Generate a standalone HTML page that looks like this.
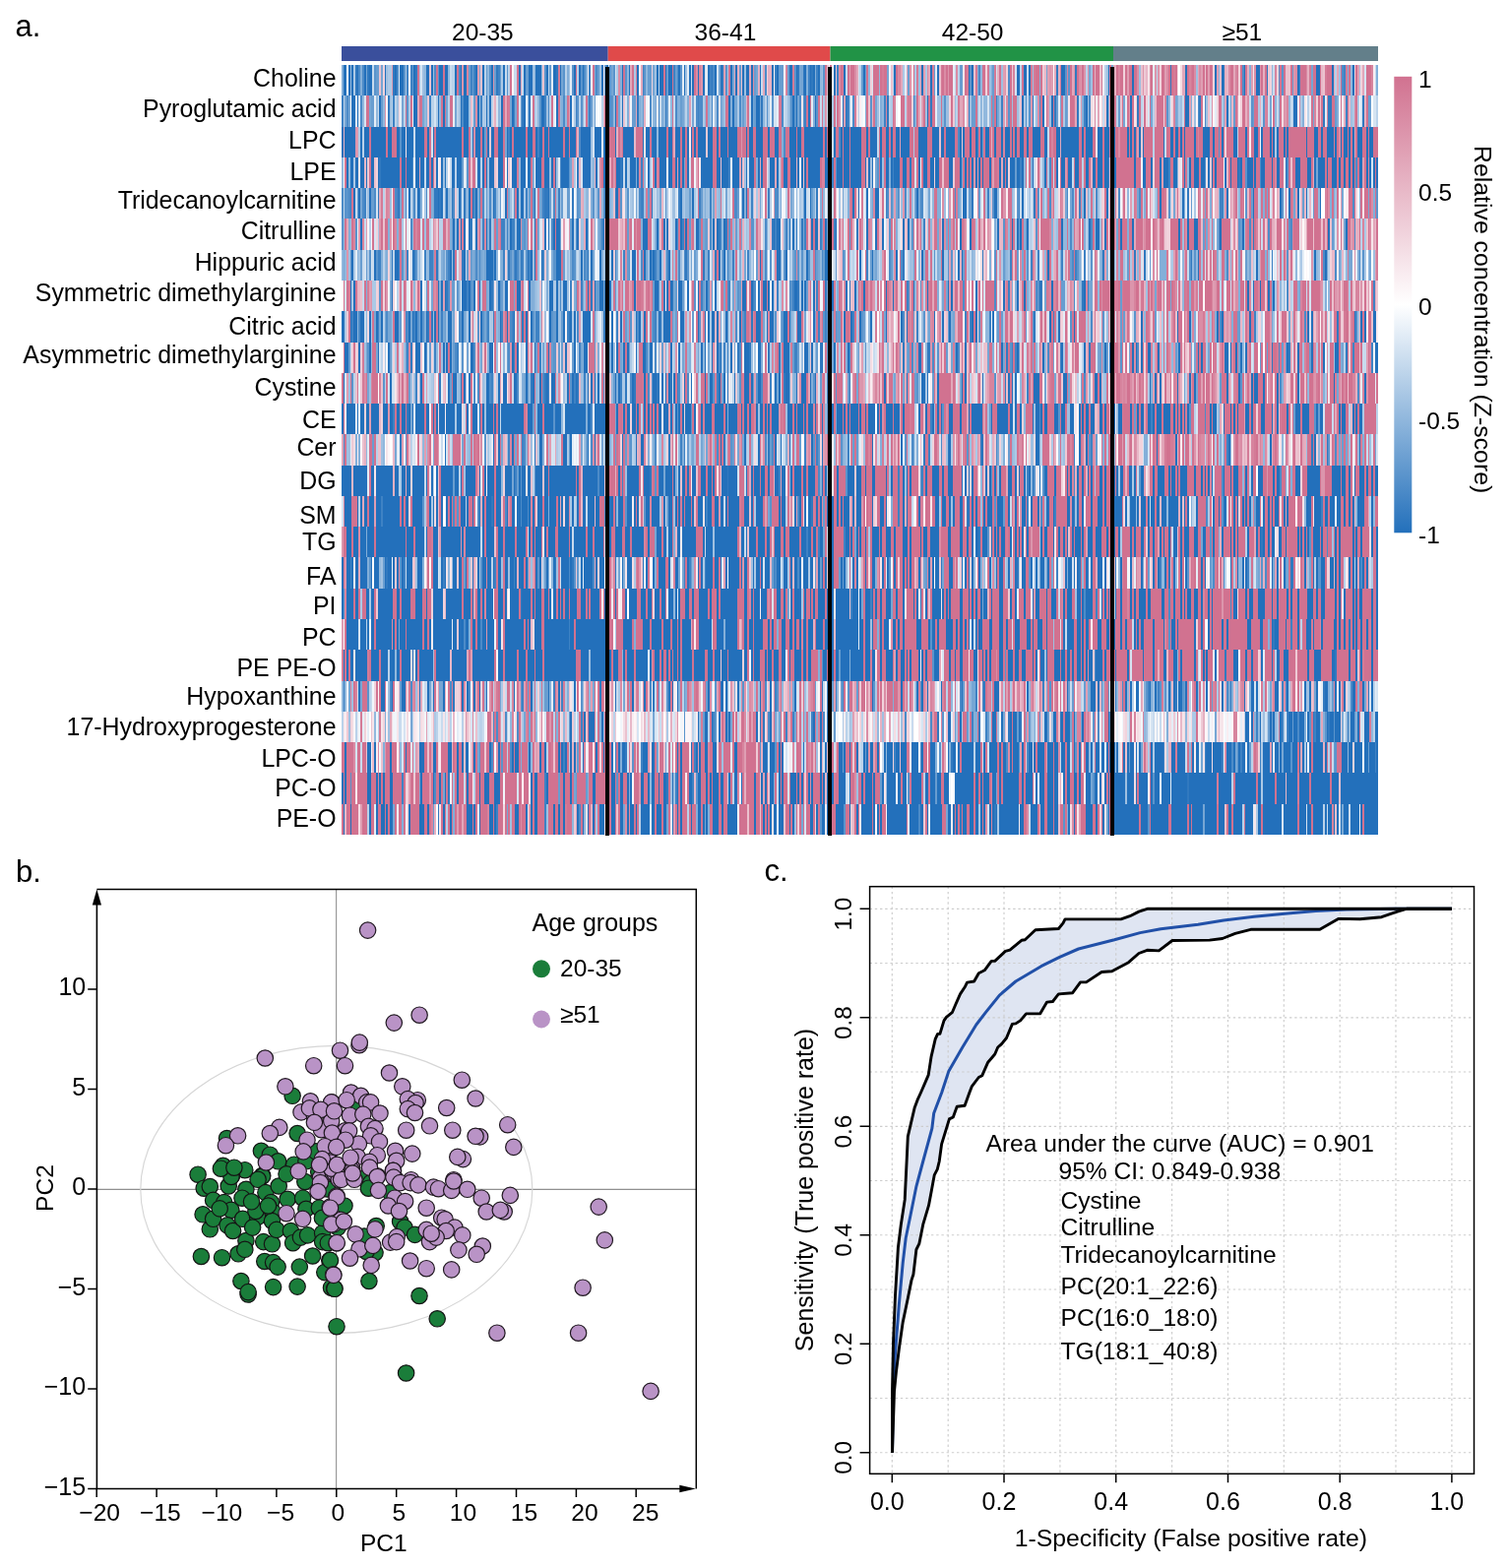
<!DOCTYPE html>
<html><head><meta charset="utf-8"><title>Figure</title>
<style>
html,body{margin:0;padding:0;background:#fff;}
body{width:1532px;height:1593px;position:relative;overflow:hidden;font-family:"Liberation Sans", Arial, Helvetica, sans-serif;}
.r{position:absolute;left:347.0px;width:1053.0px;}
.v{position:absolute;top:68px;height:781px;width:4px;background:#000;}
svg{position:absolute;left:0;top:0;}
svg text{font-family:"Liberation Sans", Arial, Helvetica, sans-serif;fill:#000;}
</style></head><body>
<div class="r" style="top:66.00px;height:31.28px;background:linear-gradient(90deg,#83afd9 0.0px 1.7px,#2370bb 1.7px 5.2px,#ffffff 5.2px 7.0px,#2370bb 7.0px 8.7px,#91b8dd 8.7px 10.5px,#2370bb 10.5px 12.2px,#acc9e6 12.2px 14.0px,#3179bf 14.0px 15.7px,#2370bb 15.7px 17.5px,#4c8bc8 17.5px 19.2px,#83afd9 19.2px 21.0px,#4c8bc8 21.0px 22.7px,#2370bb 22.7px 24.5px,#76a6d4 24.5px 26.2px,#3179bf 26.2px 27.9px,#2370bb 27.9px 31.4px,#c8dbee 31.4px 33.2px,#5a94cc 33.2px 34.9px,#689dd0 34.9px 38.4px,#ebc1ce 38.4px 40.2px,#76a6d4 40.2px 41.9px,#f1d3dc 41.9px 43.7px,#2370bb 43.7px 45.4px,#9fc0e1 45.4px 47.2px,#acc9e6 47.2px 50.6px,#df9eb3 50.6px 52.4px,#3179bf 52.4px 54.1px,#2370bb 54.1px 55.9px,#4c8bc8 55.9px 57.6px,#e4edf6 57.6px 59.4px,#2370bb 59.4px 62.9px,#5a94cc 62.9px 64.6px,#acc9e6 64.6px 66.4px,#3e82c4 66.4px 68.1px,#fcf6f8 68.1px 69.9px,#3e82c4 69.9px 71.6px,#5a94cc 71.6px 73.4px,#2370bb 73.4px 75.1px,#3179bf 75.1px 76.8px,#d17290 76.8px 78.6px,#acc9e6 78.6px 80.3px,#d6e4f2 80.3px 82.1px,#9fc0e1 82.1px 83.8px,#91b8dd 83.8px 85.6px,#2370bb 85.6px 89.1px,#ebc1ce 89.1px 90.8px,#2370bb 90.8px 92.6px,#9fc0e1 92.6px 94.3px,#4c8bc8 94.3px 96.1px,#d17290 96.1px 97.8px,#5a94cc 97.8px 99.5px,#2370bb 99.5px 103.0px,#d17290 103.0px 104.8px,#2370bb 104.8px 108.3px,#91b8dd 108.3px 110.0px,#c8dbee 110.0px 111.8px,#bad2ea 111.8px 115.3px,#2370bb 115.3px 117.0px,#d17290 117.0px 118.8px,#4c8bc8 118.8px 120.5px,#2370bb 120.5px 122.3px,#dc95ac 122.3px 124.0px,#2370bb 124.0px 127.5px,#d7849e 127.5px 129.2px,#689dd0 129.2px 131.0px,#3e82c4 131.0px 132.7px,#689dd0 132.7px 134.5px,#3e82c4 134.5px 136.2px,#2370bb 136.2px 138.0px,#df9eb3 138.0px 139.7px,#83afd9 139.7px 141.5px,#ebc1ce 141.5px 143.2px,#2370bb 143.2px 145.0px,#bad2ea 145.0px 146.7px,#689dd0 146.7px 148.4px,#91b8dd 148.4px 150.2px,#5a94cc 150.2px 151.9px,#2370bb 151.9px 153.7px,#dc95ac 153.7px 155.4px,#689dd0 155.4px 157.2px,#3179bf 157.2px 158.9px,#3e82c4 158.9px 160.7px,#689dd0 160.7px 162.4px,#acc9e6 162.4px 164.2px,#2370bb 164.2px 165.9px,#c8dbee 165.9px 167.7px,#5a94cc 167.7px 169.4px,#bad2ea 169.4px 171.2px,#d17290 171.2px 172.9px,#fcf6f8 172.9px 174.6px,#c8dbee 174.6px 178.1px,#d17290 178.1px 179.9px,#2370bb 179.9px 181.6px,#e2a7ba 181.6px 183.4px,#c8dbee 183.4px 185.1px,#2370bb 185.1px 186.9px,#689dd0 186.9px 190.4px,#2370bb 190.4px 193.9px,#9fc0e1 193.9px 195.6px,#91b8dd 195.6px 197.3px,#2370bb 197.3px 202.6px,#91b8dd 202.6px 204.3px,#ebc1ce 204.3px 206.1px,#5a94cc 206.1px 207.8px,#2370bb 207.8px 209.6px,#bad2ea 209.6px 211.3px,#689dd0 211.3px 213.1px,#e4edf6 213.1px 214.8px,#2370bb 214.8px 218.3px,#3179bf 218.3px 220.1px,#d47b97 220.1px 221.8px,#2370bb 221.8px 223.5px,#76a6d4 223.5px 225.3px,#5a94cc 225.3px 227.0px,#bad2ea 227.0px 228.8px,#83afd9 228.8px 230.5px,#9fc0e1 230.5px 232.3px,#e4edf6 232.3px 234.0px,#5a94cc 234.0px 235.8px,#2370bb 235.8px 237.5px,#d17290 237.5px 239.3px,#bad2ea 239.3px 241.0px,#2370bb 241.0px 242.8px,#5a94cc 242.8px 244.5px,#2370bb 244.5px 246.2px,#4c8bc8 246.2px 248.0px,#83afd9 248.0px 249.7px,#fcf6f8 249.7px 251.5px,#3e82c4 251.5px 253.2px,#fcf6f8 253.2px 255.0px,#d17290 255.0px 256.7px,#76a6d4 256.7px 258.5px,#4c8bc8 258.5px 260.2px,#689dd0 260.2px 262.0px,#9fc0e1 262.0px 263.7px,#2370bb 263.7px 265.5px,#f9edf1 265.5px 267.2px,#689dd0 267.2px 269.0px,#2370bb 269.0px 270.7px,#d6e4f2 270.7px 272.5px,#5a94cc 272.5px 274.2px,#76a6d4 274.2px 276.0px,#5a94cc 276.0px 277.7px,#d6e4f2 277.7px 279.5px,#acc9e6 279.5px 281.2px,#da8ca5 281.2px 283.0px,#83afd9 283.0px 284.7px,#2370bb 284.7px 286.5px,#d17290 286.5px 288.2px,#5a94cc 288.2px 290.0px,#91b8dd 290.0px 291.7px,#2370bb 291.7px 293.5px,#e2a7ba 293.5px 295.2px,#d17290 295.2px 297.0px,#acc9e6 297.0px 298.7px,#d7849e 298.7px 300.5px,#2370bb 300.5px 302.2px,#fcf6f8 302.2px 304.0px,#e2a7ba 304.0px 305.7px,#3e82c4 305.7px 307.5px,#5a94cc 307.5px 309.2px,#91b8dd 309.2px 311.0px,#689dd0 311.0px 314.5px,#f1d3dc 314.5px 316.2px,#76a6d4 316.2px 318.0px,#9fc0e1 318.0px 319.7px,#2370bb 319.7px 321.5px,#bad2ea 321.5px 323.2px,#2370bb 323.2px 326.7px,#d17290 326.7px 328.5px,#2370bb 328.5px 330.2px,#689dd0 330.2px 332.0px,#2370bb 332.0px 335.5px,#d17290 335.5px 337.2px,#3e82c4 337.2px 339.0px,#689dd0 339.0px 340.7px,#4c8bc8 340.7px 342.5px,#2370bb 342.5px 344.2px,#5a94cc 344.2px 346.0px,#e4edf6 346.0px 347.7px,#2370bb 347.7px 349.5px,#9fc0e1 349.5px 351.2px,#e4edf6 351.2px 353.0px,#2370bb 353.0px 354.7px,#c8dbee 354.7px 356.5px,#2370bb 356.5px 358.2px,#d17290 358.2px 360.0px,#da8ca5 360.0px 361.7px,#2370bb 361.7px 363.5px,#d7849e 363.5px 365.2px,#dc95ac 365.2px 367.0px,#2370bb 367.0px 368.7px,#d6e4f2 368.7px 370.5px,#e4edf6 370.5px 372.2px,#2370bb 372.2px 374.0px,#3e82c4 374.0px 375.7px,#3179bf 375.7px 377.5px,#4c8bc8 377.5px 379.2px,#2370bb 379.2px 381.0px,#d6e4f2 381.0px 382.7px,#76a6d4 382.7px 384.5px,#2370bb 384.5px 386.2px,#3179bf 386.2px 388.0px,#df9eb3 388.0px 389.7px,#5a94cc 389.7px 391.5px,#acc9e6 391.5px 393.2px,#d17290 393.2px 395.0px,#2370bb 395.0px 396.7px,#76a6d4 396.7px 398.5px,#e2a7ba 398.5px 400.2px,#2370bb 400.2px 402.0px,#e5b0c1 402.0px 403.7px,#689dd0 403.7px 405.5px,#ebc1ce 405.5px 407.2px,#2370bb 407.2px 409.0px,#9fc0e1 409.0px 410.7px,#2370bb 410.7px 414.2px,#e2a7ba 414.2px 416.0px,#2370bb 416.0px 417.7px,#da8ca5 417.7px 419.5px,#689dd0 419.5px 421.2px,#76a6d4 421.2px 423.0px,#e5b0c1 423.0px 424.7px,#2370bb 424.7px 426.5px,#c8dbee 426.5px 428.2px,#e2a7ba 428.2px 430.0px,#4c8bc8 430.0px 431.7px,#f1d3dc 431.7px 433.5px,#e5b0c1 433.5px 437.0px,#2370bb 437.0px 438.7px,#fcf6f8 438.7px 440.5px,#3e82c4 440.5px 442.2px,#2370bb 442.2px 444.0px,#689dd0 444.0px 449.2px,#ffffff 449.2px 451.0px,#d7849e 451.0px 452.7px,#689dd0 452.7px 454.5px,#2370bb 454.5px 458.0px,#d47b97 458.0px 459.7px,#5a94cc 459.7px 461.5px,#2370bb 461.5px 463.2px,#3179bf 463.2px 465.0px,#76a6d4 465.0px 468.5px,#3179bf 468.5px 470.2px,#2370bb 470.2px 472.0px,#83afd9 472.0px 473.7px,#3e82c4 473.7px 475.5px,#2370bb 475.5px 477.2px,#3179bf 477.2px 479.0px,#2370bb 479.0px 480.7px,#83afd9 480.7px 482.5px,#3e82c4 482.5px 484.2px,#2370bb 484.2px 486.0px,#91b8dd 486.0px 487.7px,#9fc0e1 487.7px 489.5px,#5a94cc 489.5px 491.2px,#d17290 491.2px 493.0px,#ebc1ce 493.0px 494.7px,#f1f6fb 494.7px 496.5px,#d17290 496.5px 498.3px,#ffffff 498.3px 500.0px,#2370bb 500.0px 501.8px,#ebc1ce 501.8px 503.5px,#3e82c4 503.5px 505.3px,#da8ca5 505.3px 507.0px,#d17290 507.0px 508.8px,#d47b97 508.8px 510.5px,#2370bb 510.5px 512.3px,#c8dbee 512.3px 514.0px,#d17290 514.0px 515.8px,#df9eb3 515.8px 517.5px,#d17290 517.5px 521.0px,#da8ca5 521.0px 522.8px,#e2a7ba 522.8px 524.5px,#d6e4f2 524.5px 526.3px,#bad2ea 526.3px 528.1px,#689dd0 528.1px 529.8px,#2370bb 529.8px 531.6px,#689dd0 531.6px 533.3px,#d17290 533.3px 535.1px,#91b8dd 535.1px 536.8px,#f1d3dc 536.8px 538.6px,#d6e4f2 538.6px 540.3px,#d17290 540.3px 545.6px,#91b8dd 545.6px 547.3px,#d17290 547.3px 549.1px,#d47b97 549.1px 550.8px,#d17290 550.8px 554.4px,#76a6d4 554.4px 556.1px,#f1f6fb 556.1px 557.9px,#ebc1ce 557.9px 559.6px,#bad2ea 559.6px 561.4px,#2370bb 561.4px 563.1px,#d17290 563.1px 564.9px,#da8ca5 564.9px 566.6px,#d7849e 566.6px 568.4px,#e2a7ba 568.4px 570.1px,#acc9e6 570.1px 571.9px,#e4edf6 571.9px 573.6px,#e2a7ba 573.6px 575.4px,#689dd0 575.4px 577.1px,#dc95ac 577.1px 578.9px,#f6e5ea 578.9px 580.6px,#d17290 580.6px 582.4px,#acc9e6 582.4px 584.2px,#d47b97 584.2px 585.9px,#9fc0e1 585.9px 587.7px,#df9eb3 587.7px 589.4px,#2370bb 589.4px 591.2px,#df9eb3 591.2px 592.9px,#acc9e6 592.9px 594.7px,#da8ca5 594.7px 596.4px,#e2a7ba 596.4px 598.2px,#2370bb 598.2px 599.9px,#d47b97 599.9px 601.7px,#689dd0 601.7px 603.4px,#e4edf6 603.4px 605.2px,#2370bb 605.2px 606.9px,#ebc1ce 606.9px 608.7px,#d47b97 608.7px 610.4px,#d17290 610.4px 612.2px,#da8ca5 612.2px 614.0px,#d17290 614.0px 615.7px,#dc95ac 615.7px 617.5px,#d17290 617.5px 621.0px,#e4edf6 621.0px 622.7px,#c8dbee 622.7px 624.5px,#da8ca5 624.5px 626.2px,#bad2ea 626.2px 628.0px,#689dd0 628.0px 631.5px,#f6e5ea 631.5px 633.2px,#d17290 633.2px 635.0px,#d47b97 635.0px 636.7px,#2370bb 636.7px 638.5px,#5a94cc 638.5px 640.2px,#2370bb 640.2px 642.0px,#ebc1ce 642.0px 643.8px,#d47b97 643.8px 645.5px,#83afd9 645.5px 647.3px,#4c8bc8 647.3px 649.0px,#91b8dd 649.0px 650.8px,#d17290 650.8px 654.3px,#f1d3dc 654.3px 656.0px,#d47b97 656.0px 657.8px,#9fc0e1 657.8px 659.5px,#83afd9 659.5px 661.3px,#689dd0 661.3px 663.0px,#d47b97 663.0px 664.8px,#d6e4f2 664.8px 666.5px,#e5b0c1 666.5px 668.3px,#d17290 668.3px 670.1px,#9fc0e1 670.1px 671.8px,#df9eb3 671.8px 673.6px,#dc95ac 673.6px 675.3px,#f1d3dc 675.3px 677.1px,#4c8bc8 677.1px 678.8px,#d17290 678.8px 680.6px,#eecad5 680.6px 682.3px,#d7849e 682.3px 684.1px,#d6e4f2 684.1px 685.8px,#2370bb 685.8px 689.3px,#bad2ea 689.3px 691.1px,#d17290 691.1px 692.8px,#2370bb 692.8px 696.3px,#c8dbee 696.3px 698.1px,#2370bb 698.1px 699.9px,#d47b97 699.9px 701.6px,#9fc0e1 701.6px 703.4px,#d47b97 703.4px 705.1px,#d17290 705.1px 708.6px,#83afd9 708.6px 710.4px,#d17290 710.4px 712.1px,#eecad5 712.1px 713.9px,#e8b8c8 713.9px 715.6px,#76a6d4 715.6px 717.4px,#df9eb3 717.4px 719.1px,#dc95ac 719.1px 720.9px,#df9eb3 720.9px 722.6px,#fcf6f8 722.6px 724.4px,#e2a7ba 724.4px 726.1px,#3179bf 726.1px 727.9px,#e5b0c1 727.9px 729.7px,#d47b97 729.7px 731.4px,#2370bb 731.4px 734.9px,#5a94cc 734.9px 736.7px,#d7849e 736.7px 738.4px,#5a94cc 738.4px 740.2px,#d17290 740.2px 741.9px,#e2a7ba 741.9px 743.7px,#dc95ac 743.7px 745.4px,#3179bf 745.4px 747.2px,#d17290 747.2px 748.9px,#da8ca5 748.9px 750.7px,#dc95ac 750.7px 752.4px,#d17290 752.4px 754.2px,#dc95ac 754.2px 756.0px,#bad2ea 756.0px 757.7px,#dc95ac 757.7px 759.5px,#76a6d4 759.5px 761.2px,#9fc0e1 761.2px 763.0px,#d17290 763.0px 764.7px,#e5b0c1 764.7px 766.5px,#d17290 766.5px 770.0px,#ebc1ce 770.0px 771.7px,#d47b97 771.7px 773.5px,#f1f6fb 773.5px 775.2px,#bad2ea 775.2px 777.0px,#9fc0e1 777.0px 778.7px,#2370bb 778.7px 780.5px,#d17290 780.5px 782.2px,#76a6d4 782.2px 784.0px,#e5b0c1 784.0px 787.5px,#d17290 787.5px 789.2px,#d7849e 789.2px 791.0px,#d17290 791.0px 794.5px,#f1d3dc 794.5px 796.2px,#d17290 796.2px 798.0px,#df9eb3 798.0px 799.7px,#d17290 799.7px 803.2px,#2370bb 803.2px 805.0px,#d17290 805.0px 808.5px,#da8ca5 808.5px 810.2px,#9fc0e1 810.2px 811.9px,#ebc1ce 811.9px 813.7px,#dc95ac 813.7px 815.4px,#eecad5 815.4px 817.2px,#e8b8c8 817.2px 818.9px,#f6e5ea 818.9px 820.7px,#da8ca5 820.7px 822.4px,#d17290 822.4px 824.2px,#e4edf6 824.2px 825.9px,#dc95ac 825.9px 827.7px,#bad2ea 827.7px 829.4px,#dc95ac 829.4px 831.2px,#f1d3dc 831.2px 832.9px,#d17290 832.9px 836.4px,#df9eb3 836.4px 838.1px,#da8ca5 838.1px 839.9px,#d17290 839.9px 841.6px,#3179bf 841.6px 843.4px,#d17290 843.4px 845.1px,#d47b97 845.1px 846.9px,#d17290 846.9px 848.6px,#f4dce3 848.6px 850.4px,#ffffff 850.4px 852.1px,#f4dce3 852.1px 853.9px,#e2a7ba 853.9px 857.4px,#2370bb 857.4px 859.1px,#d17290 859.1px 860.9px,#d7849e 860.9px 862.6px,#d47b97 862.6px 864.4px,#d17290 864.4px 866.1px,#da8ca5 866.1px 867.8px,#9fc0e1 867.8px 869.6px,#e2a7ba 869.6px 871.3px,#da8ca5 871.3px 873.1px,#df9eb3 873.1px 874.8px,#d17290 874.8px 876.6px,#ebc1ce 876.6px 878.3px,#d17290 878.3px 880.1px,#df9eb3 880.1px 881.8px,#d17290 881.8px 883.6px,#d47b97 883.6px 885.3px,#f1d3dc 885.3px 887.1px,#2370bb 887.1px 888.8px,#df9eb3 888.8px 890.6px,#91b8dd 890.6px 892.3px,#ebc1ce 892.3px 894.0px,#2370bb 894.0px 895.8px,#3179bf 895.8px 897.5px,#e5b0c1 897.5px 899.3px,#e8b8c8 899.3px 901.0px,#da8ca5 901.0px 902.8px,#d17290 902.8px 906.3px,#e2a7ba 906.3px 908.0px,#d7849e 908.0px 909.8px,#d47b97 909.8px 911.5px,#f1d3dc 911.5px 913.3px,#d17290 913.3px 915.0px,#4c8bc8 915.0px 916.8px,#2370bb 916.8px 918.5px,#d17290 918.5px 920.2px,#e5b0c1 920.2px 922.0px,#83afd9 922.0px 923.7px,#df9eb3 923.7px 925.5px,#f6e5ea 925.5px 927.2px,#da8ca5 927.2px 929.0px,#2370bb 929.0px 932.5px,#dc95ac 932.5px 934.2px,#d17290 934.2px 936.0px,#e5b0c1 936.0px 937.7px,#d17290 937.7px 939.5px,#3179bf 939.5px 941.2px,#eecad5 941.2px 943.0px,#f1d3dc 943.0px 944.7px,#91b8dd 944.7px 946.4px,#c8dbee 946.4px 948.2px,#d7849e 948.2px 949.9px,#f1d3dc 949.9px 951.7px,#5a94cc 951.7px 953.4px,#d17290 953.4px 955.2px,#5a94cc 955.2px 956.9px,#d17290 956.9px 958.7px,#ebc1ce 958.7px 963.9px,#d17290 963.9px 965.7px,#689dd0 965.7px 967.4px,#dc95ac 967.4px 969.2px,#da8ca5 969.2px 970.9px,#2370bb 970.9px 972.6px,#3e82c4 972.6px 974.4px,#d17290 974.4px 979.6px,#da8ca5 979.6px 981.4px,#e5b0c1 981.4px 983.1px,#d47b97 983.1px 984.9px,#76a6d4 984.9px 986.6px,#d17290 986.6px 990.1px,#2370bb 990.1px 993.6px,#d17290 993.6px 995.4px,#e8b8c8 995.4px 997.1px,#ebc1ce 997.1px 998.9px,#d47b97 998.9px 1000.6px,#d17290 1000.6px 1005.8px,#2370bb 1005.8px 1007.6px,#e2a7ba 1007.6px 1009.3px,#bad2ea 1009.3px 1011.1px,#e2a7ba 1011.1px 1012.8px,#9fc0e1 1012.8px 1014.6px,#d17290 1014.6px 1016.3px,#4c8bc8 1016.3px 1018.1px,#3e82c4 1018.1px 1019.8px,#d47b97 1019.8px 1021.6px,#83afd9 1021.6px 1023.3px,#d17290 1023.3px 1025.1px,#91b8dd 1025.1px 1026.8px,#2370bb 1026.8px 1028.5px,#f1d3dc 1028.5px 1030.3px,#d17290 1030.3px 1032.0px,#df9eb3 1032.0px 1033.8px,#acc9e6 1033.8px 1035.5px,#f1d3dc 1035.5px 1037.3px,#e2a7ba 1037.3px 1039.0px,#d6e4f2 1039.0px 1040.8px,#d17290 1040.8px 1046.0px,#d7849e 1046.0px 1047.8px,#f9edf1 1047.8px 1049.5px,#c8dbee 1049.5px 1051.3px,#83afd9 1051.3px 1053.0px)"></div><div class="r" style="top:97.28px;height:31.28px;background:linear-gradient(90deg,#3e82c4 0.0px 1.7px,#bad2ea 1.7px 3.5px,#76a6d4 3.5px 5.2px,#4c8bc8 5.2px 7.0px,#76a6d4 7.0px 8.7px,#ffffff 8.7px 10.5px,#2370bb 10.5px 14.0px,#e4edf6 14.0px 15.7px,#2370bb 15.7px 17.5px,#d6e4f2 17.5px 19.2px,#4c8bc8 19.2px 21.0px,#91b8dd 21.0px 22.7px,#d6e4f2 22.7px 24.5px,#d17290 24.5px 27.9px,#76a6d4 27.9px 29.7px,#689dd0 29.7px 33.2px,#e4edf6 33.2px 34.9px,#91b8dd 34.9px 36.7px,#c8dbee 36.7px 38.4px,#2370bb 38.4px 40.2px,#689dd0 40.2px 41.9px,#91b8dd 41.9px 43.7px,#dc95ac 43.7px 45.4px,#fcf6f8 45.4px 47.2px,#3179bf 47.2px 48.9px,#9fc0e1 48.9px 50.6px,#bad2ea 50.6px 52.4px,#3e82c4 52.4px 54.1px,#bad2ea 54.1px 55.9px,#9fc0e1 55.9px 57.6px,#f1d3dc 57.6px 59.4px,#e4edf6 59.4px 61.1px,#76a6d4 61.1px 62.9px,#bad2ea 62.9px 64.6px,#d17290 64.6px 66.4px,#5a94cc 66.4px 68.1px,#acc9e6 68.1px 69.9px,#d17290 69.9px 71.6px,#f1f6fb 71.6px 73.4px,#2370bb 73.4px 76.8px,#e2a7ba 76.8px 78.6px,#d17290 78.6px 82.1px,#76a6d4 82.1px 83.8px,#91b8dd 83.8px 85.6px,#83afd9 85.6px 87.3px,#eecad5 87.3px 89.1px,#3e82c4 89.1px 90.8px,#bad2ea 90.8px 94.3px,#d6e4f2 94.3px 96.1px,#acc9e6 96.1px 97.8px,#2370bb 97.8px 99.5px,#91b8dd 99.5px 101.3px,#d17290 101.3px 103.0px,#2370bb 103.0px 104.8px,#d17290 104.8px 106.5px,#76a6d4 106.5px 108.3px,#bad2ea 108.3px 110.0px,#d17290 110.0px 113.5px,#e4edf6 113.5px 115.3px,#76a6d4 115.3px 117.0px,#bad2ea 117.0px 118.8px,#9fc0e1 118.8px 120.5px,#2370bb 120.5px 122.3px,#4c8bc8 122.3px 124.0px,#2370bb 124.0px 129.2px,#9fc0e1 129.2px 131.0px,#ebc1ce 131.0px 132.7px,#c8dbee 132.7px 134.5px,#689dd0 134.5px 136.2px,#da8ca5 136.2px 138.0px,#2370bb 138.0px 139.7px,#91b8dd 139.7px 141.5px,#3e82c4 141.5px 143.2px,#acc9e6 143.2px 146.7px,#2370bb 146.7px 148.4px,#9fc0e1 148.4px 150.2px,#2370bb 150.2px 151.9px,#bad2ea 151.9px 153.7px,#f1d3dc 153.7px 155.4px,#e5b0c1 155.4px 157.2px,#d6e4f2 157.2px 158.9px,#91b8dd 158.9px 160.7px,#acc9e6 160.7px 162.4px,#2370bb 162.4px 164.2px,#d17290 164.2px 165.9px,#e2a7ba 165.9px 167.7px,#d17290 167.7px 169.4px,#d47b97 169.4px 171.2px,#76a6d4 171.2px 172.9px,#2370bb 172.9px 174.6px,#3e82c4 174.6px 176.4px,#76a6d4 176.4px 178.1px,#d17290 178.1px 179.9px,#d6e4f2 179.9px 181.6px,#689dd0 181.6px 183.4px,#3179bf 183.4px 185.1px,#2370bb 185.1px 186.9px,#f1f6fb 186.9px 188.6px,#91b8dd 188.6px 190.4px,#3179bf 190.4px 192.1px,#e4edf6 192.1px 193.9px,#d17290 193.9px 195.6px,#acc9e6 195.6px 197.3px,#bad2ea 197.3px 199.1px,#91b8dd 199.1px 200.8px,#5a94cc 200.8px 202.6px,#2370bb 202.6px 206.1px,#3e82c4 206.1px 207.8px,#9fc0e1 207.8px 209.6px,#4c8bc8 209.6px 211.3px,#bad2ea 211.3px 213.1px,#d17290 213.1px 214.8px,#e4edf6 214.8px 216.6px,#f1f6fb 216.6px 218.3px,#2370bb 218.3px 220.1px,#d17290 220.1px 221.8px,#91b8dd 221.8px 223.5px,#83afd9 223.5px 225.3px,#4c8bc8 225.3px 227.0px,#91b8dd 227.0px 228.8px,#d17290 228.8px 230.5px,#df9eb3 230.5px 232.3px,#2370bb 232.3px 234.0px,#e4edf6 234.0px 235.8px,#acc9e6 235.8px 237.5px,#3e82c4 237.5px 239.3px,#5a94cc 239.3px 241.0px,#bad2ea 241.0px 242.8px,#5a94cc 242.8px 244.5px,#91b8dd 244.5px 246.2px,#c8dbee 246.2px 248.0px,#d17290 248.0px 249.7px,#76a6d4 249.7px 251.5px,#3e82c4 251.5px 253.2px,#689dd0 253.2px 255.0px,#bad2ea 255.0px 256.7px,#76a6d4 256.7px 258.5px,#f1f6fb 258.5px 260.2px,#ffffff 260.2px 262.0px,#f1f6fb 262.0px 263.7px,#bad2ea 263.7px 265.5px,#e8b8c8 265.5px 267.2px,#d17290 267.2px 269.0px,#bad2ea 269.0px 270.7px,#df9eb3 270.7px 272.5px,#4c8bc8 272.5px 274.2px,#5a94cc 274.2px 276.0px,#91b8dd 276.0px 277.7px,#2370bb 277.7px 279.5px,#d17290 279.5px 281.2px,#76a6d4 281.2px 283.0px,#bad2ea 283.0px 284.7px,#2370bb 284.7px 286.5px,#ebc1ce 286.5px 288.2px,#d6e4f2 288.2px 290.0px,#83afd9 290.0px 291.7px,#e8b8c8 291.7px 293.5px,#f1f6fb 293.5px 295.2px,#689dd0 295.2px 298.7px,#e2a7ba 298.7px 300.5px,#3179bf 300.5px 302.2px,#83afd9 302.2px 304.0px,#91b8dd 304.0px 305.7px,#689dd0 305.7px 307.5px,#e5b0c1 307.5px 309.2px,#f1f6fb 309.2px 311.0px,#ffffff 311.0px 312.7px,#4c8bc8 312.7px 314.5px,#e4edf6 314.5px 316.2px,#91b8dd 316.2px 318.0px,#83afd9 318.0px 319.7px,#f9edf1 319.7px 321.5px,#3e82c4 321.5px 323.2px,#c8dbee 323.2px 325.0px,#83afd9 325.0px 326.7px,#91b8dd 326.7px 328.5px,#3179bf 328.5px 330.2px,#689dd0 330.2px 332.0px,#e4edf6 332.0px 333.7px,#91b8dd 333.7px 335.5px,#d17290 335.5px 337.2px,#c8dbee 337.2px 339.0px,#4c8bc8 339.0px 340.7px,#83afd9 340.7px 344.2px,#689dd0 344.2px 346.0px,#76a6d4 346.0px 347.7px,#91b8dd 347.7px 349.5px,#bad2ea 349.5px 351.2px,#83afd9 351.2px 353.0px,#df9eb3 353.0px 354.7px,#d6e4f2 354.7px 356.5px,#76a6d4 356.5px 358.2px,#d6e4f2 358.2px 360.0px,#4c8bc8 360.0px 361.7px,#3e82c4 361.7px 363.5px,#4c8bc8 363.5px 367.0px,#acc9e6 367.0px 368.7px,#91b8dd 368.7px 370.5px,#d17290 370.5px 372.2px,#83afd9 372.2px 374.0px,#9fc0e1 374.0px 375.7px,#4c8bc8 375.7px 377.5px,#e4edf6 377.5px 379.2px,#9fc0e1 379.2px 381.0px,#4c8bc8 381.0px 382.7px,#f6e5ea 382.7px 384.5px,#689dd0 384.5px 386.2px,#83afd9 386.2px 388.0px,#9fc0e1 388.0px 389.7px,#d17290 389.7px 393.2px,#2370bb 393.2px 395.0px,#83afd9 395.0px 396.7px,#2370bb 396.7px 398.5px,#76a6d4 398.5px 402.0px,#acc9e6 402.0px 403.7px,#4c8bc8 403.7px 405.5px,#91b8dd 405.5px 407.2px,#689dd0 407.2px 409.0px,#83afd9 409.0px 410.7px,#e5b0c1 410.7px 412.5px,#d17290 412.5px 414.2px,#c8dbee 414.2px 416.0px,#2370bb 416.0px 417.7px,#76a6d4 417.7px 419.5px,#689dd0 419.5px 421.2px,#2370bb 421.2px 424.7px,#76a6d4 424.7px 426.5px,#3179bf 426.5px 428.2px,#91b8dd 428.2px 430.0px,#bad2ea 430.0px 431.7px,#5a94cc 431.7px 433.5px,#acc9e6 433.5px 435.2px,#e4edf6 435.2px 437.0px,#5a94cc 437.0px 438.7px,#d6e4f2 438.7px 442.2px,#e4edf6 442.2px 444.0px,#d47b97 444.0px 445.7px,#d17290 445.7px 447.5px,#4c8bc8 447.5px 449.2px,#c8dbee 449.2px 451.0px,#bad2ea 451.0px 452.7px,#9fc0e1 452.7px 454.5px,#83afd9 454.5px 456.2px,#5a94cc 456.2px 458.0px,#2370bb 458.0px 459.7px,#5a94cc 459.7px 461.5px,#2370bb 461.5px 463.2px,#76a6d4 463.2px 465.0px,#4c8bc8 465.0px 466.7px,#f6e5ea 466.7px 468.5px,#5a94cc 468.5px 470.2px,#3e82c4 470.2px 472.0px,#d17290 472.0px 473.7px,#2370bb 473.7px 475.5px,#d17290 475.5px 477.2px,#e4edf6 477.2px 479.0px,#83afd9 479.0px 480.7px,#2370bb 480.7px 482.5px,#5a94cc 482.5px 484.2px,#d17290 484.2px 486.0px,#c8dbee 486.0px 487.7px,#d17290 487.7px 489.5px,#acc9e6 489.5px 491.2px,#dc95ac 491.2px 493.0px,#d6e4f2 493.0px 494.7px,#3e82c4 494.7px 496.5px,#689dd0 496.5px 498.3px,#acc9e6 498.3px 500.0px,#d17290 500.0px 501.8px,#c8dbee 501.8px 503.5px,#d17290 503.5px 505.3px,#dc95ac 505.3px 507.0px,#f1f6fb 507.0px 508.8px,#2370bb 508.8px 510.5px,#df9eb3 510.5px 512.3px,#3179bf 512.3px 514.0px,#3e82c4 514.0px 515.8px,#bad2ea 515.8px 517.5px,#e4edf6 517.5px 519.3px,#4c8bc8 519.3px 521.0px,#d47b97 521.0px 522.8px,#f4dce3 522.8px 524.5px,#bad2ea 524.5px 526.3px,#f9edf1 526.3px 528.1px,#f1f6fb 528.1px 529.8px,#ffffff 529.8px 531.6px,#83afd9 531.6px 533.3px,#d17290 533.3px 535.1px,#ebc1ce 535.1px 536.8px,#5a94cc 536.8px 538.6px,#e5b0c1 538.6px 540.3px,#d17290 540.3px 542.1px,#76a6d4 542.1px 543.8px,#9fc0e1 543.8px 545.6px,#d6e4f2 545.6px 547.3px,#83afd9 547.3px 549.1px,#91b8dd 549.1px 550.8px,#3e82c4 550.8px 552.6px,#d7849e 552.6px 554.4px,#3179bf 554.4px 556.1px,#bad2ea 556.1px 557.9px,#acc9e6 557.9px 559.6px,#d17290 559.6px 561.4px,#d7849e 561.4px 563.1px,#f1f6fb 563.1px 564.9px,#ffffff 564.9px 568.4px,#d17290 568.4px 571.9px,#bad2ea 571.9px 573.6px,#dc95ac 573.6px 575.4px,#d47b97 575.4px 578.9px,#f1d3dc 578.9px 580.6px,#3e82c4 580.6px 582.4px,#83afd9 582.4px 584.2px,#d17290 584.2px 585.9px,#e2a7ba 585.9px 587.7px,#d6e4f2 587.7px 589.4px,#df9eb3 589.4px 591.2px,#d17290 591.2px 592.9px,#9fc0e1 592.9px 594.7px,#2370bb 594.7px 596.4px,#d17290 596.4px 598.2px,#3179bf 598.2px 599.9px,#d17290 599.9px 603.4px,#e4edf6 603.4px 605.2px,#9fc0e1 605.2px 608.7px,#d17290 608.7px 610.4px,#91b8dd 610.4px 612.2px,#5a94cc 612.2px 614.0px,#9fc0e1 614.0px 617.5px,#f1d3dc 617.5px 619.2px,#d17290 619.2px 621.0px,#eecad5 621.0px 622.7px,#9fc0e1 622.7px 624.5px,#bad2ea 624.5px 626.2px,#d47b97 626.2px 628.0px,#e2a7ba 628.0px 631.5px,#da8ca5 631.5px 633.2px,#f1f6fb 633.2px 635.0px,#e5b0c1 635.0px 636.7px,#3179bf 636.7px 638.5px,#9fc0e1 638.5px 640.2px,#689dd0 640.2px 643.8px,#d17290 643.8px 645.5px,#9fc0e1 645.5px 647.3px,#c8dbee 647.3px 649.0px,#91b8dd 649.0px 650.8px,#d6e4f2 650.8px 652.5px,#91b8dd 652.5px 656.0px,#d6e4f2 656.0px 657.8px,#91b8dd 657.8px 659.5px,#d17290 659.5px 661.3px,#689dd0 661.3px 663.0px,#d17290 663.0px 664.8px,#3e82c4 664.8px 666.5px,#76a6d4 666.5px 668.3px,#9fc0e1 668.3px 670.1px,#3e82c4 670.1px 671.8px,#df9eb3 671.8px 673.6px,#d6e4f2 673.6px 675.3px,#da8ca5 675.3px 677.1px,#5a94cc 677.1px 678.8px,#d17290 678.8px 680.6px,#9fc0e1 680.6px 682.3px,#d17290 682.3px 685.8px,#9fc0e1 685.8px 687.6px,#bad2ea 687.6px 689.3px,#ebc1ce 689.3px 691.1px,#2370bb 691.1px 692.8px,#acc9e6 692.8px 694.6px,#5a94cc 694.6px 696.3px,#bad2ea 696.3px 698.1px,#5a94cc 698.1px 699.9px,#dc95ac 699.9px 701.6px,#3179bf 701.6px 703.4px,#d6e4f2 703.4px 705.1px,#9fc0e1 705.1px 706.9px,#da8ca5 706.9px 708.6px,#4c8bc8 708.6px 710.4px,#d17290 710.4px 712.1px,#2370bb 712.1px 713.9px,#f1f6fb 713.9px 715.6px,#d17290 715.6px 717.4px,#dc95ac 717.4px 719.1px,#9fc0e1 719.1px 720.9px,#2370bb 720.9px 722.6px,#d17290 722.6px 724.4px,#3179bf 724.4px 726.1px,#689dd0 726.1px 727.9px,#e4edf6 727.9px 729.7px,#76a6d4 729.7px 731.4px,#d17290 731.4px 733.2px,#acc9e6 733.2px 734.9px,#689dd0 734.9px 736.7px,#76a6d4 736.7px 738.4px,#f6e5ea 738.4px 740.2px,#d17290 740.2px 743.7px,#d47b97 743.7px 745.4px,#e2a7ba 745.4px 747.2px,#3179bf 747.2px 748.9px,#c8dbee 748.9px 750.7px,#df9eb3 750.7px 752.4px,#83afd9 752.4px 754.2px,#3e82c4 754.2px 756.0px,#2370bb 756.0px 757.7px,#9fc0e1 757.7px 759.5px,#4c8bc8 759.5px 761.2px,#f4dce3 761.2px 763.0px,#f6e5ea 763.0px 764.7px,#da8ca5 764.7px 766.5px,#f1f6fb 766.5px 768.2px,#e2a7ba 768.2px 770.0px,#ffffff 770.0px 771.7px,#f1d3dc 771.7px 773.5px,#c8dbee 773.5px 775.2px,#eecad5 775.2px 777.0px,#2370bb 777.0px 778.7px,#91b8dd 778.7px 780.5px,#da8ca5 780.5px 782.2px,#d6e4f2 782.2px 784.0px,#d47b97 784.0px 785.7px,#d17290 785.7px 787.5px,#bad2ea 787.5px 789.2px,#689dd0 789.2px 791.0px,#ebc1ce 791.0px 792.7px,#d17290 792.7px 794.5px,#76a6d4 794.5px 796.2px,#e4edf6 796.2px 798.0px,#d17290 798.0px 799.7px,#dc95ac 799.7px 801.5px,#2370bb 801.5px 803.2px,#d17290 803.2px 805.0px,#f6e5ea 805.0px 806.7px,#f1d3dc 806.7px 808.5px,#3179bf 808.5px 810.2px,#d17290 810.2px 811.9px,#bad2ea 811.9px 813.7px,#d6e4f2 813.7px 815.4px,#d17290 815.4px 817.2px,#f1d3dc 817.2px 818.9px,#d6e4f2 818.9px 820.7px,#d17290 820.7px 822.4px,#76a6d4 822.4px 824.2px,#bad2ea 824.2px 825.9px,#e8b8c8 825.9px 827.7px,#d17290 827.7px 834.7px,#f1d3dc 834.7px 836.4px,#d7849e 836.4px 838.1px,#5a94cc 838.1px 839.9px,#91b8dd 839.9px 841.6px,#e4edf6 841.6px 843.4px,#f1d3dc 843.4px 845.1px,#d7849e 845.1px 846.9px,#76a6d4 846.9px 848.6px,#83afd9 848.6px 850.4px,#acc9e6 850.4px 852.1px,#9fc0e1 852.1px 853.9px,#c8dbee 853.9px 855.6px,#d17290 855.6px 857.4px,#2370bb 857.4px 860.9px,#df9eb3 860.9px 862.6px,#83afd9 862.6px 864.4px,#f4dce3 864.4px 866.1px,#9fc0e1 866.1px 867.8px,#fcf6f8 867.8px 869.6px,#4c8bc8 869.6px 871.3px,#3179bf 871.3px 873.1px,#d17290 873.1px 874.8px,#fcf6f8 874.8px 876.6px,#4c8bc8 876.6px 878.3px,#9fc0e1 878.3px 880.1px,#ebc1ce 880.1px 881.8px,#d6e4f2 881.8px 883.6px,#dc95ac 883.6px 885.3px,#fcf6f8 885.3px 887.1px,#e4edf6 887.1px 888.8px,#f1d3dc 888.8px 890.6px,#d17290 890.6px 894.0px,#acc9e6 894.0px 895.8px,#83afd9 895.8px 897.5px,#df9eb3 897.5px 899.3px,#2370bb 899.3px 901.0px,#bad2ea 901.0px 902.8px,#76a6d4 902.8px 904.5px,#e8b8c8 904.5px 906.3px,#689dd0 906.3px 908.0px,#d17290 908.0px 909.8px,#df9eb3 909.8px 911.5px,#f9edf1 911.5px 913.3px,#f1d3dc 913.3px 915.0px,#d17290 915.0px 918.5px,#e5b0c1 918.5px 920.2px,#da8ca5 920.2px 922.0px,#c8dbee 922.0px 923.7px,#5a94cc 923.7px 925.5px,#689dd0 925.5px 927.2px,#d17290 927.2px 930.7px,#acc9e6 930.7px 932.5px,#e5b0c1 932.5px 934.2px,#c8dbee 934.2px 936.0px,#5a94cc 936.0px 937.7px,#d7849e 937.7px 939.5px,#d47b97 939.5px 941.2px,#c8dbee 941.2px 943.0px,#76a6d4 943.0px 944.7px,#ffffff 944.7px 946.4px,#d17290 946.4px 948.2px,#91b8dd 948.2px 949.9px,#c8dbee 949.9px 951.7px,#83afd9 951.7px 953.4px,#d17290 953.4px 955.2px,#f4dce3 955.2px 956.9px,#dc95ac 956.9px 958.7px,#df9eb3 958.7px 960.4px,#d7849e 960.4px 962.2px,#91b8dd 962.2px 963.9px,#c8dbee 963.9px 965.7px,#bad2ea 965.7px 967.4px,#2370bb 967.4px 970.9px,#f9edf1 970.9px 972.6px,#da8ca5 972.6px 974.4px,#acc9e6 974.4px 976.1px,#83afd9 976.1px 977.9px,#f6e5ea 977.9px 979.6px,#fcf6f8 979.6px 981.4px,#bad2ea 981.4px 983.1px,#e4edf6 983.1px 984.9px,#d17290 984.9px 986.6px,#76a6d4 986.6px 988.4px,#d7849e 988.4px 990.1px,#f1d3dc 990.1px 991.9px,#d17290 991.9px 993.6px,#ebc1ce 993.6px 995.4px,#d17290 995.4px 997.1px,#3179bf 997.1px 998.9px,#e4edf6 998.9px 1000.6px,#d7849e 1000.6px 1002.3px,#3179bf 1002.3px 1005.8px,#d17290 1005.8px 1009.3px,#689dd0 1009.3px 1011.1px,#83afd9 1011.1px 1012.8px,#fcf6f8 1012.8px 1014.6px,#d17290 1014.6px 1016.3px,#f1f6fb 1016.3px 1018.1px,#e5b0c1 1018.1px 1019.8px,#3e82c4 1019.8px 1021.6px,#d17290 1021.6px 1023.3px,#e8b8c8 1023.3px 1025.1px,#9fc0e1 1025.1px 1026.8px,#acc9e6 1026.8px 1028.5px,#da8ca5 1028.5px 1030.3px,#d17290 1030.3px 1032.0px,#acc9e6 1032.0px 1033.8px,#ffffff 1033.8px 1035.5px,#d6e4f2 1035.5px 1037.3px,#3179bf 1037.3px 1039.0px,#e5b0c1 1039.0px 1040.8px,#d17290 1040.8px 1042.5px,#689dd0 1042.5px 1046.0px,#ffffff 1046.0px 1047.8px,#d6e4f2 1047.8px 1051.3px,#bad2ea 1051.3px 1053.0px)"></div><div class="r" style="top:128.56px;height:31.28px;background:linear-gradient(90deg,#2370bb 0.0px 1.7px,#e5b0c1 1.7px 3.5px,#2370bb 3.5px 14.0px,#dc95ac 14.0px 15.7px,#df9eb3 15.7px 17.5px,#acc9e6 17.5px 19.2px,#2370bb 19.2px 21.0px,#bad2ea 21.0px 22.7px,#2370bb 22.7px 27.9px,#d17290 27.9px 29.7px,#2370bb 29.7px 45.4px,#d17290 45.4px 47.2px,#2370bb 47.2px 50.6px,#d17290 50.6px 55.9px,#2370bb 55.9px 59.4px,#5a94cc 59.4px 61.1px,#2370bb 61.1px 64.6px,#f6e5ea 64.6px 66.4px,#2370bb 66.4px 73.4px,#c8dbee 73.4px 75.1px,#2370bb 75.1px 83.8px,#d17290 83.8px 87.3px,#2370bb 87.3px 89.1px,#d17290 89.1px 90.8px,#d6e4f2 90.8px 92.6px,#2370bb 92.6px 94.3px,#d17290 94.3px 96.1px,#2370bb 96.1px 122.3px,#d17290 122.3px 124.0px,#2370bb 124.0px 129.2px,#d17290 129.2px 131.0px,#acc9e6 131.0px 132.7px,#2370bb 132.7px 134.5px,#da8ca5 134.5px 136.2px,#2370bb 136.2px 141.5px,#d17290 141.5px 143.2px,#2370bb 143.2px 145.0px,#689dd0 145.0px 146.7px,#d17290 146.7px 148.4px,#2370bb 148.4px 150.2px,#eecad5 150.2px 151.9px,#2370bb 151.9px 155.4px,#d17290 155.4px 158.9px,#2370bb 158.9px 164.2px,#d17290 164.2px 165.9px,#76a6d4 165.9px 167.7px,#2370bb 167.7px 169.4px,#3e82c4 169.4px 171.2px,#2370bb 171.2px 172.9px,#d17290 172.9px 174.6px,#2370bb 174.6px 186.9px,#d17290 186.9px 188.6px,#2370bb 188.6px 193.9px,#d17290 193.9px 197.3px,#2370bb 197.3px 199.1px,#3e82c4 199.1px 200.8px,#2370bb 200.8px 204.3px,#d17290 204.3px 206.1px,#2370bb 206.1px 209.6px,#d17290 209.6px 211.3px,#2370bb 211.3px 225.3px,#d17290 225.3px 227.0px,#2370bb 227.0px 230.5px,#d17290 230.5px 232.3px,#2370bb 232.3px 237.5px,#d17290 237.5px 239.3px,#e5b0c1 239.3px 241.0px,#4c8bc8 241.0px 242.8px,#2370bb 242.8px 253.2px,#9fc0e1 253.2px 255.0px,#d6e4f2 255.0px 256.7px,#2370bb 256.7px 263.7px,#f1f6fb 263.7px 265.5px,#2370bb 265.5px 270.7px,#d17290 270.7px 277.7px,#2370bb 277.7px 279.5px,#e5b0c1 279.5px 281.2px,#d17290 281.2px 283.0px,#da8ca5 283.0px 284.7px,#d17290 284.7px 286.5px,#2370bb 286.5px 297.0px,#e8b8c8 297.0px 298.7px,#d17290 298.7px 305.7px,#2370bb 305.7px 307.5px,#f6e5ea 307.5px 309.2px,#2370bb 309.2px 312.7px,#d17290 312.7px 314.5px,#3179bf 314.5px 316.2px,#2370bb 316.2px 319.7px,#91b8dd 319.7px 321.5px,#2370bb 321.5px 330.2px,#d17290 330.2px 332.0px,#2370bb 332.0px 335.5px,#d17290 335.5px 337.2px,#e2a7ba 337.2px 339.0px,#2370bb 339.0px 344.2px,#d17290 344.2px 346.0px,#2370bb 346.0px 349.5px,#d17290 349.5px 351.2px,#2370bb 351.2px 353.0px,#f9edf1 353.0px 354.7px,#2370bb 354.7px 356.5px,#d17290 356.5px 358.2px,#2370bb 358.2px 360.0px,#d17290 360.0px 361.7px,#2370bb 361.7px 370.5px,#eecad5 370.5px 372.2px,#2370bb 372.2px 377.5px,#d17290 377.5px 381.0px,#2370bb 381.0px 382.7px,#d17290 382.7px 384.5px,#2370bb 384.5px 391.5px,#d17290 391.5px 393.2px,#2370bb 393.2px 402.0px,#d17290 402.0px 405.5px,#dc95ac 405.5px 407.2px,#d17290 407.2px 410.7px,#2370bb 410.7px 412.5px,#d17290 412.5px 414.2px,#2370bb 414.2px 417.7px,#d17290 417.7px 421.2px,#2370bb 421.2px 428.2px,#d17290 428.2px 433.5px,#2370bb 433.5px 435.2px,#d17290 435.2px 440.5px,#2370bb 440.5px 444.0px,#d17290 444.0px 447.5px,#83afd9 447.5px 449.2px,#4c8bc8 449.2px 451.0px,#d17290 451.0px 454.5px,#2370bb 454.5px 461.5px,#d17290 461.5px 463.2px,#2370bb 463.2px 466.7px,#d17290 466.7px 470.2px,#2370bb 470.2px 489.5px,#d17290 489.5px 491.2px,#2370bb 491.2px 493.0px,#d17290 493.0px 496.5px,#2370bb 496.5px 498.3px,#c8dbee 498.3px 500.0px,#2370bb 500.0px 501.8px,#d17290 501.8px 505.3px,#4c8bc8 505.3px 507.0px,#2370bb 507.0px 508.8px,#d17290 508.8px 510.5px,#2370bb 510.5px 515.8px,#d17290 515.8px 517.5px,#2370bb 517.5px 528.1px,#d17290 528.1px 533.3px,#2370bb 533.3px 535.1px,#d17290 535.1px 536.8px,#2370bb 536.8px 543.8px,#c8dbee 543.8px 545.6px,#d17290 545.6px 547.3px,#2370bb 547.3px 549.1px,#d17290 549.1px 552.6px,#2370bb 552.6px 556.1px,#d17290 556.1px 557.9px,#2370bb 557.9px 559.6px,#d17290 559.6px 563.1px,#2370bb 563.1px 566.6px,#df9eb3 566.6px 568.4px,#2370bb 568.4px 577.1px,#d17290 577.1px 580.6px,#acc9e6 580.6px 582.4px,#d17290 582.4px 585.9px,#2370bb 585.9px 594.7px,#d17290 594.7px 599.9px,#2370bb 599.9px 606.9px,#ebc1ce 606.9px 608.7px,#2370bb 608.7px 612.2px,#d17290 612.2px 614.0px,#2370bb 614.0px 622.7px,#d17290 622.7px 626.2px,#4c8bc8 626.2px 628.0px,#2370bb 628.0px 629.7px,#eecad5 629.7px 631.5px,#2370bb 631.5px 633.2px,#d17290 633.2px 638.5px,#2370bb 638.5px 640.2px,#d17290 640.2px 643.8px,#2370bb 643.8px 645.5px,#3e82c4 645.5px 647.3px,#d17290 647.3px 649.0px,#2370bb 649.0px 650.8px,#689dd0 650.8px 652.5px,#d17290 652.5px 654.3px,#2370bb 654.3px 657.8px,#d17290 657.8px 659.5px,#e5b0c1 659.5px 661.3px,#d17290 661.3px 663.0px,#2370bb 663.0px 664.8px,#d17290 664.8px 670.1px,#2370bb 670.1px 671.8px,#d7849e 671.8px 673.6px,#2370bb 673.6px 678.8px,#d17290 678.8px 680.6px,#2370bb 680.6px 682.3px,#d17290 682.3px 684.1px,#2370bb 684.1px 685.8px,#d17290 685.8px 689.3px,#2370bb 689.3px 692.8px,#d17290 692.8px 696.3px,#2370bb 696.3px 698.1px,#d17290 698.1px 701.6px,#2370bb 701.6px 710.4px,#d17290 710.4px 713.9px,#2370bb 713.9px 717.4px,#c8dbee 717.4px 719.1px,#d17290 719.1px 720.9px,#d7849e 720.9px 722.6px,#d17290 722.6px 726.1px,#2370bb 726.1px 729.7px,#e2a7ba 729.7px 731.4px,#2370bb 731.4px 748.9px,#d17290 748.9px 752.4px,#2370bb 752.4px 754.2px,#d17290 754.2px 756.0px,#2370bb 756.0px 763.0px,#d17290 763.0px 766.5px,#f6e5ea 766.5px 768.2px,#2370bb 768.2px 773.5px,#d17290 773.5px 775.2px,#2370bb 775.2px 780.5px,#d17290 780.5px 784.0px,#2370bb 784.0px 785.7px,#d17290 785.7px 789.2px,#da8ca5 789.2px 791.0px,#d17290 791.0px 798.0px,#2370bb 798.0px 799.7px,#d17290 799.7px 801.5px,#2370bb 801.5px 803.2px,#d17290 803.2px 805.0px,#2370bb 805.0px 806.7px,#d17290 806.7px 808.5px,#df9eb3 808.5px 810.2px,#2370bb 810.2px 811.9px,#eecad5 811.9px 813.7px,#2370bb 813.7px 815.4px,#d17290 815.4px 824.2px,#bad2ea 824.2px 825.9px,#d17290 825.9px 834.7px,#2370bb 834.7px 836.4px,#c8dbee 836.4px 838.1px,#d17290 838.1px 841.6px,#2370bb 841.6px 845.1px,#d17290 845.1px 846.9px,#2370bb 846.9px 850.4px,#d17290 850.4px 852.1px,#2370bb 852.1px 853.9px,#d17290 853.9px 855.6px,#2370bb 855.6px 857.4px,#d17290 857.4px 866.1px,#2370bb 866.1px 867.8px,#d17290 867.8px 869.6px,#d7849e 869.6px 871.3px,#d17290 871.3px 874.8px,#2370bb 874.8px 881.8px,#d17290 881.8px 885.3px,#2370bb 885.3px 887.1px,#d17290 887.1px 890.6px,#5a94cc 890.6px 892.3px,#d17290 892.3px 894.0px,#2370bb 894.0px 895.8px,#d17290 895.8px 897.5px,#f1d3dc 897.5px 899.3px,#d17290 899.3px 906.3px,#2370bb 906.3px 909.8px,#bad2ea 909.8px 911.5px,#d17290 911.5px 918.5px,#2370bb 918.5px 920.2px,#d17290 920.2px 922.0px,#f9edf1 922.0px 923.7px,#d17290 923.7px 927.2px,#2370bb 927.2px 930.7px,#d17290 930.7px 932.5px,#f1f6fb 932.5px 934.2px,#2370bb 934.2px 936.0px,#d17290 936.0px 943.0px,#2370bb 943.0px 944.7px,#d17290 944.7px 946.4px,#2370bb 946.4px 948.2px,#acc9e6 948.2px 949.9px,#2370bb 949.9px 951.7px,#d17290 951.7px 956.9px,#2370bb 956.9px 958.7px,#d17290 958.7px 960.4px,#2370bb 960.4px 962.2px,#d17290 962.2px 979.6px,#2370bb 979.6px 981.4px,#d17290 981.4px 988.4px,#2370bb 988.4px 991.9px,#d17290 991.9px 995.4px,#2370bb 995.4px 997.1px,#d17290 997.1px 1000.6px,#2370bb 1000.6px 1007.6px,#d47b97 1007.6px 1009.3px,#2370bb 1009.3px 1011.1px,#d17290 1011.1px 1012.8px,#da8ca5 1012.8px 1014.6px,#2370bb 1014.6px 1016.3px,#d17290 1016.3px 1018.1px,#2370bb 1018.1px 1021.6px,#d17290 1021.6px 1023.3px,#2370bb 1023.3px 1025.1px,#d17290 1025.1px 1026.8px,#2370bb 1026.8px 1028.5px,#e2a7ba 1028.5px 1030.3px,#d17290 1030.3px 1032.0px,#2370bb 1032.0px 1037.3px,#d17290 1037.3px 1040.8px,#2370bb 1040.8px 1042.5px,#d17290 1042.5px 1044.3px,#2370bb 1044.3px 1047.8px,#d17290 1047.8px 1053.0px)"></div><div class="r" style="top:159.84px;height:31.28px;background:linear-gradient(90deg,#91b8dd 0.0px 1.7px,#fcf6f8 1.7px 3.5px,#d17290 3.5px 5.2px,#2370bb 5.2px 7.0px,#91b8dd 7.0px 8.7px,#2370bb 8.7px 12.2px,#acc9e6 12.2px 14.0px,#2370bb 14.0px 17.5px,#f6e5ea 17.5px 19.2px,#2370bb 19.2px 22.7px,#e8b8c8 22.7px 24.5px,#2370bb 24.5px 26.2px,#eecad5 26.2px 27.9px,#d17290 27.9px 29.7px,#2370bb 29.7px 33.2px,#ebc1ce 33.2px 34.9px,#f1d3dc 34.9px 36.7px,#2370bb 36.7px 38.4px,#3179bf 38.4px 40.2px,#2370bb 40.2px 59.4px,#d17290 59.4px 61.1px,#2370bb 61.1px 64.6px,#d17290 64.6px 66.4px,#2370bb 66.4px 71.6px,#4c8bc8 71.6px 73.4px,#ffffff 73.4px 75.1px,#2370bb 75.1px 78.6px,#df9eb3 78.6px 80.3px,#2370bb 80.3px 83.8px,#c8dbee 83.8px 85.6px,#2370bb 85.6px 89.1px,#d17290 89.1px 90.8px,#2370bb 90.8px 92.6px,#d17290 92.6px 94.3px,#ebc1ce 94.3px 96.1px,#2370bb 96.1px 97.8px,#f1f6fb 97.8px 99.5px,#f6e5ea 99.5px 101.3px,#2370bb 101.3px 103.0px,#9fc0e1 103.0px 104.8px,#2370bb 104.8px 106.5px,#bad2ea 106.5px 108.3px,#fcf6f8 108.3px 110.0px,#c8dbee 110.0px 111.8px,#2370bb 111.8px 115.3px,#bad2ea 115.3px 117.0px,#2370bb 117.0px 122.3px,#689dd0 122.3px 124.0px,#e4edf6 124.0px 125.7px,#d6e4f2 125.7px 127.5px,#5a94cc 127.5px 129.2px,#d17290 129.2px 131.0px,#ebc1ce 131.0px 132.7px,#d17290 132.7px 136.2px,#d6e4f2 136.2px 138.0px,#2370bb 138.0px 141.5px,#bad2ea 141.5px 143.2px,#2370bb 143.2px 145.0px,#d17290 145.0px 146.7px,#2370bb 146.7px 148.4px,#9fc0e1 148.4px 150.2px,#2370bb 150.2px 155.4px,#ebc1ce 155.4px 157.2px,#f1d3dc 157.2px 158.9px,#2370bb 158.9px 164.2px,#d17290 164.2px 165.9px,#fcf6f8 165.9px 167.7px,#2370bb 167.7px 169.4px,#eecad5 169.4px 171.2px,#f6e5ea 171.2px 172.9px,#2370bb 172.9px 178.1px,#d47b97 178.1px 179.9px,#91b8dd 179.9px 181.6px,#2370bb 181.6px 186.9px,#f1f6fb 186.9px 188.6px,#2370bb 188.6px 192.1px,#d17290 192.1px 193.9px,#83afd9 193.9px 195.6px,#ffffff 195.6px 197.3px,#2370bb 197.3px 202.6px,#d17290 202.6px 206.1px,#2370bb 206.1px 211.3px,#9fc0e1 211.3px 213.1px,#2370bb 213.1px 214.8px,#d17290 214.8px 216.6px,#2370bb 216.6px 218.3px,#9fc0e1 218.3px 220.1px,#e4edf6 220.1px 221.8px,#4c8bc8 221.8px 223.5px,#2370bb 223.5px 230.5px,#5a94cc 230.5px 232.3px,#76a6d4 232.3px 234.0px,#df9eb3 234.0px 235.8px,#acc9e6 235.8px 237.5px,#fcf6f8 237.5px 239.3px,#3179bf 239.3px 241.0px,#e8b8c8 241.0px 242.8px,#d6e4f2 242.8px 244.5px,#2370bb 244.5px 253.2px,#9fc0e1 253.2px 255.0px,#91b8dd 255.0px 256.7px,#e5b0c1 256.7px 258.5px,#2370bb 258.5px 260.2px,#c8dbee 260.2px 262.0px,#da8ca5 262.0px 263.7px,#d17290 263.7px 265.5px,#2370bb 265.5px 270.7px,#bad2ea 270.7px 272.5px,#e2a7ba 272.5px 274.2px,#d17290 274.2px 276.0px,#dc95ac 276.0px 277.7px,#d17290 277.7px 279.5px,#2370bb 279.5px 283.0px,#3179bf 283.0px 284.7px,#2370bb 284.7px 286.5px,#c8dbee 286.5px 288.2px,#2370bb 288.2px 290.0px,#bad2ea 290.0px 291.7px,#acc9e6 291.7px 293.5px,#2370bb 293.5px 298.7px,#83afd9 298.7px 300.5px,#2370bb 300.5px 302.2px,#d7849e 302.2px 304.0px,#3e82c4 304.0px 305.7px,#d17290 305.7px 307.5px,#91b8dd 307.5px 309.2px,#fcf6f8 309.2px 311.0px,#2370bb 311.0px 312.7px,#acc9e6 312.7px 314.5px,#f1f6fb 314.5px 316.2px,#d17290 316.2px 318.0px,#2370bb 318.0px 319.7px,#d7849e 319.7px 321.5px,#d17290 321.5px 323.2px,#2370bb 323.2px 330.2px,#f9edf1 330.2px 332.0px,#2370bb 332.0px 335.5px,#d17290 335.5px 339.0px,#2370bb 339.0px 340.7px,#df9eb3 340.7px 342.5px,#2370bb 342.5px 344.2px,#d17290 344.2px 346.0px,#2370bb 346.0px 347.7px,#76a6d4 347.7px 349.5px,#d17290 349.5px 351.2px,#2370bb 351.2px 353.0px,#d6e4f2 353.0px 354.7px,#d17290 354.7px 358.2px,#f1f6fb 358.2px 360.0px,#e2a7ba 360.0px 361.7px,#d17290 361.7px 363.5px,#f9edf1 363.5px 365.2px,#2370bb 365.2px 377.5px,#d17290 377.5px 381.0px,#2370bb 381.0px 384.5px,#ebc1ce 384.5px 386.2px,#2370bb 386.2px 393.2px,#3e82c4 393.2px 395.0px,#f1f6fb 395.0px 396.7px,#2370bb 396.7px 403.7px,#df9eb3 403.7px 405.5px,#2370bb 405.5px 407.2px,#ebc1ce 407.2px 409.0px,#9fc0e1 409.0px 410.7px,#2370bb 410.7px 412.5px,#d6e4f2 412.5px 414.2px,#2370bb 414.2px 419.5px,#d17290 419.5px 421.2px,#83afd9 421.2px 423.0px,#2370bb 423.0px 424.7px,#e2a7ba 424.7px 426.5px,#2370bb 426.5px 428.2px,#d17290 428.2px 431.7px,#f4dce3 431.7px 433.5px,#acc9e6 433.5px 435.2px,#2370bb 435.2px 440.5px,#e2a7ba 440.5px 442.2px,#2370bb 442.2px 444.0px,#acc9e6 444.0px 445.7px,#dc95ac 445.7px 447.5px,#d17290 447.5px 449.2px,#2370bb 449.2px 452.7px,#d17290 452.7px 456.2px,#2370bb 456.2px 461.5px,#e5b0c1 461.5px 463.2px,#2370bb 463.2px 465.0px,#f1f6fb 465.0px 466.7px,#2370bb 466.7px 468.5px,#ebc1ce 468.5px 470.2px,#2370bb 470.2px 472.0px,#d17290 472.0px 473.7px,#2370bb 473.7px 486.0px,#d17290 486.0px 487.7px,#d7849e 487.7px 491.2px,#2370bb 491.2px 496.5px,#d17290 496.5px 498.3px,#3e82c4 498.3px 500.0px,#d17290 500.0px 501.8px,#5a94cc 501.8px 503.5px,#2370bb 503.5px 508.8px,#d17290 508.8px 510.5px,#2370bb 510.5px 515.8px,#d17290 515.8px 517.5px,#2370bb 517.5px 528.1px,#d17290 528.1px 531.6px,#2370bb 531.6px 533.3px,#ebc1ce 533.3px 535.1px,#2370bb 535.1px 536.8px,#9fc0e1 536.8px 538.6px,#2370bb 538.6px 540.3px,#fcf6f8 540.3px 542.1px,#76a6d4 542.1px 543.8px,#5a94cc 543.8px 545.6px,#d17290 545.6px 547.3px,#2370bb 547.3px 549.1px,#9fc0e1 549.1px 550.8px,#d17290 550.8px 552.6px,#2370bb 552.6px 556.1px,#83afd9 556.1px 557.9px,#2370bb 557.9px 559.6px,#3e82c4 559.6px 561.4px,#2370bb 561.4px 566.6px,#d17290 566.6px 570.1px,#2370bb 570.1px 573.6px,#d17290 573.6px 577.1px,#3179bf 577.1px 578.9px,#d17290 578.9px 582.4px,#d6e4f2 582.4px 584.2px,#d17290 584.2px 585.9px,#2370bb 585.9px 587.7px,#fcf6f8 587.7px 589.4px,#d17290 589.4px 591.2px,#2370bb 591.2px 594.7px,#d17290 594.7px 598.2px,#2370bb 598.2px 601.7px,#f1d3dc 601.7px 603.4px,#2370bb 603.4px 606.9px,#d17290 606.9px 610.4px,#ebc1ce 610.4px 612.2px,#d17290 612.2px 617.5px,#2370bb 617.5px 621.0px,#eecad5 621.0px 622.7px,#d17290 622.7px 628.0px,#2370bb 628.0px 629.7px,#76a6d4 629.7px 631.5px,#d17290 631.5px 633.2px,#2370bb 633.2px 635.0px,#d17290 635.0px 636.7px,#2370bb 636.7px 638.5px,#d17290 638.5px 640.2px,#2370bb 640.2px 642.0px,#dc95ac 642.0px 643.8px,#2370bb 643.8px 645.5px,#df9eb3 645.5px 647.3px,#2370bb 647.3px 649.0px,#d17290 649.0px 650.8px,#2370bb 650.8px 652.5px,#d17290 652.5px 657.8px,#2370bb 657.8px 659.5px,#d17290 659.5px 661.3px,#df9eb3 661.3px 663.0px,#d17290 663.0px 666.5px,#d47b97 666.5px 668.3px,#2370bb 668.3px 670.1px,#e2a7ba 670.1px 671.8px,#2370bb 671.8px 673.6px,#d17290 673.6px 675.3px,#2370bb 675.3px 677.1px,#f1d3dc 677.1px 678.8px,#2370bb 678.8px 684.1px,#689dd0 684.1px 685.8px,#2370bb 685.8px 689.3px,#3e82c4 689.3px 691.1px,#2370bb 691.1px 692.8px,#91b8dd 692.8px 694.6px,#d17290 694.6px 696.3px,#e4edf6 696.3px 698.1px,#d17290 698.1px 699.9px,#83afd9 699.9px 701.6px,#2370bb 701.6px 703.4px,#c8dbee 703.4px 705.1px,#f6e5ea 705.1px 706.9px,#d17290 706.9px 708.6px,#e5b0c1 708.6px 710.4px,#c8dbee 710.4px 712.1px,#91b8dd 712.1px 713.9px,#2370bb 713.9px 715.6px,#d17290 715.6px 717.4px,#acc9e6 717.4px 719.1px,#4c8bc8 719.1px 720.9px,#d17290 720.9px 722.6px,#c8dbee 722.6px 724.4px,#d17290 724.4px 726.1px,#2370bb 726.1px 727.9px,#fcf6f8 727.9px 729.7px,#d17290 729.7px 731.4px,#2370bb 731.4px 734.9px,#dc95ac 734.9px 736.7px,#d17290 736.7px 738.4px,#2370bb 738.4px 741.9px,#c8dbee 741.9px 743.7px,#d17290 743.7px 745.4px,#2370bb 745.4px 748.9px,#d17290 748.9px 752.4px,#bad2ea 752.4px 754.2px,#d17290 754.2px 756.0px,#2370bb 756.0px 759.5px,#d17290 759.5px 761.2px,#e5b0c1 761.2px 763.0px,#2370bb 763.0px 766.5px,#d17290 766.5px 768.2px,#2370bb 768.2px 773.5px,#d17290 773.5px 775.2px,#2370bb 775.2px 778.7px,#3e82c4 778.7px 780.5px,#e5b0c1 780.5px 782.2px,#d17290 782.2px 784.0px,#2370bb 784.0px 787.5px,#d17290 787.5px 805.0px,#2370bb 805.0px 806.7px,#d17290 806.7px 811.9px,#f1f6fb 811.9px 813.7px,#2370bb 813.7px 817.2px,#d17290 817.2px 822.4px,#2370bb 822.4px 824.2px,#f1d3dc 824.2px 825.9px,#d17290 825.9px 831.2px,#2370bb 831.2px 832.9px,#df9eb3 832.9px 834.7px,#2370bb 834.7px 839.9px,#3e82c4 839.9px 841.6px,#d17290 841.6px 845.1px,#2370bb 845.1px 848.6px,#91b8dd 848.6px 850.4px,#f4dce3 850.4px 852.1px,#e4edf6 852.1px 853.9px,#d17290 853.9px 855.6px,#2370bb 855.6px 857.4px,#d17290 857.4px 859.1px,#91b8dd 859.1px 860.9px,#2370bb 860.9px 862.6px,#d17290 862.6px 866.1px,#2370bb 866.1px 871.3px,#d17290 871.3px 873.1px,#2370bb 873.1px 876.6px,#4c8bc8 876.6px 878.3px,#f6e5ea 878.3px 880.1px,#2370bb 880.1px 881.8px,#eecad5 881.8px 883.6px,#2370bb 883.6px 885.3px,#d17290 885.3px 887.1px,#2370bb 887.1px 888.8px,#d17290 888.8px 895.8px,#ffffff 895.8px 897.5px,#2370bb 897.5px 899.3px,#e8b8c8 899.3px 901.0px,#d17290 901.0px 902.8px,#2370bb 902.8px 904.5px,#d17290 904.5px 909.8px,#2370bb 909.8px 911.5px,#3179bf 911.5px 913.3px,#2370bb 913.3px 915.0px,#d17290 915.0px 918.5px,#5a94cc 918.5px 920.2px,#2370bb 920.2px 925.5px,#d17290 925.5px 927.2px,#2370bb 927.2px 929.0px,#d17290 929.0px 932.5px,#4c8bc8 932.5px 934.2px,#2370bb 934.2px 937.7px,#d17290 937.7px 944.7px,#2370bb 944.7px 946.4px,#d17290 946.4px 948.2px,#d7849e 948.2px 949.9px,#2370bb 949.9px 953.4px,#d17290 953.4px 956.9px,#fcf6f8 956.9px 958.7px,#2370bb 958.7px 960.4px,#4c8bc8 960.4px 962.2px,#d17290 962.2px 963.9px,#ebc1ce 963.9px 965.7px,#d17290 965.7px 969.2px,#2370bb 969.2px 974.4px,#d17290 974.4px 981.4px,#2370bb 981.4px 984.9px,#d17290 984.9px 986.6px,#e2a7ba 986.6px 988.4px,#2370bb 988.4px 990.1px,#76a6d4 990.1px 991.9px,#2370bb 991.9px 998.9px,#d17290 998.9px 1000.6px,#2370bb 1000.6px 1002.3px,#d17290 1002.3px 1005.8px,#2370bb 1005.8px 1011.1px,#d17290 1011.1px 1012.8px,#2370bb 1012.8px 1014.6px,#d17290 1014.6px 1018.1px,#2370bb 1018.1px 1019.8px,#d17290 1019.8px 1023.3px,#2370bb 1023.3px 1025.1px,#d17290 1025.1px 1026.8px,#2370bb 1026.8px 1028.5px,#d17290 1028.5px 1030.3px,#4c8bc8 1030.3px 1032.0px,#d17290 1032.0px 1033.8px,#2370bb 1033.8px 1037.3px,#df9eb3 1037.3px 1039.0px,#d17290 1039.0px 1040.8px,#2370bb 1040.8px 1042.5px,#d7849e 1042.5px 1044.3px,#2370bb 1044.3px 1046.0px,#d6e4f2 1046.0px 1047.8px,#2370bb 1047.8px 1049.5px,#d17290 1049.5px 1051.3px,#2370bb 1051.3px 1053.0px)"></div><div class="r" style="top:191.12px;height:31.28px;background:linear-gradient(90deg,#4c8bc8 0.0px 1.7px,#bad2ea 1.7px 3.5px,#5a94cc 3.5px 7.0px,#4c8bc8 7.0px 8.7px,#3e82c4 8.7px 10.5px,#d17290 10.5px 12.2px,#2370bb 12.2px 14.0px,#c8dbee 14.0px 15.7px,#689dd0 15.7px 17.5px,#2370bb 17.5px 19.2px,#76a6d4 19.2px 21.0px,#4c8bc8 21.0px 22.7px,#3e82c4 22.7px 24.5px,#c8dbee 24.5px 26.2px,#9fc0e1 26.2px 27.9px,#2370bb 27.9px 29.7px,#689dd0 29.7px 33.2px,#4c8bc8 33.2px 34.9px,#d6e4f2 34.9px 36.7px,#3179bf 36.7px 38.4px,#e2a7ba 38.4px 40.2px,#d47b97 40.2px 41.9px,#bad2ea 41.9px 43.7px,#ebc1ce 43.7px 45.4px,#d7849e 45.4px 47.2px,#da8ca5 47.2px 48.9px,#9fc0e1 48.9px 50.6px,#fcf6f8 50.6px 52.4px,#d17290 52.4px 54.1px,#4c8bc8 54.1px 55.9px,#3e82c4 55.9px 57.6px,#2370bb 57.6px 59.4px,#76a6d4 59.4px 61.1px,#d17290 61.1px 62.9px,#9fc0e1 62.9px 64.6px,#4c8bc8 64.6px 66.4px,#d6e4f2 66.4px 68.1px,#2370bb 68.1px 69.9px,#bad2ea 69.9px 71.6px,#91b8dd 71.6px 73.4px,#4c8bc8 73.4px 75.1px,#bad2ea 75.1px 76.8px,#2370bb 76.8px 78.6px,#3179bf 78.6px 80.3px,#83afd9 80.3px 82.1px,#f1f6fb 82.1px 83.8px,#acc9e6 83.8px 85.6px,#4c8bc8 85.6px 87.3px,#e4edf6 87.3px 89.1px,#d17290 89.1px 90.8px,#83afd9 90.8px 92.6px,#76a6d4 92.6px 94.3px,#3179bf 94.3px 97.8px,#2370bb 97.8px 99.5px,#3179bf 99.5px 101.3px,#2370bb 101.3px 103.0px,#c8dbee 103.0px 104.8px,#76a6d4 104.8px 106.5px,#2370bb 106.5px 108.3px,#91b8dd 108.3px 110.0px,#9fc0e1 110.0px 111.8px,#3179bf 111.8px 113.5px,#4c8bc8 113.5px 115.3px,#eecad5 115.3px 117.0px,#bad2ea 117.0px 118.8px,#2370bb 118.8px 120.5px,#5a94cc 120.5px 122.3px,#c8dbee 122.3px 124.0px,#3179bf 124.0px 125.7px,#83afd9 125.7px 127.5px,#91b8dd 127.5px 129.2px,#2370bb 129.2px 131.0px,#d17290 131.0px 132.7px,#2370bb 132.7px 134.5px,#4c8bc8 134.5px 136.2px,#2370bb 136.2px 138.0px,#83afd9 138.0px 139.7px,#4c8bc8 139.7px 141.5px,#d17290 141.5px 143.2px,#4c8bc8 143.2px 145.0px,#bad2ea 145.0px 146.7px,#689dd0 146.7px 148.4px,#9fc0e1 148.4px 150.2px,#4c8bc8 150.2px 151.9px,#9fc0e1 151.9px 153.7px,#2370bb 153.7px 155.4px,#3e82c4 155.4px 157.2px,#91b8dd 157.2px 158.9px,#bad2ea 158.9px 160.7px,#689dd0 160.7px 162.4px,#f1f6fb 162.4px 164.2px,#d6e4f2 164.2px 165.9px,#2370bb 165.9px 167.7px,#d17290 167.7px 169.4px,#76a6d4 169.4px 171.2px,#9fc0e1 171.2px 172.9px,#c8dbee 172.9px 174.6px,#5a94cc 174.6px 176.4px,#d17290 176.4px 178.1px,#2370bb 178.1px 179.9px,#9fc0e1 179.9px 181.6px,#2370bb 181.6px 185.1px,#acc9e6 185.1px 186.9px,#3e82c4 186.9px 188.6px,#9fc0e1 188.6px 190.4px,#689dd0 190.4px 192.1px,#d17290 192.1px 193.9px,#5a94cc 193.9px 195.6px,#2370bb 195.6px 197.3px,#c8dbee 197.3px 199.1px,#d17290 199.1px 200.8px,#76a6d4 200.8px 202.6px,#689dd0 202.6px 204.3px,#3e82c4 204.3px 206.1px,#3179bf 206.1px 209.6px,#2370bb 209.6px 211.3px,#689dd0 211.3px 213.1px,#c8dbee 213.1px 214.8px,#4c8bc8 214.8px 216.6px,#d17290 216.6px 218.3px,#91b8dd 218.3px 220.1px,#3e82c4 220.1px 221.8px,#9fc0e1 221.8px 223.5px,#689dd0 223.5px 225.3px,#d6e4f2 225.3px 228.8px,#689dd0 228.8px 232.3px,#f1f6fb 232.3px 234.0px,#3179bf 234.0px 235.8px,#f1f6fb 235.8px 237.5px,#c8dbee 237.5px 239.3px,#5a94cc 239.3px 241.0px,#689dd0 241.0px 242.8px,#e5b0c1 242.8px 244.5px,#e2a7ba 244.5px 246.2px,#acc9e6 246.2px 248.0px,#91b8dd 248.0px 251.5px,#f6e5ea 251.5px 253.2px,#83afd9 253.2px 255.0px,#5a94cc 255.0px 256.7px,#bad2ea 256.7px 258.5px,#9fc0e1 258.5px 260.2px,#5a94cc 260.2px 262.0px,#e2a7ba 262.0px 263.7px,#91b8dd 263.7px 265.5px,#5a94cc 265.5px 267.2px,#3e82c4 267.2px 269.0px,#4c8bc8 269.0px 270.7px,#d17290 270.7px 272.5px,#83afd9 272.5px 274.2px,#9fc0e1 274.2px 276.0px,#ebc1ce 276.0px 277.7px,#3179bf 277.7px 279.5px,#2370bb 279.5px 281.2px,#d17290 281.2px 283.0px,#5a94cc 283.0px 284.7px,#f1d3dc 284.7px 286.5px,#f6e5ea 286.5px 288.2px,#91b8dd 288.2px 290.0px,#5a94cc 290.0px 291.7px,#d6e4f2 291.7px 293.5px,#acc9e6 293.5px 295.2px,#9fc0e1 295.2px 297.0px,#f1f6fb 297.0px 298.7px,#76a6d4 298.7px 300.5px,#bad2ea 300.5px 302.2px,#4c8bc8 302.2px 304.0px,#3e82c4 304.0px 307.5px,#9fc0e1 307.5px 309.2px,#d47b97 309.2px 311.0px,#689dd0 311.0px 312.7px,#d17290 312.7px 314.5px,#3179bf 314.5px 316.2px,#bad2ea 316.2px 318.0px,#c8dbee 318.0px 319.7px,#9fc0e1 319.7px 321.5px,#acc9e6 321.5px 323.2px,#76a6d4 323.2px 325.0px,#e8b8c8 325.0px 326.7px,#d6e4f2 326.7px 328.5px,#5a94cc 328.5px 330.2px,#acc9e6 330.2px 332.0px,#f1f6fb 332.0px 333.7px,#d6e4f2 333.7px 335.5px,#9fc0e1 335.5px 339.0px,#d6e4f2 339.0px 340.7px,#e4edf6 340.7px 342.5px,#3e82c4 342.5px 344.2px,#2370bb 344.2px 346.0px,#9fc0e1 346.0px 347.7px,#acc9e6 347.7px 349.5px,#91b8dd 349.5px 353.0px,#689dd0 353.0px 354.7px,#9fc0e1 354.7px 356.5px,#2370bb 356.5px 358.2px,#acc9e6 358.2px 360.0px,#c8dbee 360.0px 361.7px,#d17290 361.7px 363.5px,#3e82c4 363.5px 365.2px,#689dd0 365.2px 367.0px,#9fc0e1 367.0px 368.7px,#83afd9 368.7px 370.5px,#9fc0e1 370.5px 374.0px,#3e82c4 374.0px 375.7px,#acc9e6 375.7px 377.5px,#76a6d4 377.5px 379.2px,#df9eb3 379.2px 381.0px,#9fc0e1 381.0px 382.7px,#91b8dd 382.7px 384.5px,#d17290 384.5px 386.2px,#bad2ea 386.2px 388.0px,#d6e4f2 388.0px 389.7px,#76a6d4 389.7px 391.5px,#c8dbee 391.5px 393.2px,#bad2ea 393.2px 395.0px,#e4edf6 395.0px 396.7px,#d17290 396.7px 398.5px,#4c8bc8 398.5px 402.0px,#689dd0 402.0px 403.7px,#f1f6fb 403.7px 405.5px,#9fc0e1 405.5px 407.2px,#2370bb 407.2px 409.0px,#83afd9 409.0px 410.7px,#2370bb 410.7px 412.5px,#d17290 412.5px 414.2px,#acc9e6 414.2px 416.0px,#3e82c4 416.0px 417.7px,#acc9e6 417.7px 419.5px,#f1d3dc 419.5px 421.2px,#acc9e6 421.2px 423.0px,#e8b8c8 423.0px 424.7px,#76a6d4 424.7px 426.5px,#bad2ea 426.5px 428.2px,#fcf6f8 428.2px 430.0px,#d17290 430.0px 431.7px,#bad2ea 431.7px 433.5px,#3e82c4 433.5px 435.2px,#bad2ea 435.2px 437.0px,#ffffff 437.0px 438.7px,#df9eb3 438.7px 440.5px,#4c8bc8 440.5px 444.0px,#acc9e6 444.0px 445.7px,#83afd9 445.7px 447.5px,#fcf6f8 447.5px 449.2px,#f1f6fb 449.2px 451.0px,#bad2ea 451.0px 452.7px,#d17290 452.7px 454.5px,#ebc1ce 454.5px 456.2px,#76a6d4 456.2px 458.0px,#91b8dd 458.0px 459.7px,#ffffff 459.7px 461.5px,#91b8dd 461.5px 463.2px,#e4edf6 463.2px 465.0px,#acc9e6 465.0px 466.7px,#bad2ea 466.7px 468.5px,#76a6d4 468.5px 470.2px,#2370bb 470.2px 472.0px,#c8dbee 472.0px 473.7px,#d6e4f2 473.7px 475.5px,#2370bb 475.5px 477.2px,#689dd0 477.2px 479.0px,#83afd9 479.0px 480.7px,#bad2ea 480.7px 482.5px,#3179bf 482.5px 484.2px,#f9edf1 484.2px 486.0px,#83afd9 486.0px 487.7px,#d17290 487.7px 489.5px,#91b8dd 489.5px 491.2px,#e4edf6 491.2px 493.0px,#c8dbee 493.0px 494.7px,#d6e4f2 494.7px 496.5px,#da8ca5 496.5px 498.3px,#c8dbee 498.3px 500.0px,#d17290 500.0px 501.8px,#ebc1ce 501.8px 503.5px,#f1f6fb 503.5px 505.3px,#acc9e6 505.3px 507.0px,#f9edf1 507.0px 508.8px,#76a6d4 508.8px 510.5px,#c8dbee 510.5px 514.0px,#83afd9 514.0px 515.8px,#d7849e 515.8px 517.5px,#d17290 517.5px 519.3px,#2370bb 519.3px 521.0px,#d17290 521.0px 522.8px,#f1d3dc 522.8px 524.5px,#2370bb 524.5px 526.3px,#f1f6fb 526.3px 528.1px,#d47b97 528.1px 529.8px,#e4edf6 529.8px 531.6px,#c8dbee 531.6px 533.3px,#2370bb 533.3px 535.1px,#fcf6f8 535.1px 536.8px,#91b8dd 536.8px 538.6px,#76a6d4 538.6px 540.3px,#d7849e 540.3px 542.1px,#2370bb 542.1px 545.6px,#e4edf6 545.6px 547.3px,#f1d3dc 547.3px 549.1px,#d17290 549.1px 550.8px,#e4edf6 550.8px 552.6px,#3e82c4 552.6px 554.4px,#4c8bc8 554.4px 556.1px,#e8b8c8 556.1px 557.9px,#5a94cc 557.9px 559.6px,#83afd9 559.6px 561.4px,#df9eb3 561.4px 563.1px,#76a6d4 563.1px 564.9px,#5a94cc 564.9px 566.6px,#f4dce3 566.6px 568.4px,#9fc0e1 568.4px 570.1px,#dc95ac 570.1px 571.9px,#4c8bc8 571.9px 573.6px,#c8dbee 573.6px 575.4px,#9fc0e1 575.4px 577.1px,#d17290 577.1px 578.9px,#9fc0e1 578.9px 580.6px,#d6e4f2 580.6px 582.4px,#689dd0 582.4px 584.2px,#2370bb 584.2px 585.9px,#76a6d4 585.9px 587.7px,#4c8bc8 587.7px 591.2px,#d6e4f2 591.2px 592.9px,#c8dbee 592.9px 594.7px,#acc9e6 594.7px 596.4px,#76a6d4 596.4px 598.2px,#d6e4f2 598.2px 599.9px,#91b8dd 599.9px 601.7px,#d17290 601.7px 605.2px,#83afd9 605.2px 608.7px,#ffffff 608.7px 610.4px,#da8ca5 610.4px 612.2px,#9fc0e1 612.2px 614.0px,#ffffff 614.0px 615.7px,#91b8dd 615.7px 617.5px,#dc95ac 617.5px 619.2px,#f6e5ea 619.2px 621.0px,#d17290 621.0px 622.7px,#4c8bc8 622.7px 624.5px,#d47b97 624.5px 626.2px,#76a6d4 626.2px 628.0px,#91b8dd 628.0px 629.7px,#fcf6f8 629.7px 631.5px,#2370bb 631.5px 635.0px,#c8dbee 635.0px 636.7px,#689dd0 636.7px 640.2px,#3179bf 640.2px 642.0px,#fcf6f8 642.0px 643.8px,#ffffff 643.8px 645.5px,#d7849e 645.5px 647.3px,#689dd0 647.3px 649.0px,#d6e4f2 649.0px 650.8px,#f1f6fb 650.8px 652.5px,#d17290 652.5px 654.3px,#9fc0e1 654.3px 656.0px,#3e82c4 656.0px 657.8px,#acc9e6 657.8px 659.5px,#eecad5 659.5px 661.3px,#5a94cc 661.3px 663.0px,#2370bb 663.0px 666.5px,#91b8dd 666.5px 668.3px,#f1f6fb 668.3px 670.1px,#d17290 670.1px 671.8px,#dc95ac 671.8px 675.3px,#f9edf1 675.3px 677.1px,#d17290 677.1px 680.6px,#91b8dd 680.6px 682.3px,#acc9e6 682.3px 684.1px,#fcf6f8 684.1px 685.8px,#5a94cc 685.8px 687.6px,#3e82c4 687.6px 689.3px,#c8dbee 689.3px 691.1px,#2370bb 691.1px 692.8px,#c8dbee 692.8px 694.6px,#ffffff 694.6px 696.3px,#c8dbee 696.3px 698.1px,#acc9e6 698.1px 699.9px,#d6e4f2 699.9px 701.6px,#acc9e6 701.6px 703.4px,#3179bf 703.4px 705.1px,#d47b97 705.1px 706.9px,#5a94cc 706.9px 708.6px,#f9edf1 708.6px 710.4px,#d17290 710.4px 712.1px,#91b8dd 712.1px 713.9px,#bad2ea 713.9px 715.6px,#91b8dd 715.6px 717.4px,#d17290 717.4px 719.1px,#4c8bc8 719.1px 720.9px,#dc95ac 720.9px 722.6px,#d17290 722.6px 724.4px,#bad2ea 724.4px 726.1px,#c8dbee 726.1px 727.9px,#f4dce3 727.9px 729.7px,#d47b97 729.7px 731.4px,#da8ca5 731.4px 733.2px,#eecad5 733.2px 734.9px,#76a6d4 734.9px 736.7px,#4c8bc8 736.7px 738.4px,#f1f6fb 738.4px 740.2px,#76a6d4 740.2px 741.9px,#4c8bc8 741.9px 743.7px,#acc9e6 743.7px 745.4px,#d17290 745.4px 747.2px,#eecad5 747.2px 748.9px,#3e82c4 748.9px 750.7px,#d7849e 750.7px 752.4px,#91b8dd 752.4px 754.2px,#2370bb 754.2px 756.0px,#ebc1ce 756.0px 757.7px,#83afd9 757.7px 759.5px,#acc9e6 759.5px 761.2px,#d17290 761.2px 763.0px,#9fc0e1 763.0px 764.7px,#f1d3dc 764.7px 766.5px,#4c8bc8 766.5px 768.2px,#9fc0e1 768.2px 770.0px,#c8dbee 770.0px 771.7px,#f1d3dc 771.7px 775.2px,#d17290 775.2px 777.0px,#2370bb 777.0px 778.7px,#d6e4f2 778.7px 780.5px,#df9eb3 780.5px 782.2px,#acc9e6 782.2px 784.0px,#83afd9 784.0px 785.7px,#d17290 785.7px 787.5px,#f1d3dc 787.5px 789.2px,#4c8bc8 789.2px 791.0px,#f1f6fb 791.0px 792.7px,#ebc1ce 792.7px 794.5px,#d17290 794.5px 796.2px,#f6e5ea 796.2px 798.0px,#91b8dd 798.0px 799.7px,#f1f6fb 799.7px 801.5px,#df9eb3 801.5px 803.2px,#c8dbee 803.2px 805.0px,#d47b97 805.0px 806.7px,#d7849e 806.7px 808.5px,#76a6d4 808.5px 810.2px,#4c8bc8 810.2px 811.9px,#d17290 811.9px 813.7px,#bad2ea 813.7px 815.4px,#83afd9 815.4px 817.2px,#d17290 817.2px 818.9px,#f1f6fb 818.9px 820.7px,#da8ca5 820.7px 822.4px,#eecad5 822.4px 824.2px,#d6e4f2 824.2px 825.9px,#acc9e6 825.9px 827.7px,#83afd9 827.7px 829.4px,#d17290 829.4px 831.2px,#2370bb 831.2px 832.9px,#d17290 832.9px 836.4px,#d47b97 836.4px 838.1px,#f1d3dc 838.1px 839.9px,#5a94cc 839.9px 841.6px,#bad2ea 841.6px 843.4px,#f1d3dc 843.4px 845.1px,#76a6d4 845.1px 846.9px,#e8b8c8 846.9px 848.6px,#d17290 848.6px 850.4px,#eecad5 850.4px 852.1px,#bad2ea 852.1px 853.9px,#2370bb 853.9px 855.6px,#83afd9 855.6px 857.4px,#e4edf6 857.4px 859.1px,#3179bf 859.1px 860.9px,#f9edf1 860.9px 862.6px,#689dd0 862.6px 864.4px,#f1f6fb 864.4px 866.1px,#acc9e6 866.1px 867.8px,#fcf6f8 867.8px 869.6px,#d17290 869.6px 871.3px,#d7849e 871.3px 873.1px,#e4edf6 873.1px 874.8px,#d7849e 874.8px 876.6px,#76a6d4 876.6px 878.3px,#d17290 878.3px 880.1px,#eecad5 880.1px 881.8px,#83afd9 881.8px 883.6px,#da8ca5 883.6px 885.3px,#f9edf1 885.3px 887.1px,#e8b8c8 887.1px 888.8px,#e5b0c1 888.8px 890.6px,#91b8dd 890.6px 892.3px,#3e82c4 892.3px 895.8px,#9fc0e1 895.8px 897.5px,#dc95ac 897.5px 899.3px,#2370bb 899.3px 901.0px,#f6e5ea 901.0px 902.8px,#df9eb3 902.8px 904.5px,#e8b8c8 904.5px 906.3px,#da8ca5 906.3px 908.0px,#d17290 908.0px 909.8px,#bad2ea 909.8px 911.5px,#91b8dd 911.5px 913.3px,#d17290 913.3px 915.0px,#d47b97 915.0px 916.8px,#ffffff 916.8px 918.5px,#5a94cc 918.5px 920.2px,#e8b8c8 920.2px 922.0px,#d17290 922.0px 923.7px,#689dd0 923.7px 925.5px,#2370bb 925.5px 927.2px,#d17290 927.2px 930.7px,#bad2ea 930.7px 932.5px,#9fc0e1 932.5px 934.2px,#d17290 934.2px 936.0px,#83afd9 936.0px 937.7px,#d17290 937.7px 939.5px,#76a6d4 939.5px 941.2px,#d17290 941.2px 943.0px,#d6e4f2 943.0px 944.7px,#ebc1ce 944.7px 946.4px,#d7849e 946.4px 948.2px,#ffffff 948.2px 949.9px,#e5b0c1 949.9px 951.7px,#ebc1ce 951.7px 953.4px,#2370bb 953.4px 955.2px,#5a94cc 955.2px 956.9px,#d6e4f2 956.9px 958.7px,#d7849e 958.7px 960.4px,#e4edf6 960.4px 962.2px,#2370bb 962.2px 963.9px,#d17290 963.9px 965.7px,#d7849e 965.7px 967.4px,#76a6d4 967.4px 969.2px,#df9eb3 969.2px 970.9px,#2370bb 970.9px 972.6px,#f1f6fb 972.6px 974.4px,#e8b8c8 974.4px 976.1px,#689dd0 976.1px 977.9px,#e8b8c8 977.9px 979.6px,#2370bb 979.6px 981.4px,#c8dbee 981.4px 983.1px,#e8b8c8 983.1px 984.9px,#e4edf6 984.9px 986.6px,#689dd0 986.6px 988.4px,#d17290 988.4px 991.9px,#91b8dd 991.9px 993.6px,#2370bb 993.6px 995.4px,#ffffff 995.4px 998.9px,#d7849e 998.9px 1000.6px,#d17290 1000.6px 1002.3px,#da8ca5 1002.3px 1004.1px,#83afd9 1004.1px 1005.8px,#d17290 1005.8px 1007.6px,#83afd9 1007.6px 1009.3px,#9fc0e1 1009.3px 1011.1px,#d17290 1011.1px 1012.8px,#ffffff 1012.8px 1014.6px,#df9eb3 1014.6px 1016.3px,#76a6d4 1016.3px 1018.1px,#ffffff 1018.1px 1019.8px,#f9edf1 1019.8px 1021.6px,#f6e5ea 1021.6px 1023.3px,#d17290 1023.3px 1026.8px,#4c8bc8 1026.8px 1028.5px,#d17290 1028.5px 1030.3px,#f1d3dc 1030.3px 1032.0px,#ffffff 1032.0px 1033.8px,#91b8dd 1033.8px 1035.5px,#d17290 1035.5px 1037.3px,#f6e5ea 1037.3px 1039.0px,#d17290 1039.0px 1042.5px,#76a6d4 1042.5px 1044.3px,#d17290 1044.3px 1046.0px,#da8ca5 1046.0px 1047.8px,#83afd9 1047.8px 1049.5px,#d17290 1049.5px 1051.3px,#5a94cc 1051.3px 1053.0px)"></div><div class="r" style="top:222.40px;height:31.28px;background:linear-gradient(90deg,#5a94cc 0.0px 1.7px,#91b8dd 1.7px 3.5px,#d17290 3.5px 5.2px,#e2a7ba 5.2px 7.0px,#83afd9 7.0px 8.7px,#9fc0e1 8.7px 10.5px,#d17290 10.5px 12.2px,#d7849e 12.2px 14.0px,#5a94cc 14.0px 15.7px,#f1f6fb 15.7px 17.5px,#df9eb3 17.5px 19.2px,#2370bb 19.2px 21.0px,#d7849e 21.0px 22.7px,#c8dbee 22.7px 24.5px,#df9eb3 24.5px 26.2px,#fcf6f8 26.2px 27.9px,#bad2ea 27.9px 29.7px,#fcf6f8 29.7px 31.4px,#d17290 31.4px 33.2px,#d6e4f2 33.2px 34.9px,#f1d3dc 34.9px 36.7px,#acc9e6 36.7px 38.4px,#dc95ac 38.4px 40.2px,#d17290 40.2px 41.9px,#ebc1ce 41.9px 43.7px,#d17290 43.7px 47.2px,#83afd9 47.2px 48.9px,#dc95ac 48.9px 50.6px,#fcf6f8 50.6px 52.4px,#d17290 52.4px 54.1px,#d7849e 54.1px 55.9px,#83afd9 55.9px 57.6px,#d7849e 57.6px 59.4px,#d17290 59.4px 61.1px,#acc9e6 61.1px 62.9px,#e4edf6 62.9px 64.6px,#d17290 64.6px 66.4px,#e4edf6 66.4px 68.1px,#fcf6f8 68.1px 69.9px,#4c8bc8 69.9px 71.6px,#91b8dd 71.6px 73.4px,#d17290 73.4px 75.1px,#d7849e 75.1px 76.8px,#d17290 76.8px 80.3px,#d6e4f2 80.3px 82.1px,#d17290 82.1px 83.8px,#9fc0e1 83.8px 85.6px,#d17290 85.6px 89.1px,#bad2ea 89.1px 90.8px,#d6e4f2 90.8px 92.6px,#da8ca5 92.6px 94.3px,#e2a7ba 94.3px 96.1px,#eecad5 96.1px 97.8px,#d47b97 97.8px 99.5px,#bad2ea 99.5px 103.0px,#d17290 103.0px 106.5px,#e5b0c1 106.5px 108.3px,#d7849e 108.3px 110.0px,#83afd9 110.0px 111.8px,#689dd0 111.8px 113.5px,#2370bb 113.5px 115.3px,#91b8dd 115.3px 117.0px,#2370bb 117.0px 118.8px,#dc95ac 118.8px 120.5px,#2370bb 120.5px 122.3px,#d47b97 122.3px 124.0px,#2370bb 124.0px 125.7px,#f1f6fb 125.7px 127.5px,#f9edf1 127.5px 129.2px,#2370bb 129.2px 131.0px,#3179bf 131.0px 132.7px,#fcf6f8 132.7px 134.5px,#d6e4f2 134.5px 136.2px,#2370bb 136.2px 138.0px,#dc95ac 138.0px 139.7px,#d17290 139.7px 141.5px,#9fc0e1 141.5px 143.2px,#3e82c4 143.2px 145.0px,#d7849e 145.0px 146.7px,#2370bb 146.7px 148.4px,#83afd9 148.4px 150.2px,#3179bf 150.2px 151.9px,#acc9e6 151.9px 153.7px,#91b8dd 153.7px 155.4px,#d17290 155.4px 157.2px,#689dd0 157.2px 158.9px,#d7849e 158.9px 160.7px,#d17290 160.7px 162.4px,#3e82c4 162.4px 165.9px,#91b8dd 165.9px 167.7px,#3e82c4 167.7px 169.4px,#83afd9 169.4px 171.2px,#2370bb 171.2px 172.9px,#3e82c4 172.9px 176.4px,#9fc0e1 176.4px 178.1px,#2370bb 178.1px 181.6px,#da8ca5 181.6px 183.4px,#689dd0 183.4px 185.1px,#5a94cc 185.1px 186.9px,#76a6d4 186.9px 188.6px,#d17290 188.6px 190.4px,#f9edf1 190.4px 192.1px,#d17290 192.1px 193.9px,#bad2ea 193.9px 195.6px,#2370bb 195.6px 197.3px,#d17290 197.3px 199.1px,#76a6d4 199.1px 200.8px,#d6e4f2 200.8px 202.6px,#e4edf6 202.6px 204.3px,#e8b8c8 204.3px 206.1px,#2370bb 206.1px 207.8px,#ffffff 207.8px 209.6px,#2370bb 209.6px 211.3px,#c8dbee 211.3px 213.1px,#4c8bc8 213.1px 214.8px,#2370bb 214.8px 216.6px,#d17290 216.6px 218.3px,#2370bb 218.3px 221.8px,#689dd0 221.8px 223.5px,#f9edf1 223.5px 225.3px,#df9eb3 225.3px 227.0px,#f9edf1 227.0px 228.8px,#f1f6fb 228.8px 230.5px,#dc95ac 230.5px 232.3px,#689dd0 232.3px 234.0px,#2370bb 234.0px 235.8px,#bad2ea 235.8px 237.5px,#4c8bc8 237.5px 239.3px,#2370bb 239.3px 241.0px,#f1d3dc 241.0px 242.8px,#9fc0e1 242.8px 246.2px,#e2a7ba 246.2px 248.0px,#2370bb 248.0px 249.7px,#689dd0 249.7px 251.5px,#f1f6fb 251.5px 253.2px,#d17290 253.2px 255.0px,#e5b0c1 255.0px 256.7px,#91b8dd 256.7px 258.5px,#f1f6fb 258.5px 260.2px,#83afd9 260.2px 262.0px,#689dd0 262.0px 263.7px,#3e82c4 263.7px 265.5px,#2370bb 265.5px 267.2px,#e5b0c1 267.2px 269.0px,#2370bb 269.0px 270.7px,#d17290 270.7px 281.2px,#eecad5 281.2px 283.0px,#e5b0c1 283.0px 284.7px,#df9eb3 284.7px 286.5px,#ebc1ce 286.5px 288.2px,#d17290 288.2px 290.0px,#689dd0 290.0px 291.7px,#d7849e 291.7px 293.5px,#d17290 293.5px 295.2px,#e4edf6 295.2px 297.0px,#d17290 297.0px 298.7px,#da8ca5 298.7px 300.5px,#d17290 300.5px 304.0px,#83afd9 304.0px 305.7px,#2370bb 305.7px 311.0px,#d17290 311.0px 314.5px,#e4edf6 314.5px 316.2px,#bad2ea 316.2px 318.0px,#83afd9 318.0px 319.7px,#2370bb 319.7px 321.5px,#83afd9 321.5px 323.2px,#e8b8c8 323.2px 325.0px,#d17290 325.0px 326.7px,#2370bb 326.7px 328.5px,#c8dbee 328.5px 330.2px,#2370bb 330.2px 332.0px,#f1d3dc 332.0px 333.7px,#d6e4f2 333.7px 335.5px,#acc9e6 335.5px 339.0px,#2370bb 339.0px 340.7px,#4c8bc8 340.7px 342.5px,#d17290 342.5px 344.2px,#2370bb 344.2px 346.0px,#3e82c4 346.0px 347.7px,#d17290 347.7px 349.5px,#2370bb 349.5px 351.2px,#d17290 351.2px 353.0px,#689dd0 353.0px 354.7px,#d7849e 354.7px 356.5px,#d17290 356.5px 358.2px,#bad2ea 358.2px 360.0px,#2370bb 360.0px 363.5px,#5a94cc 363.5px 365.2px,#d17290 365.2px 367.0px,#76a6d4 367.0px 368.7px,#689dd0 368.7px 372.2px,#eecad5 372.2px 374.0px,#4c8bc8 374.0px 375.7px,#9fc0e1 375.7px 377.5px,#2370bb 377.5px 379.2px,#ebc1ce 379.2px 381.0px,#2370bb 381.0px 382.7px,#3179bf 382.7px 384.5px,#4c8bc8 384.5px 386.2px,#91b8dd 386.2px 388.0px,#2370bb 388.0px 389.7px,#3179bf 389.7px 391.5px,#d17290 391.5px 393.2px,#5a94cc 393.2px 395.0px,#d17290 395.0px 396.7px,#91b8dd 396.7px 398.5px,#e2a7ba 398.5px 400.2px,#689dd0 400.2px 402.0px,#9fc0e1 402.0px 403.7px,#d17290 403.7px 405.5px,#76a6d4 405.5px 407.2px,#e5b0c1 407.2px 409.0px,#bad2ea 409.0px 410.7px,#9fc0e1 410.7px 412.5px,#acc9e6 412.5px 414.2px,#d7849e 414.2px 416.0px,#5a94cc 416.0px 419.5px,#acc9e6 419.5px 421.2px,#d17290 421.2px 423.0px,#e2a7ba 423.0px 424.7px,#df9eb3 424.7px 426.5px,#f6e5ea 426.5px 428.2px,#bad2ea 428.2px 430.0px,#4c8bc8 430.0px 431.7px,#83afd9 431.7px 433.5px,#c8dbee 433.5px 435.2px,#ebc1ce 435.2px 437.0px,#3179bf 437.0px 438.7px,#2370bb 438.7px 440.5px,#3e82c4 440.5px 442.2px,#2370bb 442.2px 445.7px,#fcf6f8 445.7px 447.5px,#eecad5 447.5px 449.2px,#83afd9 449.2px 451.0px,#3e82c4 451.0px 452.7px,#91b8dd 452.7px 454.5px,#2370bb 454.5px 456.2px,#c8dbee 456.2px 458.0px,#2370bb 458.0px 459.7px,#acc9e6 459.7px 461.5px,#3179bf 461.5px 463.2px,#e4edf6 463.2px 465.0px,#91b8dd 465.0px 466.7px,#3179bf 466.7px 468.5px,#76a6d4 468.5px 470.2px,#3e82c4 470.2px 472.0px,#d17290 472.0px 473.7px,#eecad5 473.7px 475.5px,#dc95ac 475.5px 477.2px,#2370bb 477.2px 479.0px,#d17290 479.0px 480.7px,#2370bb 480.7px 484.2px,#ebc1ce 484.2px 486.0px,#3e82c4 486.0px 487.7px,#689dd0 487.7px 489.5px,#d17290 489.5px 491.2px,#2370bb 491.2px 493.0px,#76a6d4 493.0px 494.7px,#d7849e 494.7px 496.5px,#d47b97 496.5px 498.3px,#d17290 498.3px 500.0px,#3e82c4 500.0px 501.8px,#2370bb 501.8px 503.5px,#f1f6fb 503.5px 505.3px,#d47b97 505.3px 507.0px,#e5b0c1 507.0px 508.8px,#d17290 508.8px 510.5px,#d6e4f2 510.5px 512.3px,#f1d3dc 512.3px 514.0px,#d17290 514.0px 515.8px,#5a94cc 515.8px 517.5px,#d17290 517.5px 519.3px,#e5b0c1 519.3px 521.0px,#f1f6fb 521.0px 522.8px,#3179bf 522.8px 524.5px,#ebc1ce 524.5px 526.3px,#d17290 526.3px 528.1px,#da8ca5 528.1px 529.8px,#d6e4f2 529.8px 531.6px,#f9edf1 531.6px 533.3px,#2370bb 533.3px 535.1px,#d7849e 535.1px 536.8px,#da8ca5 536.8px 538.6px,#c8dbee 538.6px 540.3px,#fcf6f8 540.3px 542.1px,#2370bb 542.1px 543.8px,#d17290 543.8px 545.6px,#e8b8c8 545.6px 547.3px,#ebc1ce 547.3px 549.1px,#2370bb 549.1px 550.8px,#f1f6fb 550.8px 552.6px,#c8dbee 552.6px 554.4px,#eecad5 554.4px 556.1px,#5a94cc 556.1px 557.9px,#d17290 557.9px 559.6px,#e4edf6 559.6px 561.4px,#d7849e 561.4px 563.1px,#83afd9 563.1px 564.9px,#c8dbee 564.9px 566.6px,#e4edf6 566.6px 568.4px,#f4dce3 568.4px 570.1px,#2370bb 570.1px 571.9px,#ebc1ce 571.9px 573.6px,#e8b8c8 573.6px 575.4px,#2370bb 575.4px 577.1px,#9fc0e1 577.1px 578.9px,#5a94cc 578.9px 580.6px,#d47b97 580.6px 582.4px,#f1f6fb 582.4px 584.2px,#d17290 584.2px 585.9px,#e2a7ba 585.9px 587.7px,#d17290 587.7px 589.4px,#9fc0e1 589.4px 591.2px,#3e82c4 591.2px 592.9px,#f1d3dc 592.9px 594.7px,#acc9e6 594.7px 596.4px,#d17290 596.4px 598.2px,#91b8dd 598.2px 599.9px,#e8b8c8 599.9px 601.7px,#d17290 601.7px 605.2px,#76a6d4 605.2px 606.9px,#da8ca5 606.9px 608.7px,#ebc1ce 608.7px 610.4px,#2370bb 610.4px 612.2px,#da8ca5 612.2px 614.0px,#76a6d4 614.0px 615.7px,#d17290 615.7px 617.5px,#76a6d4 617.5px 619.2px,#da8ca5 619.2px 621.0px,#d17290 621.0px 622.7px,#acc9e6 622.7px 624.5px,#d17290 624.5px 626.2px,#f1f6fb 626.2px 628.0px,#2370bb 628.0px 629.7px,#d17290 629.7px 631.5px,#d47b97 631.5px 633.2px,#dc95ac 633.2px 635.0px,#f1f6fb 635.0px 636.7px,#e4edf6 636.7px 638.5px,#2370bb 638.5px 640.2px,#d17290 640.2px 642.0px,#d47b97 642.0px 643.8px,#acc9e6 643.8px 645.5px,#ebc1ce 645.5px 647.3px,#d17290 647.3px 649.0px,#e5b0c1 649.0px 650.8px,#ebc1ce 650.8px 652.5px,#d17290 652.5px 654.3px,#f6e5ea 654.3px 656.0px,#dc95ac 656.0px 657.8px,#e2a7ba 657.8px 659.5px,#f9edf1 659.5px 661.3px,#ffffff 661.3px 663.0px,#83afd9 663.0px 664.8px,#acc9e6 664.8px 666.5px,#2370bb 666.5px 668.3px,#e8b8c8 668.3px 671.8px,#5a94cc 671.8px 673.6px,#d17290 673.6px 675.3px,#d7849e 675.3px 677.1px,#91b8dd 677.1px 678.8px,#d17290 678.8px 680.6px,#2370bb 680.6px 682.3px,#d17290 682.3px 684.1px,#acc9e6 684.1px 685.8px,#2370bb 685.8px 687.6px,#689dd0 687.6px 689.3px,#2370bb 689.3px 691.1px,#d17290 691.1px 692.8px,#83afd9 692.8px 694.6px,#689dd0 694.6px 696.3px,#2370bb 696.3px 698.1px,#bad2ea 698.1px 701.6px,#d6e4f2 701.6px 703.4px,#ebc1ce 703.4px 705.1px,#5a94cc 705.1px 706.9px,#da8ca5 706.9px 708.6px,#f1f6fb 708.6px 710.4px,#d17290 710.4px 719.1px,#d7849e 719.1px 720.9px,#83afd9 720.9px 722.6px,#e5b0c1 722.6px 724.4px,#acc9e6 724.4px 726.1px,#9fc0e1 726.1px 727.9px,#d17290 727.9px 731.4px,#2370bb 731.4px 733.2px,#91b8dd 733.2px 736.7px,#d17290 736.7px 738.4px,#91b8dd 738.4px 740.2px,#4c8bc8 740.2px 741.9px,#91b8dd 741.9px 743.7px,#d17290 743.7px 745.4px,#e2a7ba 745.4px 747.2px,#df9eb3 747.2px 748.9px,#d17290 748.9px 750.7px,#ffffff 750.7px 752.4px,#d17290 752.4px 754.2px,#83afd9 754.2px 756.0px,#bad2ea 756.0px 757.7px,#91b8dd 757.7px 759.5px,#2370bb 759.5px 761.2px,#4c8bc8 761.2px 763.0px,#d17290 763.0px 764.7px,#91b8dd 764.7px 766.5px,#2370bb 766.5px 770.0px,#9fc0e1 770.0px 771.7px,#d47b97 771.7px 773.5px,#ebc1ce 773.5px 775.2px,#2370bb 775.2px 777.0px,#d17290 777.0px 778.7px,#f9edf1 778.7px 780.5px,#d17290 780.5px 782.2px,#e5b0c1 782.2px 784.0px,#d17290 784.0px 785.7px,#df9eb3 785.7px 787.5px,#76a6d4 787.5px 789.2px,#d17290 789.2px 791.0px,#2370bb 791.0px 792.7px,#d17290 792.7px 798.0px,#83afd9 798.0px 799.7px,#d17290 799.7px 803.2px,#2370bb 803.2px 805.0px,#e2a7ba 805.0px 806.7px,#d17290 806.7px 813.7px,#df9eb3 813.7px 815.4px,#da8ca5 815.4px 817.2px,#d17290 817.2px 822.4px,#f9edf1 822.4px 824.2px,#d17290 824.2px 825.9px,#d7849e 825.9px 827.7px,#dc95ac 827.7px 829.4px,#e8b8c8 829.4px 831.2px,#d47b97 831.2px 832.9px,#d17290 832.9px 834.7px,#dc95ac 834.7px 836.4px,#eecad5 836.4px 838.1px,#f1d3dc 838.1px 841.6px,#d17290 841.6px 850.4px,#2370bb 850.4px 852.1px,#d17290 852.1px 853.9px,#9fc0e1 853.9px 855.6px,#d17290 855.6px 857.4px,#da8ca5 857.4px 859.1px,#2370bb 859.1px 860.9px,#d17290 860.9px 866.1px,#2370bb 866.1px 869.6px,#d17290 869.6px 873.1px,#e8b8c8 873.1px 874.8px,#689dd0 874.8px 876.6px,#d17290 876.6px 878.3px,#76a6d4 878.3px 880.1px,#da8ca5 880.1px 881.8px,#acc9e6 881.8px 883.6px,#d17290 883.6px 885.3px,#91b8dd 885.3px 887.1px,#f9edf1 887.1px 888.8px,#76a6d4 888.8px 890.6px,#4c8bc8 890.6px 892.3px,#2370bb 892.3px 894.0px,#d17290 894.0px 902.8px,#c8dbee 902.8px 904.5px,#f1d3dc 904.5px 906.3px,#da8ca5 906.3px 908.0px,#f1d3dc 908.0px 909.8px,#df9eb3 909.8px 911.5px,#5a94cc 911.5px 913.3px,#689dd0 913.3px 915.0px,#2370bb 915.0px 916.8px,#9fc0e1 916.8px 918.5px,#d47b97 918.5px 920.2px,#d17290 920.2px 922.0px,#4c8bc8 922.0px 923.7px,#d7849e 923.7px 925.5px,#3179bf 925.5px 927.2px,#d17290 927.2px 929.0px,#d7849e 929.0px 930.7px,#eecad5 930.7px 932.5px,#d17290 932.5px 934.2px,#c8dbee 934.2px 936.0px,#d17290 936.0px 937.7px,#eecad5 937.7px 939.5px,#dc95ac 939.5px 941.2px,#4c8bc8 941.2px 943.0px,#d17290 943.0px 944.7px,#e2a7ba 944.7px 946.4px,#e5b0c1 946.4px 948.2px,#ebc1ce 948.2px 949.9px,#d17290 949.9px 955.2px,#f6e5ea 955.2px 956.9px,#da8ca5 956.9px 958.7px,#c8dbee 958.7px 960.4px,#d17290 960.4px 962.2px,#5a94cc 962.2px 963.9px,#4c8bc8 963.9px 965.7px,#d7849e 965.7px 967.4px,#d17290 967.4px 972.6px,#e4edf6 972.6px 974.4px,#f1d3dc 974.4px 976.1px,#fcf6f8 976.1px 977.9px,#f4dce3 977.9px 979.6px,#e2a7ba 979.6px 981.4px,#d17290 981.4px 986.6px,#ebc1ce 986.6px 988.4px,#d17290 988.4px 993.6px,#d47b97 993.6px 995.4px,#ebc1ce 995.4px 997.1px,#d17290 997.1px 998.9px,#e5b0c1 998.9px 1000.6px,#d17290 1000.6px 1002.3px,#2370bb 1002.3px 1004.1px,#ebc1ce 1004.1px 1005.8px,#689dd0 1005.8px 1007.6px,#83afd9 1007.6px 1009.3px,#d6e4f2 1009.3px 1011.1px,#dc95ac 1011.1px 1012.8px,#f1f6fb 1012.8px 1014.6px,#d17290 1014.6px 1016.3px,#f1d3dc 1016.3px 1018.1px,#76a6d4 1018.1px 1019.8px,#2370bb 1019.8px 1021.6px,#d17290 1021.6px 1025.1px,#df9eb3 1025.1px 1026.8px,#da8ca5 1026.8px 1028.5px,#4c8bc8 1028.5px 1030.3px,#e5b0c1 1030.3px 1033.8px,#d17290 1033.8px 1035.5px,#bad2ea 1035.5px 1037.3px,#d7849e 1037.3px 1039.0px,#acc9e6 1039.0px 1040.8px,#ebc1ce 1040.8px 1042.5px,#d17290 1042.5px 1044.3px,#da8ca5 1044.3px 1046.0px,#f6e5ea 1046.0px 1047.8px,#e2a7ba 1047.8px 1049.5px,#e8b8c8 1049.5px 1051.3px,#d17290 1051.3px 1053.0px)"></div><div class="r" style="top:253.68px;height:31.28px;background:linear-gradient(90deg,#91b8dd 0.0px 1.7px,#76a6d4 1.7px 3.5px,#91b8dd 3.5px 5.2px,#dc95ac 5.2px 7.0px,#9fc0e1 7.0px 8.7px,#5a94cc 8.7px 10.5px,#2370bb 10.5px 12.2px,#acc9e6 12.2px 14.0px,#e4edf6 14.0px 15.7px,#91b8dd 15.7px 17.5px,#9fc0e1 17.5px 19.2px,#689dd0 19.2px 21.0px,#c8dbee 21.0px 22.7px,#d6e4f2 22.7px 24.5px,#689dd0 24.5px 26.2px,#acc9e6 26.2px 27.9px,#5a94cc 27.9px 29.7px,#d6e4f2 29.7px 31.4px,#c8dbee 31.4px 33.2px,#2370bb 33.2px 34.9px,#5a94cc 34.9px 36.7px,#3e82c4 36.7px 40.2px,#83afd9 40.2px 41.9px,#bad2ea 41.9px 43.7px,#91b8dd 43.7px 45.4px,#83afd9 45.4px 47.2px,#f1d3dc 47.2px 48.9px,#91b8dd 48.9px 50.6px,#3179bf 50.6px 52.4px,#bad2ea 52.4px 54.1px,#2370bb 54.1px 57.6px,#3e82c4 57.6px 59.4px,#d17290 59.4px 61.1px,#5a94cc 61.1px 62.9px,#91b8dd 62.9px 64.6px,#d7849e 64.6px 66.4px,#3e82c4 66.4px 68.1px,#f9edf1 68.1px 69.9px,#d6e4f2 69.9px 71.6px,#2370bb 71.6px 73.4px,#3179bf 73.4px 75.1px,#5a94cc 75.1px 76.8px,#acc9e6 76.8px 78.6px,#91b8dd 78.6px 80.3px,#c8dbee 80.3px 82.1px,#f1f6fb 82.1px 83.8px,#3e82c4 83.8px 85.6px,#9fc0e1 85.6px 87.3px,#91b8dd 87.3px 89.1px,#3e82c4 89.1px 92.6px,#689dd0 92.6px 94.3px,#d47b97 94.3px 96.1px,#3179bf 96.1px 97.8px,#83afd9 97.8px 99.5px,#bad2ea 99.5px 101.3px,#83afd9 101.3px 103.0px,#76a6d4 103.0px 104.8px,#acc9e6 104.8px 106.5px,#5a94cc 106.5px 108.3px,#3e82c4 108.3px 110.0px,#2370bb 110.0px 111.8px,#9fc0e1 111.8px 113.5px,#3179bf 113.5px 115.3px,#d17290 115.3px 117.0px,#d6e4f2 117.0px 118.8px,#e5b0c1 118.8px 120.5px,#e2a7ba 120.5px 122.3px,#3179bf 122.3px 124.0px,#2370bb 124.0px 125.7px,#c8dbee 125.7px 127.5px,#689dd0 127.5px 129.2px,#e2a7ba 129.2px 131.0px,#689dd0 131.0px 132.7px,#83afd9 132.7px 134.5px,#76a6d4 134.5px 136.2px,#4c8bc8 136.2px 138.0px,#76a6d4 138.0px 139.7px,#4c8bc8 139.7px 141.5px,#76a6d4 141.5px 143.2px,#83afd9 143.2px 145.0px,#76a6d4 145.0px 146.7px,#2370bb 146.7px 153.7px,#5a94cc 153.7px 155.4px,#2370bb 155.4px 157.2px,#91b8dd 157.2px 158.9px,#ffffff 158.9px 160.7px,#91b8dd 160.7px 162.4px,#83afd9 162.4px 164.2px,#3e82c4 164.2px 165.9px,#f1d3dc 165.9px 167.7px,#91b8dd 167.7px 169.4px,#3179bf 169.4px 171.2px,#5a94cc 171.2px 172.9px,#76a6d4 172.9px 174.6px,#4c8bc8 174.6px 176.4px,#3179bf 176.4px 178.1px,#4c8bc8 178.1px 179.9px,#76a6d4 179.9px 181.6px,#3179bf 181.6px 183.4px,#3e82c4 183.4px 185.1px,#acc9e6 185.1px 186.9px,#5a94cc 186.9px 188.6px,#2370bb 188.6px 190.4px,#3e82c4 190.4px 192.1px,#2370bb 192.1px 193.9px,#9fc0e1 193.9px 195.6px,#2370bb 195.6px 197.3px,#d17290 197.3px 199.1px,#9fc0e1 199.1px 200.8px,#e4edf6 200.8px 202.6px,#2370bb 202.6px 204.3px,#3e82c4 204.3px 206.1px,#eecad5 206.1px 207.8px,#83afd9 207.8px 209.6px,#bad2ea 209.6px 211.3px,#fcf6f8 211.3px 213.1px,#83afd9 213.1px 214.8px,#5a94cc 214.8px 218.3px,#2370bb 218.3px 223.5px,#d17290 223.5px 225.3px,#689dd0 225.3px 227.0px,#c8dbee 227.0px 228.8px,#9fc0e1 228.8px 230.5px,#bad2ea 230.5px 232.3px,#76a6d4 232.3px 234.0px,#4c8bc8 234.0px 235.8px,#5a94cc 235.8px 237.5px,#acc9e6 237.5px 239.3px,#c8dbee 239.3px 241.0px,#9fc0e1 241.0px 242.8px,#2370bb 242.8px 244.5px,#acc9e6 244.5px 246.2px,#4c8bc8 246.2px 248.0px,#5a94cc 248.0px 249.7px,#3179bf 249.7px 251.5px,#bad2ea 251.5px 253.2px,#2370bb 253.2px 255.0px,#76a6d4 255.0px 256.7px,#d6e4f2 256.7px 258.5px,#f1f6fb 258.5px 260.2px,#e4edf6 260.2px 262.0px,#2370bb 262.0px 263.7px,#83afd9 263.7px 265.5px,#bad2ea 265.5px 267.2px,#91b8dd 267.2px 269.0px,#5a94cc 269.0px 270.7px,#3e82c4 270.7px 272.5px,#bad2ea 272.5px 274.2px,#2370bb 274.2px 276.0px,#eecad5 276.0px 277.7px,#3e82c4 277.7px 279.5px,#83afd9 279.5px 281.2px,#e4edf6 281.2px 283.0px,#d7849e 283.0px 284.7px,#c8dbee 284.7px 286.5px,#3e82c4 286.5px 288.2px,#da8ca5 288.2px 290.0px,#689dd0 290.0px 291.7px,#5a94cc 291.7px 293.5px,#d6e4f2 293.5px 295.2px,#2370bb 295.2px 298.7px,#d6e4f2 298.7px 300.5px,#d17290 300.5px 302.2px,#bad2ea 302.2px 304.0px,#4c8bc8 304.0px 305.7px,#d17290 305.7px 307.5px,#2370bb 307.5px 309.2px,#76a6d4 309.2px 311.0px,#9fc0e1 311.0px 312.7px,#2370bb 312.7px 314.5px,#4c8bc8 314.5px 316.2px,#2370bb 316.2px 318.0px,#3e82c4 318.0px 319.7px,#689dd0 319.7px 323.2px,#2370bb 323.2px 325.0px,#acc9e6 325.0px 326.7px,#e8b8c8 326.7px 328.5px,#91b8dd 328.5px 330.2px,#4c8bc8 330.2px 332.0px,#2370bb 332.0px 333.7px,#bad2ea 333.7px 335.5px,#d7849e 335.5px 337.2px,#9fc0e1 337.2px 339.0px,#d17290 339.0px 340.7px,#91b8dd 340.7px 342.5px,#4c8bc8 342.5px 344.2px,#9fc0e1 344.2px 346.0px,#c8dbee 346.0px 347.7px,#4c8bc8 347.7px 349.5px,#3179bf 349.5px 351.2px,#5a94cc 351.2px 353.0px,#c8dbee 353.0px 354.7px,#76a6d4 354.7px 356.5px,#e4edf6 356.5px 358.2px,#689dd0 358.2px 360.0px,#83afd9 360.0px 361.7px,#e4edf6 361.7px 363.5px,#f1f6fb 363.5px 365.2px,#d17290 365.2px 367.0px,#3179bf 367.0px 368.7px,#83afd9 368.7px 372.2px,#3e82c4 372.2px 374.0px,#d6e4f2 374.0px 375.7px,#9fc0e1 375.7px 377.5px,#e2a7ba 377.5px 379.2px,#3179bf 379.2px 381.0px,#d17290 381.0px 382.7px,#2370bb 382.7px 384.5px,#c8dbee 384.5px 386.2px,#689dd0 386.2px 388.0px,#2370bb 388.0px 389.7px,#acc9e6 389.7px 391.5px,#3e82c4 391.5px 393.2px,#76a6d4 393.2px 395.0px,#91b8dd 395.0px 396.7px,#3e82c4 396.7px 398.5px,#9fc0e1 398.5px 400.2px,#d17290 400.2px 402.0px,#c8dbee 402.0px 403.7px,#83afd9 403.7px 405.5px,#bad2ea 405.5px 407.2px,#e5b0c1 407.2px 409.0px,#76a6d4 409.0px 410.7px,#d6e4f2 410.7px 412.5px,#3e82c4 412.5px 414.2px,#91b8dd 414.2px 416.0px,#bad2ea 416.0px 417.7px,#91b8dd 417.7px 419.5px,#ffffff 419.5px 421.2px,#689dd0 421.2px 423.0px,#dc95ac 423.0px 424.7px,#2370bb 424.7px 426.5px,#d17290 426.5px 428.2px,#91b8dd 428.2px 430.0px,#4c8bc8 430.0px 431.7px,#9fc0e1 431.7px 433.5px,#f1f6fb 433.5px 435.2px,#5a94cc 435.2px 437.0px,#e4edf6 437.0px 438.7px,#bad2ea 438.7px 440.5px,#d7849e 440.5px 442.2px,#2370bb 442.2px 445.7px,#83afd9 445.7px 447.5px,#c8dbee 447.5px 449.2px,#5a94cc 449.2px 451.0px,#2370bb 451.0px 452.7px,#fcf6f8 452.7px 454.5px,#9fc0e1 454.5px 456.2px,#bad2ea 456.2px 458.0px,#76a6d4 458.0px 459.7px,#5a94cc 459.7px 461.5px,#d7849e 461.5px 463.2px,#5a94cc 463.2px 465.0px,#9fc0e1 465.0px 466.7px,#5a94cc 466.7px 468.5px,#91b8dd 468.5px 470.2px,#9fc0e1 470.2px 472.0px,#2370bb 472.0px 473.7px,#5a94cc 473.7px 475.5px,#9fc0e1 475.5px 479.0px,#d17290 479.0px 480.7px,#4c8bc8 480.7px 482.5px,#689dd0 482.5px 484.2px,#76a6d4 484.2px 486.0px,#91b8dd 486.0px 487.7px,#4c8bc8 487.7px 489.5px,#689dd0 489.5px 491.2px,#2370bb 491.2px 494.7px,#d17290 494.7px 498.3px,#e4edf6 498.3px 500.0px,#c8dbee 500.0px 501.8px,#689dd0 501.8px 503.5px,#f6e5ea 503.5px 505.3px,#eecad5 505.3px 507.0px,#e8b8c8 507.0px 508.8px,#4c8bc8 508.8px 510.5px,#689dd0 510.5px 512.3px,#e4edf6 512.3px 514.0px,#d17290 514.0px 515.8px,#9fc0e1 515.8px 517.5px,#c8dbee 517.5px 519.3px,#bad2ea 519.3px 521.0px,#d6e4f2 521.0px 522.8px,#d17290 522.8px 524.5px,#ffffff 524.5px 526.3px,#2370bb 526.3px 528.1px,#c8dbee 528.1px 529.8px,#ffffff 529.8px 531.6px,#d17290 531.6px 533.3px,#3e82c4 533.3px 535.1px,#c8dbee 535.1px 536.8px,#689dd0 536.8px 538.6px,#2370bb 538.6px 540.3px,#83afd9 540.3px 542.1px,#76a6d4 542.1px 543.8px,#9fc0e1 543.8px 545.6px,#c8dbee 545.6px 547.3px,#acc9e6 547.3px 549.1px,#dc95ac 549.1px 550.8px,#d17290 550.8px 552.6px,#ffffff 552.6px 554.4px,#e4edf6 554.4px 556.1px,#4c8bc8 556.1px 557.9px,#689dd0 557.9px 559.6px,#9fc0e1 559.6px 561.4px,#da8ca5 561.4px 563.1px,#2370bb 563.1px 564.9px,#f1f6fb 564.9px 566.6px,#d17290 566.6px 568.4px,#4c8bc8 568.4px 570.1px,#3179bf 570.1px 571.9px,#e4edf6 571.9px 573.6px,#f6e5ea 573.6px 575.4px,#bad2ea 575.4px 577.1px,#9fc0e1 577.1px 580.6px,#76a6d4 580.6px 582.4px,#d17290 582.4px 584.2px,#e4edf6 584.2px 585.9px,#91b8dd 585.9px 587.7px,#f1d3dc 587.7px 589.4px,#2370bb 589.4px 591.2px,#83afd9 591.2px 592.9px,#d17290 592.9px 596.4px,#bad2ea 596.4px 598.2px,#d17290 598.2px 599.9px,#bad2ea 599.9px 601.7px,#5a94cc 601.7px 603.4px,#c8dbee 603.4px 605.2px,#83afd9 605.2px 606.9px,#91b8dd 606.9px 608.7px,#d17290 608.7px 610.4px,#2370bb 610.4px 612.2px,#acc9e6 612.2px 615.7px,#5a94cc 615.7px 617.5px,#df9eb3 617.5px 619.2px,#5a94cc 619.2px 621.0px,#ebc1ce 621.0px 622.7px,#91b8dd 622.7px 624.5px,#e4edf6 624.5px 626.2px,#2370bb 626.2px 628.0px,#e5b0c1 628.0px 629.7px,#2370bb 629.7px 631.5px,#689dd0 631.5px 633.2px,#d17290 633.2px 635.0px,#bad2ea 635.0px 636.7px,#9fc0e1 636.7px 638.5px,#c8dbee 638.5px 640.2px,#91b8dd 640.2px 642.0px,#9fc0e1 642.0px 643.8px,#f9edf1 643.8px 645.5px,#d6e4f2 645.5px 647.3px,#ffffff 647.3px 649.0px,#f4dce3 649.0px 650.8px,#3179bf 650.8px 652.5px,#eecad5 652.5px 654.3px,#e8b8c8 654.3px 656.0px,#ffffff 656.0px 657.8px,#83afd9 657.8px 659.5px,#f1d3dc 659.5px 661.3px,#ffffff 661.3px 663.0px,#5a94cc 663.0px 664.8px,#d17290 664.8px 666.5px,#c8dbee 666.5px 668.3px,#dc95ac 668.3px 670.1px,#acc9e6 670.1px 671.8px,#689dd0 671.8px 673.6px,#83afd9 673.6px 675.3px,#91b8dd 675.3px 677.1px,#9fc0e1 677.1px 678.8px,#3e82c4 678.8px 680.6px,#d17290 680.6px 682.3px,#ebc1ce 682.3px 684.1px,#d17290 684.1px 685.8px,#689dd0 685.8px 687.6px,#ffffff 687.6px 689.3px,#da8ca5 689.3px 691.1px,#76a6d4 691.1px 692.8px,#d17290 692.8px 694.6px,#91b8dd 694.6px 696.3px,#5a94cc 696.3px 698.1px,#c8dbee 698.1px 699.9px,#3e82c4 699.9px 701.6px,#d17290 701.6px 703.4px,#dc95ac 703.4px 705.1px,#bad2ea 705.1px 706.9px,#3e82c4 706.9px 708.6px,#e4edf6 708.6px 712.1px,#e2a7ba 712.1px 713.9px,#91b8dd 713.9px 715.6px,#d17290 715.6px 717.4px,#2370bb 717.4px 719.1px,#d17290 719.1px 720.9px,#acc9e6 720.9px 722.6px,#e8b8c8 722.6px 724.4px,#e2a7ba 724.4px 726.1px,#d17290 726.1px 727.9px,#bad2ea 727.9px 729.7px,#83afd9 729.7px 731.4px,#3e82c4 731.4px 733.2px,#c8dbee 733.2px 734.9px,#dc95ac 734.9px 736.7px,#eecad5 736.7px 738.4px,#d17290 738.4px 740.2px,#689dd0 740.2px 741.9px,#4c8bc8 741.9px 743.7px,#d17290 743.7px 745.4px,#3e82c4 745.4px 747.2px,#5a94cc 747.2px 748.9px,#83afd9 748.9px 750.7px,#acc9e6 750.7px 752.4px,#fcf6f8 752.4px 754.2px,#3e82c4 754.2px 756.0px,#fcf6f8 756.0px 757.7px,#9fc0e1 757.7px 759.5px,#bad2ea 759.5px 761.2px,#5a94cc 761.2px 763.0px,#e4edf6 763.0px 764.7px,#d17290 764.7px 766.5px,#da8ca5 766.5px 768.2px,#e4edf6 768.2px 770.0px,#91b8dd 770.0px 771.7px,#76a6d4 771.7px 773.5px,#3179bf 773.5px 775.2px,#df9eb3 775.2px 777.0px,#83afd9 777.0px 778.7px,#fcf6f8 778.7px 780.5px,#9fc0e1 780.5px 782.2px,#76a6d4 782.2px 784.0px,#91b8dd 784.0px 785.7px,#bad2ea 785.7px 787.5px,#d7849e 787.5px 789.2px,#91b8dd 789.2px 791.0px,#d17290 791.0px 794.5px,#9fc0e1 794.5px 796.2px,#bad2ea 796.2px 798.0px,#689dd0 798.0px 799.7px,#d17290 799.7px 801.5px,#acc9e6 801.5px 803.2px,#df9eb3 803.2px 805.0px,#3179bf 805.0px 806.7px,#e5b0c1 806.7px 808.5px,#91b8dd 808.5px 810.2px,#dc95ac 810.2px 811.9px,#d6e4f2 811.9px 813.7px,#f4dce3 813.7px 815.4px,#3179bf 815.4px 817.2px,#c8dbee 817.2px 818.9px,#ffffff 818.9px 820.7px,#689dd0 820.7px 822.4px,#f1f6fb 822.4px 824.2px,#da8ca5 824.2px 825.9px,#f1f6fb 825.9px 827.7px,#d17290 827.7px 829.4px,#f6e5ea 829.4px 831.2px,#83afd9 831.2px 838.1px,#d47b97 838.1px 839.9px,#f9edf1 839.9px 841.6px,#bad2ea 841.6px 843.4px,#acc9e6 843.4px 845.1px,#df9eb3 845.1px 846.9px,#d17290 846.9px 848.6px,#dc95ac 848.6px 850.4px,#83afd9 850.4px 852.1px,#f1f6fb 852.1px 853.9px,#91b8dd 853.9px 855.6px,#df9eb3 855.6px 857.4px,#d17290 857.4px 859.1px,#c8dbee 859.1px 860.9px,#5a94cc 860.9px 862.6px,#3179bf 862.6px 864.4px,#91b8dd 864.4px 866.1px,#5a94cc 866.1px 867.8px,#91b8dd 867.8px 869.6px,#2370bb 869.6px 871.3px,#d17290 871.3px 873.1px,#9fc0e1 873.1px 874.8px,#d17290 874.8px 876.6px,#d6e4f2 876.6px 878.3px,#d47b97 878.3px 880.1px,#f1d3dc 880.1px 881.8px,#d47b97 881.8px 883.6px,#e4edf6 883.6px 885.3px,#d17290 885.3px 887.1px,#d47b97 887.1px 888.8px,#83afd9 888.8px 890.6px,#c8dbee 890.6px 892.3px,#acc9e6 892.3px 894.0px,#d17290 894.0px 897.5px,#83afd9 897.5px 899.3px,#4c8bc8 899.3px 901.0px,#e2a7ba 901.0px 902.8px,#91b8dd 902.8px 904.5px,#da8ca5 904.5px 906.3px,#f1f6fb 906.3px 908.0px,#d17290 908.0px 909.8px,#e5b0c1 909.8px 911.5px,#76a6d4 911.5px 913.3px,#d17290 913.3px 915.0px,#f9edf1 915.0px 916.8px,#fcf6f8 916.8px 918.5px,#689dd0 918.5px 920.2px,#91b8dd 920.2px 922.0px,#76a6d4 922.0px 923.7px,#ebc1ce 923.7px 925.5px,#acc9e6 925.5px 927.2px,#c8dbee 927.2px 929.0px,#2370bb 929.0px 930.7px,#9fc0e1 930.7px 932.5px,#dc95ac 932.5px 934.2px,#d17290 934.2px 937.7px,#83afd9 937.7px 939.5px,#d17290 939.5px 941.2px,#91b8dd 941.2px 943.0px,#e4edf6 943.0px 944.7px,#3e82c4 944.7px 946.4px,#e4edf6 946.4px 949.9px,#ebc1ce 949.9px 951.7px,#d6e4f2 951.7px 953.4px,#d17290 953.4px 955.2px,#acc9e6 955.2px 956.9px,#d17290 956.9px 958.7px,#e2a7ba 958.7px 960.4px,#5a94cc 960.4px 962.2px,#e8b8c8 962.2px 963.9px,#d17290 963.9px 965.7px,#f1d3dc 965.7px 967.4px,#e4edf6 967.4px 969.2px,#91b8dd 969.2px 970.9px,#f1f6fb 970.9px 972.6px,#c8dbee 972.6px 974.4px,#acc9e6 974.4px 976.1px,#e4edf6 976.1px 977.9px,#ffffff 977.9px 979.6px,#fcf6f8 979.6px 981.4px,#ffffff 981.4px 983.1px,#f1f6fb 983.1px 984.9px,#dc95ac 984.9px 986.6px,#9fc0e1 986.6px 988.4px,#2370bb 988.4px 990.1px,#91b8dd 990.1px 991.9px,#9fc0e1 991.9px 993.6px,#f9edf1 993.6px 995.4px,#d17290 995.4px 997.1px,#4c8bc8 997.1px 998.9px,#2370bb 998.9px 1000.6px,#76a6d4 1000.6px 1002.3px,#bad2ea 1002.3px 1004.1px,#f1d3dc 1004.1px 1005.8px,#e8b8c8 1005.8px 1009.3px,#4c8bc8 1009.3px 1011.1px,#f9edf1 1011.1px 1012.8px,#76a6d4 1012.8px 1014.6px,#91b8dd 1014.6px 1016.3px,#e8b8c8 1016.3px 1018.1px,#d6e4f2 1018.1px 1019.8px,#91b8dd 1019.8px 1021.6px,#d47b97 1021.6px 1023.3px,#76a6d4 1023.3px 1026.8px,#fcf6f8 1026.8px 1028.5px,#dc95ac 1028.5px 1030.3px,#e4edf6 1030.3px 1032.0px,#83afd9 1032.0px 1033.8px,#4c8bc8 1033.8px 1035.5px,#c8dbee 1035.5px 1037.3px,#5a94cc 1037.3px 1039.0px,#acc9e6 1039.0px 1040.8px,#ffffff 1040.8px 1042.5px,#91b8dd 1042.5px 1044.3px,#76a6d4 1044.3px 1046.0px,#ffffff 1046.0px 1047.8px,#9fc0e1 1047.8px 1049.5px,#df9eb3 1049.5px 1051.3px,#d47b97 1051.3px 1053.0px)"></div><div class="r" style="top:284.96px;height:31.28px;background:linear-gradient(90deg,#ffffff 0.0px 1.7px,#d17290 1.7px 3.5px,#d6e4f2 3.5px 5.2px,#d17290 5.2px 7.0px,#d47b97 7.0px 8.7px,#2370bb 8.7px 10.5px,#acc9e6 10.5px 12.2px,#2370bb 12.2px 14.0px,#d17290 14.0px 15.7px,#e5b0c1 15.7px 17.5px,#e8b8c8 17.5px 19.2px,#ebc1ce 19.2px 21.0px,#c8dbee 21.0px 22.7px,#d17290 22.7px 24.5px,#83afd9 24.5px 26.2px,#d47b97 26.2px 27.9px,#df9eb3 27.9px 29.7px,#dc95ac 29.7px 31.4px,#acc9e6 31.4px 34.9px,#f1d3dc 34.9px 36.7px,#eecad5 36.7px 38.4px,#5a94cc 38.4px 40.2px,#d17290 40.2px 41.9px,#f1d3dc 41.9px 43.7px,#d17290 43.7px 45.4px,#dc95ac 45.4px 47.2px,#f1f6fb 47.2px 48.9px,#76a6d4 48.9px 50.6px,#2370bb 50.6px 52.4px,#f1d3dc 52.4px 54.1px,#ffffff 54.1px 55.9px,#bad2ea 55.9px 57.6px,#ebc1ce 57.6px 59.4px,#d47b97 59.4px 61.1px,#c8dbee 61.1px 62.9px,#d17290 62.9px 64.6px,#da8ca5 64.6px 66.4px,#e4edf6 66.4px 68.1px,#f1f6fb 68.1px 69.9px,#d17290 69.9px 71.6px,#e2a7ba 71.6px 73.4px,#91b8dd 73.4px 75.1px,#ebc1ce 75.1px 76.8px,#d17290 76.8px 78.6px,#df9eb3 78.6px 80.3px,#2370bb 80.3px 82.1px,#f1f6fb 82.1px 83.8px,#d6e4f2 83.8px 85.6px,#689dd0 85.6px 87.3px,#d17290 87.3px 89.1px,#d6e4f2 89.1px 90.8px,#76a6d4 90.8px 92.6px,#d47b97 92.6px 94.3px,#da8ca5 94.3px 96.1px,#d47b97 96.1px 97.8px,#2370bb 97.8px 99.5px,#83afd9 99.5px 101.3px,#2370bb 101.3px 103.0px,#df9eb3 103.0px 104.8px,#2370bb 104.8px 106.5px,#3179bf 106.5px 108.3px,#4c8bc8 108.3px 110.0px,#dc95ac 110.0px 111.8px,#689dd0 111.8px 115.3px,#d6e4f2 115.3px 117.0px,#5a94cc 117.0px 118.8px,#91b8dd 118.8px 120.5px,#f1f6fb 120.5px 122.3px,#2370bb 122.3px 127.5px,#3e82c4 127.5px 129.2px,#2370bb 129.2px 131.0px,#5a94cc 131.0px 132.7px,#689dd0 132.7px 134.5px,#2370bb 134.5px 136.2px,#f1f6fb 136.2px 138.0px,#d17290 138.0px 139.7px,#2370bb 139.7px 141.5px,#acc9e6 141.5px 143.2px,#d17290 143.2px 146.7px,#76a6d4 146.7px 148.4px,#83afd9 148.4px 150.2px,#2370bb 150.2px 151.9px,#3179bf 151.9px 153.7px,#689dd0 153.7px 155.4px,#f6e5ea 155.4px 157.2px,#9fc0e1 157.2px 158.9px,#2370bb 158.9px 160.7px,#5a94cc 160.7px 162.4px,#689dd0 162.4px 164.2px,#9fc0e1 164.2px 165.9px,#2370bb 165.9px 169.4px,#fcf6f8 169.4px 171.2px,#d17290 171.2px 174.6px,#76a6d4 174.6px 176.4px,#d47b97 176.4px 178.1px,#2370bb 178.1px 181.6px,#da8ca5 181.6px 183.4px,#d17290 183.4px 185.1px,#c8dbee 185.1px 186.9px,#f1f6fb 186.9px 188.6px,#d47b97 188.6px 190.4px,#2370bb 190.4px 192.1px,#83afd9 192.1px 195.6px,#91b8dd 195.6px 197.3px,#9fc0e1 197.3px 199.1px,#acc9e6 199.1px 200.8px,#ebc1ce 200.8px 202.6px,#689dd0 202.6px 204.3px,#f1f6fb 204.3px 206.1px,#c8dbee 206.1px 207.8px,#83afd9 207.8px 209.6px,#bad2ea 209.6px 211.3px,#2370bb 211.3px 214.8px,#acc9e6 214.8px 218.3px,#2370bb 218.3px 220.1px,#9fc0e1 220.1px 221.8px,#4c8bc8 221.8px 223.5px,#acc9e6 223.5px 225.3px,#2370bb 225.3px 228.8px,#9fc0e1 228.8px 230.5px,#f1f6fb 230.5px 232.3px,#3e82c4 232.3px 234.0px,#f6e5ea 234.0px 235.8px,#83afd9 235.8px 237.5px,#689dd0 237.5px 239.3px,#d17290 239.3px 241.0px,#e2a7ba 241.0px 242.8px,#3e82c4 242.8px 244.5px,#76a6d4 244.5px 246.2px,#9fc0e1 246.2px 248.0px,#d17290 248.0px 249.7px,#2370bb 249.7px 251.5px,#d17290 251.5px 253.2px,#3179bf 253.2px 255.0px,#df9eb3 255.0px 256.7px,#2370bb 256.7px 258.5px,#689dd0 258.5px 262.0px,#2370bb 262.0px 265.5px,#76a6d4 265.5px 267.2px,#3179bf 267.2px 269.0px,#2370bb 269.0px 270.7px,#d17290 270.7px 272.5px,#2370bb 272.5px 274.2px,#acc9e6 274.2px 276.0px,#d17290 276.0px 277.7px,#689dd0 277.7px 279.5px,#acc9e6 279.5px 281.2px,#d17290 281.2px 283.0px,#dc95ac 283.0px 284.7px,#d17290 284.7px 286.5px,#bad2ea 286.5px 288.2px,#d17290 288.2px 291.7px,#e2a7ba 291.7px 293.5px,#dc95ac 293.5px 295.2px,#d17290 295.2px 297.0px,#2370bb 297.0px 298.7px,#dc95ac 298.7px 300.5px,#d17290 300.5px 304.0px,#d47b97 304.0px 305.7px,#d7849e 305.7px 307.5px,#e5b0c1 307.5px 309.2px,#d47b97 309.2px 311.0px,#d17290 311.0px 312.7px,#da8ca5 312.7px 314.5px,#d17290 314.5px 316.2px,#689dd0 316.2px 318.0px,#2370bb 318.0px 321.5px,#5a94cc 321.5px 323.2px,#acc9e6 323.2px 325.0px,#d17290 325.0px 326.7px,#3179bf 326.7px 328.5px,#fcf6f8 328.5px 330.2px,#2370bb 330.2px 332.0px,#d17290 332.0px 333.7px,#2370bb 333.7px 335.5px,#3179bf 335.5px 337.2px,#76a6d4 337.2px 339.0px,#689dd0 339.0px 340.7px,#f4dce3 340.7px 342.5px,#2370bb 342.5px 346.0px,#689dd0 346.0px 347.7px,#acc9e6 347.7px 349.5px,#f1f6fb 349.5px 351.2px,#2370bb 351.2px 353.0px,#fcf6f8 353.0px 354.7px,#e5b0c1 354.7px 356.5px,#d17290 356.5px 358.2px,#5a94cc 358.2px 360.0px,#f1f6fb 360.0px 361.7px,#2370bb 361.7px 363.5px,#d17290 363.5px 365.2px,#3e82c4 365.2px 367.0px,#689dd0 367.0px 368.7px,#83afd9 368.7px 370.5px,#2370bb 370.5px 372.2px,#5a94cc 372.2px 374.0px,#df9eb3 374.0px 375.7px,#689dd0 375.7px 377.5px,#f1f6fb 377.5px 379.2px,#2370bb 379.2px 381.0px,#c8dbee 381.0px 382.7px,#f1f6fb 382.7px 384.5px,#d7849e 384.5px 386.2px,#d17290 386.2px 388.0px,#76a6d4 388.0px 389.7px,#d17290 389.7px 391.5px,#4c8bc8 391.5px 393.2px,#3e82c4 393.2px 395.0px,#c8dbee 395.0px 396.7px,#76a6d4 396.7px 398.5px,#dc95ac 398.5px 400.2px,#83afd9 400.2px 402.0px,#5a94cc 402.0px 403.7px,#689dd0 403.7px 405.5px,#df9eb3 405.5px 407.2px,#2370bb 407.2px 410.7px,#d17290 410.7px 412.5px,#f6e5ea 412.5px 414.2px,#d17290 414.2px 416.0px,#2370bb 416.0px 417.7px,#3e82c4 417.7px 419.5px,#4c8bc8 419.5px 421.2px,#ffffff 421.2px 423.0px,#2370bb 423.0px 424.7px,#ebc1ce 424.7px 426.5px,#d17290 426.5px 428.2px,#2370bb 428.2px 431.7px,#d47b97 431.7px 433.5px,#2370bb 433.5px 435.2px,#ffffff 435.2px 437.0px,#2370bb 437.0px 438.7px,#acc9e6 438.7px 440.5px,#eecad5 440.5px 442.2px,#3e82c4 442.2px 444.0px,#bad2ea 444.0px 445.7px,#acc9e6 445.7px 447.5px,#da8ca5 447.5px 449.2px,#d6e4f2 449.2px 451.0px,#da8ca5 451.0px 452.7px,#f9edf1 452.7px 454.5px,#4c8bc8 454.5px 456.2px,#5a94cc 456.2px 458.0px,#3e82c4 458.0px 459.7px,#2370bb 459.7px 463.2px,#3179bf 463.2px 465.0px,#acc9e6 465.0px 466.7px,#2370bb 466.7px 468.5px,#acc9e6 468.5px 470.2px,#2370bb 470.2px 472.0px,#689dd0 472.0px 473.7px,#df9eb3 473.7px 475.5px,#d17290 475.5px 477.2px,#d6e4f2 477.2px 479.0px,#2370bb 479.0px 480.7px,#e5b0c1 480.7px 482.5px,#3e82c4 482.5px 484.2px,#d17290 484.2px 486.0px,#f1f6fb 486.0px 489.5px,#d17290 489.5px 491.2px,#3179bf 491.2px 493.0px,#76a6d4 493.0px 494.7px,#2370bb 494.7px 496.5px,#689dd0 496.5px 498.3px,#2370bb 498.3px 500.0px,#d47b97 500.0px 501.8px,#acc9e6 501.8px 503.5px,#83afd9 503.5px 505.3px,#d17290 505.3px 507.0px,#d7849e 507.0px 508.8px,#f9edf1 508.8px 510.5px,#da8ca5 510.5px 512.3px,#2370bb 512.3px 514.0px,#f9edf1 514.0px 515.8px,#3179bf 515.8px 517.5px,#ebc1ce 517.5px 519.3px,#e8b8c8 519.3px 521.0px,#2370bb 521.0px 522.8px,#9fc0e1 522.8px 524.5px,#d17290 524.5px 526.3px,#da8ca5 526.3px 528.1px,#d17290 528.1px 529.8px,#2370bb 529.8px 531.6px,#d17290 531.6px 535.1px,#dc95ac 535.1px 536.8px,#d17290 536.8px 538.6px,#da8ca5 538.6px 540.3px,#dc95ac 540.3px 542.1px,#c8dbee 542.1px 543.8px,#d17290 543.8px 545.6px,#f1f6fb 545.6px 547.3px,#da8ca5 547.3px 549.1px,#ffffff 549.1px 550.8px,#d17290 550.8px 552.6px,#2370bb 552.6px 554.4px,#d17290 554.4px 556.1px,#d7849e 556.1px 557.9px,#dc95ac 557.9px 559.6px,#2370bb 559.6px 561.4px,#da8ca5 561.4px 563.1px,#d17290 563.1px 564.9px,#ebc1ce 564.9px 566.6px,#bad2ea 566.6px 568.4px,#d17290 568.4px 570.1px,#ffffff 570.1px 571.9px,#d17290 571.9px 573.6px,#3179bf 573.6px 575.4px,#4c8bc8 575.4px 577.1px,#df9eb3 577.1px 578.9px,#d17290 578.9px 580.6px,#2370bb 580.6px 582.4px,#91b8dd 582.4px 584.2px,#d7849e 584.2px 585.9px,#eecad5 585.9px 587.7px,#5a94cc 587.7px 589.4px,#da8ca5 589.4px 591.2px,#bad2ea 591.2px 592.9px,#d47b97 592.9px 594.7px,#2370bb 594.7px 596.4px,#d47b97 596.4px 598.2px,#d17290 598.2px 599.9px,#e2a7ba 599.9px 601.7px,#d17290 601.7px 605.2px,#83afd9 605.2px 606.9px,#e4edf6 606.9px 608.7px,#bad2ea 608.7px 610.4px,#76a6d4 610.4px 612.2px,#d47b97 612.2px 614.0px,#76a6d4 614.0px 615.7px,#2370bb 615.7px 617.5px,#dc95ac 617.5px 619.2px,#2370bb 619.2px 621.0px,#e2a7ba 621.0px 622.7px,#d17290 622.7px 626.2px,#e8b8c8 626.2px 628.0px,#d17290 628.0px 631.5px,#4c8bc8 631.5px 633.2px,#d17290 633.2px 635.0px,#f1f6fb 635.0px 636.7px,#d17290 636.7px 638.5px,#fcf6f8 638.5px 640.2px,#d17290 640.2px 642.0px,#f1f6fb 642.0px 643.8px,#2370bb 643.8px 645.5px,#e8b8c8 645.5px 647.3px,#d17290 647.3px 649.0px,#f1f6fb 649.0px 650.8px,#d17290 650.8px 652.5px,#d6e4f2 652.5px 654.3px,#d17290 654.3px 663.0px,#4c8bc8 663.0px 664.8px,#d17290 664.8px 666.5px,#e4edf6 666.5px 668.3px,#e5b0c1 668.3px 670.1px,#f6e5ea 670.1px 671.8px,#2370bb 671.8px 673.6px,#dc95ac 673.6px 675.3px,#d47b97 675.3px 677.1px,#3e82c4 677.1px 678.8px,#dc95ac 678.8px 680.6px,#83afd9 680.6px 682.3px,#f6e5ea 682.3px 684.1px,#83afd9 684.1px 685.8px,#2370bb 685.8px 687.6px,#f1d3dc 687.6px 689.3px,#e8b8c8 689.3px 691.1px,#d17290 691.1px 692.8px,#2370bb 692.8px 694.6px,#d17290 694.6px 696.3px,#83afd9 696.3px 698.1px,#9fc0e1 698.1px 699.9px,#da8ca5 699.9px 701.6px,#f9edf1 701.6px 703.4px,#dc95ac 703.4px 705.1px,#4c8bc8 705.1px 706.9px,#5a94cc 706.9px 708.6px,#2370bb 708.6px 710.4px,#3179bf 710.4px 712.1px,#f9edf1 712.1px 713.9px,#76a6d4 713.9px 715.6px,#d17290 715.6px 717.4px,#d47b97 717.4px 719.1px,#d7849e 719.1px 720.9px,#2370bb 720.9px 722.6px,#d7849e 722.6px 726.1px,#d17290 726.1px 727.9px,#e8b8c8 727.9px 729.7px,#d47b97 729.7px 731.4px,#689dd0 731.4px 734.9px,#c8dbee 734.9px 736.7px,#e2a7ba 736.7px 738.4px,#ebc1ce 738.4px 740.2px,#da8ca5 740.2px 741.9px,#df9eb3 741.9px 743.7px,#4c8bc8 743.7px 745.4px,#e4edf6 745.4px 747.2px,#df9eb3 747.2px 748.9px,#91b8dd 748.9px 750.7px,#83afd9 750.7px 752.4px,#3179bf 752.4px 754.2px,#2370bb 754.2px 756.0px,#d7849e 756.0px 757.7px,#3e82c4 757.7px 759.5px,#76a6d4 759.5px 763.0px,#f4dce3 763.0px 764.7px,#d17290 764.7px 768.2px,#91b8dd 768.2px 770.0px,#d17290 770.0px 771.7px,#da8ca5 771.7px 773.5px,#d17290 773.5px 780.5px,#dc95ac 780.5px 782.2px,#d17290 782.2px 785.7px,#d47b97 785.7px 789.2px,#d17290 789.2px 791.0px,#689dd0 791.0px 792.7px,#d47b97 792.7px 794.5px,#d17290 794.5px 801.5px,#dc95ac 801.5px 805.0px,#d7849e 805.0px 806.7px,#d17290 806.7px 810.2px,#e5b0c1 810.2px 811.9px,#d47b97 811.9px 813.7px,#d17290 813.7px 815.4px,#e5b0c1 815.4px 817.2px,#9fc0e1 817.2px 818.9px,#d17290 818.9px 820.7px,#df9eb3 820.7px 822.4px,#d17290 822.4px 824.2px,#da8ca5 824.2px 825.9px,#76a6d4 825.9px 827.7px,#d7849e 827.7px 829.4px,#d17290 829.4px 832.9px,#e8b8c8 832.9px 834.7px,#d17290 834.7px 836.4px,#e4edf6 836.4px 838.1px,#d17290 838.1px 841.6px,#76a6d4 841.6px 843.4px,#d17290 843.4px 845.1px,#d47b97 845.1px 846.9px,#da8ca5 846.9px 848.6px,#d6e4f2 848.6px 850.4px,#d17290 850.4px 852.1px,#eecad5 852.1px 853.9px,#91b8dd 853.9px 855.6px,#d17290 855.6px 857.4px,#d47b97 857.4px 859.1px,#d17290 859.1px 860.9px,#83afd9 860.9px 862.6px,#d17290 862.6px 866.1px,#dc95ac 866.1px 867.8px,#d47b97 867.8px 869.6px,#c8dbee 869.6px 871.3px,#d17290 871.3px 874.8px,#ffffff 874.8px 876.6px,#d17290 876.6px 883.6px,#d7849e 883.6px 885.3px,#df9eb3 885.3px 887.1px,#dc95ac 887.1px 888.8px,#d17290 888.8px 892.3px,#bad2ea 892.3px 894.0px,#d17290 894.0px 895.8px,#c8dbee 895.8px 897.5px,#f1f6fb 897.5px 899.3px,#d17290 899.3px 902.8px,#c8dbee 902.8px 904.5px,#d47b97 904.5px 906.3px,#e5b0c1 906.3px 908.0px,#da8ca5 908.0px 911.5px,#83afd9 911.5px 913.3px,#d17290 913.3px 916.8px,#d6e4f2 916.8px 918.5px,#d17290 918.5px 920.2px,#2370bb 920.2px 922.0px,#d7849e 922.0px 923.7px,#c8dbee 923.7px 925.5px,#2370bb 925.5px 927.2px,#d17290 927.2px 930.7px,#d7849e 930.7px 932.5px,#2370bb 932.5px 934.2px,#d17290 934.2px 937.7px,#eecad5 937.7px 939.5px,#d17290 939.5px 941.2px,#2370bb 941.2px 943.0px,#d17290 943.0px 944.7px,#76a6d4 944.7px 946.4px,#2370bb 946.4px 948.2px,#acc9e6 948.2px 949.9px,#dc95ac 949.9px 951.7px,#ebc1ce 951.7px 953.4px,#91b8dd 953.4px 955.2px,#c8dbee 955.2px 956.9px,#acc9e6 956.9px 958.7px,#fcf6f8 958.7px 960.4px,#4c8bc8 960.4px 962.2px,#ebc1ce 962.2px 963.9px,#bad2ea 963.9px 965.7px,#c8dbee 965.7px 967.4px,#d17290 967.4px 970.9px,#83afd9 970.9px 972.6px,#76a6d4 972.6px 974.4px,#d7849e 974.4px 976.1px,#d17290 976.1px 979.6px,#c8dbee 979.6px 981.4px,#d47b97 981.4px 983.1px,#d6e4f2 983.1px 984.9px,#d17290 984.9px 993.6px,#da8ca5 993.6px 995.4px,#dc95ac 995.4px 997.1px,#c8dbee 997.1px 998.9px,#83afd9 998.9px 1000.6px,#ffffff 1000.6px 1002.3px,#91b8dd 1002.3px 1004.1px,#d17290 1004.1px 1005.8px,#ebc1ce 1005.8px 1007.6px,#d17290 1007.6px 1009.3px,#dc95ac 1009.3px 1011.1px,#df9eb3 1011.1px 1012.8px,#da8ca5 1012.8px 1014.6px,#f4dce3 1014.6px 1016.3px,#e2a7ba 1016.3px 1018.1px,#d17290 1018.1px 1021.6px,#d7849e 1021.6px 1023.3px,#acc9e6 1023.3px 1025.1px,#d17290 1025.1px 1026.8px,#ebc1ce 1026.8px 1028.5px,#f1d3dc 1028.5px 1030.3px,#d7849e 1030.3px 1033.8px,#eecad5 1033.8px 1035.5px,#dc95ac 1035.5px 1037.3px,#f1d3dc 1037.3px 1039.0px,#d17290 1039.0px 1040.8px,#eecad5 1040.8px 1042.5px,#df9eb3 1042.5px 1044.3px,#f6e5ea 1044.3px 1046.0px,#d17290 1046.0px 1047.8px,#3e82c4 1047.8px 1049.5px,#e2a7ba 1049.5px 1051.3px,#eecad5 1051.3px 1053.0px)"></div><div class="r" style="top:316.24px;height:31.28px;background:linear-gradient(90deg,#2370bb 0.0px 3.5px,#acc9e6 3.5px 5.2px,#eecad5 5.2px 7.0px,#d17290 7.0px 8.7px,#2370bb 8.7px 10.5px,#3e82c4 10.5px 12.2px,#2370bb 12.2px 15.7px,#91b8dd 15.7px 17.5px,#4c8bc8 17.5px 19.2px,#2370bb 19.2px 22.7px,#c8dbee 22.7px 24.5px,#91b8dd 24.5px 26.2px,#f4dce3 26.2px 27.9px,#2370bb 27.9px 29.7px,#acc9e6 29.7px 31.4px,#d17290 31.4px 33.2px,#76a6d4 33.2px 34.9px,#2370bb 34.9px 36.7px,#3e82c4 36.7px 38.4px,#76a6d4 38.4px 40.2px,#2370bb 40.2px 41.9px,#bad2ea 41.9px 43.7px,#76a6d4 43.7px 45.4px,#4c8bc8 45.4px 47.2px,#76a6d4 47.2px 50.6px,#9fc0e1 50.6px 52.4px,#d17290 52.4px 54.1px,#2370bb 54.1px 57.6px,#76a6d4 57.6px 59.4px,#689dd0 59.4px 61.1px,#fcf6f8 61.1px 62.9px,#dc95ac 62.9px 64.6px,#3e82c4 64.6px 66.4px,#4c8bc8 66.4px 68.1px,#2370bb 68.1px 69.9px,#76a6d4 69.9px 71.6px,#2370bb 71.6px 73.4px,#3e82c4 73.4px 75.1px,#2370bb 75.1px 76.8px,#5a94cc 76.8px 78.6px,#76a6d4 78.6px 80.3px,#2370bb 80.3px 82.1px,#5a94cc 82.1px 83.8px,#83afd9 83.8px 85.6px,#2370bb 85.6px 87.3px,#3179bf 87.3px 89.1px,#d17290 89.1px 90.8px,#3179bf 90.8px 92.6px,#9fc0e1 92.6px 94.3px,#2370bb 94.3px 96.1px,#d17290 96.1px 97.8px,#2370bb 97.8px 99.5px,#76a6d4 99.5px 101.3px,#3e82c4 101.3px 103.0px,#76a6d4 103.0px 104.8px,#689dd0 104.8px 106.5px,#9fc0e1 106.5px 108.3px,#2370bb 108.3px 111.8px,#91b8dd 111.8px 113.5px,#76a6d4 113.5px 115.3px,#f1d3dc 115.3px 117.0px,#fcf6f8 117.0px 118.8px,#4c8bc8 118.8px 120.5px,#5a94cc 120.5px 122.3px,#2370bb 122.3px 124.0px,#76a6d4 124.0px 125.7px,#91b8dd 125.7px 127.5px,#acc9e6 127.5px 129.2px,#2370bb 129.2px 131.0px,#ebc1ce 131.0px 132.7px,#d17290 132.7px 134.5px,#c8dbee 134.5px 136.2px,#f4dce3 136.2px 138.0px,#5a94cc 138.0px 139.7px,#f1d3dc 139.7px 141.5px,#2370bb 141.5px 143.2px,#5a94cc 143.2px 145.0px,#76a6d4 145.0px 146.7px,#5a94cc 146.7px 148.4px,#3e82c4 148.4px 150.2px,#acc9e6 150.2px 153.7px,#3e82c4 153.7px 155.4px,#d17290 155.4px 157.2px,#91b8dd 157.2px 158.9px,#83afd9 158.9px 160.7px,#2370bb 160.7px 162.4px,#3e82c4 162.4px 164.2px,#da8ca5 164.2px 165.9px,#d17290 165.9px 167.7px,#2370bb 167.7px 169.4px,#d7849e 169.4px 171.2px,#4c8bc8 171.2px 172.9px,#3e82c4 172.9px 174.6px,#2370bb 174.6px 176.4px,#f6e5ea 176.4px 178.1px,#d47b97 178.1px 179.9px,#9fc0e1 179.9px 181.6px,#d17290 181.6px 183.4px,#3179bf 183.4px 185.1px,#d17290 185.1px 186.9px,#2370bb 186.9px 188.6px,#d47b97 188.6px 190.4px,#e4edf6 190.4px 192.1px,#2370bb 192.1px 193.9px,#5a94cc 193.9px 195.6px,#83afd9 195.6px 197.3px,#3e82c4 197.3px 200.8px,#9fc0e1 200.8px 202.6px,#d7849e 202.6px 204.3px,#f4dce3 204.3px 206.1px,#9fc0e1 206.1px 207.8px,#ffffff 207.8px 209.6px,#acc9e6 209.6px 211.3px,#2370bb 211.3px 213.1px,#5a94cc 213.1px 214.8px,#689dd0 214.8px 218.3px,#2370bb 218.3px 220.1px,#9fc0e1 220.1px 223.5px,#689dd0 223.5px 225.3px,#2370bb 225.3px 227.0px,#fcf6f8 227.0px 228.8px,#3e82c4 228.8px 230.5px,#3179bf 230.5px 232.3px,#2370bb 232.3px 234.0px,#acc9e6 234.0px 235.8px,#2370bb 235.8px 237.5px,#c8dbee 237.5px 239.3px,#4c8bc8 239.3px 241.0px,#df9eb3 241.0px 242.8px,#c8dbee 242.8px 244.5px,#2370bb 244.5px 253.2px,#d6e4f2 253.2px 255.0px,#d17290 255.0px 256.7px,#689dd0 256.7px 258.5px,#acc9e6 258.5px 260.2px,#d6e4f2 260.2px 262.0px,#e4edf6 262.0px 263.7px,#acc9e6 263.7px 265.5px,#3179bf 265.5px 267.2px,#3e82c4 267.2px 269.0px,#bad2ea 269.0px 270.7px,#ebc1ce 270.7px 272.5px,#f1f6fb 272.5px 274.2px,#2370bb 274.2px 276.0px,#fcf6f8 276.0px 277.7px,#c8dbee 277.7px 279.5px,#3e82c4 279.5px 281.2px,#f1d3dc 281.2px 283.0px,#2370bb 283.0px 284.7px,#bad2ea 284.7px 286.5px,#d17290 286.5px 288.2px,#689dd0 288.2px 290.0px,#83afd9 290.0px 291.7px,#d17290 291.7px 293.5px,#5a94cc 293.5px 295.2px,#eecad5 295.2px 297.0px,#acc9e6 297.0px 298.7px,#2370bb 298.7px 300.5px,#4c8bc8 300.5px 302.2px,#2370bb 302.2px 304.0px,#acc9e6 304.0px 305.7px,#dc95ac 305.7px 307.5px,#2370bb 307.5px 309.2px,#d17290 309.2px 311.0px,#d6e4f2 311.0px 312.7px,#d17290 312.7px 314.5px,#689dd0 314.5px 316.2px,#4c8bc8 316.2px 318.0px,#3e82c4 318.0px 319.7px,#91b8dd 319.7px 321.5px,#2370bb 321.5px 323.2px,#3179bf 323.2px 325.0px,#9fc0e1 325.0px 326.7px,#2370bb 326.7px 333.7px,#d17290 333.7px 335.5px,#689dd0 335.5px 337.2px,#83afd9 337.2px 339.0px,#689dd0 339.0px 340.7px,#d17290 340.7px 342.5px,#ffffff 342.5px 344.2px,#2370bb 344.2px 347.7px,#91b8dd 347.7px 349.5px,#dc95ac 349.5px 351.2px,#bad2ea 351.2px 353.0px,#dc95ac 353.0px 354.7px,#ffffff 354.7px 356.5px,#689dd0 356.5px 358.2px,#ffffff 358.2px 360.0px,#d17290 360.0px 361.7px,#2370bb 361.7px 363.5px,#5a94cc 363.5px 365.2px,#e8b8c8 365.2px 367.0px,#d47b97 367.0px 368.7px,#2370bb 368.7px 370.5px,#f1f6fb 370.5px 372.2px,#2370bb 372.2px 374.0px,#acc9e6 374.0px 375.7px,#2370bb 375.7px 379.2px,#e8b8c8 379.2px 381.0px,#2370bb 381.0px 382.7px,#e2a7ba 382.7px 384.5px,#83afd9 384.5px 386.2px,#e4edf6 386.2px 388.0px,#9fc0e1 388.0px 389.7px,#2370bb 389.7px 391.5px,#5a94cc 391.5px 393.2px,#bad2ea 393.2px 395.0px,#d7849e 395.0px 396.7px,#9fc0e1 396.7px 398.5px,#e2a7ba 398.5px 400.2px,#4c8bc8 400.2px 402.0px,#c8dbee 402.0px 403.7px,#2370bb 403.7px 405.5px,#d47b97 405.5px 407.2px,#5a94cc 407.2px 409.0px,#3e82c4 409.0px 410.7px,#d17290 410.7px 414.2px,#d7849e 414.2px 416.0px,#3179bf 416.0px 417.7px,#d7849e 417.7px 419.5px,#d17290 419.5px 421.2px,#2370bb 421.2px 424.7px,#3179bf 424.7px 426.5px,#d17290 426.5px 428.2px,#76a6d4 428.2px 430.0px,#bad2ea 430.0px 431.7px,#2370bb 431.7px 433.5px,#d7849e 433.5px 435.2px,#2370bb 435.2px 438.7px,#91b8dd 438.7px 440.5px,#5a94cc 440.5px 442.2px,#eecad5 442.2px 444.0px,#f1f6fb 444.0px 445.7px,#76a6d4 445.7px 447.5px,#5a94cc 447.5px 449.2px,#2370bb 449.2px 452.7px,#d17290 452.7px 454.5px,#2370bb 454.5px 456.2px,#83afd9 456.2px 458.0px,#9fc0e1 458.0px 459.7px,#c8dbee 459.7px 461.5px,#d47b97 461.5px 463.2px,#2370bb 463.2px 466.7px,#d17290 466.7px 468.5px,#e8b8c8 468.5px 470.2px,#76a6d4 470.2px 472.0px,#e4edf6 472.0px 473.7px,#f1d3dc 473.7px 475.5px,#dc95ac 475.5px 477.2px,#fcf6f8 477.2px 479.0px,#2370bb 479.0px 480.7px,#76a6d4 480.7px 482.5px,#d17290 482.5px 484.2px,#3e82c4 484.2px 486.0px,#da8ca5 486.0px 487.7px,#d17290 487.7px 489.5px,#5a94cc 489.5px 491.2px,#3e82c4 491.2px 493.0px,#5a94cc 493.0px 494.7px,#91b8dd 494.7px 496.5px,#689dd0 496.5px 500.0px,#d47b97 500.0px 501.8px,#5a94cc 501.8px 503.5px,#689dd0 503.5px 507.0px,#d17290 507.0px 508.8px,#eecad5 508.8px 510.5px,#2370bb 510.5px 512.3px,#d17290 512.3px 515.8px,#d47b97 515.8px 517.5px,#2370bb 517.5px 519.3px,#3e82c4 519.3px 521.0px,#d17290 521.0px 522.8px,#acc9e6 522.8px 524.5px,#df9eb3 524.5px 526.3px,#2370bb 526.3px 528.1px,#5a94cc 528.1px 529.8px,#689dd0 529.8px 531.6px,#bad2ea 531.6px 533.3px,#f1f6fb 533.3px 535.1px,#91b8dd 535.1px 536.8px,#2370bb 536.8px 538.6px,#d6e4f2 538.6px 540.3px,#e4edf6 540.3px 542.1px,#d47b97 542.1px 543.8px,#ffffff 543.8px 545.6px,#e2a7ba 545.6px 547.3px,#c8dbee 547.3px 549.1px,#d17290 549.1px 550.8px,#76a6d4 550.8px 552.6px,#2370bb 552.6px 554.4px,#df9eb3 554.4px 556.1px,#ebc1ce 556.1px 557.9px,#e2a7ba 557.9px 559.6px,#e5b0c1 559.6px 561.4px,#f1f6fb 561.4px 563.1px,#f1d3dc 563.1px 564.9px,#d17290 564.9px 566.6px,#d6e4f2 566.6px 568.4px,#2370bb 568.4px 570.1px,#4c8bc8 570.1px 571.9px,#ebc1ce 571.9px 573.6px,#2370bb 573.6px 575.4px,#d47b97 575.4px 577.1px,#d7849e 577.1px 578.9px,#d17290 578.9px 580.6px,#689dd0 580.6px 582.4px,#eecad5 582.4px 584.2px,#3e82c4 584.2px 585.9px,#c8dbee 585.9px 587.7px,#f1f6fb 587.7px 589.4px,#9fc0e1 589.4px 591.2px,#5a94cc 591.2px 592.9px,#f1d3dc 592.9px 594.7px,#91b8dd 594.7px 596.4px,#76a6d4 596.4px 598.2px,#da8ca5 598.2px 599.9px,#d7849e 599.9px 601.7px,#2370bb 601.7px 603.4px,#f9edf1 603.4px 605.2px,#df9eb3 605.2px 606.9px,#d7849e 606.9px 608.7px,#bad2ea 608.7px 610.4px,#2370bb 610.4px 612.2px,#f1d3dc 612.2px 614.0px,#ebc1ce 614.0px 615.7px,#689dd0 615.7px 617.5px,#2370bb 617.5px 619.2px,#83afd9 619.2px 621.0px,#76a6d4 621.0px 622.7px,#df9eb3 622.7px 624.5px,#e5b0c1 624.5px 626.2px,#d17290 626.2px 631.5px,#ffffff 631.5px 633.2px,#3e82c4 633.2px 635.0px,#d17290 635.0px 636.7px,#ebc1ce 636.7px 638.5px,#3e82c4 638.5px 640.2px,#2370bb 640.2px 642.0px,#d17290 642.0px 643.8px,#2370bb 643.8px 645.5px,#f6e5ea 645.5px 647.3px,#5a94cc 647.3px 649.0px,#d47b97 649.0px 650.8px,#d6e4f2 650.8px 652.5px,#f1f6fb 652.5px 654.3px,#91b8dd 654.3px 657.8px,#3e82c4 657.8px 659.5px,#f1f6fb 659.5px 661.3px,#2370bb 661.3px 663.0px,#ffffff 663.0px 664.8px,#91b8dd 664.8px 666.5px,#689dd0 666.5px 668.3px,#d17290 668.3px 670.1px,#689dd0 670.1px 671.8px,#acc9e6 671.8px 673.6px,#d17290 673.6px 677.1px,#e5b0c1 677.1px 678.8px,#d17290 678.8px 682.3px,#f4dce3 682.3px 684.1px,#d6e4f2 684.1px 685.8px,#df9eb3 685.8px 687.6px,#bad2ea 687.6px 689.3px,#c8dbee 689.3px 691.1px,#df9eb3 691.1px 692.8px,#d17290 692.8px 694.6px,#689dd0 694.6px 696.3px,#e4edf6 696.3px 698.1px,#e8b8c8 698.1px 699.9px,#d17290 699.9px 701.6px,#5a94cc 701.6px 703.4px,#3179bf 703.4px 705.1px,#d6e4f2 705.1px 706.9px,#f1f6fb 706.9px 708.6px,#e5b0c1 708.6px 710.4px,#d17290 710.4px 712.1px,#ebc1ce 712.1px 713.9px,#d17290 713.9px 715.6px,#f1d3dc 715.6px 717.4px,#d6e4f2 717.4px 719.1px,#2370bb 719.1px 720.9px,#d17290 720.9px 722.6px,#3e82c4 722.6px 724.4px,#d17290 724.4px 726.1px,#acc9e6 726.1px 727.9px,#2370bb 727.9px 729.7px,#ebc1ce 729.7px 731.4px,#f1d3dc 731.4px 733.2px,#e4edf6 733.2px 734.9px,#d17290 734.9px 736.7px,#e5b0c1 736.7px 738.4px,#f1f6fb 738.4px 740.2px,#5a94cc 740.2px 741.9px,#d17290 741.9px 743.7px,#2370bb 743.7px 745.4px,#d17290 745.4px 747.2px,#d6e4f2 747.2px 748.9px,#d17290 748.9px 756.0px,#acc9e6 756.0px 757.7px,#dc95ac 757.7px 759.5px,#acc9e6 759.5px 761.2px,#4c8bc8 761.2px 763.0px,#ebc1ce 763.0px 764.7px,#d47b97 764.7px 766.5px,#f1d3dc 766.5px 768.2px,#eecad5 768.2px 770.0px,#d6e4f2 770.0px 771.7px,#da8ca5 771.7px 773.5px,#5a94cc 773.5px 775.2px,#d6e4f2 775.2px 777.0px,#9fc0e1 777.0px 778.7px,#dc95ac 778.7px 780.5px,#ebc1ce 780.5px 782.2px,#f9edf1 782.2px 784.0px,#d17290 784.0px 785.7px,#d6e4f2 785.7px 787.5px,#d7849e 787.5px 789.2px,#df9eb3 789.2px 791.0px,#689dd0 791.0px 792.7px,#d47b97 792.7px 794.5px,#689dd0 794.5px 796.2px,#e2a7ba 796.2px 798.0px,#d17290 798.0px 799.7px,#df9eb3 799.7px 801.5px,#fcf6f8 801.5px 803.2px,#c8dbee 803.2px 805.0px,#5a94cc 805.0px 806.7px,#e2a7ba 806.7px 808.5px,#e5b0c1 808.5px 810.2px,#f4dce3 810.2px 811.9px,#2370bb 811.9px 813.7px,#df9eb3 813.7px 815.4px,#91b8dd 815.4px 817.2px,#d17290 817.2px 818.9px,#d47b97 818.9px 820.7px,#e2a7ba 820.7px 822.4px,#eecad5 822.4px 824.2px,#d17290 824.2px 825.9px,#689dd0 825.9px 827.7px,#f1f6fb 827.7px 829.4px,#c8dbee 829.4px 831.2px,#ebc1ce 831.2px 832.9px,#acc9e6 832.9px 834.7px,#d17290 834.7px 836.4px,#e4edf6 836.4px 838.1px,#d17290 838.1px 839.9px,#acc9e6 839.9px 841.6px,#ebc1ce 841.6px 843.4px,#da8ca5 843.4px 845.1px,#d17290 845.1px 846.9px,#ebc1ce 846.9px 848.6px,#2370bb 848.6px 850.4px,#d17290 850.4px 853.9px,#fcf6f8 853.9px 855.6px,#d17290 855.6px 857.4px,#df9eb3 857.4px 859.1px,#d17290 859.1px 860.9px,#2370bb 860.9px 862.6px,#9fc0e1 862.6px 864.4px,#d7849e 864.4px 866.1px,#83afd9 866.1px 867.8px,#e4edf6 867.8px 869.6px,#d47b97 869.6px 871.3px,#da8ca5 871.3px 874.8px,#d47b97 874.8px 876.6px,#df9eb3 876.6px 878.3px,#acc9e6 878.3px 880.1px,#dc95ac 880.1px 881.8px,#9fc0e1 881.8px 883.6px,#d17290 883.6px 885.3px,#d7849e 885.3px 887.1px,#83afd9 887.1px 888.8px,#2370bb 888.8px 890.6px,#d17290 890.6px 892.3px,#4c8bc8 892.3px 894.0px,#2370bb 894.0px 895.8px,#d7849e 895.8px 897.5px,#e2a7ba 897.5px 899.3px,#dc95ac 899.3px 901.0px,#e2a7ba 901.0px 902.8px,#da8ca5 902.8px 904.5px,#83afd9 904.5px 906.3px,#d17290 906.3px 909.8px,#689dd0 909.8px 913.3px,#e8b8c8 913.3px 915.0px,#acc9e6 915.0px 916.8px,#eecad5 916.8px 918.5px,#d17290 918.5px 920.2px,#da8ca5 920.2px 922.0px,#2370bb 922.0px 923.7px,#d17290 923.7px 925.5px,#d47b97 925.5px 927.2px,#3e82c4 927.2px 929.0px,#acc9e6 929.0px 930.7px,#f1d3dc 930.7px 934.2px,#bad2ea 934.2px 936.0px,#f1f6fb 936.0px 937.7px,#d17290 937.7px 943.0px,#dc95ac 943.0px 944.7px,#76a6d4 944.7px 946.4px,#9fc0e1 946.4px 948.2px,#e4edf6 948.2px 949.9px,#d17290 949.9px 951.7px,#e4edf6 951.7px 953.4px,#eecad5 953.4px 955.2px,#d17290 955.2px 960.4px,#eecad5 960.4px 962.2px,#76a6d4 962.2px 963.9px,#ebc1ce 963.9px 965.7px,#9fc0e1 965.7px 967.4px,#d17290 967.4px 969.2px,#e5b0c1 969.2px 970.9px,#e4edf6 970.9px 972.6px,#ebc1ce 972.6px 974.4px,#d17290 974.4px 976.1px,#d7849e 976.1px 977.9px,#4c8bc8 977.9px 979.6px,#da8ca5 979.6px 981.4px,#2370bb 981.4px 983.1px,#d6e4f2 983.1px 984.9px,#2370bb 984.9px 986.6px,#e2a7ba 986.6px 988.4px,#ebc1ce 988.4px 990.1px,#df9eb3 990.1px 991.9px,#d7849e 991.9px 993.6px,#fcf6f8 993.6px 995.4px,#d7849e 995.4px 997.1px,#ebc1ce 997.1px 998.9px,#d17290 998.9px 1000.6px,#bad2ea 1000.6px 1002.3px,#f6e5ea 1002.3px 1004.1px,#9fc0e1 1004.1px 1005.8px,#f4dce3 1005.8px 1007.6px,#d47b97 1007.6px 1009.3px,#d17290 1009.3px 1011.1px,#3179bf 1011.1px 1012.8px,#d17290 1012.8px 1014.6px,#eecad5 1014.6px 1018.1px,#d47b97 1018.1px 1019.8px,#d17290 1019.8px 1023.3px,#e8b8c8 1023.3px 1025.1px,#d7849e 1025.1px 1026.8px,#d17290 1026.8px 1028.5px,#2370bb 1028.5px 1030.3px,#4c8bc8 1030.3px 1032.0px,#9fc0e1 1032.0px 1033.8px,#e8b8c8 1033.8px 1035.5px,#2370bb 1035.5px 1037.3px,#d17290 1037.3px 1039.0px,#2370bb 1039.0px 1040.8px,#f9edf1 1040.8px 1042.5px,#d17290 1042.5px 1046.0px,#ebc1ce 1046.0px 1047.8px,#2370bb 1047.8px 1051.3px,#f9edf1 1051.3px 1053.0px)"></div><div class="r" style="top:347.52px;height:31.28px;background:linear-gradient(90deg,#ffffff 0.0px 1.7px,#d17290 1.7px 3.5px,#2370bb 3.5px 7.0px,#689dd0 7.0px 8.7px,#c8dbee 8.7px 10.5px,#eecad5 10.5px 12.2px,#d17290 12.2px 14.0px,#f1d3dc 14.0px 15.7px,#eecad5 15.7px 17.5px,#2370bb 17.5px 19.2px,#eecad5 19.2px 21.0px,#d47b97 21.0px 22.7px,#9fc0e1 22.7px 24.5px,#76a6d4 24.5px 26.2px,#5a94cc 26.2px 27.9px,#2370bb 27.9px 29.7px,#91b8dd 29.7px 31.4px,#d17290 31.4px 34.9px,#76a6d4 34.9px 36.7px,#2370bb 36.7px 38.4px,#d6e4f2 38.4px 40.2px,#bad2ea 40.2px 41.9px,#f9edf1 41.9px 43.7px,#acc9e6 43.7px 45.4px,#f1f6fb 45.4px 47.2px,#2370bb 47.2px 48.9px,#689dd0 48.9px 50.6px,#bad2ea 50.6px 52.4px,#f1d3dc 52.4px 54.1px,#acc9e6 54.1px 55.9px,#d17290 55.9px 57.6px,#bad2ea 57.6px 59.4px,#f4dce3 59.4px 61.1px,#e5b0c1 61.1px 62.9px,#9fc0e1 62.9px 64.6px,#689dd0 64.6px 66.4px,#3e82c4 66.4px 68.1px,#d7849e 68.1px 69.9px,#3179bf 69.9px 71.6px,#ebc1ce 71.6px 73.4px,#f6e5ea 73.4px 75.1px,#2370bb 75.1px 80.3px,#ebc1ce 80.3px 82.1px,#ffffff 82.1px 83.8px,#2370bb 83.8px 85.6px,#4c8bc8 85.6px 87.3px,#d6e4f2 87.3px 89.1px,#689dd0 89.1px 90.8px,#f1d3dc 90.8px 92.6px,#bad2ea 92.6px 94.3px,#3e82c4 94.3px 96.1px,#91b8dd 96.1px 97.8px,#d6e4f2 97.8px 99.5px,#d17290 99.5px 101.3px,#9fc0e1 101.3px 103.0px,#2370bb 103.0px 104.8px,#9fc0e1 104.8px 106.5px,#2370bb 106.5px 108.3px,#d17290 108.3px 110.0px,#2370bb 110.0px 111.8px,#83afd9 111.8px 113.5px,#689dd0 113.5px 115.3px,#4c8bc8 115.3px 117.0px,#3e82c4 117.0px 118.8px,#f1f6fb 118.8px 120.5px,#c8dbee 120.5px 122.3px,#5a94cc 122.3px 124.0px,#fcf6f8 124.0px 127.5px,#76a6d4 127.5px 129.2px,#d6e4f2 129.2px 131.0px,#2370bb 131.0px 134.5px,#4c8bc8 134.5px 136.2px,#ebc1ce 136.2px 138.0px,#d17290 138.0px 139.7px,#acc9e6 139.7px 141.5px,#76a6d4 141.5px 143.2px,#eecad5 143.2px 145.0px,#d17290 145.0px 146.7px,#f1d3dc 146.7px 148.4px,#83afd9 148.4px 150.2px,#2370bb 150.2px 153.7px,#f1f6fb 153.7px 155.4px,#d17290 155.4px 157.2px,#9fc0e1 157.2px 158.9px,#fcf6f8 158.9px 160.7px,#d17290 160.7px 162.4px,#e4edf6 162.4px 164.2px,#91b8dd 164.2px 165.9px,#e4edf6 165.9px 167.7px,#689dd0 167.7px 169.4px,#4c8bc8 169.4px 171.2px,#dc95ac 171.2px 172.9px,#2370bb 172.9px 174.6px,#3e82c4 174.6px 176.4px,#d17290 176.4px 178.1px,#2370bb 178.1px 179.9px,#fcf6f8 179.9px 181.6px,#acc9e6 181.6px 183.4px,#c8dbee 183.4px 185.1px,#e4edf6 185.1px 186.9px,#2370bb 186.9px 188.6px,#d17290 188.6px 190.4px,#ebc1ce 190.4px 192.1px,#d17290 192.1px 193.9px,#c8dbee 193.9px 195.6px,#2370bb 195.6px 197.3px,#689dd0 197.3px 199.1px,#d17290 199.1px 200.8px,#3e82c4 200.8px 202.6px,#c8dbee 202.6px 204.3px,#76a6d4 204.3px 206.1px,#acc9e6 206.1px 207.8px,#d17290 207.8px 209.6px,#2370bb 209.6px 211.3px,#d7849e 211.3px 213.1px,#689dd0 213.1px 214.8px,#5a94cc 214.8px 218.3px,#eecad5 218.3px 220.1px,#689dd0 220.1px 221.8px,#d6e4f2 221.8px 223.5px,#689dd0 223.5px 225.3px,#ebc1ce 225.3px 227.0px,#2370bb 227.0px 228.8px,#ebc1ce 228.8px 232.3px,#f1f6fb 232.3px 234.0px,#689dd0 234.0px 235.8px,#2370bb 235.8px 237.5px,#ffffff 237.5px 239.3px,#acc9e6 239.3px 241.0px,#3e82c4 241.0px 242.8px,#76a6d4 242.8px 244.5px,#83afd9 244.5px 246.2px,#2370bb 246.2px 249.7px,#f9edf1 249.7px 251.5px,#d17290 251.5px 256.7px,#689dd0 256.7px 258.5px,#ebc1ce 258.5px 260.2px,#83afd9 260.2px 262.0px,#f1f6fb 262.0px 263.7px,#d7849e 263.7px 265.5px,#c8dbee 265.5px 267.2px,#eecad5 267.2px 269.0px,#76a6d4 269.0px 270.7px,#bad2ea 270.7px 272.5px,#83afd9 272.5px 274.2px,#2370bb 274.2px 276.0px,#9fc0e1 276.0px 277.7px,#fcf6f8 277.7px 279.5px,#2370bb 279.5px 281.2px,#d17290 281.2px 283.0px,#76a6d4 283.0px 284.7px,#83afd9 284.7px 286.5px,#2370bb 286.5px 288.2px,#d17290 288.2px 290.0px,#2370bb 290.0px 291.7px,#689dd0 291.7px 293.5px,#acc9e6 293.5px 295.2px,#c8dbee 295.2px 297.0px,#fcf6f8 297.0px 298.7px,#2370bb 298.7px 300.5px,#bad2ea 300.5px 302.2px,#d17290 302.2px 305.7px,#2370bb 305.7px 309.2px,#4c8bc8 309.2px 311.0px,#83afd9 311.0px 312.7px,#2370bb 312.7px 316.2px,#d6e4f2 316.2px 318.0px,#4c8bc8 318.0px 319.7px,#f9edf1 319.7px 321.5px,#83afd9 321.5px 323.2px,#f1d3dc 323.2px 325.0px,#689dd0 325.0px 326.7px,#ebc1ce 326.7px 328.5px,#83afd9 328.5px 330.2px,#c8dbee 330.2px 332.0px,#dc95ac 332.0px 333.7px,#2370bb 333.7px 335.5px,#c8dbee 335.5px 337.2px,#acc9e6 337.2px 339.0px,#dc95ac 339.0px 340.7px,#f1f6fb 340.7px 342.5px,#2370bb 342.5px 344.2px,#c8dbee 344.2px 346.0px,#76a6d4 346.0px 347.7px,#91b8dd 347.7px 349.5px,#d17290 349.5px 351.2px,#91b8dd 351.2px 353.0px,#83afd9 353.0px 354.7px,#d6e4f2 354.7px 356.5px,#e4edf6 356.5px 358.2px,#d7849e 358.2px 360.0px,#9fc0e1 360.0px 361.7px,#76a6d4 361.7px 363.5px,#acc9e6 363.5px 365.2px,#2370bb 365.2px 367.0px,#91b8dd 367.0px 368.7px,#2370bb 368.7px 370.5px,#f1f6fb 370.5px 372.2px,#76a6d4 372.2px 374.0px,#bad2ea 374.0px 375.7px,#2370bb 375.7px 377.5px,#da8ca5 377.5px 379.2px,#eecad5 379.2px 381.0px,#2370bb 381.0px 382.7px,#4c8bc8 382.7px 384.5px,#2370bb 384.5px 386.2px,#bad2ea 386.2px 388.0px,#3e82c4 388.0px 389.7px,#acc9e6 389.7px 391.5px,#3e82c4 391.5px 393.2px,#bad2ea 393.2px 395.0px,#2370bb 395.0px 396.7px,#f4dce3 396.7px 398.5px,#76a6d4 398.5px 400.2px,#f1f6fb 400.2px 402.0px,#3179bf 402.0px 403.7px,#4c8bc8 403.7px 405.5px,#d17290 405.5px 407.2px,#f9edf1 407.2px 409.0px,#2370bb 409.0px 414.2px,#3179bf 414.2px 416.0px,#9fc0e1 416.0px 417.7px,#f1f6fb 417.7px 419.5px,#acc9e6 419.5px 421.2px,#ffffff 421.2px 423.0px,#2370bb 423.0px 426.5px,#83afd9 426.5px 428.2px,#f1f6fb 428.2px 430.0px,#d17290 430.0px 431.7px,#e4edf6 431.7px 433.5px,#3179bf 433.5px 435.2px,#acc9e6 435.2px 437.0px,#d7849e 437.0px 438.7px,#acc9e6 438.7px 440.5px,#d7849e 440.5px 442.2px,#d17290 442.2px 444.0px,#3179bf 444.0px 445.7px,#9fc0e1 445.7px 447.5px,#d17290 447.5px 449.2px,#2370bb 449.2px 454.5px,#91b8dd 454.5px 456.2px,#d47b97 456.2px 458.0px,#689dd0 458.0px 459.7px,#3e82c4 459.7px 463.2px,#689dd0 463.2px 465.0px,#d6e4f2 465.0px 466.7px,#9fc0e1 466.7px 468.5px,#fcf6f8 468.5px 470.2px,#2370bb 470.2px 473.7px,#91b8dd 473.7px 475.5px,#ebc1ce 475.5px 477.2px,#2370bb 477.2px 479.0px,#c8dbee 479.0px 480.7px,#91b8dd 480.7px 482.5px,#689dd0 482.5px 484.2px,#f1f6fb 484.2px 486.0px,#3179bf 486.0px 487.7px,#2370bb 487.7px 489.5px,#e4edf6 489.5px 491.2px,#d17290 491.2px 493.0px,#689dd0 493.0px 494.7px,#91b8dd 494.7px 496.5px,#d17290 496.5px 498.3px,#76a6d4 498.3px 500.0px,#2370bb 500.0px 501.8px,#c8dbee 501.8px 503.5px,#da8ca5 503.5px 505.3px,#acc9e6 505.3px 507.0px,#d47b97 507.0px 508.8px,#fcf6f8 508.8px 510.5px,#d17290 510.5px 512.3px,#83afd9 512.3px 514.0px,#2370bb 514.0px 515.8px,#4c8bc8 515.8px 517.5px,#d17290 517.5px 519.3px,#ebc1ce 519.3px 521.0px,#e4edf6 521.0px 522.8px,#91b8dd 522.8px 524.5px,#689dd0 524.5px 526.3px,#f1d3dc 526.3px 528.1px,#df9eb3 528.1px 529.8px,#bad2ea 529.8px 531.6px,#5a94cc 531.6px 533.3px,#c8dbee 533.3px 535.1px,#bad2ea 535.1px 536.8px,#f4dce3 536.8px 538.6px,#f9edf1 538.6px 540.3px,#c8dbee 540.3px 542.1px,#d6e4f2 542.1px 543.8px,#f6e5ea 543.8px 545.6px,#d17290 545.6px 547.3px,#df9eb3 547.3px 549.1px,#d17290 549.1px 550.8px,#c8dbee 550.8px 552.6px,#eecad5 552.6px 554.4px,#91b8dd 554.4px 556.1px,#f1d3dc 556.1px 557.9px,#e5b0c1 557.9px 559.6px,#d17290 559.6px 561.4px,#eecad5 561.4px 563.1px,#d17290 563.1px 564.9px,#da8ca5 564.9px 566.6px,#76a6d4 566.6px 568.4px,#ebc1ce 568.4px 570.1px,#3179bf 570.1px 571.9px,#e8b8c8 571.9px 573.6px,#76a6d4 573.6px 575.4px,#689dd0 575.4px 577.1px,#d17290 577.1px 578.9px,#4c8bc8 578.9px 580.6px,#df9eb3 580.6px 582.4px,#83afd9 582.4px 584.2px,#d7849e 584.2px 585.9px,#2370bb 585.9px 589.4px,#d47b97 589.4px 591.2px,#e4edf6 591.2px 592.9px,#91b8dd 592.9px 594.7px,#3179bf 594.7px 598.2px,#dc95ac 598.2px 599.9px,#4c8bc8 599.9px 601.7px,#d17290 601.7px 603.4px,#c8dbee 603.4px 605.2px,#5a94cc 605.2px 606.9px,#e8b8c8 606.9px 608.7px,#d17290 608.7px 610.4px,#eecad5 610.4px 612.2px,#d17290 612.2px 614.0px,#689dd0 614.0px 615.7px,#d6e4f2 615.7px 617.5px,#f1d3dc 617.5px 619.2px,#76a6d4 619.2px 621.0px,#d47b97 621.0px 622.7px,#689dd0 622.7px 624.5px,#2370bb 624.5px 626.2px,#4c8bc8 626.2px 628.0px,#ebc1ce 628.0px 629.7px,#d17290 629.7px 631.5px,#e8b8c8 631.5px 633.2px,#2370bb 633.2px 635.0px,#ebc1ce 635.0px 636.7px,#dc95ac 636.7px 638.5px,#d17290 638.5px 640.2px,#f9edf1 640.2px 642.0px,#df9eb3 642.0px 643.8px,#76a6d4 643.8px 645.5px,#ebc1ce 645.5px 647.3px,#c8dbee 647.3px 649.0px,#ebc1ce 649.0px 650.8px,#e4edf6 650.8px 652.5px,#ebc1ce 652.5px 656.0px,#76a6d4 656.0px 657.8px,#d17290 657.8px 661.3px,#83afd9 661.3px 663.0px,#f6e5ea 663.0px 664.8px,#d17290 664.8px 666.5px,#c8dbee 666.5px 668.3px,#d17290 668.3px 670.1px,#2370bb 670.1px 671.8px,#76a6d4 671.8px 673.6px,#d7849e 673.6px 675.3px,#3179bf 675.3px 677.1px,#d17290 677.1px 678.8px,#5a94cc 678.8px 680.6px,#3e82c4 680.6px 682.3px,#d17290 682.3px 684.1px,#3e82c4 684.1px 685.8px,#2370bb 685.8px 687.6px,#689dd0 687.6px 689.3px,#eecad5 689.3px 691.1px,#d17290 691.1px 692.8px,#d6e4f2 692.8px 694.6px,#c8dbee 694.6px 696.3px,#d47b97 696.3px 698.1px,#df9eb3 698.1px 699.9px,#d17290 699.9px 701.6px,#76a6d4 701.6px 703.4px,#d17290 703.4px 705.1px,#91b8dd 705.1px 706.9px,#c8dbee 706.9px 708.6px,#d17290 708.6px 710.4px,#e2a7ba 710.4px 712.1px,#2370bb 712.1px 713.9px,#91b8dd 713.9px 715.6px,#e8b8c8 715.6px 717.4px,#4c8bc8 717.4px 719.1px,#d7849e 719.1px 720.9px,#d17290 720.9px 722.6px,#76a6d4 722.6px 724.4px,#ffffff 724.4px 726.1px,#d47b97 726.1px 727.9px,#ebc1ce 727.9px 729.7px,#3e82c4 729.7px 731.4px,#2370bb 731.4px 733.2px,#acc9e6 733.2px 734.9px,#d17290 734.9px 736.7px,#da8ca5 736.7px 738.4px,#d6e4f2 738.4px 740.2px,#f6e5ea 740.2px 741.9px,#d7849e 741.9px 743.7px,#ebc1ce 743.7px 745.4px,#d17290 745.4px 748.9px,#e4edf6 748.9px 752.4px,#bad2ea 752.4px 754.2px,#2370bb 754.2px 756.0px,#e5b0c1 756.0px 757.7px,#dc95ac 757.7px 759.5px,#3179bf 759.5px 761.2px,#d17290 761.2px 766.5px,#d6e4f2 766.5px 768.2px,#76a6d4 768.2px 770.0px,#689dd0 770.0px 771.7px,#da8ca5 771.7px 773.5px,#76a6d4 773.5px 775.2px,#2370bb 775.2px 777.0px,#689dd0 777.0px 778.7px,#fcf6f8 778.7px 780.5px,#2370bb 780.5px 782.2px,#da8ca5 782.2px 784.0px,#d17290 784.0px 789.2px,#dc95ac 789.2px 791.0px,#5a94cc 791.0px 792.7px,#d17290 792.7px 794.5px,#f6e5ea 794.5px 796.2px,#d17290 796.2px 798.0px,#fcf6f8 798.0px 799.7px,#76a6d4 799.7px 801.5px,#d17290 801.5px 803.2px,#2370bb 803.2px 805.0px,#da8ca5 805.0px 806.7px,#2370bb 806.7px 808.5px,#4c8bc8 808.5px 810.2px,#eecad5 810.2px 811.9px,#2370bb 811.9px 813.7px,#d17290 813.7px 815.4px,#f1d3dc 815.4px 817.2px,#d17290 817.2px 818.9px,#2370bb 818.9px 822.4px,#d7849e 822.4px 824.2px,#acc9e6 824.2px 825.9px,#dc95ac 825.9px 827.7px,#d17290 827.7px 829.4px,#2370bb 829.4px 831.2px,#df9eb3 831.2px 832.9px,#acc9e6 832.9px 834.7px,#d17290 834.7px 836.4px,#acc9e6 836.4px 838.1px,#d17290 838.1px 839.9px,#d7849e 839.9px 841.6px,#df9eb3 841.6px 843.4px,#91b8dd 843.4px 845.1px,#dc95ac 845.1px 846.9px,#689dd0 846.9px 848.6px,#83afd9 848.6px 850.4px,#2370bb 850.4px 852.1px,#d17290 852.1px 853.9px,#f1d3dc 853.9px 855.6px,#d17290 855.6px 857.4px,#ebc1ce 857.4px 859.1px,#f1d3dc 859.1px 860.9px,#d7849e 860.9px 862.6px,#76a6d4 862.6px 864.4px,#e4edf6 864.4px 866.1px,#76a6d4 866.1px 867.8px,#d17290 867.8px 869.6px,#2370bb 869.6px 871.3px,#d17290 871.3px 873.1px,#2370bb 873.1px 874.8px,#d17290 874.8px 878.3px,#acc9e6 878.3px 880.1px,#76a6d4 880.1px 881.8px,#d17290 881.8px 883.6px,#ffffff 883.6px 885.3px,#d47b97 885.3px 888.8px,#c8dbee 888.8px 890.6px,#ebc1ce 890.6px 892.3px,#da8ca5 892.3px 894.0px,#d17290 894.0px 895.8px,#dc95ac 895.8px 897.5px,#2370bb 897.5px 901.0px,#c8dbee 901.0px 902.8px,#2370bb 902.8px 904.5px,#d7849e 904.5px 906.3px,#d17290 906.3px 908.0px,#2370bb 908.0px 909.8px,#d47b97 909.8px 911.5px,#76a6d4 911.5px 913.3px,#2370bb 913.3px 915.0px,#91b8dd 915.0px 916.8px,#d6e4f2 916.8px 918.5px,#2370bb 918.5px 920.2px,#da8ca5 920.2px 922.0px,#d17290 922.0px 923.7px,#d6e4f2 923.7px 925.5px,#bad2ea 925.5px 927.2px,#d17290 927.2px 930.7px,#ffffff 930.7px 932.5px,#689dd0 932.5px 934.2px,#d17290 934.2px 936.0px,#ffffff 936.0px 937.7px,#d17290 937.7px 939.5px,#689dd0 939.5px 941.2px,#d17290 941.2px 943.0px,#da8ca5 943.0px 944.7px,#3179bf 944.7px 946.4px,#d17290 946.4px 949.9px,#d47b97 949.9px 951.7px,#4c8bc8 951.7px 953.4px,#d17290 953.4px 955.2px,#689dd0 955.2px 956.9px,#da8ca5 956.9px 958.7px,#689dd0 958.7px 960.4px,#2370bb 960.4px 962.2px,#3179bf 962.2px 963.9px,#e5b0c1 963.9px 965.7px,#e4edf6 965.7px 967.4px,#d17290 967.4px 969.2px,#eecad5 969.2px 970.9px,#2370bb 970.9px 972.6px,#d47b97 972.6px 974.4px,#d17290 974.4px 976.1px,#9fc0e1 976.1px 977.9px,#d7849e 977.9px 979.6px,#d17290 979.6px 983.1px,#689dd0 983.1px 984.9px,#2370bb 984.9px 986.6px,#d17290 986.6px 988.4px,#da8ca5 988.4px 990.1px,#acc9e6 990.1px 991.9px,#d17290 991.9px 993.6px,#c8dbee 993.6px 995.4px,#d17290 995.4px 997.1px,#2370bb 997.1px 998.9px,#f1f6fb 998.9px 1000.6px,#dc95ac 1000.6px 1002.3px,#d6e4f2 1002.3px 1004.1px,#d17290 1004.1px 1007.6px,#9fc0e1 1007.6px 1009.3px,#2370bb 1009.3px 1012.8px,#d17290 1012.8px 1014.6px,#83afd9 1014.6px 1016.3px,#76a6d4 1016.3px 1018.1px,#bad2ea 1018.1px 1019.8px,#3179bf 1019.8px 1021.6px,#d17290 1021.6px 1023.3px,#f1d3dc 1023.3px 1025.1px,#d17290 1025.1px 1026.8px,#3e82c4 1026.8px 1028.5px,#d17290 1028.5px 1033.8px,#ebc1ce 1033.8px 1035.5px,#d17290 1035.5px 1037.3px,#c8dbee 1037.3px 1040.8px,#df9eb3 1040.8px 1042.5px,#d17290 1042.5px 1044.3px,#d7849e 1044.3px 1046.0px,#3e82c4 1046.0px 1047.8px,#fcf6f8 1047.8px 1049.5px,#2370bb 1049.5px 1053.0px)"></div><div class="r" style="top:378.80px;height:31.28px;background:linear-gradient(90deg,#d17290 0.0px 1.7px,#2370bb 1.7px 3.5px,#d6e4f2 3.5px 5.2px,#df9eb3 5.2px 7.0px,#9fc0e1 7.0px 8.7px,#d17290 8.7px 10.5px,#5a94cc 10.5px 12.2px,#bad2ea 12.2px 14.0px,#ebc1ce 14.0px 15.7px,#d47b97 15.7px 17.5px,#e4edf6 17.5px 19.2px,#eecad5 19.2px 21.0px,#d47b97 21.0px 22.7px,#da8ca5 22.7px 24.5px,#d17290 24.5px 26.2px,#76a6d4 26.2px 27.9px,#9fc0e1 27.9px 29.7px,#d7849e 29.7px 31.4px,#d17290 31.4px 36.7px,#ffffff 36.7px 38.4px,#d7849e 38.4px 40.2px,#ebc1ce 40.2px 41.9px,#5a94cc 41.9px 43.7px,#bad2ea 43.7px 45.4px,#d17290 45.4px 47.2px,#d6e4f2 47.2px 48.9px,#2370bb 48.9px 50.6px,#c8dbee 50.6px 52.4px,#d6e4f2 52.4px 54.1px,#f6e5ea 54.1px 55.9px,#e8b8c8 55.9px 57.6px,#d17290 57.6px 59.4px,#e2a7ba 59.4px 61.1px,#d17290 61.1px 62.9px,#e5b0c1 62.9px 64.6px,#df9eb3 64.6px 66.4px,#d17290 66.4px 68.1px,#689dd0 68.1px 69.9px,#9fc0e1 69.9px 71.6px,#f4dce3 71.6px 73.4px,#9fc0e1 73.4px 75.1px,#3e82c4 75.1px 76.8px,#f4dce3 76.8px 78.6px,#9fc0e1 78.6px 80.3px,#2370bb 80.3px 82.1px,#d17290 82.1px 83.8px,#c8dbee 83.8px 85.6px,#df9eb3 85.6px 87.3px,#c8dbee 87.3px 89.1px,#bad2ea 89.1px 90.8px,#acc9e6 90.8px 92.6px,#9fc0e1 92.6px 94.3px,#eecad5 94.3px 96.1px,#f1f6fb 96.1px 97.8px,#d17290 97.8px 99.5px,#3179bf 99.5px 101.3px,#e4edf6 101.3px 103.0px,#ebc1ce 103.0px 104.8px,#e5b0c1 104.8px 106.5px,#e4edf6 106.5px 108.3px,#2370bb 108.3px 110.0px,#689dd0 110.0px 111.8px,#d17290 111.8px 113.5px,#2370bb 113.5px 117.0px,#9fc0e1 117.0px 118.8px,#91b8dd 118.8px 120.5px,#3179bf 120.5px 122.3px,#d17290 122.3px 124.0px,#2370bb 124.0px 125.7px,#acc9e6 125.7px 127.5px,#fcf6f8 127.5px 129.2px,#2370bb 129.2px 131.0px,#d17290 131.0px 132.7px,#ffffff 132.7px 134.5px,#4c8bc8 134.5px 136.2px,#f1f6fb 136.2px 138.0px,#4c8bc8 138.0px 139.7px,#d17290 139.7px 141.5px,#f1d3dc 141.5px 143.2px,#9fc0e1 143.2px 145.0px,#acc9e6 145.0px 146.7px,#2370bb 146.7px 150.2px,#4c8bc8 150.2px 151.9px,#3e82c4 151.9px 153.7px,#9fc0e1 153.7px 155.4px,#f1d3dc 155.4px 157.2px,#bad2ea 157.2px 158.9px,#2370bb 158.9px 160.7px,#df9eb3 160.7px 162.4px,#f6e5ea 162.4px 164.2px,#2370bb 164.2px 167.7px,#f6e5ea 167.7px 169.4px,#e8b8c8 169.4px 171.2px,#d17290 171.2px 172.9px,#c8dbee 172.9px 174.6px,#2370bb 174.6px 178.1px,#4c8bc8 178.1px 179.9px,#d6e4f2 179.9px 183.4px,#83afd9 183.4px 185.1px,#76a6d4 185.1px 186.9px,#2370bb 186.9px 188.6px,#689dd0 188.6px 190.4px,#91b8dd 190.4px 192.1px,#3179bf 192.1px 193.9px,#2370bb 193.9px 195.6px,#d17290 195.6px 197.3px,#91b8dd 197.3px 199.1px,#9fc0e1 199.1px 200.8px,#2370bb 200.8px 202.6px,#d17290 202.6px 204.3px,#4c8bc8 204.3px 206.1px,#3179bf 206.1px 207.8px,#2370bb 207.8px 209.6px,#3e82c4 209.6px 211.3px,#f6e5ea 211.3px 213.1px,#2370bb 213.1px 216.6px,#d17290 216.6px 218.3px,#acc9e6 218.3px 220.1px,#da8ca5 220.1px 221.8px,#eecad5 221.8px 223.5px,#fcf6f8 223.5px 225.3px,#9fc0e1 225.3px 227.0px,#bad2ea 227.0px 228.8px,#2370bb 228.8px 230.5px,#d17290 230.5px 232.3px,#5a94cc 232.3px 234.0px,#2370bb 234.0px 235.8px,#3e82c4 235.8px 237.5px,#2370bb 237.5px 239.3px,#3179bf 239.3px 241.0px,#e8b8c8 241.0px 242.8px,#9fc0e1 242.8px 244.5px,#91b8dd 244.5px 246.2px,#3e82c4 246.2px 248.0px,#9fc0e1 248.0px 249.7px,#2370bb 249.7px 251.5px,#f1d3dc 251.5px 253.2px,#2370bb 253.2px 255.0px,#dc95ac 255.0px 256.7px,#2370bb 256.7px 258.5px,#acc9e6 258.5px 260.2px,#2370bb 260.2px 262.0px,#c8dbee 262.0px 263.7px,#d17290 263.7px 265.5px,#5a94cc 265.5px 267.2px,#df9eb3 267.2px 269.0px,#3e82c4 269.0px 270.7px,#bad2ea 270.7px 272.5px,#ebc1ce 272.5px 274.2px,#91b8dd 274.2px 276.0px,#689dd0 276.0px 277.7px,#2370bb 277.7px 279.5px,#83afd9 279.5px 281.2px,#2370bb 281.2px 283.0px,#3e82c4 283.0px 284.7px,#acc9e6 284.7px 288.2px,#3179bf 288.2px 290.0px,#d6e4f2 290.0px 291.7px,#c8dbee 291.7px 293.5px,#4c8bc8 293.5px 295.2px,#2370bb 295.2px 297.0px,#3179bf 297.0px 298.7px,#d17290 298.7px 305.7px,#d47b97 305.7px 307.5px,#2370bb 307.5px 309.2px,#d17290 309.2px 311.0px,#4c8bc8 311.0px 312.7px,#ebc1ce 312.7px 314.5px,#5a94cc 314.5px 316.2px,#2370bb 316.2px 319.7px,#3179bf 319.7px 321.5px,#2370bb 321.5px 323.2px,#fcf6f8 323.2px 325.0px,#2370bb 325.0px 326.7px,#c8dbee 326.7px 328.5px,#2370bb 328.5px 330.2px,#da8ca5 330.2px 332.0px,#2370bb 332.0px 333.7px,#3179bf 333.7px 335.5px,#d6e4f2 335.5px 337.2px,#2370bb 337.2px 339.0px,#d17290 339.0px 340.7px,#3e82c4 340.7px 342.5px,#4c8bc8 342.5px 344.2px,#acc9e6 344.2px 346.0px,#f1d3dc 346.0px 347.7px,#2370bb 347.7px 349.5px,#d17290 349.5px 351.2px,#4c8bc8 351.2px 353.0px,#e4edf6 353.0px 354.7px,#2370bb 354.7px 356.5px,#ffffff 356.5px 358.2px,#eecad5 358.2px 360.0px,#d17290 360.0px 361.7px,#9fc0e1 361.7px 363.5px,#c8dbee 363.5px 365.2px,#d17290 365.2px 368.7px,#2370bb 368.7px 370.5px,#d17290 370.5px 372.2px,#83afd9 372.2px 374.0px,#2370bb 374.0px 377.5px,#5a94cc 377.5px 379.2px,#d47b97 379.2px 381.0px,#3e82c4 381.0px 382.7px,#2370bb 382.7px 384.5px,#d17290 384.5px 386.2px,#76a6d4 386.2px 388.0px,#2370bb 388.0px 389.7px,#f1f6fb 389.7px 391.5px,#2370bb 391.5px 393.2px,#f6e5ea 393.2px 395.0px,#e4edf6 395.0px 396.7px,#bad2ea 396.7px 398.5px,#2370bb 398.5px 400.2px,#eecad5 400.2px 402.0px,#9fc0e1 402.0px 403.7px,#5a94cc 403.7px 405.5px,#d17290 405.5px 407.2px,#d47b97 407.2px 409.0px,#2370bb 409.0px 414.2px,#d17290 414.2px 416.0px,#2370bb 416.0px 417.7px,#689dd0 417.7px 419.5px,#df9eb3 419.5px 421.2px,#5a94cc 421.2px 423.0px,#2370bb 423.0px 426.5px,#4c8bc8 426.5px 428.2px,#d17290 428.2px 431.7px,#d47b97 431.7px 433.5px,#ebc1ce 433.5px 435.2px,#3e82c4 435.2px 437.0px,#fcf6f8 437.0px 438.7px,#bad2ea 438.7px 440.5px,#2370bb 440.5px 442.2px,#76a6d4 442.2px 444.0px,#2370bb 444.0px 445.7px,#d6e4f2 445.7px 447.5px,#d17290 447.5px 449.2px,#3179bf 449.2px 451.0px,#2370bb 451.0px 454.5px,#76a6d4 454.5px 456.2px,#eecad5 456.2px 458.0px,#91b8dd 458.0px 459.7px,#83afd9 459.7px 461.5px,#2370bb 461.5px 463.2px,#ebc1ce 463.2px 465.0px,#da8ca5 465.0px 466.7px,#2370bb 466.7px 472.0px,#d17290 472.0px 473.7px,#e2a7ba 473.7px 475.5px,#2370bb 475.5px 477.2px,#83afd9 477.2px 479.0px,#5a94cc 479.0px 480.7px,#2370bb 480.7px 482.5px,#e5b0c1 482.5px 484.2px,#d6e4f2 484.2px 486.0px,#689dd0 486.0px 487.7px,#d7849e 487.7px 489.5px,#d17290 489.5px 491.2px,#bad2ea 491.2px 493.0px,#4c8bc8 493.0px 494.7px,#d17290 494.7px 496.5px,#e5b0c1 496.5px 498.3px,#f4dce3 498.3px 500.0px,#d17290 500.0px 501.8px,#5a94cc 501.8px 503.5px,#d17290 503.5px 508.8px,#bad2ea 508.8px 510.5px,#f1f6fb 510.5px 512.3px,#e2a7ba 512.3px 514.0px,#689dd0 514.0px 515.8px,#3179bf 515.8px 517.5px,#ffffff 517.5px 519.3px,#da8ca5 519.3px 521.0px,#d17290 521.0px 522.8px,#76a6d4 522.8px 524.5px,#d17290 524.5px 526.3px,#dc95ac 526.3px 529.8px,#e2a7ba 529.8px 531.6px,#acc9e6 531.6px 533.3px,#e4edf6 533.3px 535.1px,#e8b8c8 535.1px 536.8px,#f9edf1 536.8px 538.6px,#eecad5 538.6px 540.3px,#df9eb3 540.3px 542.1px,#d7849e 542.1px 543.8px,#e2a7ba 543.8px 545.6px,#d17290 545.6px 547.3px,#ebc1ce 547.3px 549.1px,#d17290 549.1px 550.8px,#2370bb 550.8px 552.6px,#d17290 552.6px 554.4px,#eecad5 554.4px 556.1px,#d17290 556.1px 559.6px,#91b8dd 559.6px 561.4px,#76a6d4 561.4px 563.1px,#df9eb3 563.1px 564.9px,#da8ca5 564.9px 566.6px,#fcf6f8 566.6px 568.4px,#d17290 568.4px 570.1px,#76a6d4 570.1px 571.9px,#e2a7ba 571.9px 573.6px,#2370bb 573.6px 575.4px,#da8ca5 575.4px 577.1px,#e4edf6 577.1px 578.9px,#d17290 578.9px 582.4px,#689dd0 582.4px 584.2px,#5a94cc 584.2px 585.9px,#91b8dd 585.9px 587.7px,#e4edf6 587.7px 589.4px,#2370bb 589.4px 592.9px,#acc9e6 592.9px 594.7px,#2370bb 594.7px 596.4px,#fcf6f8 596.4px 598.2px,#f9edf1 598.2px 599.9px,#689dd0 599.9px 601.7px,#d17290 601.7px 603.4px,#e5b0c1 603.4px 605.2px,#2370bb 605.2px 606.9px,#d17290 606.9px 619.2px,#e2a7ba 619.2px 621.0px,#d17290 621.0px 622.7px,#d7849e 622.7px 624.5px,#d6e4f2 624.5px 626.2px,#e8b8c8 626.2px 628.0px,#76a6d4 628.0px 629.7px,#2370bb 629.7px 631.5px,#d17290 631.5px 633.2px,#2370bb 633.2px 635.0px,#ebc1ce 635.0px 636.7px,#d17290 636.7px 638.5px,#bad2ea 638.5px 640.2px,#ebc1ce 640.2px 642.0px,#f1d3dc 642.0px 643.8px,#d6e4f2 643.8px 645.5px,#da8ca5 645.5px 647.3px,#d17290 647.3px 649.0px,#f1d3dc 649.0px 650.8px,#2370bb 650.8px 652.5px,#c8dbee 652.5px 654.3px,#e5b0c1 654.3px 656.0px,#df9eb3 656.0px 657.8px,#d7849e 657.8px 663.0px,#5a94cc 663.0px 664.8px,#f1d3dc 664.8px 666.5px,#df9eb3 666.5px 668.3px,#dc95ac 668.3px 670.1px,#c8dbee 670.1px 671.8px,#da8ca5 671.8px 673.6px,#3179bf 673.6px 675.3px,#ebc1ce 675.3px 677.1px,#2370bb 677.1px 678.8px,#d17290 678.8px 680.6px,#2370bb 680.6px 682.3px,#c8dbee 682.3px 684.1px,#2370bb 684.1px 685.8px,#f1f6fb 685.8px 689.3px,#91b8dd 689.3px 691.1px,#d7849e 691.1px 692.8px,#e2a7ba 692.8px 694.6px,#d6e4f2 694.6px 696.3px,#3e82c4 696.3px 698.1px,#d17290 698.1px 699.9px,#df9eb3 699.9px 701.6px,#d17290 701.6px 703.4px,#2370bb 703.4px 708.6px,#d17290 708.6px 712.1px,#f9edf1 712.1px 713.9px,#76a6d4 713.9px 715.6px,#f6e5ea 715.6px 717.4px,#dc95ac 717.4px 719.1px,#d47b97 719.1px 720.9px,#d17290 720.9px 724.4px,#76a6d4 724.4px 726.1px,#ebc1ce 726.1px 727.9px,#d17290 727.9px 731.4px,#eecad5 731.4px 733.2px,#2370bb 733.2px 736.7px,#d17290 736.7px 738.4px,#76a6d4 738.4px 740.2px,#d7849e 740.2px 741.9px,#f1d3dc 741.9px 743.7px,#f1f6fb 743.7px 745.4px,#ebc1ce 745.4px 747.2px,#bad2ea 747.2px 748.9px,#e4edf6 748.9px 750.7px,#76a6d4 750.7px 752.4px,#d17290 752.4px 754.2px,#4c8bc8 754.2px 756.0px,#dc95ac 756.0px 757.7px,#f1d3dc 757.7px 759.5px,#91b8dd 759.5px 761.2px,#f4dce3 761.2px 763.0px,#d7849e 763.0px 764.7px,#2370bb 764.7px 768.2px,#d17290 768.2px 770.0px,#2370bb 770.0px 771.7px,#e5b0c1 771.7px 773.5px,#acc9e6 773.5px 775.2px,#9fc0e1 775.2px 777.0px,#d17290 777.0px 778.7px,#f1f6fb 778.7px 780.5px,#e5b0c1 780.5px 782.2px,#d17290 782.2px 785.7px,#e5b0c1 785.7px 787.5px,#d17290 787.5px 791.0px,#d7849e 791.0px 792.7px,#da8ca5 792.7px 794.5px,#d7849e 794.5px 796.2px,#da8ca5 796.2px 798.0px,#d17290 798.0px 801.5px,#da8ca5 801.5px 803.2px,#df9eb3 803.2px 805.0px,#d17290 805.0px 806.7px,#ebc1ce 806.7px 808.5px,#df9eb3 808.5px 810.2px,#d17290 810.2px 811.9px,#d7849e 811.9px 813.7px,#d17290 813.7px 815.4px,#f1d3dc 815.4px 817.2px,#da8ca5 817.2px 818.9px,#acc9e6 818.9px 820.7px,#2370bb 820.7px 822.4px,#83afd9 822.4px 824.2px,#df9eb3 824.2px 825.9px,#2370bb 825.9px 827.7px,#d7849e 827.7px 829.4px,#ebc1ce 829.4px 831.2px,#2370bb 831.2px 832.9px,#eecad5 832.9px 834.7px,#f6e5ea 834.7px 836.4px,#d17290 836.4px 838.1px,#e5b0c1 838.1px 841.6px,#d17290 841.6px 843.4px,#fcf6f8 843.4px 845.1px,#d7849e 845.1px 848.6px,#2370bb 848.6px 850.4px,#dc95ac 850.4px 852.1px,#e5b0c1 852.1px 853.9px,#f6e5ea 853.9px 855.6px,#76a6d4 855.6px 857.4px,#bad2ea 857.4px 859.1px,#dc95ac 859.1px 860.9px,#2370bb 860.9px 862.6px,#dc95ac 862.6px 864.4px,#d17290 864.4px 866.1px,#2370bb 866.1px 867.8px,#76a6d4 867.8px 869.6px,#d17290 869.6px 873.1px,#df9eb3 873.1px 874.8px,#d17290 874.8px 876.6px,#f1d3dc 876.6px 878.3px,#d17290 878.3px 881.8px,#e5b0c1 881.8px 883.6px,#d17290 883.6px 885.3px,#d7849e 885.3px 887.1px,#dc95ac 887.1px 888.8px,#e8b8c8 888.8px 890.6px,#bad2ea 890.6px 892.3px,#689dd0 892.3px 894.0px,#d17290 894.0px 899.3px,#2370bb 899.3px 901.0px,#df9eb3 901.0px 902.8px,#ebc1ce 902.8px 904.5px,#d6e4f2 904.5px 906.3px,#d7849e 906.3px 908.0px,#d47b97 908.0px 909.8px,#d17290 909.8px 911.5px,#2370bb 911.5px 913.3px,#5a94cc 913.3px 915.0px,#d17290 915.0px 916.8px,#d6e4f2 916.8px 918.5px,#df9eb3 918.5px 920.2px,#d17290 920.2px 922.0px,#df9eb3 922.0px 923.7px,#2370bb 923.7px 925.5px,#d17290 925.5px 927.2px,#2370bb 927.2px 930.7px,#d17290 930.7px 936.0px,#2370bb 936.0px 937.7px,#d17290 937.7px 939.5px,#fcf6f8 939.5px 941.2px,#dc95ac 941.2px 943.0px,#d7849e 943.0px 944.7px,#d17290 944.7px 946.4px,#f6e5ea 946.4px 948.2px,#d17290 948.2px 949.9px,#2370bb 949.9px 951.7px,#dc95ac 951.7px 953.4px,#4c8bc8 953.4px 955.2px,#83afd9 955.2px 956.9px,#df9eb3 956.9px 958.7px,#e8b8c8 958.7px 960.4px,#f1d3dc 960.4px 962.2px,#ebc1ce 962.2px 963.9px,#d17290 963.9px 967.4px,#f1d3dc 967.4px 969.2px,#d17290 969.2px 970.9px,#2370bb 970.9px 972.6px,#c8dbee 972.6px 974.4px,#d17290 974.4px 977.9px,#ebc1ce 977.9px 979.6px,#d17290 979.6px 981.4px,#91b8dd 981.4px 983.1px,#d17290 983.1px 986.6px,#da8ca5 986.6px 988.4px,#dc95ac 988.4px 990.1px,#d47b97 990.1px 991.9px,#d17290 991.9px 993.6px,#ebc1ce 993.6px 995.4px,#da8ca5 995.4px 997.1px,#83afd9 997.1px 998.9px,#acc9e6 998.9px 1000.6px,#d17290 1000.6px 1002.3px,#f6e5ea 1002.3px 1004.1px,#d17290 1004.1px 1007.6px,#2370bb 1007.6px 1009.3px,#d47b97 1009.3px 1011.1px,#76a6d4 1011.1px 1012.8px,#da8ca5 1012.8px 1014.6px,#e2a7ba 1014.6px 1016.3px,#d17290 1016.3px 1018.1px,#d7849e 1018.1px 1019.8px,#d17290 1019.8px 1021.6px,#ebc1ce 1021.6px 1023.3px,#d17290 1023.3px 1026.8px,#d7849e 1026.8px 1030.3px,#e5b0c1 1030.3px 1032.0px,#4c8bc8 1032.0px 1033.8px,#df9eb3 1033.8px 1035.5px,#e4edf6 1035.5px 1037.3px,#d7849e 1037.3px 1039.0px,#2370bb 1039.0px 1040.8px,#dc95ac 1040.8px 1042.5px,#d17290 1042.5px 1049.5px,#e4edf6 1049.5px 1051.3px,#d17290 1051.3px 1053.0px)"></div><div class="r" style="top:410.08px;height:31.28px;background:linear-gradient(90deg,#2370bb 0.0px 1.7px,#d17290 1.7px 3.5px,#f9edf1 3.5px 5.2px,#2370bb 5.2px 14.0px,#fcf6f8 14.0px 15.7px,#2370bb 15.7px 17.5px,#ffffff 17.5px 19.2px,#2370bb 19.2px 22.7px,#f1d3dc 22.7px 24.5px,#2370bb 24.5px 27.9px,#df9eb3 27.9px 29.7px,#2370bb 29.7px 38.4px,#e8b8c8 38.4px 40.2px,#f1d3dc 40.2px 41.9px,#2370bb 41.9px 47.2px,#dc95ac 47.2px 48.9px,#2370bb 48.9px 52.4px,#3e82c4 52.4px 54.1px,#d17290 54.1px 55.9px,#2370bb 55.9px 59.4px,#d17290 59.4px 61.1px,#2370bb 61.1px 64.6px,#d17290 64.6px 66.4px,#3179bf 66.4px 68.1px,#2370bb 68.1px 69.9px,#76a6d4 69.9px 71.6px,#2370bb 71.6px 73.4px,#f1f6fb 73.4px 75.1px,#2370bb 75.1px 83.8px,#d17290 83.8px 85.6px,#2370bb 85.6px 89.1px,#f1f6fb 89.1px 90.8px,#d17290 90.8px 92.6px,#2370bb 92.6px 94.3px,#d17290 94.3px 96.1px,#2370bb 96.1px 97.8px,#f4dce3 97.8px 99.5px,#2370bb 99.5px 104.8px,#f9edf1 104.8px 106.5px,#2370bb 106.5px 115.3px,#acc9e6 115.3px 117.0px,#2370bb 117.0px 122.3px,#f4dce3 122.3px 124.0px,#c8dbee 124.0px 125.7px,#d17290 125.7px 127.5px,#2370bb 127.5px 129.2px,#e4edf6 129.2px 131.0px,#d17290 131.0px 132.7px,#2370bb 132.7px 138.0px,#e4edf6 138.0px 139.7px,#2370bb 139.7px 141.5px,#d17290 141.5px 143.2px,#2370bb 143.2px 145.0px,#9fc0e1 145.0px 146.7px,#2370bb 146.7px 153.7px,#d17290 153.7px 155.4px,#2370bb 155.4px 157.2px,#d17290 157.2px 158.9px,#2370bb 158.9px 160.7px,#c8dbee 160.7px 162.4px,#2370bb 162.4px 185.1px,#d17290 185.1px 186.9px,#d7849e 186.9px 188.6px,#2370bb 188.6px 193.9px,#689dd0 193.9px 195.6px,#d17290 195.6px 197.3px,#91b8dd 197.3px 199.1px,#2370bb 199.1px 204.3px,#d17290 204.3px 206.1px,#2370bb 206.1px 214.8px,#5a94cc 214.8px 216.6px,#2370bb 216.6px 223.5px,#91b8dd 223.5px 225.3px,#d6e4f2 225.3px 227.0px,#2370bb 227.0px 248.0px,#83afd9 248.0px 249.7px,#2370bb 249.7px 253.2px,#4c8bc8 253.2px 255.0px,#fcf6f8 255.0px 256.7px,#2370bb 256.7px 270.7px,#d17290 270.7px 277.7px,#76a6d4 277.7px 279.5px,#2370bb 279.5px 281.2px,#d17290 281.2px 284.7px,#d47b97 284.7px 286.5px,#2370bb 286.5px 288.2px,#d17290 288.2px 290.0px,#2370bb 290.0px 293.5px,#f1d3dc 293.5px 295.2px,#2370bb 295.2px 298.7px,#d17290 298.7px 300.5px,#2370bb 300.5px 302.2px,#d17290 302.2px 304.0px,#bad2ea 304.0px 305.7px,#d17290 305.7px 307.5px,#2370bb 307.5px 309.2px,#d17290 309.2px 311.0px,#2370bb 311.0px 312.7px,#d17290 312.7px 314.5px,#2370bb 314.5px 316.2px,#d17290 316.2px 318.0px,#2370bb 318.0px 319.7px,#d17290 319.7px 321.5px,#2370bb 321.5px 325.0px,#f9edf1 325.0px 326.7px,#2370bb 326.7px 332.0px,#e2a7ba 332.0px 333.7px,#2370bb 333.7px 335.5px,#d17290 335.5px 337.2px,#9fc0e1 337.2px 339.0px,#2370bb 339.0px 340.7px,#5a94cc 340.7px 342.5px,#2370bb 342.5px 344.2px,#d17290 344.2px 346.0px,#2370bb 346.0px 347.7px,#f1d3dc 347.7px 349.5px,#2370bb 349.5px 354.7px,#5a94cc 354.7px 356.5px,#d17290 356.5px 358.2px,#2370bb 358.2px 360.0px,#fcf6f8 360.0px 361.7px,#da8ca5 361.7px 363.5px,#d17290 363.5px 365.2px,#2370bb 365.2px 367.0px,#d47b97 367.0px 368.7px,#2370bb 368.7px 375.7px,#d17290 375.7px 379.2px,#2370bb 379.2px 388.0px,#d17290 388.0px 389.7px,#2370bb 389.7px 391.5px,#83afd9 391.5px 393.2px,#2370bb 393.2px 402.0px,#d17290 402.0px 405.5px,#2370bb 405.5px 407.2px,#d17290 407.2px 409.0px,#2370bb 409.0px 412.5px,#d17290 412.5px 414.2px,#2370bb 414.2px 416.0px,#d17290 416.0px 419.5px,#d7849e 419.5px 421.2px,#2370bb 421.2px 423.0px,#9fc0e1 423.0px 424.7px,#2370bb 424.7px 428.2px,#d17290 428.2px 430.0px,#2370bb 430.0px 431.7px,#d17290 431.7px 433.5px,#2370bb 433.5px 435.2px,#d17290 435.2px 437.0px,#2370bb 437.0px 444.0px,#dc95ac 444.0px 445.7px,#d17290 445.7px 447.5px,#d47b97 447.5px 449.2px,#d17290 449.2px 451.0px,#9fc0e1 451.0px 452.7px,#2370bb 452.7px 458.0px,#d17290 458.0px 459.7px,#2370bb 459.7px 461.5px,#d17290 461.5px 463.2px,#2370bb 463.2px 468.5px,#d17290 468.5px 470.2px,#2370bb 470.2px 472.0px,#d17290 472.0px 473.7px,#2370bb 473.7px 479.0px,#d7849e 479.0px 480.7px,#2370bb 480.7px 482.5px,#d17290 482.5px 484.2px,#f1d3dc 484.2px 486.0px,#d17290 486.0px 487.7px,#2370bb 487.7px 489.5px,#d7849e 489.5px 491.2px,#91b8dd 491.2px 493.0px,#689dd0 493.0px 494.7px,#83afd9 494.7px 496.5px,#2370bb 496.5px 500.0px,#d17290 500.0px 501.8px,#76a6d4 501.8px 503.5px,#2370bb 503.5px 508.8px,#d17290 508.8px 510.5px,#2370bb 510.5px 512.3px,#d17290 512.3px 514.0px,#2370bb 514.0px 515.8px,#d17290 515.8px 517.5px,#2370bb 517.5px 524.5px,#d17290 524.5px 526.3px,#2370bb 526.3px 528.1px,#d17290 528.1px 531.6px,#2370bb 531.6px 533.3px,#d17290 533.3px 535.1px,#2370bb 535.1px 542.1px,#ffffff 542.1px 543.8px,#2370bb 543.8px 545.6px,#d17290 545.6px 547.3px,#2370bb 547.3px 549.1px,#da8ca5 549.1px 550.8px,#d17290 550.8px 552.6px,#2370bb 552.6px 559.6px,#d17290 559.6px 561.4px,#2370bb 561.4px 566.6px,#e5b0c1 566.6px 568.4px,#d17290 568.4px 570.1px,#2370bb 570.1px 571.9px,#d17290 571.9px 577.1px,#d47b97 577.1px 578.9px,#d17290 578.9px 582.4px,#bad2ea 582.4px 584.2px,#fcf6f8 584.2px 585.9px,#2370bb 585.9px 587.7px,#d17290 587.7px 591.2px,#ebc1ce 591.2px 592.9px,#2370bb 592.9px 594.7px,#d17290 594.7px 598.2px,#3e82c4 598.2px 599.9px,#2370bb 599.9px 601.7px,#9fc0e1 601.7px 603.4px,#d17290 603.4px 605.2px,#2370bb 605.2px 606.9px,#d17290 606.9px 608.7px,#2370bb 608.7px 610.4px,#5a94cc 610.4px 612.2px,#d17290 612.2px 614.0px,#da8ca5 614.0px 615.7px,#d17290 615.7px 617.5px,#2370bb 617.5px 621.0px,#d17290 621.0px 628.0px,#2370bb 628.0px 629.7px,#d17290 629.7px 635.0px,#e2a7ba 635.0px 636.7px,#2370bb 636.7px 638.5px,#d17290 638.5px 640.2px,#2370bb 640.2px 650.8px,#d17290 650.8px 652.5px,#df9eb3 652.5px 654.3px,#d17290 654.3px 656.0px,#9fc0e1 656.0px 657.8px,#689dd0 657.8px 659.5px,#2370bb 659.5px 661.3px,#d17290 661.3px 666.5px,#2370bb 666.5px 677.1px,#d17290 677.1px 678.8px,#2370bb 678.8px 682.3px,#d6e4f2 682.3px 684.1px,#2370bb 684.1px 685.8px,#d17290 685.8px 689.3px,#2370bb 689.3px 691.1px,#f1d3dc 691.1px 692.8px,#91b8dd 692.8px 694.6px,#d17290 694.6px 701.6px,#2370bb 701.6px 703.4px,#9fc0e1 703.4px 705.1px,#2370bb 705.1px 708.6px,#4c8bc8 708.6px 710.4px,#2370bb 710.4px 712.1px,#d17290 712.1px 713.9px,#2370bb 713.9px 717.4px,#d17290 717.4px 724.4px,#2370bb 724.4px 727.9px,#5a94cc 727.9px 729.7px,#d17290 729.7px 731.4px,#2370bb 731.4px 734.9px,#d17290 734.9px 736.7px,#9fc0e1 736.7px 740.2px,#2370bb 740.2px 743.7px,#e4edf6 743.7px 745.4px,#f6e5ea 745.4px 747.2px,#fcf6f8 747.2px 748.9px,#2370bb 748.9px 750.7px,#d17290 750.7px 752.4px,#2370bb 752.4px 754.2px,#d17290 754.2px 756.0px,#2370bb 756.0px 759.5px,#d17290 759.5px 761.2px,#2370bb 761.2px 764.7px,#e8b8c8 764.7px 766.5px,#ebc1ce 766.5px 768.2px,#e2a7ba 768.2px 770.0px,#2370bb 770.0px 773.5px,#d17290 773.5px 775.2px,#2370bb 775.2px 777.0px,#d17290 777.0px 780.5px,#e8b8c8 780.5px 782.2px,#d17290 782.2px 784.0px,#2370bb 784.0px 785.7px,#f9edf1 785.7px 787.5px,#9fc0e1 787.5px 789.2px,#2370bb 789.2px 792.7px,#d47b97 792.7px 794.5px,#d17290 794.5px 801.5px,#2370bb 801.5px 803.2px,#d17290 803.2px 805.0px,#689dd0 805.0px 806.7px,#d17290 806.7px 808.5px,#2370bb 808.5px 810.2px,#d17290 810.2px 811.9px,#2370bb 811.9px 815.4px,#df9eb3 815.4px 817.2px,#d17290 817.2px 818.9px,#2370bb 818.9px 822.4px,#3e82c4 822.4px 824.2px,#2370bb 824.2px 825.9px,#d17290 825.9px 827.7px,#2370bb 827.7px 832.9px,#d17290 832.9px 834.7px,#2370bb 834.7px 841.6px,#d17290 841.6px 845.1px,#2370bb 845.1px 846.9px,#d17290 846.9px 848.6px,#2370bb 848.6px 850.4px,#d17290 850.4px 852.1px,#2370bb 852.1px 853.9px,#d17290 853.9px 855.6px,#2370bb 855.6px 857.4px,#d47b97 857.4px 859.1px,#2370bb 859.1px 860.9px,#5a94cc 860.9px 862.6px,#d17290 862.6px 866.1px,#bad2ea 866.1px 867.8px,#d6e4f2 867.8px 869.6px,#d17290 869.6px 876.6px,#4c8bc8 876.6px 878.3px,#d17290 878.3px 881.8px,#2370bb 881.8px 883.6px,#d17290 883.6px 885.3px,#2370bb 885.3px 888.8px,#acc9e6 888.8px 890.6px,#83afd9 890.6px 892.3px,#e2a7ba 892.3px 894.0px,#f4dce3 894.0px 895.8px,#2370bb 895.8px 897.5px,#d17290 897.5px 902.8px,#2370bb 902.8px 904.5px,#d17290 904.5px 906.3px,#2370bb 906.3px 908.0px,#d17290 908.0px 909.8px,#2370bb 909.8px 911.5px,#d17290 911.5px 916.8px,#df9eb3 916.8px 918.5px,#2370bb 918.5px 922.0px,#d17290 922.0px 923.7px,#2370bb 923.7px 925.5px,#d17290 925.5px 929.0px,#f1d3dc 929.0px 930.7px,#d17290 930.7px 934.2px,#2370bb 934.2px 937.7px,#d17290 937.7px 944.7px,#2370bb 944.7px 946.4px,#e2a7ba 946.4px 948.2px,#d17290 948.2px 949.9px,#2370bb 949.9px 951.7px,#ebc1ce 951.7px 953.4px,#d47b97 953.4px 955.2px,#d17290 955.2px 960.4px,#2370bb 960.4px 962.2px,#d17290 962.2px 963.9px,#f1d3dc 963.9px 965.7px,#d17290 965.7px 967.4px,#689dd0 967.4px 969.2px,#2370bb 969.2px 974.4px,#d17290 974.4px 976.1px,#2370bb 976.1px 983.1px,#d17290 983.1px 988.4px,#5a94cc 988.4px 990.1px,#2370bb 990.1px 991.9px,#689dd0 991.9px 993.6px,#2370bb 993.6px 997.1px,#d6e4f2 997.1px 998.9px,#d17290 998.9px 1005.8px,#c8dbee 1005.8px 1007.6px,#d17290 1007.6px 1009.3px,#e2a7ba 1009.3px 1011.1px,#d17290 1011.1px 1012.8px,#2370bb 1012.8px 1014.6px,#d17290 1014.6px 1016.3px,#2370bb 1016.3px 1019.8px,#d17290 1019.8px 1023.3px,#bad2ea 1023.3px 1025.1px,#e8b8c8 1025.1px 1026.8px,#2370bb 1026.8px 1028.5px,#d17290 1028.5px 1030.3px,#2370bb 1030.3px 1032.0px,#d17290 1032.0px 1033.8px,#2370bb 1033.8px 1037.3px,#acc9e6 1037.3px 1039.0px,#d17290 1039.0px 1051.3px,#bad2ea 1051.3px 1053.0px)"></div><div class="r" style="top:441.36px;height:31.28px;background:linear-gradient(90deg,#e2a7ba 0.0px 1.7px,#4c8bc8 1.7px 3.5px,#d17290 3.5px 5.2px,#9fc0e1 5.2px 8.7px,#e4edf6 8.7px 10.5px,#eecad5 10.5px 12.2px,#f4dce3 12.2px 14.0px,#83afd9 14.0px 15.7px,#f9edf1 15.7px 17.5px,#83afd9 17.5px 19.2px,#fcf6f8 19.2px 21.0px,#ebc1ce 21.0px 22.7px,#e5b0c1 22.7px 24.5px,#91b8dd 24.5px 26.2px,#e4edf6 26.2px 27.9px,#d17290 27.9px 31.4px,#689dd0 31.4px 33.2px,#d17290 33.2px 34.9px,#bad2ea 34.9px 36.7px,#ebc1ce 36.7px 40.2px,#9fc0e1 40.2px 41.9px,#91b8dd 41.9px 43.7px,#ffffff 43.7px 45.4px,#f6e5ea 45.4px 47.2px,#fcf6f8 47.2px 48.9px,#ffffff 48.9px 50.6px,#fcf6f8 50.6px 52.4px,#e8b8c8 52.4px 54.1px,#76a6d4 54.1px 55.9px,#e4edf6 55.9px 57.6px,#f1f6fb 57.6px 59.4px,#3179bf 59.4px 61.1px,#df9eb3 61.1px 62.9px,#f1f6fb 62.9px 64.6px,#5a94cc 64.6px 66.4px,#d17290 66.4px 68.1px,#ebc1ce 68.1px 69.9px,#bad2ea 69.9px 71.6px,#e4edf6 71.6px 73.4px,#d6e4f2 73.4px 75.1px,#f9edf1 75.1px 76.8px,#d17290 76.8px 78.6px,#e4edf6 78.6px 80.3px,#f1d3dc 80.3px 82.1px,#91b8dd 82.1px 83.8px,#df9eb3 83.8px 85.6px,#9fc0e1 85.6px 87.3px,#da8ca5 87.3px 89.1px,#d17290 89.1px 90.8px,#f9edf1 90.8px 92.6px,#83afd9 92.6px 94.3px,#d17290 94.3px 97.8px,#dc95ac 97.8px 99.5px,#f1f6fb 99.5px 101.3px,#c8dbee 101.3px 103.0px,#ffffff 103.0px 104.8px,#2370bb 104.8px 106.5px,#d6e4f2 106.5px 108.3px,#e2a7ba 108.3px 110.0px,#c8dbee 110.0px 111.8px,#9fc0e1 111.8px 113.5px,#d17290 113.5px 120.5px,#f4dce3 120.5px 122.3px,#76a6d4 122.3px 124.0px,#d17290 124.0px 125.7px,#bad2ea 125.7px 127.5px,#9fc0e1 127.5px 129.2px,#91b8dd 129.2px 131.0px,#d17290 131.0px 132.7px,#acc9e6 132.7px 134.5px,#d17290 134.5px 136.2px,#d47b97 136.2px 138.0px,#d17290 138.0px 139.7px,#ebc1ce 139.7px 141.5px,#da8ca5 141.5px 143.2px,#f1f6fb 143.2px 145.0px,#5a94cc 145.0px 146.7px,#f6e5ea 146.7px 148.4px,#acc9e6 148.4px 150.2px,#c8dbee 150.2px 151.9px,#e4edf6 151.9px 153.7px,#2370bb 153.7px 155.4px,#d17290 155.4px 157.2px,#eecad5 157.2px 158.9px,#2370bb 158.9px 160.7px,#d17290 160.7px 162.4px,#76a6d4 162.4px 164.2px,#e5b0c1 164.2px 165.9px,#ebc1ce 165.9px 167.7px,#9fc0e1 167.7px 169.4px,#3e82c4 169.4px 171.2px,#d7849e 171.2px 172.9px,#2370bb 172.9px 174.6px,#d17290 174.6px 176.4px,#76a6d4 176.4px 178.1px,#d17290 178.1px 179.9px,#bad2ea 179.9px 181.6px,#d7849e 181.6px 183.4px,#3e82c4 183.4px 185.1px,#4c8bc8 185.1px 186.9px,#91b8dd 186.9px 188.6px,#d17290 188.6px 190.4px,#ebc1ce 190.4px 192.1px,#9fc0e1 192.1px 193.9px,#ffffff 193.9px 195.6px,#2370bb 195.6px 197.3px,#ebc1ce 197.3px 199.1px,#acc9e6 199.1px 200.8px,#2370bb 200.8px 204.3px,#83afd9 204.3px 206.1px,#f9edf1 206.1px 207.8px,#d17290 207.8px 209.6px,#9fc0e1 209.6px 211.3px,#df9eb3 211.3px 213.1px,#d6e4f2 213.1px 216.6px,#e2a7ba 216.6px 218.3px,#acc9e6 218.3px 220.1px,#bad2ea 220.1px 221.8px,#c8dbee 221.8px 223.5px,#d17290 223.5px 225.3px,#2370bb 225.3px 228.8px,#acc9e6 228.8px 230.5px,#689dd0 230.5px 232.3px,#2370bb 232.3px 234.0px,#e4edf6 234.0px 235.8px,#f1f6fb 235.8px 237.5px,#e4edf6 237.5px 239.3px,#f1f6fb 239.3px 241.0px,#df9eb3 241.0px 242.8px,#76a6d4 242.8px 244.5px,#e4edf6 244.5px 246.2px,#9fc0e1 246.2px 248.0px,#689dd0 248.0px 249.7px,#2370bb 249.7px 251.5px,#d6e4f2 251.5px 253.2px,#4c8bc8 253.2px 255.0px,#da8ca5 255.0px 256.7px,#2370bb 256.7px 258.5px,#e2a7ba 258.5px 260.2px,#d17290 260.2px 262.0px,#d6e4f2 262.0px 263.7px,#76a6d4 263.7px 265.5px,#d6e4f2 265.5px 267.2px,#91b8dd 267.2px 269.0px,#d6e4f2 269.0px 270.7px,#2370bb 270.7px 272.5px,#83afd9 272.5px 274.2px,#acc9e6 274.2px 276.0px,#d17290 276.0px 277.7px,#689dd0 277.7px 279.5px,#d17290 279.5px 281.2px,#d47b97 281.2px 283.0px,#f1d3dc 283.0px 284.7px,#2370bb 284.7px 286.5px,#d17290 286.5px 288.2px,#689dd0 288.2px 290.0px,#da8ca5 290.0px 291.7px,#689dd0 291.7px 293.5px,#5a94cc 293.5px 295.2px,#bad2ea 295.2px 297.0px,#acc9e6 297.0px 298.7px,#2370bb 298.7px 300.5px,#e5b0c1 300.5px 302.2px,#e2a7ba 302.2px 304.0px,#2370bb 304.0px 307.5px,#d7849e 307.5px 309.2px,#f1d3dc 309.2px 311.0px,#83afd9 311.0px 312.7px,#f9edf1 312.7px 314.5px,#acc9e6 314.5px 316.2px,#83afd9 316.2px 318.0px,#4c8bc8 318.0px 319.7px,#f9edf1 319.7px 321.5px,#acc9e6 321.5px 323.2px,#9fc0e1 323.2px 325.0px,#d7849e 325.0px 326.7px,#acc9e6 326.7px 328.5px,#c8dbee 328.5px 330.2px,#f1d3dc 330.2px 332.0px,#3179bf 332.0px 333.7px,#e5b0c1 333.7px 335.5px,#d47b97 335.5px 337.2px,#e4edf6 337.2px 339.0px,#d17290 339.0px 340.7px,#f1f6fb 340.7px 342.5px,#91b8dd 342.5px 344.2px,#3e82c4 344.2px 346.0px,#83afd9 346.0px 347.7px,#3e82c4 347.7px 349.5px,#e4edf6 349.5px 351.2px,#689dd0 351.2px 353.0px,#acc9e6 353.0px 354.7px,#83afd9 354.7px 356.5px,#76a6d4 356.5px 358.2px,#9fc0e1 358.2px 360.0px,#d17290 360.0px 363.5px,#bad2ea 363.5px 365.2px,#76a6d4 365.2px 367.0px,#91b8dd 367.0px 368.7px,#ebc1ce 368.7px 370.5px,#76a6d4 370.5px 372.2px,#dc95ac 372.2px 374.0px,#d17290 374.0px 375.7px,#e5b0c1 375.7px 377.5px,#91b8dd 377.5px 379.2px,#d17290 379.2px 381.0px,#4c8bc8 381.0px 382.7px,#d17290 382.7px 384.5px,#2370bb 384.5px 386.2px,#d17290 386.2px 388.0px,#3179bf 388.0px 389.7px,#acc9e6 389.7px 391.5px,#d7849e 391.5px 393.2px,#d17290 393.2px 395.0px,#5a94cc 395.0px 396.7px,#689dd0 396.7px 398.5px,#d7849e 398.5px 400.2px,#f4dce3 400.2px 402.0px,#76a6d4 402.0px 403.7px,#dc95ac 403.7px 405.5px,#d47b97 405.5px 407.2px,#76a6d4 407.2px 409.0px,#2370bb 409.0px 410.7px,#acc9e6 410.7px 412.5px,#bad2ea 412.5px 414.2px,#d17290 414.2px 416.0px,#91b8dd 416.0px 417.7px,#c8dbee 417.7px 419.5px,#f4dce3 419.5px 421.2px,#d6e4f2 421.2px 423.0px,#2370bb 423.0px 424.7px,#d17290 424.7px 426.5px,#ebc1ce 426.5px 428.2px,#da8ca5 428.2px 430.0px,#4c8bc8 430.0px 431.7px,#9fc0e1 431.7px 433.5px,#3179bf 433.5px 435.2px,#689dd0 435.2px 437.0px,#4c8bc8 437.0px 438.7px,#d17290 438.7px 440.5px,#2370bb 440.5px 442.2px,#d6e4f2 442.2px 444.0px,#bad2ea 444.0px 445.7px,#2370bb 445.7px 447.5px,#d6e4f2 447.5px 449.2px,#c8dbee 449.2px 451.0px,#83afd9 451.0px 452.7px,#e5b0c1 452.7px 454.5px,#2370bb 454.5px 456.2px,#c8dbee 456.2px 458.0px,#d17290 458.0px 459.7px,#acc9e6 459.7px 461.5px,#d17290 461.5px 465.0px,#689dd0 465.0px 466.7px,#ffffff 466.7px 468.5px,#f1f6fb 468.5px 470.2px,#3e82c4 470.2px 472.0px,#df9eb3 472.0px 473.7px,#da8ca5 473.7px 475.5px,#e5b0c1 475.5px 477.2px,#2370bb 477.2px 479.0px,#5a94cc 479.0px 480.7px,#d17290 480.7px 482.5px,#3e82c4 482.5px 484.2px,#5a94cc 484.2px 486.0px,#f1d3dc 486.0px 487.7px,#2370bb 487.7px 489.5px,#df9eb3 489.5px 491.2px,#dc95ac 491.2px 493.0px,#d17290 493.0px 494.7px,#d47b97 494.7px 496.5px,#4c8bc8 496.5px 498.3px,#ffffff 498.3px 500.0px,#9fc0e1 500.0px 501.8px,#d17290 501.8px 503.5px,#ebc1ce 503.5px 505.3px,#d7849e 505.3px 507.0px,#5a94cc 507.0px 508.8px,#83afd9 508.8px 510.5px,#91b8dd 510.5px 512.3px,#9fc0e1 512.3px 514.0px,#3e82c4 514.0px 515.8px,#f1f6fb 515.8px 517.5px,#d47b97 517.5px 519.3px,#689dd0 519.3px 521.0px,#d17290 521.0px 522.8px,#689dd0 522.8px 524.5px,#bad2ea 524.5px 526.3px,#e4edf6 526.3px 528.1px,#f4dce3 528.1px 529.8px,#9fc0e1 529.8px 531.6px,#d17290 531.6px 535.1px,#d7849e 535.1px 536.8px,#d17290 536.8px 538.6px,#2370bb 538.6px 540.3px,#f6e5ea 540.3px 542.1px,#da8ca5 542.1px 543.8px,#c8dbee 543.8px 545.6px,#f1d3dc 545.6px 547.3px,#83afd9 547.3px 549.1px,#d47b97 549.1px 550.8px,#bad2ea 550.8px 552.6px,#ebc1ce 552.6px 554.4px,#d17290 554.4px 556.1px,#c8dbee 556.1px 557.9px,#d17290 557.9px 559.6px,#e8b8c8 559.6px 561.4px,#da8ca5 561.4px 563.1px,#e8b8c8 563.1px 564.9px,#d17290 564.9px 566.6px,#fcf6f8 566.6px 568.4px,#2370bb 568.4px 570.1px,#f1f6fb 570.1px 571.9px,#5a94cc 571.9px 573.6px,#d17290 573.6px 575.4px,#acc9e6 575.4px 577.1px,#d6e4f2 577.1px 578.9px,#4c8bc8 578.9px 580.6px,#689dd0 580.6px 582.4px,#c8dbee 582.4px 584.2px,#83afd9 584.2px 585.9px,#fcf6f8 585.9px 587.7px,#ebc1ce 587.7px 589.4px,#e4edf6 589.4px 591.2px,#3179bf 591.2px 592.9px,#d17290 592.9px 596.4px,#3e82c4 596.4px 598.2px,#c8dbee 598.2px 599.9px,#f1d3dc 599.9px 601.7px,#d17290 601.7px 605.2px,#da8ca5 605.2px 606.9px,#d6e4f2 606.9px 608.7px,#4c8bc8 608.7px 610.4px,#e8b8c8 610.4px 612.2px,#ebc1ce 612.2px 614.0px,#9fc0e1 614.0px 615.7px,#3179bf 615.7px 617.5px,#2370bb 617.5px 619.2px,#acc9e6 619.2px 621.0px,#dc95ac 621.0px 622.7px,#f6e5ea 622.7px 624.5px,#dc95ac 624.5px 626.2px,#d17290 626.2px 628.0px,#e2a7ba 628.0px 629.7px,#d6e4f2 629.7px 631.5px,#d7849e 631.5px 633.2px,#d17290 633.2px 635.0px,#5a94cc 635.0px 636.7px,#d17290 636.7px 638.5px,#9fc0e1 638.5px 640.2px,#dc95ac 640.2px 642.0px,#e5b0c1 642.0px 643.8px,#acc9e6 643.8px 645.5px,#dc95ac 645.5px 647.3px,#e2a7ba 647.3px 649.0px,#3179bf 649.0px 650.8px,#2370bb 650.8px 652.5px,#ebc1ce 652.5px 654.3px,#d17290 654.3px 656.0px,#dc95ac 656.0px 657.8px,#d6e4f2 657.8px 659.5px,#bad2ea 659.5px 661.3px,#e5b0c1 661.3px 663.0px,#eecad5 663.0px 664.8px,#4c8bc8 664.8px 666.5px,#76a6d4 666.5px 668.3px,#f1d3dc 668.3px 670.1px,#bad2ea 670.1px 671.8px,#83afd9 671.8px 673.6px,#ffffff 673.6px 675.3px,#f9edf1 675.3px 677.1px,#689dd0 677.1px 678.8px,#d17290 678.8px 680.6px,#91b8dd 680.6px 682.3px,#9fc0e1 682.3px 684.1px,#acc9e6 684.1px 685.8px,#d17290 685.8px 687.6px,#da8ca5 687.6px 691.1px,#d47b97 691.1px 692.8px,#ffffff 692.8px 694.6px,#d17290 694.6px 696.3px,#e4edf6 696.3px 698.1px,#f1d3dc 698.1px 699.9px,#9fc0e1 699.9px 703.4px,#f4dce3 703.4px 705.1px,#2370bb 705.1px 708.6px,#91b8dd 708.6px 710.4px,#bad2ea 710.4px 712.1px,#d17290 712.1px 719.1px,#f1d3dc 719.1px 720.9px,#acc9e6 720.9px 722.6px,#d7849e 722.6px 724.4px,#e5b0c1 724.4px 726.1px,#ffffff 726.1px 727.9px,#9fc0e1 727.9px 729.7px,#d17290 729.7px 731.4px,#acc9e6 731.4px 733.2px,#9fc0e1 733.2px 734.9px,#eecad5 734.9px 736.7px,#d17290 736.7px 740.2px,#d7849e 740.2px 741.9px,#d17290 741.9px 743.7px,#3e82c4 743.7px 745.4px,#fcf6f8 745.4px 747.2px,#ffffff 747.2px 748.9px,#2370bb 748.9px 750.7px,#d17290 750.7px 752.4px,#d7849e 752.4px 754.2px,#e5b0c1 754.2px 756.0px,#2370bb 756.0px 757.7px,#d17290 757.7px 759.5px,#5a94cc 759.5px 761.2px,#3e82c4 761.2px 763.0px,#da8ca5 763.0px 764.7px,#df9eb3 764.7px 766.5px,#689dd0 766.5px 768.2px,#f1f6fb 768.2px 771.7px,#d47b97 771.7px 773.5px,#83afd9 773.5px 775.2px,#d17290 775.2px 777.0px,#acc9e6 777.0px 778.7px,#d17290 778.7px 782.2px,#689dd0 782.2px 784.0px,#9fc0e1 784.0px 785.7px,#da8ca5 785.7px 787.5px,#f9edf1 787.5px 789.2px,#d17290 789.2px 792.7px,#df9eb3 792.7px 794.5px,#d17290 794.5px 796.2px,#c8dbee 796.2px 798.0px,#e8b8c8 798.0px 799.7px,#d7849e 799.7px 801.5px,#d17290 801.5px 803.2px,#f1d3dc 803.2px 805.0px,#da8ca5 805.0px 806.7px,#dc95ac 806.7px 808.5px,#e8b8c8 808.5px 810.2px,#f1d3dc 810.2px 813.7px,#d6e4f2 813.7px 815.4px,#83afd9 815.4px 818.9px,#d6e4f2 818.9px 820.7px,#d17290 820.7px 822.4px,#f1d3dc 822.4px 824.2px,#d17290 824.2px 825.9px,#d47b97 825.9px 827.7px,#2370bb 827.7px 829.4px,#d47b97 829.4px 831.2px,#f1d3dc 831.2px 832.9px,#e2a7ba 832.9px 834.7px,#df9eb3 834.7px 836.4px,#d47b97 836.4px 838.1px,#d17290 838.1px 841.6px,#d47b97 841.6px 845.1px,#d7849e 845.1px 846.9px,#2370bb 846.9px 848.6px,#e5b0c1 848.6px 850.4px,#d17290 850.4px 852.1px,#f9edf1 852.1px 853.9px,#d17290 853.9px 855.6px,#bad2ea 855.6px 857.4px,#d17290 857.4px 860.9px,#ebc1ce 860.9px 862.6px,#acc9e6 862.6px 864.4px,#d17290 864.4px 866.1px,#dc95ac 866.1px 867.8px,#ebc1ce 867.8px 869.6px,#d17290 869.6px 871.3px,#d7849e 871.3px 873.1px,#da8ca5 873.1px 876.6px,#bad2ea 876.6px 878.3px,#dc95ac 878.3px 880.1px,#d17290 880.1px 881.8px,#dc95ac 881.8px 883.6px,#ffffff 883.6px 885.3px,#d17290 885.3px 887.1px,#acc9e6 887.1px 888.8px,#d17290 888.8px 890.6px,#acc9e6 890.6px 892.3px,#83afd9 892.3px 894.0px,#bad2ea 894.0px 895.8px,#76a6d4 895.8px 897.5px,#d17290 897.5px 899.3px,#3e82c4 899.3px 901.0px,#2370bb 901.0px 902.8px,#91b8dd 902.8px 904.5px,#fcf6f8 904.5px 906.3px,#dc95ac 906.3px 908.0px,#d17290 908.0px 911.5px,#dc95ac 911.5px 913.3px,#da8ca5 913.3px 915.0px,#ebc1ce 915.0px 916.8px,#e5b0c1 916.8px 918.5px,#ebc1ce 918.5px 920.2px,#d47b97 920.2px 922.0px,#f1d3dc 922.0px 923.7px,#d7849e 923.7px 927.2px,#d47b97 927.2px 929.0px,#d17290 929.0px 930.7px,#e2a7ba 930.7px 932.5px,#d7849e 932.5px 934.2px,#dc95ac 934.2px 936.0px,#91b8dd 936.0px 937.7px,#da8ca5 937.7px 939.5px,#ebc1ce 939.5px 941.2px,#c8dbee 941.2px 943.0px,#2370bb 943.0px 944.7px,#e2a7ba 944.7px 946.4px,#d7849e 946.4px 948.2px,#d17290 948.2px 949.9px,#da8ca5 949.9px 951.7px,#e4edf6 951.7px 953.4px,#f6e5ea 953.4px 955.2px,#91b8dd 955.2px 956.9px,#e4edf6 956.9px 958.7px,#d17290 958.7px 960.4px,#da8ca5 960.4px 962.2px,#f1d3dc 962.2px 963.9px,#f1f6fb 963.9px 965.7px,#d7849e 965.7px 967.4px,#d17290 967.4px 969.2px,#ebc1ce 969.2px 972.6px,#f1d3dc 972.6px 974.4px,#d17290 974.4px 976.1px,#e2a7ba 976.1px 977.9px,#e5b0c1 977.9px 979.6px,#9fc0e1 979.6px 981.4px,#d17290 981.4px 984.9px,#3179bf 984.9px 986.6px,#d17290 986.6px 988.4px,#2370bb 988.4px 990.1px,#f1d3dc 990.1px 991.9px,#91b8dd 991.9px 993.6px,#ebc1ce 993.6px 995.4px,#d17290 995.4px 997.1px,#9fc0e1 997.1px 998.9px,#dc95ac 998.9px 1000.6px,#3179bf 1000.6px 1002.3px,#5a94cc 1002.3px 1004.1px,#f1d3dc 1004.1px 1005.8px,#d17290 1005.8px 1007.6px,#d7849e 1007.6px 1009.3px,#4c8bc8 1009.3px 1011.1px,#d7849e 1011.1px 1012.8px,#76a6d4 1012.8px 1014.6px,#d7849e 1014.6px 1016.3px,#689dd0 1016.3px 1018.1px,#d17290 1018.1px 1019.8px,#76a6d4 1019.8px 1021.6px,#d7849e 1021.6px 1023.3px,#9fc0e1 1023.3px 1025.1px,#d17290 1025.1px 1026.8px,#f1f6fb 1026.8px 1028.5px,#f4dce3 1028.5px 1030.3px,#d17290 1030.3px 1032.0px,#91b8dd 1032.0px 1033.8px,#2370bb 1033.8px 1035.5px,#d47b97 1035.5px 1037.3px,#83afd9 1037.3px 1039.0px,#d17290 1039.0px 1040.8px,#c8dbee 1040.8px 1042.5px,#d47b97 1042.5px 1044.3px,#9fc0e1 1044.3px 1046.0px,#d6e4f2 1046.0px 1047.8px,#d17290 1047.8px 1049.5px,#76a6d4 1049.5px 1051.3px,#d6e4f2 1051.3px 1053.0px)"></div><div class="r" style="top:472.64px;height:31.28px;background:linear-gradient(90deg,#2370bb 0.0px 10.5px,#e8b8c8 10.5px 12.2px,#2370bb 12.2px 26.2px,#e4edf6 26.2px 27.9px,#d17290 27.9px 29.7px,#2370bb 29.7px 33.2px,#f6e5ea 33.2px 34.9px,#2370bb 34.9px 52.4px,#e5b0c1 52.4px 54.1px,#2370bb 54.1px 57.6px,#bad2ea 57.6px 59.4px,#acc9e6 59.4px 61.1px,#2370bb 61.1px 64.6px,#e2a7ba 64.6px 66.4px,#2370bb 66.4px 69.9px,#f1d3dc 69.9px 71.6px,#2370bb 71.6px 83.8px,#c8dbee 83.8px 85.6px,#2370bb 85.6px 87.3px,#d17290 87.3px 89.1px,#f6e5ea 89.1px 90.8px,#2370bb 90.8px 92.6px,#bad2ea 92.6px 94.3px,#ffffff 94.3px 96.1px,#2370bb 96.1px 97.8px,#ebc1ce 97.8px 99.5px,#d17290 99.5px 101.3px,#2370bb 101.3px 113.5px,#689dd0 113.5px 115.3px,#2370bb 115.3px 118.8px,#bad2ea 118.8px 120.5px,#2370bb 120.5px 122.3px,#d17290 122.3px 124.0px,#9fc0e1 124.0px 125.7px,#2370bb 125.7px 136.2px,#d17290 136.2px 138.0px,#df9eb3 138.0px 139.7px,#2370bb 139.7px 141.5px,#e4edf6 141.5px 143.2px,#d17290 143.2px 145.0px,#2370bb 145.0px 146.7px,#fcf6f8 146.7px 148.4px,#2370bb 148.4px 155.4px,#d17290 155.4px 157.2px,#2370bb 157.2px 162.4px,#91b8dd 162.4px 164.2px,#f1d3dc 164.2px 165.9px,#2370bb 165.9px 172.9px,#76a6d4 172.9px 174.6px,#2370bb 174.6px 176.4px,#3e82c4 176.4px 178.1px,#689dd0 178.1px 179.9px,#2370bb 179.9px 181.6px,#5a94cc 181.6px 183.4px,#2370bb 183.4px 186.9px,#f6e5ea 186.9px 188.6px,#2370bb 188.6px 192.1px,#ebc1ce 192.1px 193.9px,#bad2ea 193.9px 195.6px,#5a94cc 195.6px 197.3px,#2370bb 197.3px 204.3px,#ebc1ce 204.3px 206.1px,#2370bb 206.1px 209.6px,#d17290 209.6px 211.3px,#2370bb 211.3px 237.5px,#d17290 237.5px 239.3px,#2370bb 239.3px 241.0px,#d17290 241.0px 242.8px,#e5b0c1 242.8px 244.5px,#2370bb 244.5px 260.2px,#4c8bc8 260.2px 262.0px,#2370bb 262.0px 267.2px,#ebc1ce 267.2px 269.0px,#2370bb 269.0px 270.7px,#c8dbee 270.7px 272.5px,#d17290 272.5px 277.7px,#e5b0c1 277.7px 279.5px,#d17290 279.5px 281.2px,#2370bb 281.2px 283.0px,#d17290 283.0px 284.7px,#3e82c4 284.7px 286.5px,#d17290 286.5px 288.2px,#9fc0e1 288.2px 290.0px,#2370bb 290.0px 302.2px,#d17290 302.2px 304.0px,#f6e5ea 304.0px 305.7px,#d17290 305.7px 307.5px,#2370bb 307.5px 312.7px,#3179bf 312.7px 314.5px,#d47b97 314.5px 316.2px,#d17290 316.2px 318.0px,#5a94cc 318.0px 319.7px,#d17290 319.7px 321.5px,#3179bf 321.5px 323.2px,#2370bb 323.2px 326.7px,#76a6d4 326.7px 328.5px,#2370bb 328.5px 335.5px,#d17290 335.5px 337.2px,#2370bb 337.2px 339.0px,#83afd9 339.0px 340.7px,#bad2ea 340.7px 342.5px,#2370bb 342.5px 344.2px,#ebc1ce 344.2px 346.0px,#2370bb 346.0px 349.5px,#d17290 349.5px 351.2px,#2370bb 351.2px 353.0px,#d17290 353.0px 354.7px,#f9edf1 354.7px 356.5px,#2370bb 356.5px 360.0px,#ebc1ce 360.0px 361.7px,#d17290 361.7px 365.2px,#2370bb 365.2px 370.5px,#d17290 370.5px 372.2px,#2370bb 372.2px 375.7px,#d17290 375.7px 377.5px,#2370bb 377.5px 379.2px,#d17290 379.2px 381.0px,#f6e5ea 381.0px 382.7px,#d7849e 382.7px 384.5px,#ebc1ce 384.5px 386.2px,#2370bb 386.2px 391.5px,#3179bf 391.5px 393.2px,#2370bb 393.2px 402.0px,#d6e4f2 402.0px 403.7px,#d17290 403.7px 409.0px,#c8dbee 409.0px 410.7px,#2370bb 410.7px 412.5px,#d17290 412.5px 414.2px,#e2a7ba 414.2px 416.0px,#2370bb 416.0px 417.7px,#d17290 417.7px 419.5px,#2370bb 419.5px 424.7px,#d17290 424.7px 426.5px,#2370bb 426.5px 430.0px,#d17290 430.0px 433.5px,#2370bb 433.5px 435.2px,#d17290 435.2px 438.7px,#e5b0c1 438.7px 440.5px,#2370bb 440.5px 444.0px,#3e82c4 444.0px 445.7px,#df9eb3 445.7px 447.5px,#2370bb 447.5px 451.0px,#fcf6f8 451.0px 452.7px,#d17290 452.7px 454.5px,#91b8dd 454.5px 456.2px,#2370bb 456.2px 458.0px,#d17290 458.0px 459.7px,#2370bb 459.7px 466.7px,#d17290 466.7px 468.5px,#2370bb 468.5px 472.0px,#d17290 472.0px 473.7px,#2370bb 473.7px 480.7px,#d17290 480.7px 484.2px,#4c8bc8 484.2px 486.0px,#83afd9 486.0px 487.7px,#2370bb 487.7px 489.5px,#d17290 489.5px 491.2px,#2370bb 491.2px 493.0px,#acc9e6 493.0px 494.7px,#e4edf6 494.7px 496.5px,#2370bb 496.5px 498.3px,#e4edf6 498.3px 500.0px,#d17290 500.0px 503.5px,#2370bb 503.5px 505.3px,#d17290 505.3px 512.3px,#5a94cc 512.3px 514.0px,#2370bb 514.0px 521.0px,#eecad5 521.0px 522.8px,#2370bb 522.8px 528.1px,#d17290 528.1px 531.6px,#2370bb 531.6px 533.3px,#d17290 533.3px 538.6px,#2370bb 538.6px 542.1px,#d17290 542.1px 552.6px,#2370bb 552.6px 554.4px,#d17290 554.4px 556.1px,#9fc0e1 556.1px 557.9px,#2370bb 557.9px 559.6px,#d17290 559.6px 564.9px,#3e82c4 564.9px 566.6px,#d17290 566.6px 570.1px,#2370bb 570.1px 571.9px,#9fc0e1 571.9px 573.6px,#2370bb 573.6px 575.4px,#d17290 575.4px 577.1px,#2370bb 577.1px 578.9px,#d17290 578.9px 585.9px,#f4dce3 585.9px 587.7px,#5a94cc 587.7px 589.4px,#3e82c4 589.4px 591.2px,#d17290 591.2px 592.9px,#2370bb 592.9px 594.7px,#d17290 594.7px 599.9px,#2370bb 599.9px 606.9px,#d17290 606.9px 610.4px,#2370bb 610.4px 612.2px,#d17290 612.2px 615.7px,#2370bb 615.7px 621.0px,#d17290 621.0px 629.7px,#2370bb 629.7px 631.5px,#ffffff 631.5px 633.2px,#2370bb 633.2px 635.0px,#f1d3dc 635.0px 636.7px,#2370bb 636.7px 638.5px,#f1d3dc 638.5px 640.2px,#2370bb 640.2px 642.0px,#d17290 642.0px 645.5px,#e8b8c8 645.5px 647.3px,#fcf6f8 647.3px 649.0px,#91b8dd 649.0px 650.8px,#d17290 650.8px 652.5px,#ebc1ce 652.5px 654.3px,#2370bb 654.3px 656.0px,#eecad5 656.0px 657.8px,#2370bb 657.8px 659.5px,#5a94cc 659.5px 661.3px,#d17290 661.3px 663.0px,#2370bb 663.0px 664.8px,#d17290 664.8px 666.5px,#9fc0e1 666.5px 668.3px,#2370bb 668.3px 670.1px,#d17290 670.1px 675.3px,#e2a7ba 675.3px 677.1px,#2370bb 677.1px 680.6px,#d17290 680.6px 684.1px,#2370bb 684.1px 685.8px,#f1d3dc 685.8px 687.6px,#2370bb 687.6px 689.3px,#d17290 689.3px 692.8px,#2370bb 692.8px 694.6px,#bad2ea 694.6px 696.3px,#3e82c4 696.3px 698.1px,#2370bb 698.1px 699.9px,#91b8dd 699.9px 701.6px,#2370bb 701.6px 703.4px,#5a94cc 703.4px 705.1px,#f6e5ea 705.1px 706.9px,#e4edf6 706.9px 708.6px,#2370bb 708.6px 710.4px,#f1f6fb 710.4px 712.1px,#5a94cc 712.1px 713.9px,#2370bb 713.9px 717.4px,#d17290 717.4px 724.4px,#2370bb 724.4px 726.1px,#d17290 726.1px 731.4px,#f1d3dc 731.4px 733.2px,#f9edf1 733.2px 734.9px,#d17290 734.9px 736.7px,#2370bb 736.7px 738.4px,#d17290 738.4px 740.2px,#2370bb 740.2px 741.9px,#d7849e 741.9px 743.7px,#4c8bc8 743.7px 745.4px,#e5b0c1 745.4px 747.2px,#2370bb 747.2px 748.9px,#d17290 748.9px 752.4px,#2370bb 752.4px 754.2px,#d17290 754.2px 756.0px,#e5b0c1 756.0px 757.7px,#2370bb 757.7px 759.5px,#d17290 759.5px 761.2px,#2370bb 761.2px 763.0px,#d17290 763.0px 764.7px,#acc9e6 764.7px 766.5px,#d17290 766.5px 770.0px,#2370bb 770.0px 773.5px,#d17290 773.5px 775.2px,#2370bb 775.2px 777.0px,#d17290 777.0px 784.0px,#2370bb 784.0px 785.7px,#d17290 785.7px 787.5px,#2370bb 787.5px 789.2px,#acc9e6 789.2px 791.0px,#2370bb 791.0px 794.5px,#d17290 794.5px 796.2px,#e5b0c1 796.2px 798.0px,#d17290 798.0px 799.7px,#2370bb 799.7px 803.2px,#acc9e6 803.2px 805.0px,#2370bb 805.0px 806.7px,#d17290 806.7px 808.5px,#c8dbee 808.5px 810.2px,#5a94cc 810.2px 811.9px,#2370bb 811.9px 815.4px,#df9eb3 815.4px 817.2px,#f6e5ea 817.2px 818.9px,#ebc1ce 818.9px 820.7px,#d17290 820.7px 824.2px,#2370bb 824.2px 825.9px,#d17290 825.9px 829.4px,#2370bb 829.4px 836.4px,#d17290 836.4px 839.9px,#2370bb 839.9px 841.6px,#d17290 841.6px 843.4px,#2370bb 843.4px 846.9px,#d17290 846.9px 848.6px,#2370bb 848.6px 850.4px,#d17290 850.4px 852.1px,#2370bb 852.1px 859.1px,#d17290 859.1px 866.1px,#2370bb 866.1px 867.8px,#d17290 867.8px 873.1px,#2370bb 873.1px 874.8px,#d17290 874.8px 876.6px,#2370bb 876.6px 878.3px,#d17290 878.3px 880.1px,#2370bb 880.1px 881.8px,#d7849e 881.8px 883.6px,#2370bb 883.6px 885.3px,#c8dbee 885.3px 887.1px,#d17290 887.1px 894.0px,#4c8bc8 894.0px 895.8px,#2370bb 895.8px 897.5px,#d17290 897.5px 902.8px,#2370bb 902.8px 904.5px,#d17290 904.5px 906.3px,#2370bb 906.3px 911.5px,#d17290 911.5px 915.0px,#91b8dd 915.0px 916.8px,#d17290 916.8px 918.5px,#2370bb 918.5px 920.2px,#d17290 920.2px 922.0px,#bad2ea 922.0px 923.7px,#2370bb 923.7px 925.5px,#d17290 925.5px 929.0px,#ffffff 929.0px 930.7px,#2370bb 930.7px 936.0px,#d17290 936.0px 939.5px,#dc95ac 939.5px 941.2px,#d17290 941.2px 946.4px,#2370bb 946.4px 948.2px,#d17290 948.2px 949.9px,#2370bb 949.9px 953.4px,#4c8bc8 953.4px 955.2px,#d17290 955.2px 958.7px,#83afd9 958.7px 960.4px,#d6e4f2 960.4px 962.2px,#d17290 962.2px 963.9px,#83afd9 963.9px 965.7px,#d17290 965.7px 969.2px,#2370bb 969.2px 974.4px,#f1d3dc 974.4px 976.1px,#d17290 976.1px 981.4px,#2370bb 981.4px 993.6px,#d17290 993.6px 995.4px,#dc95ac 995.4px 998.9px,#d17290 998.9px 1005.8px,#2370bb 1005.8px 1014.6px,#d17290 1014.6px 1016.3px,#2370bb 1016.3px 1019.8px,#d17290 1019.8px 1023.3px,#2370bb 1023.3px 1025.1px,#d17290 1025.1px 1026.8px,#f9edf1 1026.8px 1028.5px,#2370bb 1028.5px 1030.3px,#d17290 1030.3px 1033.8px,#2370bb 1033.8px 1039.0px,#d17290 1039.0px 1040.8px,#2370bb 1040.8px 1042.5px,#d17290 1042.5px 1046.0px,#2370bb 1046.0px 1047.8px,#d17290 1047.8px 1049.5px,#2370bb 1049.5px 1053.0px)"></div><div class="r" style="top:503.92px;height:31.28px;background:linear-gradient(90deg,#d6e4f2 0.0px 1.7px,#d7849e 1.7px 3.5px,#2370bb 3.5px 10.5px,#d17290 10.5px 15.7px,#2370bb 15.7px 17.5px,#bad2ea 17.5px 19.2px,#2370bb 19.2px 21.0px,#e2a7ba 21.0px 22.7px,#2370bb 22.7px 26.2px,#d17290 26.2px 27.9px,#2370bb 27.9px 33.2px,#df9eb3 33.2px 34.9px,#2370bb 34.9px 40.2px,#3e82c4 40.2px 41.9px,#2370bb 41.9px 59.4px,#d17290 59.4px 61.1px,#2370bb 61.1px 62.9px,#d17290 62.9px 64.6px,#2370bb 64.6px 68.1px,#f1d3dc 68.1px 69.9px,#d17290 69.9px 71.6px,#2370bb 71.6px 82.1px,#5a94cc 82.1px 83.8px,#acc9e6 83.8px 85.6px,#da8ca5 85.6px 87.3px,#d17290 87.3px 89.1px,#2370bb 89.1px 90.8px,#acc9e6 90.8px 92.6px,#2370bb 92.6px 94.3px,#f4dce3 94.3px 96.1px,#2370bb 96.1px 97.8px,#e8b8c8 97.8px 99.5px,#d17290 99.5px 101.3px,#2370bb 101.3px 103.0px,#ffffff 103.0px 104.8px,#f1f6fb 104.8px 106.5px,#2370bb 106.5px 108.3px,#d17290 108.3px 110.0px,#2370bb 110.0px 111.8px,#d17290 111.8px 113.5px,#4c8bc8 113.5px 115.3px,#d17290 115.3px 117.0px,#5a94cc 117.0px 118.8px,#d17290 118.8px 120.5px,#2370bb 120.5px 125.7px,#bad2ea 125.7px 127.5px,#2370bb 127.5px 129.2px,#d17290 129.2px 132.7px,#2370bb 132.7px 134.5px,#d17290 134.5px 136.2px,#ffffff 136.2px 138.0px,#4c8bc8 138.0px 139.7px,#2370bb 139.7px 141.5px,#e5b0c1 141.5px 143.2px,#2370bb 143.2px 145.0px,#d17290 145.0px 146.7px,#2370bb 146.7px 151.9px,#3179bf 151.9px 153.7px,#2370bb 153.7px 155.4px,#d17290 155.4px 157.2px,#2370bb 157.2px 162.4px,#eecad5 162.4px 164.2px,#d17290 164.2px 165.9px,#4c8bc8 165.9px 167.7px,#2370bb 167.7px 169.4px,#da8ca5 169.4px 171.2px,#d17290 171.2px 172.9px,#2370bb 172.9px 176.4px,#ffffff 176.4px 178.1px,#2370bb 178.1px 181.6px,#4c8bc8 181.6px 183.4px,#2370bb 183.4px 188.6px,#4c8bc8 188.6px 190.4px,#2370bb 190.4px 192.1px,#d7849e 192.1px 193.9px,#2370bb 193.9px 195.6px,#d17290 195.6px 197.3px,#eecad5 197.3px 199.1px,#2370bb 199.1px 204.3px,#d17290 204.3px 206.1px,#2370bb 206.1px 209.6px,#83afd9 209.6px 211.3px,#2370bb 211.3px 218.3px,#d17290 218.3px 220.1px,#2370bb 220.1px 221.8px,#e2a7ba 221.8px 223.5px,#2370bb 223.5px 225.3px,#f4dce3 225.3px 227.0px,#2370bb 227.0px 230.5px,#d7849e 230.5px 232.3px,#acc9e6 232.3px 234.0px,#2370bb 234.0px 235.8px,#bad2ea 235.8px 237.5px,#acc9e6 237.5px 239.3px,#2370bb 239.3px 241.0px,#d17290 241.0px 242.8px,#e8b8c8 242.8px 244.5px,#2370bb 244.5px 248.0px,#c8dbee 248.0px 249.7px,#2370bb 249.7px 256.7px,#e8b8c8 256.7px 258.5px,#2370bb 258.5px 262.0px,#d17290 262.0px 267.2px,#4c8bc8 267.2px 269.0px,#fcf6f8 269.0px 270.7px,#2370bb 270.7px 276.0px,#d17290 276.0px 277.7px,#2370bb 277.7px 279.5px,#91b8dd 279.5px 281.2px,#2370bb 281.2px 286.5px,#d17290 286.5px 288.2px,#5a94cc 288.2px 290.0px,#2370bb 290.0px 295.2px,#f9edf1 295.2px 297.0px,#2370bb 297.0px 298.7px,#d17290 298.7px 300.5px,#2370bb 300.5px 302.2px,#f1d3dc 302.2px 304.0px,#d17290 304.0px 305.7px,#ebc1ce 305.7px 307.5px,#5a94cc 307.5px 309.2px,#2370bb 309.2px 312.7px,#d7849e 312.7px 314.5px,#2370bb 314.5px 323.2px,#acc9e6 323.2px 325.0px,#dc95ac 325.0px 326.7px,#2370bb 326.7px 328.5px,#c8dbee 328.5px 330.2px,#76a6d4 330.2px 332.0px,#2370bb 332.0px 335.5px,#d17290 335.5px 337.2px,#9fc0e1 337.2px 339.0px,#2370bb 339.0px 340.7px,#d17290 340.7px 342.5px,#2370bb 342.5px 344.2px,#d47b97 344.2px 346.0px,#2370bb 346.0px 347.7px,#d17290 347.7px 349.5px,#2370bb 349.5px 354.7px,#d17290 354.7px 356.5px,#2370bb 356.5px 358.2px,#ebc1ce 358.2px 360.0px,#d17290 360.0px 361.7px,#2370bb 361.7px 367.0px,#f6e5ea 367.0px 368.7px,#2370bb 368.7px 370.5px,#3e82c4 370.5px 372.2px,#2370bb 372.2px 375.7px,#d17290 375.7px 379.2px,#2370bb 379.2px 382.7px,#dc95ac 382.7px 384.5px,#2370bb 384.5px 388.0px,#c8dbee 388.0px 389.7px,#2370bb 389.7px 391.5px,#d17290 391.5px 393.2px,#2370bb 393.2px 403.7px,#d47b97 403.7px 405.5px,#d17290 405.5px 409.0px,#2370bb 409.0px 414.2px,#ebc1ce 414.2px 416.0px,#2370bb 416.0px 417.7px,#d17290 417.7px 419.5px,#acc9e6 419.5px 421.2px,#2370bb 421.2px 428.2px,#d17290 428.2px 430.0px,#df9eb3 430.0px 431.7px,#d17290 431.7px 433.5px,#76a6d4 433.5px 435.2px,#5a94cc 435.2px 437.0px,#d17290 437.0px 444.0px,#2370bb 444.0px 445.7px,#d17290 445.7px 447.5px,#2370bb 447.5px 451.0px,#bad2ea 451.0px 452.7px,#d17290 452.7px 454.5px,#eecad5 454.5px 456.2px,#da8ca5 456.2px 458.0px,#f4dce3 458.0px 459.7px,#2370bb 459.7px 461.5px,#df9eb3 461.5px 463.2px,#4c8bc8 463.2px 465.0px,#2370bb 465.0px 466.7px,#d17290 466.7px 468.5px,#f1d3dc 468.5px 470.2px,#2370bb 470.2px 472.0px,#ffffff 472.0px 473.7px,#2370bb 473.7px 477.2px,#3179bf 477.2px 479.0px,#d47b97 479.0px 480.7px,#d17290 480.7px 482.5px,#2370bb 482.5px 484.2px,#d17290 484.2px 486.0px,#2370bb 486.0px 487.7px,#da8ca5 487.7px 489.5px,#689dd0 489.5px 491.2px,#d17290 491.2px 493.0px,#2370bb 493.0px 494.7px,#d17290 494.7px 496.5px,#2370bb 496.5px 500.0px,#d17290 500.0px 503.5px,#2370bb 503.5px 505.3px,#d17290 505.3px 507.0px,#2370bb 507.0px 508.8px,#d17290 508.8px 510.5px,#2370bb 510.5px 515.8px,#ebc1ce 515.8px 517.5px,#df9eb3 517.5px 519.3px,#2370bb 519.3px 521.0px,#e8b8c8 521.0px 522.8px,#2370bb 522.8px 528.1px,#dc95ac 528.1px 529.8px,#d17290 529.8px 531.6px,#ffffff 531.6px 533.3px,#d17290 533.3px 535.1px,#d47b97 535.1px 536.8px,#d17290 536.8px 538.6px,#2370bb 538.6px 540.3px,#eecad5 540.3px 542.1px,#f4dce3 542.1px 543.8px,#d17290 543.8px 547.3px,#2370bb 547.3px 550.8px,#d17290 550.8px 552.6px,#2370bb 552.6px 554.4px,#f9edf1 554.4px 556.1px,#ffffff 556.1px 557.9px,#83afd9 557.9px 559.6px,#d17290 559.6px 564.9px,#3e82c4 564.9px 566.6px,#d17290 566.6px 570.1px,#2370bb 570.1px 571.9px,#e5b0c1 571.9px 573.6px,#2370bb 573.6px 575.4px,#d17290 575.4px 578.9px,#c8dbee 578.9px 580.6px,#f1f6fb 580.6px 582.4px,#fcf6f8 582.4px 584.2px,#d17290 584.2px 585.9px,#2370bb 585.9px 587.7px,#d17290 587.7px 589.4px,#d7849e 589.4px 591.2px,#f9edf1 591.2px 592.9px,#d17290 592.9px 598.2px,#f6e5ea 598.2px 599.9px,#d17290 599.9px 603.4px,#2370bb 603.4px 606.9px,#acc9e6 606.9px 608.7px,#d17290 608.7px 610.4px,#2370bb 610.4px 614.0px,#d17290 614.0px 617.5px,#2370bb 617.5px 619.2px,#9fc0e1 619.2px 621.0px,#2370bb 621.0px 622.7px,#d17290 622.7px 628.0px,#2370bb 628.0px 631.5px,#d17290 631.5px 633.2px,#f4dce3 633.2px 635.0px,#3179bf 635.0px 636.7px,#2370bb 636.7px 638.5px,#d17290 638.5px 640.2px,#2370bb 640.2px 642.0px,#d17290 642.0px 643.8px,#2370bb 643.8px 645.5px,#d17290 645.5px 649.0px,#9fc0e1 649.0px 650.8px,#d17290 650.8px 652.5px,#2370bb 652.5px 654.3px,#d17290 654.3px 656.0px,#2370bb 656.0px 661.3px,#d17290 661.3px 663.0px,#5a94cc 663.0px 664.8px,#d17290 664.8px 666.5px,#2370bb 666.5px 671.8px,#689dd0 671.8px 673.6px,#d17290 673.6px 677.1px,#2370bb 677.1px 678.8px,#c8dbee 678.8px 680.6px,#d17290 680.6px 682.3px,#dc95ac 682.3px 684.1px,#2370bb 684.1px 685.8px,#d17290 685.8px 687.6px,#e4edf6 687.6px 689.3px,#dc95ac 689.3px 691.1px,#2370bb 691.1px 694.6px,#d17290 694.6px 696.3px,#3e82c4 696.3px 698.1px,#ffffff 698.1px 699.9px,#2370bb 699.9px 701.6px,#d17290 701.6px 706.9px,#2370bb 706.9px 708.6px,#e5b0c1 708.6px 710.4px,#4c8bc8 710.4px 712.1px,#d17290 712.1px 713.9px,#9fc0e1 713.9px 715.6px,#2370bb 715.6px 719.1px,#d17290 719.1px 722.6px,#2370bb 722.6px 724.4px,#3e82c4 724.4px 726.1px,#d17290 726.1px 736.7px,#2370bb 736.7px 740.2px,#da8ca5 740.2px 741.9px,#2370bb 741.9px 743.7px,#3179bf 743.7px 745.4px,#9fc0e1 745.4px 747.2px,#2370bb 747.2px 748.9px,#d17290 748.9px 752.4px,#2370bb 752.4px 754.2px,#f9edf1 754.2px 756.0px,#d17290 756.0px 761.2px,#2370bb 761.2px 763.0px,#d17290 763.0px 768.2px,#2370bb 768.2px 773.5px,#d17290 773.5px 775.2px,#2370bb 775.2px 777.0px,#d17290 777.0px 784.0px,#2370bb 784.0px 792.7px,#d17290 792.7px 794.5px,#f4dce3 794.5px 796.2px,#2370bb 796.2px 798.0px,#d6e4f2 798.0px 799.7px,#9fc0e1 799.7px 801.5px,#2370bb 801.5px 806.7px,#9fc0e1 806.7px 808.5px,#2370bb 808.5px 810.2px,#eecad5 810.2px 811.9px,#2370bb 811.9px 817.2px,#d47b97 817.2px 818.9px,#2370bb 818.9px 820.7px,#c8dbee 820.7px 822.4px,#2370bb 822.4px 825.9px,#d17290 825.9px 827.7px,#2370bb 827.7px 831.2px,#e8b8c8 831.2px 832.9px,#2370bb 832.9px 838.1px,#91b8dd 838.1px 839.9px,#2370bb 839.9px 850.4px,#e5b0c1 850.4px 852.1px,#2370bb 852.1px 853.9px,#ebc1ce 853.9px 855.6px,#2370bb 855.6px 857.4px,#d17290 857.4px 859.1px,#2370bb 859.1px 860.9px,#fcf6f8 860.9px 862.6px,#83afd9 862.6px 864.4px,#bad2ea 864.4px 866.1px,#c8dbee 866.1px 867.8px,#2370bb 867.8px 869.6px,#d17290 869.6px 878.3px,#4c8bc8 878.3px 880.1px,#acc9e6 880.1px 881.8px,#d17290 881.8px 883.6px,#fcf6f8 883.6px 885.3px,#2370bb 885.3px 887.1px,#d17290 887.1px 890.6px,#2370bb 890.6px 892.3px,#d17290 892.3px 894.0px,#5a94cc 894.0px 895.8px,#2370bb 895.8px 899.3px,#d6e4f2 899.3px 901.0px,#d17290 901.0px 902.8px,#f6e5ea 902.8px 904.5px,#d17290 904.5px 906.3px,#2370bb 906.3px 908.0px,#d17290 908.0px 909.8px,#2370bb 909.8px 911.5px,#f1d3dc 911.5px 913.3px,#d17290 913.3px 915.0px,#2370bb 915.0px 916.8px,#d17290 916.8px 918.5px,#2370bb 918.5px 920.2px,#d17290 920.2px 922.0px,#2370bb 922.0px 923.7px,#9fc0e1 923.7px 925.5px,#d7849e 925.5px 927.2px,#689dd0 927.2px 929.0px,#2370bb 929.0px 932.5px,#d17290 932.5px 934.2px,#e4edf6 934.2px 936.0px,#2370bb 936.0px 937.7px,#d17290 937.7px 941.2px,#2370bb 941.2px 943.0px,#d17290 943.0px 944.7px,#2370bb 944.7px 946.4px,#d17290 946.4px 948.2px,#2370bb 948.2px 951.7px,#d17290 951.7px 953.4px,#f4dce3 953.4px 955.2px,#d17290 955.2px 956.9px,#2370bb 956.9px 958.7px,#df9eb3 958.7px 960.4px,#2370bb 960.4px 962.2px,#d17290 962.2px 969.2px,#ffffff 969.2px 970.9px,#d17290 970.9px 976.1px,#f6e5ea 976.1px 977.9px,#91b8dd 977.9px 979.6px,#2370bb 979.6px 984.9px,#d17290 984.9px 986.6px,#f6e5ea 986.6px 988.4px,#2370bb 988.4px 995.4px,#3e82c4 995.4px 997.1px,#d17290 997.1px 998.9px,#2370bb 998.9px 1002.3px,#d17290 1002.3px 1004.1px,#2370bb 1004.1px 1009.3px,#f1f6fb 1009.3px 1011.1px,#2370bb 1011.1px 1014.6px,#d17290 1014.6px 1018.1px,#2370bb 1018.1px 1019.8px,#d17290 1019.8px 1023.3px,#2370bb 1023.3px 1025.1px,#d17290 1025.1px 1026.8px,#2370bb 1026.8px 1028.5px,#e8b8c8 1028.5px 1030.3px,#91b8dd 1030.3px 1032.0px,#2370bb 1032.0px 1039.0px,#d17290 1039.0px 1042.5px,#e5b0c1 1042.5px 1044.3px,#bad2ea 1044.3px 1046.0px,#2370bb 1046.0px 1047.8px,#91b8dd 1047.8px 1049.5px,#d17290 1049.5px 1053.0px)"></div><div class="r" style="top:535.20px;height:31.28px;background:linear-gradient(90deg,#dc95ac 0.0px 1.7px,#d17290 1.7px 5.2px,#2370bb 5.2px 10.5px,#d17290 10.5px 12.2px,#2370bb 12.2px 17.5px,#da8ca5 17.5px 19.2px,#2370bb 19.2px 24.5px,#83afd9 24.5px 26.2px,#2370bb 26.2px 33.2px,#d17290 33.2px 34.9px,#2370bb 34.9px 64.6px,#d17290 64.6px 66.4px,#2370bb 66.4px 73.4px,#d17290 73.4px 75.1px,#2370bb 75.1px 83.8px,#c8dbee 83.8px 85.6px,#2370bb 85.6px 87.3px,#d17290 87.3px 90.8px,#d47b97 90.8px 92.6px,#2370bb 92.6px 97.8px,#ebc1ce 97.8px 99.5px,#df9eb3 99.5px 101.3px,#2370bb 101.3px 120.5px,#dc95ac 120.5px 122.3px,#2370bb 122.3px 124.0px,#d7849e 124.0px 125.7px,#2370bb 125.7px 141.5px,#c8dbee 141.5px 143.2px,#2370bb 143.2px 145.0px,#d17290 145.0px 146.7px,#2370bb 146.7px 155.4px,#ebc1ce 155.4px 157.2px,#d17290 157.2px 158.9px,#2370bb 158.9px 164.2px,#d17290 164.2px 165.9px,#2370bb 165.9px 176.4px,#d17290 176.4px 178.1px,#2370bb 178.1px 186.9px,#d17290 186.9px 188.6px,#d6e4f2 188.6px 190.4px,#2370bb 190.4px 192.1px,#d17290 192.1px 193.9px,#2370bb 193.9px 195.6px,#d17290 195.6px 197.3px,#2370bb 197.3px 202.6px,#d17290 202.6px 204.3px,#f6e5ea 204.3px 206.1px,#2370bb 206.1px 207.8px,#d17290 207.8px 209.6px,#2370bb 209.6px 216.6px,#d17290 216.6px 220.1px,#2370bb 220.1px 230.5px,#d17290 230.5px 232.3px,#2370bb 232.3px 234.0px,#c8dbee 234.0px 235.8px,#2370bb 235.8px 248.0px,#d17290 248.0px 249.7px,#2370bb 249.7px 255.0px,#d17290 255.0px 256.7px,#2370bb 256.7px 265.5px,#d17290 265.5px 267.2px,#c8dbee 267.2px 269.0px,#2370bb 269.0px 270.7px,#d17290 270.7px 272.5px,#2370bb 272.5px 274.2px,#d17290 274.2px 277.7px,#2370bb 277.7px 284.7px,#d17290 284.7px 288.2px,#2370bb 288.2px 293.5px,#d17290 293.5px 295.2px,#2370bb 295.2px 307.5px,#d7849e 307.5px 309.2px,#d17290 309.2px 311.0px,#2370bb 311.0px 312.7px,#d17290 312.7px 318.0px,#76a6d4 318.0px 319.7px,#2370bb 319.7px 325.0px,#d17290 325.0px 326.7px,#2370bb 326.7px 330.2px,#bad2ea 330.2px 332.0px,#2370bb 332.0px 335.5px,#d17290 335.5px 337.2px,#83afd9 337.2px 339.0px,#e8b8c8 339.0px 340.7px,#2370bb 340.7px 344.2px,#f9edf1 344.2px 346.0px,#2370bb 346.0px 360.0px,#d17290 360.0px 367.0px,#2370bb 367.0px 368.7px,#c8dbee 368.7px 370.5px,#2370bb 370.5px 377.5px,#9fc0e1 377.5px 379.2px,#2370bb 379.2px 402.0px,#d17290 402.0px 403.7px,#e8b8c8 403.7px 405.5px,#2370bb 405.5px 409.0px,#c8dbee 409.0px 410.7px,#2370bb 410.7px 412.5px,#ebc1ce 412.5px 414.2px,#2370bb 414.2px 421.2px,#d17290 421.2px 423.0px,#2370bb 423.0px 430.0px,#d17290 430.0px 431.7px,#2370bb 431.7px 435.2px,#d17290 435.2px 437.0px,#ebc1ce 437.0px 438.7px,#d17290 438.7px 440.5px,#2370bb 440.5px 445.7px,#d17290 445.7px 449.2px,#2370bb 449.2px 451.0px,#d17290 451.0px 454.5px,#2370bb 454.5px 465.0px,#d17290 465.0px 466.7px,#2370bb 466.7px 472.0px,#3e82c4 472.0px 473.7px,#2370bb 473.7px 477.2px,#d17290 477.2px 479.0px,#2370bb 479.0px 482.5px,#d17290 482.5px 484.2px,#3e82c4 484.2px 486.0px,#2370bb 486.0px 489.5px,#76a6d4 489.5px 491.2px,#d17290 491.2px 493.0px,#d6e4f2 493.0px 494.7px,#2370bb 494.7px 500.0px,#d17290 500.0px 510.5px,#3e82c4 510.5px 512.3px,#2370bb 512.3px 515.8px,#d17290 515.8px 517.5px,#2370bb 517.5px 519.3px,#d17290 519.3px 521.0px,#76a6d4 521.0px 522.8px,#2370bb 522.8px 524.5px,#d17290 524.5px 526.3px,#2370bb 526.3px 528.1px,#d17290 528.1px 531.6px,#2370bb 531.6px 533.3px,#d17290 533.3px 535.1px,#acc9e6 535.1px 536.8px,#d17290 536.8px 538.6px,#2370bb 538.6px 545.6px,#d17290 545.6px 547.3px,#2370bb 547.3px 549.1px,#d17290 549.1px 552.6px,#2370bb 552.6px 557.9px,#d17290 557.9px 561.4px,#2370bb 561.4px 563.1px,#d17290 563.1px 570.1px,#2370bb 570.1px 575.4px,#d17290 575.4px 577.1px,#2370bb 577.1px 578.9px,#d17290 578.9px 587.7px,#2370bb 587.7px 589.4px,#d17290 589.4px 591.2px,#2370bb 591.2px 594.7px,#d17290 594.7px 598.2px,#2370bb 598.2px 606.9px,#da8ca5 606.9px 608.7px,#d17290 608.7px 615.7px,#2370bb 615.7px 619.2px,#d17290 619.2px 628.0px,#2370bb 628.0px 631.5px,#d17290 631.5px 635.0px,#2370bb 635.0px 636.7px,#d17290 636.7px 640.2px,#2370bb 640.2px 642.0px,#f1f6fb 642.0px 643.8px,#2370bb 643.8px 647.3px,#3179bf 647.3px 649.0px,#d17290 649.0px 650.8px,#2370bb 650.8px 656.0px,#5a94cc 656.0px 657.8px,#eecad5 657.8px 659.5px,#2370bb 659.5px 661.3px,#d17290 661.3px 663.0px,#2370bb 663.0px 664.8px,#d17290 664.8px 666.5px,#2370bb 666.5px 668.3px,#d17290 668.3px 670.1px,#2370bb 670.1px 673.6px,#d17290 673.6px 675.3px,#d47b97 675.3px 677.1px,#d17290 677.1px 678.8px,#2370bb 678.8px 680.6px,#fcf6f8 680.6px 682.3px,#d17290 682.3px 684.1px,#2370bb 684.1px 685.8px,#d17290 685.8px 687.6px,#2370bb 687.6px 689.3px,#d17290 689.3px 691.1px,#2370bb 691.1px 692.8px,#f6e5ea 692.8px 694.6px,#d17290 694.6px 696.3px,#2370bb 696.3px 698.1px,#d17290 698.1px 699.9px,#dc95ac 699.9px 701.6px,#d17290 701.6px 708.6px,#acc9e6 708.6px 710.4px,#2370bb 710.4px 712.1px,#d17290 712.1px 713.9px,#2370bb 713.9px 717.4px,#d17290 717.4px 722.6px,#2370bb 722.6px 724.4px,#f6e5ea 724.4px 726.1px,#d17290 726.1px 727.9px,#2370bb 727.9px 729.7px,#d17290 729.7px 733.2px,#2370bb 733.2px 734.9px,#d17290 734.9px 736.7px,#2370bb 736.7px 738.4px,#ebc1ce 738.4px 740.2px,#d17290 740.2px 741.9px,#2370bb 741.9px 743.7px,#d17290 743.7px 745.4px,#2370bb 745.4px 750.7px,#d17290 750.7px 752.4px,#2370bb 752.4px 754.2px,#d17290 754.2px 756.0px,#df9eb3 756.0px 757.7px,#2370bb 757.7px 763.0px,#d17290 763.0px 766.5px,#2370bb 766.5px 771.7px,#d17290 771.7px 777.0px,#2370bb 777.0px 778.7px,#d17290 778.7px 782.2px,#bad2ea 782.2px 784.0px,#2370bb 784.0px 785.7px,#d17290 785.7px 789.2px,#2370bb 789.2px 791.0px,#acc9e6 791.0px 792.7px,#d17290 792.7px 801.5px,#2370bb 801.5px 803.2px,#d17290 803.2px 805.0px,#2370bb 805.0px 806.7px,#d17290 806.7px 811.9px,#2370bb 811.9px 815.4px,#d47b97 815.4px 817.2px,#eecad5 817.2px 818.9px,#2370bb 818.9px 820.7px,#d17290 820.7px 824.2px,#2370bb 824.2px 825.9px,#d17290 825.9px 829.4px,#df9eb3 829.4px 831.2px,#2370bb 831.2px 832.9px,#d17290 832.9px 834.7px,#2370bb 834.7px 836.4px,#d17290 836.4px 839.9px,#2370bb 839.9px 841.6px,#d17290 841.6px 843.4px,#c8dbee 843.4px 845.1px,#2370bb 845.1px 848.6px,#e8b8c8 848.6px 850.4px,#d17290 850.4px 852.1px,#2370bb 852.1px 853.9px,#d17290 853.9px 855.6px,#2370bb 855.6px 860.9px,#d17290 860.9px 866.1px,#2370bb 866.1px 869.6px,#d17290 869.6px 873.1px,#76a6d4 873.1px 874.8px,#2370bb 874.8px 878.3px,#d17290 878.3px 881.8px,#5a94cc 881.8px 883.6px,#d17290 883.6px 885.3px,#2370bb 885.3px 887.1px,#d17290 887.1px 890.6px,#83afd9 890.6px 892.3px,#e5b0c1 892.3px 894.0px,#2370bb 894.0px 895.8px,#d17290 895.8px 902.8px,#2370bb 902.8px 904.5px,#d17290 904.5px 906.3px,#2370bb 906.3px 908.0px,#d17290 908.0px 909.8px,#2370bb 909.8px 911.5px,#d17290 911.5px 918.5px,#bad2ea 918.5px 920.2px,#2370bb 920.2px 922.0px,#d17290 922.0px 927.2px,#e2a7ba 927.2px 929.0px,#2370bb 929.0px 930.7px,#d17290 930.7px 932.5px,#2370bb 932.5px 934.2px,#3179bf 934.2px 936.0px,#2370bb 936.0px 937.7px,#d17290 937.7px 941.2px,#2370bb 941.2px 943.0px,#d17290 943.0px 944.7px,#2370bb 944.7px 948.2px,#f9edf1 948.2px 949.9px,#f4dce3 949.9px 951.7px,#2370bb 951.7px 955.2px,#d17290 955.2px 958.7px,#2370bb 958.7px 960.4px,#d47b97 960.4px 962.2px,#d17290 962.2px 970.9px,#2370bb 970.9px 972.6px,#d17290 972.6px 974.4px,#2370bb 974.4px 976.1px,#d17290 976.1px 977.9px,#2370bb 977.9px 979.6px,#d17290 979.6px 981.4px,#2370bb 981.4px 983.1px,#5a94cc 983.1px 984.9px,#d17290 984.9px 986.6px,#2370bb 986.6px 993.6px,#d17290 993.6px 995.4px,#2370bb 995.4px 997.1px,#d17290 997.1px 1000.6px,#4c8bc8 1000.6px 1002.3px,#d17290 1002.3px 1005.8px,#9fc0e1 1005.8px 1007.6px,#d17290 1007.6px 1009.3px,#2370bb 1009.3px 1011.1px,#d17290 1011.1px 1012.8px,#2370bb 1012.8px 1014.6px,#d17290 1014.6px 1026.8px,#2370bb 1026.8px 1028.5px,#d17290 1028.5px 1030.3px,#2370bb 1030.3px 1032.0px,#d17290 1032.0px 1035.5px,#2370bb 1035.5px 1037.3px,#d17290 1037.3px 1044.3px,#f4dce3 1044.3px 1046.0px,#2370bb 1046.0px 1047.8px,#d17290 1047.8px 1051.3px,#2370bb 1051.3px 1053.0px)"></div><div class="r" style="top:566.48px;height:31.28px;background:linear-gradient(90deg,#2370bb 0.0px 1.7px,#d17290 1.7px 3.5px,#dc95ac 3.5px 5.2px,#2370bb 5.2px 8.7px,#3e82c4 8.7px 10.5px,#2370bb 10.5px 12.2px,#f9edf1 12.2px 14.0px,#2370bb 14.0px 17.5px,#e2a7ba 17.5px 19.2px,#2370bb 19.2px 26.2px,#83afd9 26.2px 27.9px,#5a94cc 27.9px 29.7px,#2370bb 29.7px 31.4px,#ffffff 31.4px 33.2px,#2370bb 33.2px 38.4px,#91b8dd 38.4px 40.2px,#9fc0e1 40.2px 41.9px,#689dd0 41.9px 43.7px,#2370bb 43.7px 45.4px,#3179bf 45.4px 47.2px,#2370bb 47.2px 50.6px,#f1f6fb 50.6px 52.4px,#2370bb 52.4px 54.1px,#eecad5 54.1px 55.9px,#2370bb 55.9px 57.6px,#d7849e 57.6px 59.4px,#5a94cc 59.4px 61.1px,#2370bb 61.1px 62.9px,#3e82c4 62.9px 64.6px,#c8dbee 64.6px 66.4px,#2370bb 66.4px 71.6px,#eecad5 71.6px 73.4px,#ebc1ce 73.4px 75.1px,#9fc0e1 75.1px 76.8px,#2370bb 76.8px 82.1px,#83afd9 82.1px 83.8px,#fcf6f8 83.8px 85.6px,#ebc1ce 85.6px 87.3px,#d17290 87.3px 89.1px,#ffffff 89.1px 90.8px,#d17290 90.8px 92.6px,#2370bb 92.6px 97.8px,#d6e4f2 97.8px 99.5px,#c8dbee 99.5px 101.3px,#2370bb 101.3px 103.0px,#3e82c4 103.0px 104.8px,#2370bb 104.8px 106.5px,#f6e5ea 106.5px 108.3px,#91b8dd 108.3px 110.0px,#f6e5ea 110.0px 111.8px,#9fc0e1 111.8px 113.5px,#2370bb 113.5px 117.0px,#eecad5 117.0px 118.8px,#2370bb 118.8px 122.3px,#d17290 122.3px 124.0px,#689dd0 124.0px 125.7px,#2370bb 125.7px 127.5px,#d17290 127.5px 129.2px,#9fc0e1 129.2px 131.0px,#eecad5 131.0px 132.7px,#2370bb 132.7px 134.5px,#e2a7ba 134.5px 136.2px,#f1d3dc 136.2px 138.0px,#2370bb 138.0px 139.7px,#9fc0e1 139.7px 141.5px,#5a94cc 141.5px 143.2px,#2370bb 143.2px 146.7px,#d7849e 146.7px 148.4px,#2370bb 148.4px 151.9px,#bad2ea 151.9px 153.7px,#2370bb 153.7px 155.4px,#3e82c4 155.4px 157.2px,#d17290 157.2px 158.9px,#2370bb 158.9px 162.4px,#9fc0e1 162.4px 164.2px,#d17290 164.2px 165.9px,#2370bb 165.9px 169.4px,#9fc0e1 169.4px 171.2px,#2370bb 171.2px 174.6px,#3e82c4 174.6px 176.4px,#2370bb 176.4px 178.1px,#e5b0c1 178.1px 179.9px,#2370bb 179.9px 185.1px,#d17290 185.1px 186.9px,#2370bb 186.9px 188.6px,#689dd0 188.6px 190.4px,#df9eb3 190.4px 192.1px,#9fc0e1 192.1px 193.9px,#df9eb3 193.9px 195.6px,#d17290 195.6px 197.3px,#2370bb 197.3px 199.1px,#5a94cc 199.1px 200.8px,#2370bb 200.8px 202.6px,#f1d3dc 202.6px 204.3px,#acc9e6 204.3px 206.1px,#689dd0 206.1px 207.8px,#2370bb 207.8px 209.6px,#83afd9 209.6px 211.3px,#e4edf6 211.3px 213.1px,#91b8dd 213.1px 214.8px,#2370bb 214.8px 216.6px,#3179bf 216.6px 218.3px,#9fc0e1 218.3px 220.1px,#d17290 220.1px 221.8px,#d6e4f2 221.8px 223.5px,#2370bb 223.5px 230.5px,#4c8bc8 230.5px 232.3px,#2370bb 232.3px 234.0px,#3179bf 234.0px 235.8px,#5a94cc 235.8px 237.5px,#eecad5 237.5px 239.3px,#689dd0 239.3px 241.0px,#c8dbee 241.0px 242.8px,#2370bb 242.8px 244.5px,#e4edf6 244.5px 246.2px,#2370bb 246.2px 255.0px,#4c8bc8 255.0px 256.7px,#e2a7ba 256.7px 258.5px,#2370bb 258.5px 260.2px,#f1d3dc 260.2px 262.0px,#2370bb 262.0px 267.2px,#fcf6f8 267.2px 269.0px,#2370bb 269.0px 270.7px,#f9edf1 270.7px 272.5px,#d17290 272.5px 274.2px,#e5b0c1 274.2px 276.0px,#d7849e 276.0px 277.7px,#3179bf 277.7px 279.5px,#c8dbee 279.5px 281.2px,#76a6d4 281.2px 283.0px,#fcf6f8 283.0px 284.7px,#2370bb 284.7px 286.5px,#83afd9 286.5px 288.2px,#f6e5ea 288.2px 290.0px,#2370bb 290.0px 295.2px,#f4dce3 295.2px 297.0px,#acc9e6 297.0px 298.7px,#d7849e 298.7px 300.5px,#d17290 300.5px 302.2px,#dc95ac 302.2px 304.0px,#eecad5 304.0px 305.7px,#2370bb 305.7px 307.5px,#ffffff 307.5px 309.2px,#2370bb 309.2px 311.0px,#d17290 311.0px 312.7px,#ffffff 312.7px 316.2px,#2370bb 316.2px 318.0px,#83afd9 318.0px 319.7px,#d17290 319.7px 321.5px,#2370bb 321.5px 328.5px,#d17290 328.5px 332.0px,#2370bb 332.0px 333.7px,#d6e4f2 333.7px 335.5px,#f9edf1 335.5px 337.2px,#d7849e 337.2px 339.0px,#2370bb 339.0px 342.5px,#76a6d4 342.5px 344.2px,#ffffff 344.2px 346.0px,#76a6d4 346.0px 347.7px,#3e82c4 347.7px 349.5px,#d17290 349.5px 351.2px,#2370bb 351.2px 353.0px,#3e82c4 353.0px 354.7px,#689dd0 354.7px 356.5px,#91b8dd 356.5px 358.2px,#da8ca5 358.2px 360.0px,#f9edf1 360.0px 361.7px,#2370bb 361.7px 363.5px,#d17290 363.5px 365.2px,#2370bb 365.2px 367.0px,#acc9e6 367.0px 368.7px,#3e82c4 368.7px 370.5px,#2370bb 370.5px 377.5px,#d17290 377.5px 379.2px,#2370bb 379.2px 382.7px,#d17290 382.7px 384.5px,#2370bb 384.5px 386.2px,#e4edf6 386.2px 388.0px,#df9eb3 388.0px 389.7px,#2370bb 389.7px 391.5px,#ffffff 391.5px 393.2px,#2370bb 393.2px 403.7px,#d17290 403.7px 405.5px,#2370bb 405.5px 407.2px,#dc95ac 407.2px 409.0px,#2370bb 409.0px 412.5px,#d17290 412.5px 414.2px,#eecad5 414.2px 416.0px,#9fc0e1 416.0px 417.7px,#2370bb 417.7px 419.5px,#acc9e6 419.5px 421.2px,#2370bb 421.2px 424.7px,#d17290 424.7px 426.5px,#2370bb 426.5px 428.2px,#d6e4f2 428.2px 430.0px,#2370bb 430.0px 435.2px,#e8b8c8 435.2px 437.0px,#689dd0 437.0px 438.7px,#3e82c4 438.7px 440.5px,#4c8bc8 440.5px 442.2px,#2370bb 442.2px 445.7px,#e4edf6 445.7px 447.5px,#acc9e6 447.5px 449.2px,#2370bb 449.2px 452.7px,#acc9e6 452.7px 454.5px,#d47b97 454.5px 456.2px,#2370bb 456.2px 458.0px,#e8b8c8 458.0px 459.7px,#2370bb 459.7px 463.2px,#4c8bc8 463.2px 465.0px,#2370bb 465.0px 466.7px,#fcf6f8 466.7px 468.5px,#2370bb 468.5px 473.7px,#acc9e6 473.7px 475.5px,#2370bb 475.5px 479.0px,#f6e5ea 479.0px 480.7px,#689dd0 480.7px 482.5px,#df9eb3 482.5px 484.2px,#2370bb 484.2px 486.0px,#689dd0 486.0px 487.7px,#2370bb 487.7px 489.5px,#d17290 489.5px 491.2px,#2370bb 491.2px 493.0px,#f1d3dc 493.0px 494.7px,#c8dbee 494.7px 496.5px,#2370bb 496.5px 500.0px,#d17290 500.0px 505.3px,#689dd0 505.3px 507.0px,#2370bb 507.0px 508.8px,#689dd0 508.8px 510.5px,#2370bb 510.5px 512.3px,#91b8dd 512.3px 514.0px,#d6e4f2 514.0px 515.8px,#d17290 515.8px 517.5px,#c8dbee 517.5px 519.3px,#2370bb 519.3px 521.0px,#d7849e 521.0px 522.8px,#2370bb 522.8px 524.5px,#f1f6fb 524.5px 526.3px,#c8dbee 526.3px 528.1px,#e2a7ba 528.1px 529.8px,#d17290 529.8px 531.6px,#2370bb 531.6px 533.3px,#d17290 533.3px 535.1px,#f4dce3 535.1px 536.8px,#d17290 536.8px 538.6px,#2370bb 538.6px 542.1px,#83afd9 542.1px 543.8px,#dc95ac 543.8px 545.6px,#d17290 545.6px 547.3px,#f6e5ea 547.3px 549.1px,#2370bb 549.1px 550.8px,#d17290 550.8px 552.6px,#e4edf6 552.6px 554.4px,#2370bb 554.4px 556.1px,#5a94cc 556.1px 557.9px,#fcf6f8 557.9px 559.6px,#d17290 559.6px 561.4px,#2370bb 561.4px 563.1px,#d17290 563.1px 564.9px,#f1d3dc 564.9px 566.6px,#d17290 566.6px 570.1px,#2370bb 570.1px 571.9px,#d17290 571.9px 573.6px,#2370bb 573.6px 575.4px,#d17290 575.4px 577.1px,#2370bb 577.1px 578.9px,#d17290 578.9px 582.4px,#e8b8c8 582.4px 584.2px,#dc95ac 584.2px 585.9px,#2370bb 585.9px 587.7px,#d17290 587.7px 589.4px,#eecad5 589.4px 591.2px,#76a6d4 591.2px 592.9px,#689dd0 592.9px 594.7px,#d7849e 594.7px 596.4px,#2370bb 596.4px 598.2px,#df9eb3 598.2px 599.9px,#2370bb 599.9px 601.7px,#ffffff 601.7px 603.4px,#2370bb 603.4px 606.9px,#eecad5 606.9px 608.7px,#3179bf 608.7px 610.4px,#76a6d4 610.4px 612.2px,#d17290 612.2px 617.5px,#2370bb 617.5px 621.0px,#d47b97 621.0px 622.7px,#e2a7ba 622.7px 624.5px,#d17290 624.5px 626.2px,#d6e4f2 626.2px 628.0px,#eecad5 628.0px 629.7px,#2370bb 629.7px 631.5px,#f1f6fb 631.5px 633.2px,#2370bb 633.2px 635.0px,#d17290 635.0px 636.7px,#2370bb 636.7px 638.5px,#f1d3dc 638.5px 640.2px,#2370bb 640.2px 642.0px,#91b8dd 642.0px 643.8px,#f9edf1 643.8px 645.5px,#d17290 645.5px 647.3px,#2370bb 647.3px 649.0px,#83afd9 649.0px 650.8px,#e5b0c1 650.8px 652.5px,#9fc0e1 652.5px 654.3px,#f1f6fb 654.3px 656.0px,#d17290 656.0px 657.8px,#2370bb 657.8px 659.5px,#bad2ea 659.5px 661.3px,#da8ca5 661.3px 663.0px,#9fc0e1 663.0px 664.8px,#2370bb 664.8px 666.5px,#d17290 666.5px 668.3px,#2370bb 668.3px 671.8px,#d17290 671.8px 673.6px,#bad2ea 673.6px 675.3px,#9fc0e1 675.3px 677.1px,#2370bb 677.1px 678.8px,#e5b0c1 678.8px 680.6px,#bad2ea 680.6px 682.3px,#d7849e 682.3px 684.1px,#2370bb 684.1px 685.8px,#3179bf 685.8px 687.6px,#bad2ea 687.6px 689.3px,#f9edf1 689.3px 691.1px,#2370bb 691.1px 694.6px,#d17290 694.6px 698.1px,#5a94cc 698.1px 699.9px,#2370bb 699.9px 701.6px,#ffffff 701.6px 703.4px,#bad2ea 703.4px 705.1px,#2370bb 705.1px 706.9px,#bad2ea 706.9px 708.6px,#83afd9 708.6px 710.4px,#2370bb 710.4px 713.9px,#9fc0e1 713.9px 715.6px,#76a6d4 715.6px 717.4px,#2370bb 717.4px 719.1px,#d17290 719.1px 720.9px,#76a6d4 720.9px 722.6px,#d17290 722.6px 724.4px,#fcf6f8 724.4px 726.1px,#3e82c4 726.1px 727.9px,#f1f6fb 727.9px 731.4px,#d6e4f2 731.4px 733.2px,#ebc1ce 733.2px 734.9px,#2370bb 734.9px 736.7px,#83afd9 736.7px 738.4px,#2370bb 738.4px 741.9px,#d6e4f2 741.9px 743.7px,#2370bb 743.7px 745.4px,#f9edf1 745.4px 747.2px,#2370bb 747.2px 748.9px,#3179bf 748.9px 750.7px,#d17290 750.7px 752.4px,#91b8dd 752.4px 754.2px,#d17290 754.2px 756.0px,#2370bb 756.0px 757.7px,#3e82c4 757.7px 759.5px,#d6e4f2 759.5px 761.2px,#2370bb 761.2px 763.0px,#d17290 763.0px 766.5px,#e2a7ba 766.5px 768.2px,#2370bb 768.2px 773.5px,#ffffff 773.5px 775.2px,#2370bb 775.2px 777.0px,#f6e5ea 777.0px 778.7px,#ffffff 778.7px 780.5px,#9fc0e1 780.5px 782.2px,#d17290 782.2px 784.0px,#ebc1ce 784.0px 785.7px,#2370bb 785.7px 787.5px,#ffffff 787.5px 789.2px,#91b8dd 789.2px 791.0px,#2370bb 791.0px 792.7px,#d7849e 792.7px 794.5px,#d17290 794.5px 798.0px,#f1f6fb 798.0px 799.7px,#fcf6f8 799.7px 801.5px,#2370bb 801.5px 803.2px,#e8b8c8 803.2px 805.0px,#e4edf6 805.0px 806.7px,#d7849e 806.7px 808.5px,#df9eb3 808.5px 811.9px,#2370bb 811.9px 813.7px,#76a6d4 813.7px 815.4px,#f4dce3 815.4px 817.2px,#d17290 817.2px 818.9px,#689dd0 818.9px 820.7px,#f6e5ea 820.7px 822.4px,#eecad5 822.4px 824.2px,#2370bb 824.2px 825.9px,#d17290 825.9px 827.7px,#df9eb3 827.7px 829.4px,#2370bb 829.4px 831.2px,#3e82c4 831.2px 832.9px,#91b8dd 832.9px 836.4px,#2370bb 836.4px 838.1px,#d17290 838.1px 839.9px,#3179bf 839.9px 841.6px,#e5b0c1 841.6px 843.4px,#d47b97 843.4px 845.1px,#2370bb 845.1px 846.9px,#91b8dd 846.9px 848.6px,#f1f6fb 848.6px 850.4px,#d47b97 850.4px 852.1px,#2370bb 852.1px 853.9px,#d17290 853.9px 855.6px,#f1f6fb 855.6px 857.4px,#2370bb 857.4px 859.1px,#5a94cc 859.1px 860.9px,#e2a7ba 860.9px 862.6px,#d17290 862.6px 864.4px,#d47b97 864.4px 866.1px,#d17290 866.1px 867.8px,#e4edf6 867.8px 869.6px,#d17290 869.6px 873.1px,#2370bb 873.1px 874.8px,#d17290 874.8px 876.6px,#2370bb 876.6px 878.3px,#f9edf1 878.3px 880.1px,#f1f6fb 880.1px 881.8px,#689dd0 881.8px 883.6px,#83afd9 883.6px 885.3px,#4c8bc8 885.3px 887.1px,#d47b97 887.1px 888.8px,#d17290 888.8px 890.6px,#f9edf1 890.6px 892.3px,#d17290 892.3px 894.0px,#e2a7ba 894.0px 895.8px,#4c8bc8 895.8px 897.5px,#bad2ea 897.5px 899.3px,#ffffff 899.3px 902.8px,#2370bb 902.8px 904.5px,#d17290 904.5px 906.3px,#acc9e6 906.3px 908.0px,#da8ca5 908.0px 909.8px,#2370bb 909.8px 911.5px,#91b8dd 911.5px 915.0px,#2370bb 915.0px 916.8px,#f9edf1 916.8px 918.5px,#2370bb 918.5px 920.2px,#3e82c4 920.2px 922.0px,#acc9e6 922.0px 923.7px,#d17290 923.7px 925.5px,#bad2ea 925.5px 927.2px,#d6e4f2 927.2px 929.0px,#83afd9 929.0px 930.7px,#76a6d4 930.7px 932.5px,#e2a7ba 932.5px 934.2px,#5a94cc 934.2px 936.0px,#e5b0c1 936.0px 937.7px,#4c8bc8 937.7px 939.5px,#d17290 939.5px 943.0px,#e4edf6 943.0px 944.7px,#2370bb 944.7px 946.4px,#76a6d4 946.4px 948.2px,#df9eb3 948.2px 949.9px,#2370bb 949.9px 951.7px,#fcf6f8 951.7px 953.4px,#d17290 953.4px 955.2px,#f6e5ea 955.2px 956.9px,#2370bb 956.9px 958.7px,#689dd0 958.7px 960.4px,#76a6d4 960.4px 962.2px,#d17290 962.2px 963.9px,#3179bf 963.9px 967.4px,#d17290 967.4px 969.2px,#fcf6f8 969.2px 970.9px,#f4dce3 970.9px 972.6px,#ffffff 972.6px 974.4px,#d17290 974.4px 976.1px,#d7849e 976.1px 977.9px,#2370bb 977.9px 979.6px,#e2a7ba 979.6px 981.4px,#9fc0e1 981.4px 983.1px,#76a6d4 983.1px 984.9px,#d17290 984.9px 986.6px,#2370bb 986.6px 988.4px,#bad2ea 988.4px 990.1px,#2370bb 990.1px 991.9px,#5a94cc 991.9px 995.4px,#2370bb 995.4px 998.9px,#d17290 998.9px 1000.6px,#f1d3dc 1000.6px 1004.1px,#2370bb 1004.1px 1007.6px,#e5b0c1 1007.6px 1009.3px,#2370bb 1009.3px 1011.1px,#d17290 1011.1px 1012.8px,#2370bb 1012.8px 1014.6px,#d17290 1014.6px 1018.1px,#bad2ea 1018.1px 1019.8px,#f9edf1 1019.8px 1021.6px,#eecad5 1021.6px 1023.3px,#2370bb 1023.3px 1025.1px,#d17290 1025.1px 1026.8px,#2370bb 1026.8px 1028.5px,#bad2ea 1028.5px 1030.3px,#2370bb 1030.3px 1032.0px,#e2a7ba 1032.0px 1033.8px,#2370bb 1033.8px 1035.5px,#4c8bc8 1035.5px 1037.3px,#2370bb 1037.3px 1039.0px,#d17290 1039.0px 1040.8px,#2370bb 1040.8px 1042.5px,#e5b0c1 1042.5px 1044.3px,#c8dbee 1044.3px 1046.0px,#acc9e6 1046.0px 1047.8px,#d17290 1047.8px 1051.3px,#2370bb 1051.3px 1053.0px)"></div><div class="r" style="top:597.76px;height:31.28px;background:linear-gradient(90deg,#2370bb 0.0px 1.7px,#5a94cc 1.7px 3.5px,#d7849e 3.5px 5.2px,#2370bb 5.2px 12.2px,#d17290 12.2px 14.0px,#2370bb 14.0px 17.5px,#d17290 17.5px 19.2px,#acc9e6 19.2px 21.0px,#d17290 21.0px 24.5px,#2370bb 24.5px 27.9px,#acc9e6 27.9px 29.7px,#2370bb 29.7px 33.2px,#d17290 33.2px 34.9px,#eecad5 34.9px 36.7px,#2370bb 36.7px 52.4px,#d17290 52.4px 55.9px,#2370bb 55.9px 59.4px,#d17290 59.4px 61.1px,#2370bb 61.1px 69.9px,#d17290 69.9px 75.1px,#2370bb 75.1px 82.1px,#d17290 82.1px 85.6px,#2370bb 85.6px 87.3px,#d17290 87.3px 90.8px,#f1d3dc 90.8px 92.6px,#2370bb 92.6px 103.0px,#f1d3dc 103.0px 104.8px,#e8b8c8 104.8px 106.5px,#2370bb 106.5px 122.3px,#d17290 122.3px 124.0px,#2370bb 124.0px 131.0px,#d17290 131.0px 132.7px,#2370bb 132.7px 134.5px,#e2a7ba 134.5px 136.2px,#d17290 136.2px 138.0px,#2370bb 138.0px 141.5px,#d17290 141.5px 143.2px,#2370bb 143.2px 145.0px,#d7849e 145.0px 146.7px,#2370bb 146.7px 153.7px,#fcf6f8 153.7px 155.4px,#d17290 155.4px 158.9px,#2370bb 158.9px 164.2px,#d17290 164.2px 165.9px,#2370bb 165.9px 167.7px,#f4dce3 167.7px 169.4px,#ffffff 169.4px 171.2px,#2370bb 171.2px 179.9px,#d17290 179.9px 181.6px,#3179bf 181.6px 183.4px,#2370bb 183.4px 192.1px,#d17290 192.1px 193.9px,#2370bb 193.9px 195.6px,#d17290 195.6px 197.3px,#2370bb 197.3px 202.6px,#d17290 202.6px 206.1px,#2370bb 206.1px 209.6px,#d17290 209.6px 211.3px,#2370bb 211.3px 213.1px,#e4edf6 213.1px 214.8px,#2370bb 214.8px 218.3px,#d17290 218.3px 220.1px,#2370bb 220.1px 221.8px,#d17290 221.8px 223.5px,#2370bb 223.5px 225.3px,#d17290 225.3px 227.0px,#2370bb 227.0px 230.5px,#d17290 230.5px 232.3px,#2370bb 232.3px 239.3px,#d17290 239.3px 242.8px,#2370bb 242.8px 248.0px,#d17290 248.0px 249.7px,#2370bb 249.7px 251.5px,#d17290 251.5px 253.2px,#2370bb 253.2px 262.0px,#d17290 262.0px 263.7px,#fcf6f8 263.7px 265.5px,#d17290 265.5px 267.2px,#2370bb 267.2px 270.7px,#d17290 270.7px 274.2px,#f1f6fb 274.2px 276.0px,#d17290 276.0px 277.7px,#2370bb 277.7px 279.5px,#d17290 279.5px 281.2px,#f9edf1 281.2px 284.7px,#d17290 284.7px 288.2px,#2370bb 288.2px 290.0px,#ffffff 290.0px 291.7px,#2370bb 291.7px 300.5px,#d17290 300.5px 304.0px,#2370bb 304.0px 309.2px,#d17290 309.2px 311.0px,#2370bb 311.0px 314.5px,#d17290 314.5px 316.2px,#f1d3dc 316.2px 318.0px,#2370bb 318.0px 323.2px,#d17290 323.2px 325.0px,#2370bb 325.0px 328.5px,#d17290 328.5px 330.2px,#f1f6fb 330.2px 332.0px,#2370bb 332.0px 337.2px,#91b8dd 337.2px 339.0px,#2370bb 339.0px 340.7px,#e4edf6 340.7px 342.5px,#2370bb 342.5px 344.2px,#d17290 344.2px 349.5px,#2370bb 349.5px 353.0px,#d17290 353.0px 356.5px,#2370bb 356.5px 358.2px,#d17290 358.2px 363.5px,#2370bb 363.5px 372.2px,#d17290 372.2px 374.0px,#2370bb 374.0px 375.7px,#d17290 375.7px 381.0px,#2370bb 381.0px 382.7px,#d17290 382.7px 384.5px,#2370bb 384.5px 402.0px,#d17290 402.0px 409.0px,#2370bb 409.0px 412.5px,#d17290 412.5px 414.2px,#d7849e 414.2px 416.0px,#2370bb 416.0px 417.7px,#d17290 417.7px 419.5px,#2370bb 419.5px 424.7px,#f9edf1 424.7px 426.5px,#2370bb 426.5px 431.7px,#d17290 431.7px 433.5px,#da8ca5 433.5px 435.2px,#d17290 435.2px 437.0px,#d6e4f2 437.0px 438.7px,#d17290 438.7px 442.2px,#2370bb 442.2px 445.7px,#d17290 445.7px 449.2px,#2370bb 449.2px 451.0px,#d17290 451.0px 452.7px,#76a6d4 452.7px 454.5px,#f9edf1 454.5px 456.2px,#2370bb 456.2px 458.0px,#d17290 458.0px 459.7px,#2370bb 459.7px 466.7px,#acc9e6 466.7px 468.5px,#d17290 468.5px 470.2px,#2370bb 470.2px 472.0px,#d17290 472.0px 475.5px,#2370bb 475.5px 477.2px,#d17290 477.2px 479.0px,#2370bb 479.0px 480.7px,#d17290 480.7px 484.2px,#2370bb 484.2px 491.2px,#d17290 491.2px 493.0px,#2370bb 493.0px 494.7px,#c8dbee 494.7px 496.5px,#2370bb 496.5px 500.0px,#f6e5ea 500.0px 501.8px,#2370bb 501.8px 515.8px,#ebc1ce 515.8px 517.5px,#3e82c4 517.5px 519.3px,#2370bb 519.3px 524.5px,#f1f6fb 524.5px 526.3px,#2370bb 526.3px 528.1px,#76a6d4 528.1px 529.8px,#d17290 529.8px 531.6px,#2370bb 531.6px 536.8px,#3e82c4 536.8px 538.6px,#2370bb 538.6px 540.3px,#d17290 540.3px 542.1px,#2370bb 542.1px 543.8px,#d17290 543.8px 547.3px,#2370bb 547.3px 549.1px,#d17290 549.1px 552.6px,#2370bb 552.6px 557.9px,#76a6d4 557.9px 559.6px,#d17290 559.6px 563.1px,#2370bb 563.1px 564.9px,#d17290 564.9px 570.1px,#2370bb 570.1px 571.9px,#f6e5ea 571.9px 573.6px,#d17290 573.6px 580.6px,#2370bb 580.6px 582.4px,#d17290 582.4px 584.2px,#2370bb 584.2px 585.9px,#f9edf1 585.9px 587.7px,#3179bf 587.7px 589.4px,#d17290 589.4px 591.2px,#f6e5ea 591.2px 592.9px,#2370bb 592.9px 594.7px,#d17290 594.7px 596.4px,#e8b8c8 596.4px 598.2px,#d17290 598.2px 599.9px,#2370bb 599.9px 608.7px,#f6e5ea 608.7px 610.4px,#2370bb 610.4px 612.2px,#d17290 612.2px 614.0px,#2370bb 614.0px 615.7px,#d17290 615.7px 617.5px,#2370bb 617.5px 619.2px,#d17290 619.2px 628.0px,#2370bb 628.0px 631.5px,#d17290 631.5px 636.7px,#2370bb 636.7px 638.5px,#d17290 638.5px 640.2px,#2370bb 640.2px 642.0px,#d17290 642.0px 643.8px,#2370bb 643.8px 645.5px,#d17290 645.5px 649.0px,#2370bb 649.0px 650.8px,#76a6d4 650.8px 652.5px,#2370bb 652.5px 656.0px,#e5b0c1 656.0px 657.8px,#d17290 657.8px 659.5px,#2370bb 659.5px 661.3px,#d17290 661.3px 668.3px,#2370bb 668.3px 671.8px,#d17290 671.8px 677.1px,#eecad5 677.1px 678.8px,#2370bb 678.8px 680.6px,#d17290 680.6px 684.1px,#2370bb 684.1px 685.8px,#f1f6fb 685.8px 687.6px,#d17290 687.6px 692.8px,#2370bb 692.8px 694.6px,#d17290 694.6px 699.9px,#fcf6f8 699.9px 701.6px,#2370bb 701.6px 703.4px,#dc95ac 703.4px 705.1px,#2370bb 705.1px 708.6px,#d17290 708.6px 715.6px,#2370bb 715.6px 717.4px,#d17290 717.4px 720.9px,#2370bb 720.9px 726.1px,#d17290 726.1px 727.9px,#c8dbee 727.9px 729.7px,#d17290 729.7px 731.4px,#d7849e 731.4px 733.2px,#2370bb 733.2px 734.9px,#d17290 734.9px 736.7px,#2370bb 736.7px 741.9px,#d17290 741.9px 745.4px,#9fc0e1 745.4px 747.2px,#2370bb 747.2px 750.7px,#d17290 750.7px 752.4px,#2370bb 752.4px 754.2px,#4c8bc8 754.2px 756.0px,#2370bb 756.0px 763.0px,#d17290 763.0px 766.5px,#3e82c4 766.5px 768.2px,#d17290 768.2px 770.0px,#d6e4f2 770.0px 771.7px,#2370bb 771.7px 773.5px,#d17290 773.5px 775.2px,#2370bb 775.2px 777.0px,#d17290 777.0px 778.7px,#3179bf 778.7px 780.5px,#d17290 780.5px 784.0px,#c8dbee 784.0px 785.7px,#2370bb 785.7px 787.5px,#d17290 787.5px 791.0px,#2370bb 791.0px 792.7px,#d17290 792.7px 798.0px,#d7849e 798.0px 799.7px,#d17290 799.7px 801.5px,#2370bb 801.5px 803.2px,#d17290 803.2px 805.0px,#2370bb 805.0px 806.7px,#d17290 806.7px 810.2px,#2370bb 810.2px 817.2px,#d17290 817.2px 818.9px,#2370bb 818.9px 822.4px,#d17290 822.4px 832.9px,#2370bb 832.9px 836.4px,#d17290 836.4px 839.9px,#4c8bc8 839.9px 841.6px,#d17290 841.6px 845.1px,#2370bb 845.1px 846.9px,#d17290 846.9px 852.1px,#2370bb 852.1px 853.9px,#d17290 853.9px 855.6px,#2370bb 855.6px 857.4px,#d17290 857.4px 859.1px,#2370bb 859.1px 862.6px,#d17290 862.6px 866.1px,#2370bb 866.1px 869.6px,#d17290 869.6px 873.1px,#2370bb 873.1px 874.8px,#d7849e 874.8px 876.6px,#d17290 876.6px 880.1px,#2370bb 880.1px 881.8px,#d17290 881.8px 883.6px,#2370bb 883.6px 885.3px,#d17290 885.3px 894.0px,#dc95ac 894.0px 895.8px,#d17290 895.8px 902.8px,#4c8bc8 902.8px 904.5px,#d17290 904.5px 906.3px,#2370bb 906.3px 909.8px,#f4dce3 909.8px 911.5px,#d17290 911.5px 918.5px,#2370bb 918.5px 920.2px,#d17290 920.2px 922.0px,#2370bb 922.0px 925.5px,#d17290 925.5px 930.7px,#2370bb 930.7px 937.7px,#d17290 937.7px 944.7px,#2370bb 944.7px 946.4px,#d17290 946.4px 949.9px,#2370bb 949.9px 951.7px,#d47b97 951.7px 953.4px,#d17290 953.4px 960.4px,#2370bb 960.4px 962.2px,#d17290 962.2px 963.9px,#2370bb 963.9px 965.7px,#d17290 965.7px 970.9px,#2370bb 970.9px 972.6px,#d17290 972.6px 981.4px,#2370bb 981.4px 986.6px,#d17290 986.6px 990.1px,#2370bb 990.1px 991.9px,#d17290 991.9px 995.4px,#2370bb 995.4px 998.9px,#d17290 998.9px 1009.3px,#2370bb 1009.3px 1011.1px,#d17290 1011.1px 1012.8px,#2370bb 1012.8px 1014.6px,#d17290 1014.6px 1016.3px,#fcf6f8 1016.3px 1018.1px,#2370bb 1018.1px 1019.8px,#d17290 1019.8px 1026.8px,#2370bb 1026.8px 1028.5px,#d17290 1028.5px 1030.3px,#2370bb 1030.3px 1032.0px,#d17290 1032.0px 1033.8px,#2370bb 1033.8px 1037.3px,#d17290 1037.3px 1046.0px,#2370bb 1046.0px 1047.8px,#d17290 1047.8px 1051.3px,#2370bb 1051.3px 1053.0px)"></div><div class="r" style="top:629.04px;height:31.28px;background:linear-gradient(90deg,#df9eb3 0.0px 1.7px,#fcf6f8 1.7px 3.5px,#d17290 3.5px 5.2px,#2370bb 5.2px 17.5px,#d6e4f2 17.5px 19.2px,#2370bb 19.2px 24.5px,#bad2ea 24.5px 26.2px,#2370bb 26.2px 27.9px,#f1f6fb 27.9px 29.7px,#2370bb 29.7px 33.2px,#d17290 33.2px 34.9px,#2370bb 34.9px 50.6px,#da8ca5 50.6px 52.4px,#2370bb 52.4px 54.1px,#d17290 54.1px 55.9px,#2370bb 55.9px 57.6px,#76a6d4 57.6px 59.4px,#2370bb 59.4px 64.6px,#d17290 64.6px 66.4px,#2370bb 66.4px 82.1px,#d17290 82.1px 83.8px,#2370bb 83.8px 87.3px,#d17290 87.3px 89.1px,#2370bb 89.1px 90.8px,#f9edf1 90.8px 92.6px,#2370bb 92.6px 111.8px,#e4edf6 111.8px 113.5px,#2370bb 113.5px 117.0px,#eecad5 117.0px 118.8px,#2370bb 118.8px 124.0px,#4c8bc8 124.0px 125.7px,#2370bb 125.7px 129.2px,#83afd9 129.2px 131.0px,#d17290 131.0px 132.7px,#2370bb 132.7px 136.2px,#d17290 136.2px 138.0px,#2370bb 138.0px 141.5px,#4c8bc8 141.5px 143.2px,#2370bb 143.2px 146.7px,#dc95ac 146.7px 148.4px,#2370bb 148.4px 155.4px,#f1f6fb 155.4px 157.2px,#d17290 157.2px 158.9px,#2370bb 158.9px 162.4px,#f6e5ea 162.4px 164.2px,#d17290 164.2px 165.9px,#2370bb 165.9px 185.1px,#d17290 185.1px 186.9px,#2370bb 186.9px 188.6px,#d17290 188.6px 190.4px,#2370bb 190.4px 192.1px,#e8b8c8 192.1px 193.9px,#f4dce3 193.9px 195.6px,#2370bb 195.6px 202.6px,#d17290 202.6px 206.1px,#2370bb 206.1px 230.5px,#3e82c4 230.5px 232.3px,#2370bb 232.3px 235.8px,#d17290 235.8px 237.5px,#2370bb 237.5px 270.7px,#e2a7ba 270.7px 272.5px,#d17290 272.5px 276.0px,#ffffff 276.0px 277.7px,#acc9e6 277.7px 279.5px,#d17290 279.5px 286.5px,#2370bb 286.5px 295.2px,#d17290 295.2px 297.0px,#83afd9 297.0px 298.7px,#d17290 298.7px 305.7px,#2370bb 305.7px 312.7px,#d17290 312.7px 314.5px,#2370bb 314.5px 325.0px,#d17290 325.0px 326.7px,#2370bb 326.7px 333.7px,#d17290 333.7px 335.5px,#2370bb 335.5px 340.7px,#d17290 340.7px 342.5px,#2370bb 342.5px 344.2px,#d17290 344.2px 346.0px,#2370bb 346.0px 354.7px,#e2a7ba 354.7px 356.5px,#d17290 356.5px 358.2px,#f9edf1 358.2px 360.0px,#d17290 360.0px 363.5px,#2370bb 363.5px 375.7px,#d6e4f2 375.7px 377.5px,#d17290 377.5px 381.0px,#2370bb 381.0px 388.0px,#83afd9 388.0px 389.7px,#2370bb 389.7px 402.0px,#d17290 402.0px 403.7px,#e8b8c8 403.7px 405.5px,#df9eb3 405.5px 407.2px,#d17290 407.2px 409.0px,#2370bb 409.0px 412.5px,#d17290 412.5px 414.2px,#2370bb 414.2px 417.7px,#d17290 417.7px 419.5px,#2370bb 419.5px 428.2px,#d17290 428.2px 433.5px,#2370bb 433.5px 435.2px,#d17290 435.2px 437.0px,#2370bb 437.0px 438.7px,#d17290 438.7px 442.2px,#83afd9 442.2px 444.0px,#d17290 444.0px 447.5px,#2370bb 447.5px 451.0px,#d17290 451.0px 454.5px,#2370bb 454.5px 458.0px,#d17290 458.0px 459.7px,#2370bb 459.7px 461.5px,#d17290 461.5px 465.0px,#2370bb 465.0px 466.7px,#d7849e 466.7px 468.5px,#2370bb 468.5px 472.0px,#d17290 472.0px 473.7px,#2370bb 473.7px 479.0px,#e5b0c1 479.0px 480.7px,#d17290 480.7px 482.5px,#2370bb 482.5px 489.5px,#d17290 489.5px 491.2px,#2370bb 491.2px 494.7px,#4c8bc8 494.7px 496.5px,#2370bb 496.5px 500.0px,#e8b8c8 500.0px 501.8px,#2370bb 501.8px 524.5px,#e4edf6 524.5px 526.3px,#2370bb 526.3px 529.8px,#d17290 529.8px 531.6px,#2370bb 531.6px 536.8px,#9fc0e1 536.8px 538.6px,#2370bb 538.6px 540.3px,#d17290 540.3px 543.8px,#83afd9 543.8px 545.6px,#d17290 545.6px 547.3px,#2370bb 547.3px 549.1px,#d17290 549.1px 550.8px,#2370bb 550.8px 556.1px,#fcf6f8 556.1px 557.9px,#da8ca5 557.9px 559.6px,#2370bb 559.6px 563.1px,#d17290 563.1px 564.9px,#2370bb 564.9px 566.6px,#d17290 566.6px 570.1px,#2370bb 570.1px 571.9px,#d17290 571.9px 584.2px,#2370bb 584.2px 589.4px,#d17290 589.4px 596.4px,#2370bb 596.4px 598.2px,#5a94cc 598.2px 599.9px,#2370bb 599.9px 603.4px,#d17290 603.4px 605.2px,#2370bb 605.2px 606.9px,#d17290 606.9px 614.0px,#2370bb 614.0px 621.0px,#d17290 621.0px 624.5px,#2370bb 624.5px 626.2px,#d17290 626.2px 628.0px,#2370bb 628.0px 631.5px,#d17290 631.5px 633.2px,#2370bb 633.2px 635.0px,#d17290 635.0px 636.7px,#2370bb 636.7px 638.5px,#e4edf6 638.5px 640.2px,#2370bb 640.2px 642.0px,#c8dbee 642.0px 643.8px,#3179bf 643.8px 645.5px,#d17290 645.5px 647.3px,#2370bb 647.3px 650.8px,#d17290 650.8px 657.8px,#2370bb 657.8px 661.3px,#d17290 661.3px 668.3px,#2370bb 668.3px 671.8px,#d17290 671.8px 675.3px,#2370bb 675.3px 677.1px,#d17290 677.1px 680.6px,#d6e4f2 680.6px 682.3px,#d17290 682.3px 684.1px,#2370bb 684.1px 689.3px,#d17290 689.3px 696.3px,#2370bb 696.3px 699.9px,#d17290 699.9px 701.6px,#2370bb 701.6px 703.4px,#d17290 703.4px 706.9px,#2370bb 706.9px 712.1px,#d17290 712.1px 715.6px,#2370bb 715.6px 717.4px,#d17290 717.4px 722.6px,#9fc0e1 722.6px 724.4px,#d17290 724.4px 729.7px,#d6e4f2 729.7px 731.4px,#d17290 731.4px 733.2px,#2370bb 733.2px 734.9px,#c8dbee 734.9px 736.7px,#2370bb 736.7px 743.7px,#d17290 743.7px 747.2px,#2370bb 747.2px 750.7px,#d17290 750.7px 752.4px,#2370bb 752.4px 754.2px,#d17290 754.2px 756.0px,#2370bb 756.0px 759.5px,#d17290 759.5px 761.2px,#fcf6f8 761.2px 763.0px,#d17290 763.0px 768.2px,#2370bb 768.2px 771.7px,#d17290 771.7px 777.0px,#2370bb 777.0px 780.5px,#d17290 780.5px 784.0px,#2370bb 784.0px 785.7px,#d17290 785.7px 791.0px,#2370bb 791.0px 792.7px,#d17290 792.7px 796.2px,#2370bb 796.2px 798.0px,#d17290 798.0px 803.2px,#c8dbee 803.2px 805.0px,#2370bb 805.0px 806.7px,#d17290 806.7px 808.5px,#2370bb 808.5px 810.2px,#d17290 810.2px 811.9px,#2370bb 811.9px 815.4px,#d17290 815.4px 824.2px,#2370bb 824.2px 825.9px,#d17290 825.9px 834.7px,#2370bb 834.7px 836.4px,#d7849e 836.4px 838.1px,#d17290 838.1px 839.9px,#5a94cc 839.9px 841.6px,#d17290 841.6px 843.4px,#2370bb 843.4px 846.9px,#d17290 846.9px 848.6px,#2370bb 848.6px 850.4px,#d17290 850.4px 866.1px,#2370bb 866.1px 867.8px,#f1d3dc 867.8px 869.6px,#d17290 869.6px 873.1px,#2370bb 873.1px 874.8px,#d17290 874.8px 876.6px,#f9edf1 876.6px 878.3px,#ffffff 878.3px 880.1px,#2370bb 880.1px 881.8px,#d17290 881.8px 883.6px,#2370bb 883.6px 885.3px,#d17290 885.3px 894.0px,#2370bb 894.0px 895.8px,#d17290 895.8px 899.3px,#2370bb 899.3px 901.0px,#d17290 901.0px 920.2px,#2370bb 920.2px 923.7px,#d17290 923.7px 932.5px,#2370bb 932.5px 936.0px,#d17290 936.0px 941.2px,#83afd9 941.2px 943.0px,#d17290 943.0px 944.7px,#2370bb 944.7px 946.4px,#3179bf 946.4px 948.2px,#2370bb 948.2px 951.7px,#d17290 951.7px 958.7px,#2370bb 958.7px 960.4px,#d17290 960.4px 963.9px,#3e82c4 963.9px 965.7px,#d17290 965.7px 970.9px,#2370bb 970.9px 972.6px,#d17290 972.6px 974.4px,#bad2ea 974.4px 976.1px,#d17290 976.1px 979.6px,#2370bb 979.6px 984.9px,#d47b97 984.9px 986.6px,#2370bb 986.6px 988.4px,#d17290 988.4px 993.6px,#d7849e 993.6px 995.4px,#2370bb 995.4px 997.1px,#d17290 997.1px 1007.6px,#2370bb 1007.6px 1011.1px,#d17290 1011.1px 1012.8px,#2370bb 1012.8px 1014.6px,#d17290 1014.6px 1018.1px,#2370bb 1018.1px 1019.8px,#d17290 1019.8px 1023.3px,#3179bf 1023.3px 1025.1px,#d17290 1025.1px 1026.8px,#2370bb 1026.8px 1028.5px,#d17290 1028.5px 1030.3px,#2370bb 1030.3px 1032.0px,#d17290 1032.0px 1035.5px,#2370bb 1035.5px 1037.3px,#d17290 1037.3px 1040.8px,#2370bb 1040.8px 1042.5px,#d17290 1042.5px 1044.3px,#d47b97 1044.3px 1046.0px,#2370bb 1046.0px 1047.8px,#d17290 1047.8px 1051.3px,#2370bb 1051.3px 1053.0px)"></div><div class="r" style="top:660.32px;height:31.28px;background:linear-gradient(90deg,#d47b97 0.0px 1.7px,#2370bb 1.7px 3.5px,#d17290 3.5px 5.2px,#2370bb 5.2px 7.0px,#d17290 7.0px 8.7px,#2370bb 8.7px 12.2px,#f6e5ea 12.2px 14.0px,#2370bb 14.0px 26.2px,#d47b97 26.2px 27.9px,#d17290 27.9px 29.7px,#2370bb 29.7px 38.4px,#d17290 38.4px 40.2px,#2370bb 40.2px 47.2px,#bad2ea 47.2px 48.9px,#2370bb 48.9px 54.1px,#91b8dd 54.1px 55.9px,#2370bb 55.9px 59.4px,#d17290 59.4px 61.1px,#2370bb 61.1px 69.9px,#f4dce3 69.9px 71.6px,#2370bb 71.6px 73.4px,#f6e5ea 73.4px 75.1px,#2370bb 75.1px 76.8px,#d17290 76.8px 78.6px,#2370bb 78.6px 92.6px,#9fc0e1 92.6px 94.3px,#d17290 94.3px 96.1px,#2370bb 96.1px 110.0px,#e8b8c8 110.0px 111.8px,#2370bb 111.8px 127.5px,#e2a7ba 127.5px 129.2px,#d17290 129.2px 131.0px,#df9eb3 131.0px 132.7px,#2370bb 132.7px 155.4px,#d17290 155.4px 157.2px,#fcf6f8 157.2px 158.9px,#2370bb 158.9px 164.2px,#d17290 164.2px 165.9px,#2370bb 165.9px 178.1px,#d17290 178.1px 179.9px,#2370bb 179.9px 186.9px,#d17290 186.9px 188.6px,#2370bb 188.6px 195.6px,#d17290 195.6px 197.3px,#2370bb 197.3px 204.3px,#d17290 204.3px 206.1px,#2370bb 206.1px 237.5px,#d17290 237.5px 242.8px,#2370bb 242.8px 251.5px,#9fc0e1 251.5px 253.2px,#2370bb 253.2px 270.7px,#d17290 270.7px 272.5px,#2370bb 272.5px 274.2px,#d17290 274.2px 276.0px,#2370bb 276.0px 281.2px,#d17290 281.2px 284.7px,#91b8dd 284.7px 286.5px,#2370bb 286.5px 288.2px,#d17290 288.2px 290.0px,#2370bb 290.0px 297.0px,#d17290 297.0px 298.7px,#2370bb 298.7px 311.0px,#f1f6fb 311.0px 312.7px,#2370bb 312.7px 314.5px,#da8ca5 314.5px 316.2px,#d17290 316.2px 318.0px,#2370bb 318.0px 323.2px,#d17290 323.2px 325.0px,#2370bb 325.0px 326.7px,#d17290 326.7px 330.2px,#2370bb 330.2px 332.0px,#d17290 332.0px 333.7px,#2370bb 333.7px 335.5px,#d17290 335.5px 337.2px,#2370bb 337.2px 340.7px,#d17290 340.7px 342.5px,#2370bb 342.5px 344.2px,#d17290 344.2px 346.0px,#2370bb 346.0px 356.5px,#d17290 356.5px 358.2px,#2370bb 358.2px 368.7px,#d17290 368.7px 372.2px,#2370bb 372.2px 377.5px,#d17290 377.5px 379.2px,#2370bb 379.2px 384.5px,#eecad5 384.5px 386.2px,#2370bb 386.2px 391.5px,#d17290 391.5px 393.2px,#2370bb 393.2px 407.2px,#f1d3dc 407.2px 409.0px,#2370bb 409.0px 412.5px,#d17290 412.5px 414.2px,#f1f6fb 414.2px 416.0px,#2370bb 416.0px 417.7px,#d17290 417.7px 419.5px,#2370bb 419.5px 424.7px,#d17290 424.7px 430.0px,#2370bb 430.0px 431.7px,#d17290 431.7px 433.5px,#2370bb 433.5px 437.0px,#d17290 437.0px 438.7px,#2370bb 438.7px 444.0px,#d17290 444.0px 447.5px,#2370bb 447.5px 451.0px,#fcf6f8 451.0px 452.7px,#d17290 452.7px 454.5px,#2370bb 454.5px 456.2px,#d17290 456.2px 459.7px,#2370bb 459.7px 466.7px,#d17290 466.7px 468.5px,#2370bb 468.5px 472.0px,#d17290 472.0px 473.7px,#2370bb 473.7px 477.2px,#d17290 477.2px 484.2px,#83afd9 484.2px 486.0px,#d17290 486.0px 487.7px,#5a94cc 487.7px 489.5px,#2370bb 489.5px 493.0px,#d17290 493.0px 496.5px,#2370bb 496.5px 500.0px,#d17290 500.0px 501.8px,#2370bb 501.8px 505.3px,#689dd0 505.3px 507.0px,#2370bb 507.0px 515.8px,#83afd9 515.8px 517.5px,#2370bb 517.5px 529.8px,#d17290 529.8px 531.6px,#2370bb 531.6px 536.8px,#d47b97 536.8px 538.6px,#2370bb 538.6px 542.1px,#f6e5ea 542.1px 543.8px,#d17290 543.8px 547.3px,#2370bb 547.3px 549.1px,#d17290 549.1px 552.6px,#2370bb 552.6px 559.6px,#d17290 559.6px 561.4px,#df9eb3 561.4px 563.1px,#2370bb 563.1px 564.9px,#d17290 564.9px 568.4px,#2370bb 568.4px 571.9px,#d17290 571.9px 573.6px,#2370bb 573.6px 575.4px,#d17290 575.4px 577.1px,#2370bb 577.1px 578.9px,#d17290 578.9px 585.9px,#2370bb 585.9px 587.7px,#f9edf1 587.7px 589.4px,#2370bb 589.4px 591.2px,#d17290 591.2px 592.9px,#2370bb 592.9px 594.7px,#d17290 594.7px 599.9px,#5a94cc 599.9px 601.7px,#2370bb 601.7px 606.9px,#e2a7ba 606.9px 608.7px,#fcf6f8 608.7px 610.4px,#d6e4f2 610.4px 612.2px,#d17290 612.2px 617.5px,#2370bb 617.5px 619.2px,#d17290 619.2px 622.7px,#2370bb 622.7px 624.5px,#d17290 624.5px 628.0px,#2370bb 628.0px 631.5px,#d17290 631.5px 636.7px,#f6e5ea 636.7px 638.5px,#d17290 638.5px 642.0px,#2370bb 642.0px 645.5px,#f4dce3 645.5px 647.3px,#d17290 647.3px 650.8px,#2370bb 650.8px 652.5px,#d17290 652.5px 654.3px,#2370bb 654.3px 656.0px,#d17290 656.0px 657.8px,#2370bb 657.8px 659.5px,#d17290 659.5px 664.8px,#da8ca5 664.8px 666.5px,#d17290 666.5px 668.3px,#2370bb 668.3px 671.8px,#d17290 671.8px 673.6px,#5a94cc 673.6px 675.3px,#d17290 675.3px 677.1px,#2370bb 677.1px 682.3px,#d17290 682.3px 684.1px,#2370bb 684.1px 687.6px,#d17290 687.6px 691.1px,#2370bb 691.1px 694.6px,#d17290 694.6px 701.6px,#2370bb 701.6px 703.4px,#d17290 703.4px 705.1px,#2370bb 705.1px 706.9px,#f9edf1 706.9px 708.6px,#d17290 708.6px 710.4px,#2370bb 710.4px 713.9px,#9fc0e1 713.9px 715.6px,#2370bb 715.6px 717.4px,#d17290 717.4px 724.4px,#2370bb 724.4px 729.7px,#d17290 729.7px 731.4px,#2370bb 731.4px 734.9px,#d17290 734.9px 736.7px,#2370bb 736.7px 740.2px,#d17290 740.2px 741.9px,#2370bb 741.9px 743.7px,#d17290 743.7px 747.2px,#2370bb 747.2px 750.7px,#d17290 750.7px 752.4px,#2370bb 752.4px 754.2px,#d17290 754.2px 756.0px,#2370bb 756.0px 757.7px,#da8ca5 757.7px 759.5px,#2370bb 759.5px 763.0px,#eecad5 763.0px 764.7px,#4c8bc8 764.7px 766.5px,#2370bb 766.5px 773.5px,#d17290 773.5px 775.2px,#2370bb 775.2px 777.0px,#d17290 777.0px 782.2px,#2370bb 782.2px 784.0px,#d17290 784.0px 785.7px,#2370bb 785.7px 787.5px,#d17290 787.5px 798.0px,#2370bb 798.0px 799.7px,#d17290 799.7px 801.5px,#d6e4f2 801.5px 803.2px,#d17290 803.2px 813.7px,#2370bb 813.7px 815.4px,#d17290 815.4px 824.2px,#2370bb 824.2px 825.9px,#d17290 825.9px 829.4px,#e5b0c1 829.4px 831.2px,#d17290 831.2px 834.7px,#2370bb 834.7px 838.1px,#e8b8c8 838.1px 839.9px,#d17290 839.9px 845.1px,#2370bb 845.1px 848.6px,#91b8dd 848.6px 850.4px,#d17290 850.4px 852.1px,#2370bb 852.1px 853.9px,#d17290 853.9px 866.1px,#2370bb 866.1px 867.8px,#d17290 867.8px 869.6px,#c8dbee 869.6px 871.3px,#e4edf6 871.3px 873.1px,#d17290 873.1px 874.8px,#2370bb 874.8px 876.6px,#d17290 876.6px 878.3px,#2370bb 878.3px 880.1px,#d17290 880.1px 885.3px,#e4edf6 885.3px 887.1px,#2370bb 887.1px 888.8px,#f6e5ea 888.8px 890.6px,#d17290 890.6px 897.5px,#3179bf 897.5px 899.3px,#d17290 899.3px 906.3px,#2370bb 906.3px 911.5px,#ffffff 911.5px 913.3px,#d17290 913.3px 918.5px,#2370bb 918.5px 920.2px,#d17290 920.2px 923.7px,#2370bb 923.7px 925.5px,#d17290 925.5px 930.7px,#f1d3dc 930.7px 932.5px,#e5b0c1 932.5px 934.2px,#2370bb 934.2px 936.0px,#e4edf6 936.0px 937.7px,#d17290 937.7px 944.7px,#2370bb 944.7px 946.4px,#d17290 946.4px 948.2px,#bad2ea 948.2px 949.9px,#2370bb 949.9px 953.4px,#d17290 953.4px 956.9px,#2370bb 956.9px 962.2px,#d17290 962.2px 969.2px,#eecad5 969.2px 970.9px,#d17290 970.9px 981.4px,#2370bb 981.4px 983.1px,#d17290 983.1px 988.4px,#2370bb 988.4px 995.4px,#d17290 995.4px 1005.8px,#2370bb 1005.8px 1009.3px,#3179bf 1009.3px 1011.1px,#d17290 1011.1px 1023.3px,#2370bb 1023.3px 1025.1px,#d17290 1025.1px 1030.3px,#2370bb 1030.3px 1032.0px,#ebc1ce 1032.0px 1033.8px,#d17290 1033.8px 1035.5px,#2370bb 1035.5px 1037.3px,#d47b97 1037.3px 1039.0px,#d17290 1039.0px 1046.0px,#2370bb 1046.0px 1047.8px,#d17290 1047.8px 1053.0px)"></div><div class="r" style="top:691.60px;height:31.28px;background:linear-gradient(90deg,#91b8dd 0.0px 1.7px,#3179bf 1.7px 3.5px,#91b8dd 3.5px 5.2px,#fcf6f8 5.2px 7.0px,#76a6d4 7.0px 8.7px,#d7849e 8.7px 10.5px,#9fc0e1 10.5px 12.2px,#d17290 12.2px 14.0px,#d7849e 14.0px 15.7px,#d6e4f2 15.7px 17.5px,#2370bb 17.5px 19.2px,#76a6d4 19.2px 21.0px,#d17290 21.0px 26.2px,#5a94cc 26.2px 27.9px,#bad2ea 27.9px 29.7px,#c8dbee 29.7px 31.4px,#f1f6fb 31.4px 33.2px,#f1d3dc 33.2px 34.9px,#d17290 34.9px 36.7px,#fcf6f8 36.7px 38.4px,#d17290 38.4px 40.2px,#2370bb 40.2px 43.7px,#d17290 43.7px 45.4px,#ffffff 45.4px 47.2px,#9fc0e1 47.2px 48.9px,#4c8bc8 48.9px 50.6px,#2370bb 50.6px 52.4px,#d17290 52.4px 54.1px,#fcf6f8 54.1px 55.9px,#f9edf1 55.9px 57.6px,#ebc1ce 57.6px 59.4px,#689dd0 59.4px 61.1px,#2370bb 61.1px 64.6px,#dc95ac 64.6px 66.4px,#f1d3dc 66.4px 68.1px,#d47b97 68.1px 69.9px,#4c8bc8 69.9px 71.6px,#da8ca5 71.6px 73.4px,#d7849e 73.4px 75.1px,#9fc0e1 75.1px 76.8px,#e5b0c1 76.8px 78.6px,#2370bb 78.6px 80.3px,#e2a7ba 80.3px 82.1px,#e4edf6 82.1px 83.8px,#c8dbee 83.8px 87.3px,#2370bb 87.3px 89.1px,#76a6d4 89.1px 90.8px,#bad2ea 90.8px 92.6px,#2370bb 92.6px 94.3px,#d17290 94.3px 96.1px,#f6e5ea 96.1px 97.8px,#df9eb3 97.8px 99.5px,#76a6d4 99.5px 103.0px,#2370bb 103.0px 104.8px,#e5b0c1 104.8px 106.5px,#fcf6f8 106.5px 108.3px,#d17290 108.3px 110.0px,#4c8bc8 110.0px 111.8px,#d47b97 111.8px 113.5px,#3179bf 113.5px 115.3px,#f1d3dc 115.3px 118.8px,#eecad5 118.8px 120.5px,#d17290 120.5px 122.3px,#2370bb 122.3px 124.0px,#da8ca5 124.0px 125.7px,#f4dce3 125.7px 127.5px,#2370bb 127.5px 129.2px,#4c8bc8 129.2px 131.0px,#ffffff 131.0px 132.7px,#d47b97 132.7px 134.5px,#2370bb 134.5px 136.2px,#df9eb3 136.2px 138.0px,#d17290 138.0px 139.7px,#2370bb 139.7px 141.5px,#f1d3dc 141.5px 143.2px,#d17290 143.2px 145.0px,#91b8dd 145.0px 146.7px,#2370bb 146.7px 148.4px,#fcf6f8 148.4px 150.2px,#dc95ac 150.2px 151.9px,#d17290 151.9px 153.7px,#bad2ea 153.7px 155.4px,#df9eb3 155.4px 157.2px,#d47b97 157.2px 158.9px,#d17290 158.9px 160.7px,#76a6d4 160.7px 162.4px,#acc9e6 162.4px 164.2px,#f1d3dc 164.2px 165.9px,#c8dbee 165.9px 167.7px,#d17290 167.7px 171.2px,#c8dbee 171.2px 172.9px,#d7849e 172.9px 174.6px,#2370bb 174.6px 176.4px,#f6e5ea 176.4px 178.1px,#d17290 178.1px 179.9px,#df9eb3 179.9px 181.6px,#5a94cc 181.6px 183.4px,#3e82c4 183.4px 185.1px,#df9eb3 185.1px 186.9px,#d17290 186.9px 188.6px,#689dd0 188.6px 190.4px,#d17290 190.4px 192.1px,#2370bb 192.1px 193.9px,#9fc0e1 193.9px 195.6px,#d17290 195.6px 197.3px,#bad2ea 197.3px 199.1px,#f1d3dc 199.1px 200.8px,#9fc0e1 200.8px 202.6px,#d17290 202.6px 204.3px,#9fc0e1 204.3px 206.1px,#689dd0 206.1px 209.6px,#2370bb 209.6px 211.3px,#83afd9 211.3px 213.1px,#e4edf6 213.1px 214.8px,#3e82c4 214.8px 216.6px,#d17290 216.6px 218.3px,#dc95ac 218.3px 220.1px,#2370bb 220.1px 221.8px,#e5b0c1 221.8px 223.5px,#3e82c4 223.5px 225.3px,#d47b97 225.3px 227.0px,#acc9e6 227.0px 228.8px,#83afd9 228.8px 230.5px,#ebc1ce 230.5px 232.3px,#f6e5ea 232.3px 234.0px,#d6e4f2 234.0px 235.8px,#2370bb 235.8px 237.5px,#f9edf1 237.5px 239.3px,#d17290 239.3px 241.0px,#ffffff 241.0px 242.8px,#5a94cc 242.8px 244.5px,#91b8dd 244.5px 246.2px,#f1d3dc 246.2px 248.0px,#dc95ac 248.0px 249.7px,#d17290 249.7px 251.5px,#91b8dd 251.5px 253.2px,#df9eb3 253.2px 255.0px,#76a6d4 255.0px 256.7px,#d17290 256.7px 258.5px,#ffffff 258.5px 260.2px,#d17290 260.2px 262.0px,#3179bf 262.0px 263.7px,#d17290 263.7px 265.5px,#da8ca5 265.5px 267.2px,#f4dce3 267.2px 269.0px,#ebc1ce 269.0px 270.7px,#76a6d4 270.7px 272.5px,#ebc1ce 272.5px 274.2px,#dc95ac 274.2px 276.0px,#f6e5ea 276.0px 277.7px,#2370bb 277.7px 279.5px,#c8dbee 279.5px 281.2px,#acc9e6 281.2px 283.0px,#da8ca5 283.0px 284.7px,#e4edf6 284.7px 286.5px,#76a6d4 286.5px 288.2px,#f1d3dc 288.2px 290.0px,#d17290 290.0px 291.7px,#83afd9 291.7px 293.5px,#d17290 293.5px 295.2px,#2370bb 295.2px 297.0px,#ebc1ce 297.0px 298.7px,#d7849e 298.7px 300.5px,#d47b97 300.5px 302.2px,#c8dbee 302.2px 304.0px,#f9edf1 304.0px 305.7px,#da8ca5 305.7px 307.5px,#2370bb 307.5px 309.2px,#d17290 309.2px 311.0px,#ebc1ce 311.0px 312.7px,#4c8bc8 312.7px 314.5px,#fcf6f8 314.5px 316.2px,#3179bf 316.2px 318.0px,#c8dbee 318.0px 319.7px,#d17290 319.7px 321.5px,#5a94cc 321.5px 323.2px,#d6e4f2 323.2px 325.0px,#d7849e 325.0px 326.7px,#f1d3dc 326.7px 328.5px,#d6e4f2 328.5px 330.2px,#5a94cc 330.2px 332.0px,#2370bb 332.0px 333.7px,#d17290 333.7px 335.5px,#2370bb 335.5px 337.2px,#f6e5ea 337.2px 339.0px,#fcf6f8 339.0px 340.7px,#2370bb 340.7px 342.5px,#83afd9 342.5px 344.2px,#d17290 344.2px 346.0px,#bad2ea 346.0px 347.7px,#689dd0 347.7px 349.5px,#83afd9 349.5px 351.2px,#d17290 351.2px 353.0px,#da8ca5 353.0px 354.7px,#df9eb3 354.7px 356.5px,#9fc0e1 356.5px 358.2px,#d47b97 358.2px 360.0px,#d17290 360.0px 361.7px,#d7849e 361.7px 363.5px,#ebc1ce 363.5px 365.2px,#f1f6fb 365.2px 367.0px,#da8ca5 367.0px 368.7px,#d17290 368.7px 370.5px,#689dd0 370.5px 372.2px,#2370bb 372.2px 374.0px,#da8ca5 374.0px 375.7px,#d6e4f2 375.7px 377.5px,#f1f6fb 377.5px 379.2px,#5a94cc 379.2px 381.0px,#df9eb3 381.0px 382.7px,#d17290 382.7px 384.5px,#2370bb 384.5px 388.0px,#ffffff 388.0px 389.7px,#2370bb 389.7px 391.5px,#91b8dd 391.5px 393.2px,#e4edf6 393.2px 395.0px,#dc95ac 395.0px 396.7px,#ebc1ce 396.7px 398.5px,#83afd9 398.5px 400.2px,#f6e5ea 400.2px 402.0px,#2370bb 402.0px 403.7px,#acc9e6 403.7px 405.5px,#da8ca5 405.5px 407.2px,#5a94cc 407.2px 409.0px,#dc95ac 409.0px 410.7px,#f6e5ea 410.7px 412.5px,#9fc0e1 412.5px 414.2px,#da8ca5 414.2px 416.0px,#dc95ac 416.0px 417.7px,#ebc1ce 417.7px 419.5px,#9fc0e1 419.5px 421.2px,#d17290 421.2px 423.0px,#9fc0e1 423.0px 424.7px,#2370bb 424.7px 426.5px,#da8ca5 426.5px 428.2px,#d17290 428.2px 430.0px,#4c8bc8 430.0px 431.7px,#d6e4f2 431.7px 433.5px,#ebc1ce 433.5px 435.2px,#2370bb 435.2px 437.0px,#f6e5ea 437.0px 438.7px,#da8ca5 438.7px 440.5px,#3e82c4 440.5px 442.2px,#5a94cc 442.2px 444.0px,#dc95ac 444.0px 445.7px,#d17290 445.7px 447.5px,#91b8dd 447.5px 449.2px,#eecad5 449.2px 451.0px,#ebc1ce 451.0px 452.7px,#e2a7ba 452.7px 454.5px,#83afd9 454.5px 456.2px,#df9eb3 456.2px 458.0px,#76a6d4 458.0px 459.7px,#2370bb 459.7px 461.5px,#d6e4f2 461.5px 465.0px,#d17290 465.0px 466.7px,#eecad5 466.7px 468.5px,#d17290 468.5px 470.2px,#9fc0e1 470.2px 472.0px,#c8dbee 472.0px 473.7px,#dc95ac 473.7px 475.5px,#da8ca5 475.5px 477.2px,#d7849e 477.2px 479.0px,#d17290 479.0px 480.7px,#689dd0 480.7px 482.5px,#e4edf6 482.5px 484.2px,#fcf6f8 484.2px 486.0px,#d17290 486.0px 487.7px,#3179bf 487.7px 489.5px,#c8dbee 489.5px 491.2px,#f1f6fb 491.2px 493.0px,#4c8bc8 493.0px 494.7px,#2370bb 494.7px 498.3px,#689dd0 498.3px 500.0px,#df9eb3 500.0px 501.8px,#3e82c4 501.8px 503.5px,#91b8dd 503.5px 505.3px,#f9edf1 505.3px 507.0px,#689dd0 507.0px 508.8px,#3e82c4 508.8px 510.5px,#d17290 510.5px 512.3px,#f9edf1 512.3px 514.0px,#5a94cc 514.0px 515.8px,#d17290 515.8px 519.3px,#e8b8c8 519.3px 521.0px,#df9eb3 521.0px 522.8px,#689dd0 522.8px 524.5px,#d17290 524.5px 526.3px,#eecad5 526.3px 528.1px,#d17290 528.1px 531.6px,#fcf6f8 531.6px 533.3px,#da8ca5 533.3px 535.1px,#e8b8c8 535.1px 536.8px,#d17290 536.8px 538.6px,#2370bb 538.6px 540.3px,#5a94cc 540.3px 542.1px,#acc9e6 542.1px 543.8px,#d17290 543.8px 545.6px,#ebc1ce 545.6px 547.3px,#d17290 547.3px 549.1px,#f1d3dc 549.1px 550.8px,#da8ca5 550.8px 552.6px,#eecad5 552.6px 554.4px,#d17290 554.4px 559.6px,#83afd9 559.6px 561.4px,#d17290 561.4px 564.9px,#dc95ac 564.9px 566.6px,#d7849e 566.6px 568.4px,#2370bb 568.4px 570.1px,#d17290 570.1px 571.9px,#df9eb3 571.9px 573.6px,#d17290 573.6px 575.4px,#c8dbee 575.4px 577.1px,#d17290 577.1px 578.9px,#dc95ac 578.9px 580.6px,#f1f6fb 580.6px 582.4px,#9fc0e1 582.4px 584.2px,#2370bb 584.2px 585.9px,#d47b97 585.9px 587.7px,#5a94cc 587.7px 589.4px,#2370bb 589.4px 591.2px,#d7849e 591.2px 592.9px,#df9eb3 592.9px 594.7px,#2370bb 594.7px 596.4px,#e8b8c8 596.4px 598.2px,#d7849e 598.2px 599.9px,#da8ca5 599.9px 601.7px,#e2a7ba 601.7px 603.4px,#d6e4f2 603.4px 605.2px,#fcf6f8 605.2px 606.9px,#c8dbee 606.9px 608.7px,#2370bb 608.7px 610.4px,#d7849e 610.4px 612.2px,#d17290 612.2px 614.0px,#bad2ea 614.0px 615.7px,#d17290 615.7px 619.2px,#91b8dd 619.2px 621.0px,#e4edf6 621.0px 622.7px,#d17290 622.7px 624.5px,#d6e4f2 624.5px 626.2px,#f9edf1 626.2px 628.0px,#4c8bc8 628.0px 629.7px,#2370bb 629.7px 631.5px,#689dd0 631.5px 633.2px,#ebc1ce 633.2px 635.0px,#d17290 635.0px 636.7px,#9fc0e1 636.7px 638.5px,#91b8dd 638.5px 640.2px,#76a6d4 640.2px 643.8px,#3e82c4 643.8px 645.5px,#f1f6fb 645.5px 647.3px,#d47b97 647.3px 649.0px,#f4dce3 649.0px 650.8px,#4c8bc8 650.8px 652.5px,#3179bf 652.5px 654.3px,#d17290 654.3px 656.0px,#d7849e 656.0px 659.5px,#acc9e6 659.5px 661.3px,#d17290 661.3px 663.0px,#2370bb 663.0px 668.3px,#f1d3dc 668.3px 670.1px,#da8ca5 670.1px 671.8px,#bad2ea 671.8px 673.6px,#d17290 673.6px 675.3px,#df9eb3 675.3px 677.1px,#d17290 677.1px 678.8px,#acc9e6 678.8px 680.6px,#e2a7ba 680.6px 682.3px,#d17290 682.3px 684.1px,#eecad5 684.1px 685.8px,#da8ca5 685.8px 687.6px,#d47b97 687.6px 689.3px,#e8b8c8 689.3px 691.1px,#e2a7ba 691.1px 692.8px,#d17290 692.8px 694.6px,#e4edf6 694.6px 696.3px,#2370bb 696.3px 698.1px,#91b8dd 698.1px 699.9px,#da8ca5 699.9px 701.6px,#d17290 701.6px 703.4px,#e5b0c1 703.4px 705.1px,#c8dbee 705.1px 706.9px,#f1d3dc 706.9px 708.6px,#d17290 708.6px 710.4px,#df9eb3 710.4px 712.1px,#3e82c4 712.1px 713.9px,#ebc1ce 713.9px 715.6px,#83afd9 715.6px 717.4px,#d17290 717.4px 719.1px,#5a94cc 719.1px 720.9px,#d17290 720.9px 722.6px,#f4dce3 722.6px 724.4px,#d7849e 724.4px 726.1px,#d17290 726.1px 727.9px,#f6e5ea 727.9px 729.7px,#d17290 729.7px 731.4px,#e4edf6 731.4px 733.2px,#d17290 733.2px 734.9px,#e2a7ba 734.9px 736.7px,#2370bb 736.7px 738.4px,#689dd0 738.4px 740.2px,#c8dbee 740.2px 741.9px,#689dd0 741.9px 743.7px,#d17290 743.7px 745.4px,#f9edf1 745.4px 747.2px,#e2a7ba 747.2px 748.9px,#e5b0c1 748.9px 750.7px,#bad2ea 750.7px 752.4px,#c8dbee 752.4px 754.2px,#689dd0 754.2px 756.0px,#df9eb3 756.0px 757.7px,#83afd9 757.7px 759.5px,#76a6d4 759.5px 761.2px,#2370bb 761.2px 766.5px,#ebc1ce 766.5px 768.2px,#2370bb 768.2px 770.0px,#e8b8c8 770.0px 771.7px,#5a94cc 771.7px 773.5px,#91b8dd 773.5px 775.2px,#d47b97 775.2px 777.0px,#d17290 777.0px 778.7px,#689dd0 778.7px 780.5px,#d6e4f2 780.5px 782.2px,#ebc1ce 782.2px 784.0px,#f6e5ea 784.0px 785.7px,#2370bb 785.7px 787.5px,#91b8dd 787.5px 789.2px,#e2a7ba 789.2px 791.0px,#dc95ac 791.0px 792.7px,#4c8bc8 792.7px 794.5px,#d17290 794.5px 796.2px,#2370bb 796.2px 798.0px,#91b8dd 798.0px 799.7px,#e2a7ba 799.7px 801.5px,#2370bb 801.5px 803.2px,#bad2ea 803.2px 805.0px,#ffffff 805.0px 806.7px,#2370bb 806.7px 810.2px,#f1f6fb 810.2px 811.9px,#e2a7ba 811.9px 813.7px,#f6e5ea 813.7px 815.4px,#83afd9 815.4px 817.2px,#5a94cc 817.2px 818.9px,#3e82c4 818.9px 820.7px,#2370bb 820.7px 822.4px,#83afd9 822.4px 824.2px,#9fc0e1 824.2px 825.9px,#2370bb 825.9px 827.7px,#76a6d4 827.7px 829.4px,#3e82c4 829.4px 831.2px,#5a94cc 831.2px 832.9px,#d47b97 832.9px 834.7px,#9fc0e1 834.7px 836.4px,#5a94cc 836.4px 838.1px,#acc9e6 838.1px 839.9px,#2370bb 839.9px 841.6px,#76a6d4 841.6px 843.4px,#e8b8c8 843.4px 845.1px,#2370bb 845.1px 846.9px,#3179bf 846.9px 848.6px,#d6e4f2 848.6px 850.4px,#2370bb 850.4px 853.9px,#5a94cc 853.9px 855.6px,#689dd0 855.6px 857.4px,#2370bb 857.4px 859.1px,#d7849e 859.1px 860.9px,#bad2ea 860.9px 862.6px,#ffffff 862.6px 864.4px,#da8ca5 864.4px 866.1px,#d17290 866.1px 867.8px,#2370bb 867.8px 869.6px,#9fc0e1 869.6px 871.3px,#d17290 871.3px 873.1px,#e4edf6 873.1px 874.8px,#da8ca5 874.8px 876.6px,#e4edf6 876.6px 878.3px,#2370bb 878.3px 880.1px,#f9edf1 880.1px 881.8px,#d17290 881.8px 883.6px,#689dd0 883.6px 885.3px,#d7849e 885.3px 887.1px,#d47b97 887.1px 888.8px,#acc9e6 888.8px 890.6px,#d17290 890.6px 892.3px,#f4dce3 892.3px 894.0px,#2370bb 894.0px 895.8px,#d6e4f2 895.8px 897.5px,#e5b0c1 897.5px 899.3px,#4c8bc8 899.3px 901.0px,#76a6d4 901.0px 902.8px,#3179bf 902.8px 904.5px,#83afd9 904.5px 906.3px,#ebc1ce 906.3px 908.0px,#acc9e6 908.0px 909.8px,#91b8dd 909.8px 911.5px,#e8b8c8 911.5px 913.3px,#da8ca5 913.3px 915.0px,#d7849e 915.0px 916.8px,#2370bb 916.8px 918.5px,#e8b8c8 918.5px 920.2px,#f9edf1 920.2px 922.0px,#83afd9 922.0px 923.7px,#2370bb 923.7px 927.2px,#d6e4f2 927.2px 929.0px,#2370bb 929.0px 930.7px,#d6e4f2 930.7px 932.5px,#ffffff 932.5px 934.2px,#d47b97 934.2px 936.0px,#acc9e6 936.0px 937.7px,#d17290 937.7px 939.5px,#f6e5ea 939.5px 941.2px,#acc9e6 941.2px 943.0px,#76a6d4 943.0px 944.7px,#df9eb3 944.7px 946.4px,#d7849e 946.4px 948.2px,#2370bb 948.2px 951.7px,#e4edf6 951.7px 953.4px,#eecad5 953.4px 955.2px,#3e82c4 955.2px 956.9px,#da8ca5 956.9px 958.7px,#4c8bc8 958.7px 960.4px,#2370bb 960.4px 962.2px,#acc9e6 962.2px 963.9px,#e2a7ba 963.9px 965.7px,#d17290 965.7px 969.2px,#fcf6f8 969.2px 970.9px,#d17290 970.9px 972.6px,#d6e4f2 972.6px 974.4px,#df9eb3 974.4px 976.1px,#f1f6fb 976.1px 977.9px,#2370bb 977.9px 979.6px,#9fc0e1 979.6px 983.1px,#2370bb 983.1px 984.9px,#ebc1ce 984.9px 986.6px,#e5b0c1 986.6px 988.4px,#76a6d4 988.4px 990.1px,#2370bb 990.1px 991.9px,#fcf6f8 991.9px 993.6px,#f1f6fb 993.6px 995.4px,#e4edf6 995.4px 997.1px,#3179bf 997.1px 998.9px,#2370bb 998.9px 1002.3px,#83afd9 1002.3px 1004.1px,#9fc0e1 1004.1px 1005.8px,#689dd0 1005.8px 1007.6px,#d7849e 1007.6px 1009.3px,#2370bb 1009.3px 1011.1px,#f1f6fb 1011.1px 1012.8px,#2370bb 1012.8px 1014.6px,#e8b8c8 1014.6px 1016.3px,#d47b97 1016.3px 1018.1px,#2370bb 1018.1px 1019.8px,#f1d3dc 1019.8px 1021.6px,#c8dbee 1021.6px 1023.3px,#acc9e6 1023.3px 1025.1px,#4c8bc8 1025.1px 1026.8px,#2370bb 1026.8px 1030.3px,#d17290 1030.3px 1032.0px,#83afd9 1032.0px 1033.8px,#d17290 1033.8px 1037.3px,#2370bb 1037.3px 1039.0px,#76a6d4 1039.0px 1040.8px,#e2a7ba 1040.8px 1042.5px,#3179bf 1042.5px 1044.3px,#d6e4f2 1044.3px 1046.0px,#2370bb 1046.0px 1047.8px,#bad2ea 1047.8px 1049.5px,#e4edf6 1049.5px 1051.3px,#d6e4f2 1051.3px 1053.0px)"></div><div class="r" style="top:722.88px;height:31.28px;background:linear-gradient(90deg,#bad2ea 0.0px 1.7px,#f6e5ea 1.7px 3.5px,#f9edf1 3.5px 5.2px,#eecad5 5.2px 7.0px,#9fc0e1 7.0px 8.7px,#eecad5 8.7px 10.5px,#f4dce3 10.5px 12.2px,#fcf6f8 12.2px 14.0px,#bad2ea 14.0px 15.7px,#e4edf6 15.7px 17.5px,#f1f6fb 17.5px 19.2px,#d47b97 19.2px 21.0px,#e4edf6 21.0px 22.7px,#f1d3dc 22.7px 24.5px,#fcf6f8 24.5px 26.2px,#e4edf6 26.2px 27.9px,#ffffff 27.9px 29.7px,#ebc1ce 29.7px 31.4px,#f6e5ea 31.4px 33.2px,#91b8dd 33.2px 34.9px,#f1f6fb 34.9px 36.7px,#bad2ea 36.7px 38.4px,#d47b97 38.4px 40.2px,#f6e5ea 40.2px 41.9px,#f1d3dc 41.9px 43.7px,#83afd9 43.7px 45.4px,#f9edf1 45.4px 47.2px,#9fc0e1 47.2px 48.9px,#e2a7ba 48.9px 50.6px,#f4dce3 50.6px 52.4px,#f1f6fb 52.4px 55.9px,#f6e5ea 55.9px 57.6px,#c8dbee 57.6px 61.1px,#f1f6fb 61.1px 62.9px,#d6e4f2 62.9px 64.6px,#fcf6f8 64.6px 66.4px,#f4dce3 66.4px 68.1px,#ffffff 68.1px 69.9px,#76a6d4 69.9px 71.6px,#bad2ea 71.6px 73.4px,#f6e5ea 73.4px 75.1px,#f9edf1 75.1px 76.8px,#fcf6f8 76.8px 78.6px,#bad2ea 78.6px 80.3px,#f4dce3 80.3px 82.1px,#f6e5ea 82.1px 83.8px,#f1f6fb 83.8px 85.6px,#df9eb3 85.6px 87.3px,#e4edf6 87.3px 89.1px,#f1f6fb 89.1px 90.8px,#f6e5ea 90.8px 92.6px,#e8b8c8 92.6px 94.3px,#acc9e6 94.3px 96.1px,#bad2ea 96.1px 97.8px,#e4edf6 97.8px 101.3px,#c8dbee 101.3px 103.0px,#f6e5ea 103.0px 104.8px,#c8dbee 104.8px 106.5px,#e4edf6 106.5px 108.3px,#eecad5 108.3px 110.0px,#bad2ea 110.0px 111.8px,#ffffff 111.8px 113.5px,#e8b8c8 113.5px 115.3px,#ffffff 115.3px 117.0px,#e4edf6 117.0px 118.8px,#f1f6fb 118.8px 122.3px,#bad2ea 122.3px 124.0px,#f6e5ea 124.0px 125.7px,#dc95ac 125.7px 127.5px,#ebc1ce 127.5px 129.2px,#f4dce3 129.2px 131.0px,#d6e4f2 131.0px 132.7px,#da8ca5 132.7px 134.5px,#e4edf6 134.5px 136.2px,#ebc1ce 136.2px 138.0px,#c8dbee 138.0px 139.7px,#bad2ea 139.7px 143.2px,#c8dbee 143.2px 145.0px,#f1f6fb 145.0px 146.7px,#fcf6f8 146.7px 148.4px,#d17290 148.4px 151.9px,#e8b8c8 151.9px 153.7px,#4c8bc8 153.7px 155.4px,#d17290 155.4px 157.2px,#4c8bc8 157.2px 158.9px,#d17290 158.9px 160.7px,#dc95ac 160.7px 162.4px,#d6e4f2 162.4px 164.2px,#ebc1ce 164.2px 165.9px,#4c8bc8 165.9px 167.7px,#bad2ea 167.7px 169.4px,#e4edf6 169.4px 171.2px,#91b8dd 171.2px 172.9px,#d7849e 172.9px 174.6px,#f1f6fb 174.6px 176.4px,#f4dce3 176.4px 178.1px,#4c8bc8 178.1px 179.9px,#d17290 179.9px 181.6px,#ebc1ce 181.6px 183.4px,#acc9e6 183.4px 185.1px,#76a6d4 185.1px 186.9px,#d7849e 186.9px 188.6px,#d17290 188.6px 190.4px,#76a6d4 190.4px 192.1px,#d17290 192.1px 193.9px,#e2a7ba 193.9px 195.6px,#d17290 195.6px 197.3px,#91b8dd 197.3px 199.1px,#f1f6fb 199.1px 200.8px,#f1d3dc 200.8px 202.6px,#d7849e 202.6px 204.3px,#fcf6f8 204.3px 206.1px,#d6e4f2 206.1px 207.8px,#d17290 207.8px 211.3px,#dc95ac 211.3px 213.1px,#d17290 213.1px 214.8px,#bad2ea 214.8px 216.6px,#d17290 216.6px 218.3px,#83afd9 218.3px 220.1px,#d17290 220.1px 221.8px,#e4edf6 221.8px 223.5px,#f1d3dc 223.5px 225.3px,#91b8dd 225.3px 227.0px,#e8b8c8 227.0px 228.8px,#c8dbee 228.8px 230.5px,#689dd0 230.5px 232.3px,#2370bb 232.3px 234.0px,#eecad5 234.0px 235.8px,#bad2ea 235.8px 237.5px,#f1f6fb 237.5px 239.3px,#bad2ea 239.3px 241.0px,#d17290 241.0px 242.8px,#3e82c4 242.8px 244.5px,#d17290 244.5px 246.2px,#2370bb 246.2px 248.0px,#ebc1ce 248.0px 249.7px,#d17290 249.7px 251.5px,#2370bb 251.5px 256.7px,#d7849e 256.7px 258.5px,#d6e4f2 258.5px 260.2px,#d17290 260.2px 262.0px,#83afd9 262.0px 263.7px,#2370bb 263.7px 265.5px,#9fc0e1 265.5px 267.2px,#d17290 267.2px 269.0px,#4c8bc8 269.0px 270.7px,#ffffff 270.7px 274.2px,#f1d3dc 274.2px 276.0px,#bad2ea 276.0px 277.7px,#eecad5 277.7px 279.5px,#ffffff 279.5px 283.0px,#f1f6fb 283.0px 284.7px,#fcf6f8 284.7px 286.5px,#f4dce3 286.5px 288.2px,#ebc1ce 288.2px 290.0px,#e4edf6 290.0px 291.7px,#fcf6f8 291.7px 293.5px,#e8b8c8 293.5px 295.2px,#f9edf1 295.2px 297.0px,#fcf6f8 297.0px 298.7px,#f9edf1 298.7px 300.5px,#d6e4f2 300.5px 302.2px,#ffffff 302.2px 304.0px,#f4dce3 304.0px 305.7px,#fcf6f8 305.7px 307.5px,#e8b8c8 307.5px 309.2px,#d6e4f2 309.2px 311.0px,#e8b8c8 311.0px 312.7px,#d6e4f2 312.7px 314.5px,#e4edf6 314.5px 316.2px,#76a6d4 316.2px 318.0px,#d6e4f2 318.0px 319.7px,#e4edf6 319.7px 321.5px,#eecad5 321.5px 323.2px,#c8dbee 323.2px 325.0px,#ebc1ce 325.0px 326.7px,#ffffff 326.7px 328.5px,#f4dce3 328.5px 330.2px,#acc9e6 330.2px 332.0px,#fcf6f8 332.0px 333.7px,#e5b0c1 333.7px 335.5px,#e4edf6 335.5px 337.2px,#d6e4f2 337.2px 339.0px,#f1d3dc 339.0px 340.7px,#dc95ac 340.7px 342.5px,#ffffff 342.5px 344.2px,#f1f6fb 344.2px 346.0px,#fcf6f8 346.0px 347.7px,#5a94cc 347.7px 349.5px,#fcf6f8 349.5px 354.7px,#f6e5ea 354.7px 356.5px,#bad2ea 356.5px 358.2px,#d6e4f2 358.2px 360.0px,#f9edf1 360.0px 361.7px,#2370bb 361.7px 363.5px,#91b8dd 363.5px 365.2px,#d47b97 365.2px 367.0px,#689dd0 367.0px 368.7px,#2370bb 368.7px 372.2px,#bad2ea 372.2px 374.0px,#d17290 374.0px 375.7px,#2370bb 375.7px 377.5px,#3e82c4 377.5px 379.2px,#5a94cc 379.2px 381.0px,#fcf6f8 381.0px 382.7px,#2370bb 382.7px 384.5px,#e5b0c1 384.5px 386.2px,#d17290 386.2px 388.0px,#da8ca5 388.0px 389.7px,#2370bb 389.7px 391.5px,#689dd0 391.5px 393.2px,#2370bb 393.2px 395.0px,#76a6d4 395.0px 396.7px,#d17290 396.7px 398.5px,#f6e5ea 398.5px 400.2px,#d17290 400.2px 402.0px,#bad2ea 402.0px 403.7px,#eecad5 403.7px 405.5px,#d17290 405.5px 409.0px,#da8ca5 409.0px 410.7px,#d6e4f2 410.7px 412.5px,#e8b8c8 412.5px 414.2px,#d17290 414.2px 416.0px,#df9eb3 416.0px 417.7px,#d17290 417.7px 419.5px,#d47b97 419.5px 421.2px,#2370bb 421.2px 423.0px,#e4edf6 423.0px 424.7px,#3179bf 424.7px 426.5px,#d7849e 426.5px 428.2px,#3179bf 428.2px 430.0px,#f4dce3 430.0px 431.7px,#e2a7ba 431.7px 433.5px,#4c8bc8 433.5px 435.2px,#2370bb 435.2px 437.0px,#e8b8c8 437.0px 438.7px,#d17290 438.7px 440.5px,#76a6d4 440.5px 442.2px,#acc9e6 442.2px 444.0px,#76a6d4 444.0px 445.7px,#d17290 445.7px 447.5px,#f4dce3 447.5px 449.2px,#d17290 449.2px 451.0px,#3e82c4 451.0px 452.7px,#e2a7ba 452.7px 454.5px,#e8b8c8 454.5px 456.2px,#d17290 456.2px 458.0px,#3e82c4 458.0px 459.7px,#76a6d4 459.7px 461.5px,#d17290 461.5px 463.2px,#ebc1ce 463.2px 465.0px,#d17290 465.0px 466.7px,#bad2ea 466.7px 468.5px,#d17290 468.5px 470.2px,#91b8dd 470.2px 472.0px,#d17290 472.0px 473.7px,#9fc0e1 473.7px 475.5px,#c8dbee 475.5px 477.2px,#3e82c4 477.2px 479.0px,#2370bb 479.0px 480.7px,#d17290 480.7px 482.5px,#83afd9 482.5px 484.2px,#d7849e 484.2px 486.0px,#2370bb 486.0px 487.7px,#d17290 487.7px 489.5px,#4c8bc8 489.5px 491.2px,#f1f6fb 491.2px 493.0px,#3e82c4 493.0px 494.7px,#2370bb 494.7px 496.5px,#e4edf6 496.5px 498.3px,#d6e4f2 498.3px 500.0px,#689dd0 500.0px 501.8px,#f1f6fb 501.8px 505.3px,#ffffff 505.3px 508.8px,#acc9e6 508.8px 510.5px,#f9edf1 510.5px 512.3px,#bad2ea 512.3px 514.0px,#d6e4f2 514.0px 515.8px,#9fc0e1 515.8px 517.5px,#acc9e6 517.5px 519.3px,#df9eb3 519.3px 521.0px,#f1d3dc 521.0px 522.8px,#ebc1ce 522.8px 524.5px,#ffffff 524.5px 526.3px,#f1d3dc 526.3px 528.1px,#bad2ea 528.1px 529.8px,#f4dce3 529.8px 531.6px,#f1f6fb 531.6px 533.3px,#da8ca5 533.3px 535.1px,#f6e5ea 535.1px 536.8px,#fcf6f8 536.8px 538.6px,#eecad5 538.6px 540.3px,#c8dbee 540.3px 542.1px,#ebc1ce 542.1px 543.8px,#91b8dd 543.8px 545.6px,#ffffff 545.6px 547.3px,#e5b0c1 547.3px 549.1px,#9fc0e1 549.1px 550.8px,#e5b0c1 550.8px 552.6px,#f1f6fb 552.6px 554.4px,#ffffff 554.4px 556.1px,#df9eb3 556.1px 557.9px,#f1f6fb 557.9px 559.6px,#d6e4f2 559.6px 561.4px,#f4dce3 561.4px 563.1px,#e4edf6 563.1px 564.9px,#e8b8c8 564.9px 566.6px,#f1f6fb 566.6px 568.4px,#9fc0e1 568.4px 570.1px,#ebc1ce 570.1px 571.9px,#4c8bc8 571.9px 573.6px,#f4dce3 573.6px 575.4px,#f1d3dc 575.4px 577.1px,#f1f6fb 577.1px 578.9px,#c8dbee 578.9px 580.6px,#fcf6f8 580.6px 582.4px,#ffffff 582.4px 585.9px,#f6e5ea 585.9px 587.7px,#e4edf6 587.7px 589.4px,#d6e4f2 589.4px 591.2px,#f1d3dc 591.2px 592.9px,#acc9e6 592.9px 594.7px,#f9edf1 594.7px 596.4px,#ebc1ce 596.4px 598.2px,#4c8bc8 598.2px 599.9px,#dc95ac 599.9px 601.7px,#d17290 601.7px 605.2px,#3179bf 605.2px 606.9px,#f1f6fb 606.9px 608.7px,#d7849e 608.7px 610.4px,#5a94cc 610.4px 612.2px,#f1f6fb 612.2px 614.0px,#ebc1ce 614.0px 615.7px,#2370bb 615.7px 619.2px,#e4edf6 619.2px 621.0px,#eecad5 621.0px 622.7px,#689dd0 622.7px 624.5px,#9fc0e1 624.5px 626.2px,#d17290 626.2px 628.0px,#2370bb 628.0px 629.7px,#acc9e6 629.7px 631.5px,#d17290 631.5px 635.0px,#689dd0 635.0px 636.7px,#acc9e6 636.7px 638.5px,#d17290 638.5px 640.2px,#3e82c4 640.2px 642.0px,#83afd9 642.0px 645.5px,#d17290 645.5px 647.3px,#3179bf 647.3px 649.0px,#f1f6fb 649.0px 650.8px,#ffffff 650.8px 652.5px,#d6e4f2 652.5px 654.3px,#3e82c4 654.3px 656.0px,#689dd0 656.0px 657.8px,#acc9e6 657.8px 659.5px,#d17290 659.5px 661.3px,#2370bb 661.3px 664.8px,#d17290 664.8px 666.5px,#9fc0e1 666.5px 668.3px,#f1f6fb 668.3px 670.1px,#2370bb 670.1px 671.8px,#76a6d4 671.8px 673.6px,#ebc1ce 673.6px 675.3px,#f6e5ea 675.3px 677.1px,#3179bf 677.1px 678.8px,#2370bb 678.8px 680.6px,#d17290 680.6px 682.3px,#2370bb 682.3px 685.8px,#689dd0 685.8px 687.6px,#2370bb 687.6px 689.3px,#3179bf 689.3px 691.1px,#fcf6f8 691.1px 692.8px,#d17290 692.8px 694.6px,#76a6d4 694.6px 696.3px,#dc95ac 696.3px 698.1px,#689dd0 698.1px 699.9px,#9fc0e1 699.9px 701.6px,#bad2ea 701.6px 703.4px,#91b8dd 703.4px 705.1px,#d6e4f2 705.1px 706.9px,#d7849e 706.9px 708.6px,#5a94cc 708.6px 710.4px,#ebc1ce 710.4px 712.1px,#c8dbee 712.1px 713.9px,#2370bb 713.9px 717.4px,#689dd0 717.4px 719.1px,#f4dce3 719.1px 720.9px,#9fc0e1 720.9px 722.6px,#2370bb 722.6px 726.1px,#d47b97 726.1px 727.9px,#ebc1ce 727.9px 729.7px,#3179bf 729.7px 731.4px,#2370bb 731.4px 733.2px,#d17290 733.2px 734.9px,#2370bb 734.9px 740.2px,#76a6d4 740.2px 741.9px,#d17290 741.9px 743.7px,#2370bb 743.7px 745.4px,#83afd9 745.4px 747.2px,#d7849e 747.2px 750.7px,#76a6d4 750.7px 752.4px,#2370bb 752.4px 754.2px,#d17290 754.2px 756.0px,#dc95ac 756.0px 757.7px,#d17290 757.7px 759.5px,#df9eb3 759.5px 761.2px,#e4edf6 761.2px 763.0px,#5a94cc 763.0px 764.7px,#d17290 764.7px 766.5px,#f4dce3 766.5px 768.2px,#4c8bc8 768.2px 770.0px,#ffffff 770.0px 771.7px,#dc95ac 771.7px 773.5px,#c8dbee 773.5px 775.2px,#d17290 775.2px 778.7px,#2370bb 778.7px 780.5px,#4c8bc8 780.5px 782.2px,#acc9e6 782.2px 784.0px,#f4dce3 784.0px 785.7px,#fcf6f8 785.7px 787.5px,#e4edf6 787.5px 789.2px,#fcf6f8 789.2px 791.0px,#ffffff 791.0px 792.7px,#f1f6fb 792.7px 794.5px,#f4dce3 794.5px 796.2px,#f1d3dc 796.2px 798.0px,#d6e4f2 798.0px 799.7px,#acc9e6 799.7px 801.5px,#d17290 801.5px 803.2px,#f9edf1 803.2px 805.0px,#d7849e 805.0px 806.7px,#f9edf1 806.7px 808.5px,#f4dce3 808.5px 810.2px,#f6e5ea 810.2px 811.9px,#f1f6fb 811.9px 813.7px,#d7849e 813.7px 815.4px,#91b8dd 815.4px 817.2px,#9fc0e1 817.2px 818.9px,#d6e4f2 818.9px 820.7px,#f1f6fb 820.7px 822.4px,#d6e4f2 822.4px 824.2px,#c8dbee 824.2px 825.9px,#fcf6f8 825.9px 827.7px,#c8dbee 827.7px 829.4px,#fcf6f8 829.4px 831.2px,#c8dbee 831.2px 832.9px,#fcf6f8 832.9px 834.7px,#ebc1ce 834.7px 836.4px,#e4edf6 836.4px 838.1px,#83afd9 838.1px 839.9px,#f4dce3 839.9px 843.4px,#e4edf6 843.4px 845.1px,#eecad5 845.1px 846.9px,#e4edf6 846.9px 848.6px,#da8ca5 848.6px 850.4px,#fcf6f8 850.4px 852.1px,#e8b8c8 852.1px 853.9px,#f6e5ea 853.9px 855.6px,#f4dce3 855.6px 857.4px,#91b8dd 857.4px 859.1px,#f1d3dc 859.1px 860.9px,#e4edf6 860.9px 862.6px,#f4dce3 862.6px 864.4px,#acc9e6 864.4px 867.8px,#d17290 867.8px 869.6px,#f9edf1 869.6px 873.1px,#eecad5 873.1px 874.8px,#e5b0c1 874.8px 876.6px,#fcf6f8 876.6px 880.1px,#c8dbee 880.1px 881.8px,#f1f6fb 881.8px 883.6px,#f9edf1 883.6px 885.3px,#f1f6fb 885.3px 887.1px,#76a6d4 887.1px 888.8px,#f4dce3 888.8px 890.6px,#e8b8c8 890.6px 892.3px,#f6e5ea 892.3px 895.8px,#ffffff 895.8px 897.5px,#f1f6fb 897.5px 899.3px,#f9edf1 899.3px 901.0px,#f1f6fb 901.0px 904.5px,#fcf6f8 904.5px 906.3px,#d7849e 906.3px 909.8px,#ffffff 909.8px 911.5px,#f9edf1 911.5px 913.3px,#e4edf6 913.3px 915.0px,#f9edf1 915.0px 916.8px,#bad2ea 916.8px 918.5px,#2370bb 918.5px 922.0px,#fcf6f8 922.0px 923.7px,#2370bb 923.7px 925.5px,#da8ca5 925.5px 927.2px,#83afd9 927.2px 929.0px,#3e82c4 929.0px 930.7px,#91b8dd 930.7px 932.5px,#2370bb 932.5px 934.2px,#c8dbee 934.2px 936.0px,#9fc0e1 936.0px 937.7px,#d6e4f2 937.7px 939.5px,#bad2ea 939.5px 941.2px,#689dd0 941.2px 943.0px,#2370bb 943.0px 944.7px,#689dd0 944.7px 946.4px,#2370bb 946.4px 948.2px,#91b8dd 948.2px 949.9px,#acc9e6 949.9px 951.7px,#d7849e 951.7px 953.4px,#2370bb 953.4px 955.2px,#3e82c4 955.2px 956.9px,#bad2ea 956.9px 958.7px,#fcf6f8 958.7px 960.4px,#3e82c4 960.4px 962.2px,#2370bb 962.2px 965.7px,#689dd0 965.7px 967.4px,#2370bb 967.4px 970.9px,#4c8bc8 970.9px 972.6px,#2370bb 972.6px 977.9px,#83afd9 977.9px 979.6px,#f1f6fb 979.6px 981.4px,#2370bb 981.4px 983.1px,#5a94cc 983.1px 984.9px,#d17290 984.9px 986.6px,#3179bf 986.6px 988.4px,#3e82c4 988.4px 990.1px,#2370bb 990.1px 993.6px,#91b8dd 993.6px 995.4px,#e2a7ba 995.4px 997.1px,#83afd9 997.1px 998.9px,#5a94cc 998.9px 1000.6px,#2370bb 1000.6px 1002.3px,#3179bf 1002.3px 1004.1px,#2370bb 1004.1px 1007.6px,#5a94cc 1007.6px 1009.3px,#2370bb 1009.3px 1014.6px,#f1d3dc 1014.6px 1016.3px,#83afd9 1016.3px 1018.1px,#d6e4f2 1018.1px 1019.8px,#9fc0e1 1019.8px 1021.6px,#3179bf 1021.6px 1023.3px,#91b8dd 1023.3px 1025.1px,#2370bb 1025.1px 1028.5px,#689dd0 1028.5px 1030.3px,#83afd9 1030.3px 1032.0px,#2370bb 1032.0px 1033.8px,#d17290 1033.8px 1035.5px,#d6e4f2 1035.5px 1039.0px,#2370bb 1039.0px 1044.3px,#d47b97 1044.3px 1046.0px,#91b8dd 1046.0px 1047.8px,#bad2ea 1047.8px 1049.5px,#2370bb 1049.5px 1053.0px)"></div><div class="r" style="top:754.16px;height:31.28px;background:linear-gradient(90deg,#d17290 0.0px 3.5px,#2370bb 3.5px 5.2px,#d17290 5.2px 12.2px,#da8ca5 12.2px 14.0px,#d6e4f2 14.0px 15.7px,#d17290 15.7px 19.2px,#c8dbee 19.2px 21.0px,#d17290 21.0px 24.5px,#ebc1ce 24.5px 26.2px,#2370bb 26.2px 29.7px,#f9edf1 29.7px 31.4px,#e8b8c8 31.4px 33.2px,#2370bb 33.2px 34.9px,#f9edf1 34.9px 36.7px,#da8ca5 36.7px 38.4px,#f1f6fb 38.4px 40.2px,#ebc1ce 40.2px 41.9px,#83afd9 41.9px 43.7px,#dc95ac 43.7px 45.4px,#d17290 45.4px 48.9px,#2370bb 48.9px 50.6px,#d17290 50.6px 55.9px,#ffffff 55.9px 57.6px,#df9eb3 57.6px 59.4px,#91b8dd 59.4px 61.1px,#d6e4f2 61.1px 62.9px,#d17290 62.9px 64.6px,#2370bb 64.6px 66.4px,#d17290 66.4px 69.9px,#e4edf6 69.9px 71.6px,#d17290 71.6px 73.4px,#c8dbee 73.4px 75.1px,#df9eb3 75.1px 76.8px,#e5b0c1 76.8px 78.6px,#2370bb 78.6px 83.8px,#d17290 83.8px 87.3px,#ebc1ce 87.3px 89.1px,#d17290 89.1px 90.8px,#df9eb3 90.8px 92.6px,#2370bb 92.6px 96.1px,#d17290 96.1px 97.8px,#f4dce3 97.8px 99.5px,#f9edf1 99.5px 101.3px,#d17290 101.3px 108.3px,#2370bb 108.3px 111.8px,#e5b0c1 111.8px 113.5px,#d17290 113.5px 115.3px,#d47b97 115.3px 117.0px,#2370bb 117.0px 118.8px,#d17290 118.8px 122.3px,#2370bb 122.3px 124.0px,#ebc1ce 124.0px 125.7px,#2370bb 125.7px 129.2px,#f1f6fb 129.2px 131.0px,#ebc1ce 131.0px 132.7px,#d17290 132.7px 134.5px,#2370bb 134.5px 136.2px,#d17290 136.2px 138.0px,#76a6d4 138.0px 139.7px,#5a94cc 139.7px 141.5px,#d17290 141.5px 145.0px,#eecad5 145.0px 146.7px,#d17290 146.7px 150.2px,#2370bb 150.2px 151.9px,#4c8bc8 151.9px 153.7px,#d17290 153.7px 155.4px,#fcf6f8 155.4px 157.2px,#dc95ac 157.2px 158.9px,#2370bb 158.9px 160.7px,#d17290 160.7px 162.4px,#5a94cc 162.4px 164.2px,#d17290 164.2px 167.7px,#bad2ea 167.7px 169.4px,#d17290 169.4px 171.2px,#4c8bc8 171.2px 172.9px,#2370bb 172.9px 174.6px,#d17290 174.6px 176.4px,#2370bb 176.4px 179.9px,#d17290 179.9px 181.6px,#83afd9 181.6px 183.4px,#d17290 183.4px 188.6px,#83afd9 188.6px 190.4px,#2370bb 190.4px 192.1px,#91b8dd 192.1px 193.9px,#d17290 193.9px 195.6px,#e8b8c8 195.6px 197.3px,#df9eb3 197.3px 199.1px,#e2a7ba 199.1px 200.8px,#2370bb 200.8px 202.6px,#d17290 202.6px 206.1px,#2370bb 206.1px 207.8px,#bad2ea 207.8px 209.6px,#d17290 209.6px 213.1px,#d47b97 213.1px 214.8px,#ebc1ce 214.8px 216.6px,#d17290 216.6px 220.1px,#2370bb 220.1px 221.8px,#d17290 221.8px 223.5px,#2370bb 223.5px 225.3px,#3e82c4 225.3px 227.0px,#2370bb 227.0px 228.8px,#d17290 228.8px 230.5px,#bad2ea 230.5px 232.3px,#2370bb 232.3px 234.0px,#e5b0c1 234.0px 235.8px,#2370bb 235.8px 237.5px,#e2a7ba 237.5px 239.3px,#689dd0 239.3px 241.0px,#d17290 241.0px 242.8px,#d6e4f2 242.8px 244.5px,#2370bb 244.5px 246.2px,#d7849e 246.2px 248.0px,#f1f6fb 248.0px 249.7px,#f4dce3 249.7px 251.5px,#d17290 251.5px 255.0px,#f6e5ea 255.0px 256.7px,#d17290 256.7px 258.5px,#2370bb 258.5px 260.2px,#d17290 260.2px 262.0px,#f1d3dc 262.0px 263.7px,#d17290 263.7px 265.5px,#2370bb 265.5px 267.2px,#d17290 267.2px 269.0px,#2370bb 269.0px 270.7px,#5a94cc 270.7px 272.5px,#d17290 272.5px 274.2px,#2370bb 274.2px 276.0px,#fcf6f8 276.0px 277.7px,#3e82c4 277.7px 279.5px,#d17290 279.5px 281.2px,#2370bb 281.2px 283.0px,#83afd9 283.0px 284.7px,#2370bb 284.7px 288.2px,#3179bf 288.2px 290.0px,#d6e4f2 290.0px 291.7px,#d17290 291.7px 293.5px,#f1d3dc 293.5px 295.2px,#5a94cc 295.2px 297.0px,#d17290 297.0px 298.7px,#eecad5 298.7px 300.5px,#d17290 300.5px 302.2px,#d6e4f2 302.2px 304.0px,#3e82c4 304.0px 305.7px,#2370bb 305.7px 311.0px,#dc95ac 311.0px 312.7px,#f4dce3 312.7px 314.5px,#2370bb 314.5px 318.0px,#d17290 318.0px 319.7px,#76a6d4 319.7px 321.5px,#f4dce3 321.5px 323.2px,#d17290 323.2px 326.7px,#ebc1ce 326.7px 328.5px,#76a6d4 328.5px 330.2px,#d6e4f2 330.2px 332.0px,#d17290 332.0px 333.7px,#d6e4f2 333.7px 335.5px,#d17290 335.5px 337.2px,#fcf6f8 337.2px 339.0px,#d17290 339.0px 340.7px,#2370bb 340.7px 342.5px,#d17290 342.5px 344.2px,#2370bb 344.2px 346.0px,#d17290 346.0px 353.0px,#f9edf1 353.0px 354.7px,#2370bb 354.7px 356.5px,#d17290 356.5px 358.2px,#3e82c4 358.2px 360.0px,#2370bb 360.0px 361.7px,#df9eb3 361.7px 363.5px,#2370bb 363.5px 365.2px,#d17290 365.2px 368.7px,#2370bb 368.7px 372.2px,#d7849e 372.2px 374.0px,#d17290 374.0px 377.5px,#2370bb 377.5px 381.0px,#f4dce3 381.0px 382.7px,#d17290 382.7px 386.2px,#9fc0e1 386.2px 388.0px,#d17290 388.0px 395.0px,#e4edf6 395.0px 396.7px,#d17290 396.7px 398.5px,#2370bb 398.5px 402.0px,#d17290 402.0px 407.2px,#d7849e 407.2px 409.0px,#df9eb3 409.0px 410.7px,#d17290 410.7px 421.2px,#eecad5 421.2px 423.0px,#d17290 423.0px 424.7px,#5a94cc 424.7px 426.5px,#e5b0c1 426.5px 428.2px,#2370bb 428.2px 431.7px,#3e82c4 431.7px 433.5px,#d6e4f2 433.5px 435.2px,#2370bb 435.2px 440.5px,#5a94cc 440.5px 442.2px,#d17290 442.2px 444.0px,#2370bb 444.0px 445.7px,#d17290 445.7px 447.5px,#2370bb 447.5px 449.2px,#ffffff 449.2px 451.0px,#d6e4f2 451.0px 452.7px,#f1f6fb 452.7px 454.5px,#f6e5ea 454.5px 456.2px,#f1f6fb 456.2px 458.0px,#da8ca5 458.0px 459.7px,#d6e4f2 459.7px 461.5px,#d17290 461.5px 466.7px,#bad2ea 466.7px 468.5px,#2370bb 468.5px 470.2px,#c8dbee 470.2px 472.0px,#d17290 472.0px 473.7px,#d7849e 473.7px 475.5px,#dc95ac 475.5px 477.2px,#d17290 477.2px 479.0px,#e5b0c1 479.0px 480.7px,#d17290 480.7px 482.5px,#9fc0e1 482.5px 484.2px,#fcf6f8 484.2px 486.0px,#2370bb 486.0px 487.7px,#e5b0c1 487.7px 489.5px,#d6e4f2 489.5px 491.2px,#2370bb 491.2px 493.0px,#ebc1ce 493.0px 494.7px,#d17290 494.7px 500.0px,#c8dbee 500.0px 501.8px,#e5b0c1 501.8px 503.5px,#d17290 503.5px 505.3px,#2370bb 505.3px 508.8px,#689dd0 508.8px 510.5px,#2370bb 510.5px 512.3px,#d17290 512.3px 515.8px,#2370bb 515.8px 517.5px,#d17290 517.5px 519.3px,#eecad5 519.3px 521.0px,#d17290 521.0px 522.8px,#2370bb 522.8px 524.5px,#ebc1ce 524.5px 526.3px,#c8dbee 526.3px 528.1px,#bad2ea 528.1px 529.8px,#2370bb 529.8px 531.6px,#689dd0 531.6px 533.3px,#2370bb 533.3px 535.1px,#dc95ac 535.1px 536.8px,#2370bb 536.8px 540.3px,#df9eb3 540.3px 542.1px,#d47b97 542.1px 543.8px,#2370bb 543.8px 545.6px,#d7849e 545.6px 547.3px,#ffffff 547.3px 549.1px,#c8dbee 549.1px 550.8px,#2370bb 550.8px 552.6px,#91b8dd 552.6px 554.4px,#2370bb 554.4px 559.6px,#f1d3dc 559.6px 561.4px,#3e82c4 561.4px 563.1px,#2370bb 563.1px 566.6px,#e8b8c8 566.6px 568.4px,#2370bb 568.4px 573.6px,#d17290 573.6px 575.4px,#d47b97 575.4px 577.1px,#f9edf1 577.1px 578.9px,#2370bb 578.9px 585.9px,#ffffff 585.9px 587.7px,#4c8bc8 587.7px 589.4px,#2370bb 589.4px 591.2px,#d17290 591.2px 594.7px,#ffffff 594.7px 596.4px,#d17290 596.4px 598.2px,#2370bb 598.2px 603.4px,#83afd9 603.4px 605.2px,#f1f6fb 605.2px 606.9px,#5a94cc 606.9px 608.7px,#c8dbee 608.7px 610.4px,#d17290 610.4px 612.2px,#e2a7ba 612.2px 614.0px,#ffffff 614.0px 615.7px,#2370bb 615.7px 617.5px,#83afd9 617.5px 619.2px,#3179bf 619.2px 621.0px,#2370bb 621.0px 624.5px,#e4edf6 624.5px 626.2px,#2370bb 626.2px 628.0px,#d17290 628.0px 629.7px,#2370bb 629.7px 642.0px,#bad2ea 642.0px 643.8px,#2370bb 643.8px 649.0px,#d17290 649.0px 650.8px,#d6e4f2 650.8px 652.5px,#2370bb 652.5px 654.3px,#d17290 654.3px 656.0px,#d6e4f2 656.0px 657.8px,#2370bb 657.8px 666.5px,#d17290 666.5px 668.3px,#2370bb 668.3px 670.1px,#d17290 670.1px 671.8px,#2370bb 671.8px 675.3px,#4c8bc8 675.3px 677.1px,#da8ca5 677.1px 678.8px,#2370bb 678.8px 680.6px,#d17290 680.6px 682.3px,#2370bb 682.3px 687.6px,#5a94cc 687.6px 689.3px,#df9eb3 689.3px 691.1px,#2370bb 691.1px 692.8px,#d17290 692.8px 694.6px,#eecad5 694.6px 696.3px,#4c8bc8 696.3px 698.1px,#2370bb 698.1px 701.6px,#f6e5ea 701.6px 703.4px,#2370bb 703.4px 705.1px,#d17290 705.1px 706.9px,#2370bb 706.9px 713.9px,#d17290 713.9px 715.6px,#df9eb3 715.6px 717.4px,#2370bb 717.4px 722.6px,#d17290 722.6px 724.4px,#2370bb 724.4px 727.9px,#da8ca5 727.9px 729.7px,#c8dbee 729.7px 731.4px,#2370bb 731.4px 734.9px,#d17290 734.9px 736.7px,#2370bb 736.7px 740.2px,#c8dbee 740.2px 741.9px,#d17290 741.9px 743.7px,#2370bb 743.7px 745.4px,#5a94cc 745.4px 747.2px,#d7849e 747.2px 748.9px,#2370bb 748.9px 750.7px,#d7849e 750.7px 752.4px,#f6e5ea 752.4px 754.2px,#d17290 754.2px 756.0px,#2370bb 756.0px 759.5px,#91b8dd 759.5px 761.2px,#2370bb 761.2px 763.0px,#bad2ea 763.0px 764.7px,#d47b97 764.7px 766.5px,#2370bb 766.5px 770.0px,#d6e4f2 770.0px 771.7px,#2370bb 771.7px 775.2px,#ffffff 775.2px 777.0px,#2370bb 777.0px 778.7px,#d17290 778.7px 780.5px,#2370bb 780.5px 785.7px,#9fc0e1 785.7px 787.5px,#2370bb 787.5px 789.2px,#c8dbee 789.2px 791.0px,#f6e5ea 791.0px 792.7px,#d17290 792.7px 794.5px,#2370bb 794.5px 796.2px,#ebc1ce 796.2px 798.0px,#2370bb 798.0px 799.7px,#689dd0 799.7px 801.5px,#2370bb 801.5px 805.0px,#f9edf1 805.0px 806.7px,#2370bb 806.7px 808.5px,#d6e4f2 808.5px 810.2px,#2370bb 810.2px 811.9px,#76a6d4 811.9px 813.7px,#e8b8c8 813.7px 815.4px,#d17290 815.4px 817.2px,#e2a7ba 817.2px 818.9px,#acc9e6 818.9px 820.7px,#d17290 820.7px 822.4px,#2370bb 822.4px 824.2px,#acc9e6 824.2px 825.9px,#2370bb 825.9px 834.7px,#3e82c4 834.7px 836.4px,#f4dce3 836.4px 838.1px,#acc9e6 838.1px 839.9px,#e5b0c1 839.9px 841.6px,#e2a7ba 841.6px 843.4px,#2370bb 843.4px 846.9px,#d47b97 846.9px 848.6px,#2370bb 848.6px 857.4px,#c8dbee 857.4px 859.1px,#d17290 859.1px 860.9px,#91b8dd 860.9px 862.6px,#d17290 862.6px 864.4px,#2370bb 864.4px 866.1px,#f9edf1 866.1px 867.8px,#2370bb 867.8px 871.3px,#e4edf6 871.3px 873.1px,#76a6d4 873.1px 874.8px,#f6e5ea 874.8px 876.6px,#3e82c4 876.6px 878.3px,#2370bb 878.3px 883.6px,#f4dce3 883.6px 885.3px,#2370bb 885.3px 894.0px,#3e82c4 894.0px 895.8px,#f1f6fb 895.8px 897.5px,#da8ca5 897.5px 899.3px,#2370bb 899.3px 904.5px,#4c8bc8 904.5px 906.3px,#2370bb 906.3px 908.0px,#76a6d4 908.0px 909.8px,#5a94cc 909.8px 911.5px,#2370bb 911.5px 913.3px,#3e82c4 913.3px 915.0px,#2370bb 915.0px 918.5px,#f1f6fb 918.5px 920.2px,#2370bb 920.2px 922.0px,#689dd0 922.0px 923.7px,#bad2ea 923.7px 925.5px,#dc95ac 925.5px 927.2px,#d17290 927.2px 929.0px,#d7849e 929.0px 930.7px,#f1d3dc 930.7px 932.5px,#3e82c4 932.5px 934.2px,#acc9e6 934.2px 936.0px,#2370bb 936.0px 943.0px,#df9eb3 943.0px 944.7px,#2370bb 944.7px 946.4px,#f1f6fb 946.4px 948.2px,#2370bb 948.2px 951.7px,#91b8dd 951.7px 953.4px,#2370bb 953.4px 955.2px,#76a6d4 955.2px 956.9px,#2370bb 956.9px 963.9px,#5a94cc 963.9px 965.7px,#2370bb 965.7px 970.9px,#d17290 970.9px 972.6px,#2370bb 972.6px 974.4px,#e2a7ba 974.4px 976.1px,#2370bb 976.1px 977.9px,#acc9e6 977.9px 979.6px,#2370bb 979.6px 981.4px,#ffffff 981.4px 983.1px,#2370bb 983.1px 984.9px,#d17290 984.9px 986.6px,#2370bb 986.6px 997.1px,#e5b0c1 997.1px 998.9px,#2370bb 998.9px 1000.6px,#d17290 1000.6px 1002.3px,#bad2ea 1002.3px 1004.1px,#d17290 1004.1px 1005.8px,#c8dbee 1005.8px 1007.6px,#689dd0 1007.6px 1009.3px,#5a94cc 1009.3px 1011.1px,#d17290 1011.1px 1016.3px,#2370bb 1016.3px 1021.6px,#91b8dd 1021.6px 1023.3px,#2370bb 1023.3px 1026.8px,#f1d3dc 1026.8px 1028.5px,#2370bb 1028.5px 1037.3px,#ffffff 1037.3px 1039.0px,#2370bb 1039.0px 1042.5px,#689dd0 1042.5px 1044.3px,#2370bb 1044.3px 1049.5px,#3e82c4 1049.5px 1051.3px,#2370bb 1051.3px 1053.0px)"></div><div class="r" style="top:785.44px;height:31.28px;background:linear-gradient(90deg,#2370bb 0.0px 1.7px,#d17290 1.7px 3.5px,#2370bb 3.5px 5.2px,#d17290 5.2px 8.7px,#5a94cc 8.7px 10.5px,#d17290 10.5px 14.0px,#f9edf1 14.0px 15.7px,#d17290 15.7px 26.2px,#2370bb 26.2px 29.7px,#d17290 29.7px 34.9px,#2370bb 34.9px 36.7px,#d7849e 36.7px 38.4px,#2370bb 38.4px 40.2px,#d17290 40.2px 41.9px,#2370bb 41.9px 43.7px,#d17290 43.7px 48.9px,#2370bb 48.9px 52.4px,#d17290 52.4px 61.1px,#3e82c4 61.1px 62.9px,#d17290 62.9px 64.6px,#f1d3dc 64.6px 68.1px,#df9eb3 68.1px 69.9px,#d17290 69.9px 73.4px,#eecad5 73.4px 75.1px,#d17290 75.1px 78.6px,#76a6d4 78.6px 80.3px,#2370bb 80.3px 82.1px,#d17290 82.1px 89.1px,#df9eb3 89.1px 90.8px,#d17290 90.8px 92.6px,#2370bb 92.6px 94.3px,#4c8bc8 94.3px 96.1px,#d17290 96.1px 99.5px,#2370bb 99.5px 101.3px,#d17290 101.3px 103.0px,#76a6d4 103.0px 104.8px,#2370bb 104.8px 106.5px,#d17290 106.5px 108.3px,#3179bf 108.3px 110.0px,#f1f6fb 110.0px 111.8px,#d17290 111.8px 113.5px,#9fc0e1 113.5px 115.3px,#d17290 115.3px 117.0px,#2370bb 117.0px 118.8px,#d17290 118.8px 124.0px,#c8dbee 124.0px 125.7px,#d17290 125.7px 127.5px,#2370bb 127.5px 129.2px,#d17290 129.2px 132.7px,#f9edf1 132.7px 134.5px,#bad2ea 134.5px 136.2px,#d17290 136.2px 139.7px,#2370bb 139.7px 141.5px,#d17290 141.5px 145.0px,#2370bb 145.0px 150.2px,#d17290 150.2px 155.4px,#2370bb 155.4px 160.7px,#d17290 160.7px 164.2px,#f1f6fb 164.2px 165.9px,#d17290 165.9px 178.1px,#d6e4f2 178.1px 179.9px,#d17290 179.9px 183.4px,#ffffff 183.4px 185.1px,#d17290 185.1px 190.4px,#fcf6f8 190.4px 192.1px,#2370bb 192.1px 193.9px,#d17290 193.9px 195.6px,#2370bb 195.6px 199.1px,#d17290 199.1px 206.1px,#3e82c4 206.1px 207.8px,#2370bb 207.8px 209.6px,#d17290 209.6px 220.1px,#689dd0 220.1px 221.8px,#d17290 221.8px 225.3px,#2370bb 225.3px 227.0px,#d17290 227.0px 232.3px,#2370bb 232.3px 234.0px,#d17290 234.0px 235.8px,#76a6d4 235.8px 237.5px,#689dd0 237.5px 239.3px,#d17290 239.3px 248.0px,#689dd0 248.0px 249.7px,#83afd9 249.7px 251.5px,#d17290 251.5px 255.0px,#2370bb 255.0px 258.5px,#d17290 258.5px 270.7px,#2370bb 270.7px 272.5px,#d17290 272.5px 274.2px,#2370bb 274.2px 277.7px,#d17290 277.7px 279.5px,#5a94cc 279.5px 281.2px,#d17290 281.2px 283.0px,#2370bb 283.0px 286.5px,#d17290 286.5px 290.0px,#2370bb 290.0px 291.7px,#83afd9 291.7px 293.5px,#2370bb 293.5px 295.2px,#fcf6f8 295.2px 297.0px,#d17290 297.0px 302.2px,#dc95ac 302.2px 304.0px,#2370bb 304.0px 307.5px,#d17290 307.5px 311.0px,#2370bb 311.0px 312.7px,#91b8dd 312.7px 314.5px,#2370bb 314.5px 318.0px,#d17290 318.0px 321.5px,#2370bb 321.5px 323.2px,#d17290 323.2px 326.7px,#2370bb 326.7px 330.2px,#3179bf 330.2px 332.0px,#d17290 332.0px 333.7px,#9fc0e1 333.7px 335.5px,#2370bb 335.5px 337.2px,#9fc0e1 337.2px 339.0px,#3e82c4 339.0px 340.7px,#2370bb 340.7px 342.5px,#d17290 342.5px 344.2px,#2370bb 344.2px 346.0px,#d17290 346.0px 349.5px,#f9edf1 349.5px 351.2px,#d17290 351.2px 353.0px,#2370bb 353.0px 356.5px,#3e82c4 356.5px 358.2px,#e8b8c8 358.2px 360.0px,#5a94cc 360.0px 361.7px,#2370bb 361.7px 365.2px,#d17290 365.2px 370.5px,#2370bb 370.5px 372.2px,#d17290 372.2px 374.0px,#2370bb 374.0px 375.7px,#d17290 375.7px 377.5px,#2370bb 377.5px 382.7px,#d17290 382.7px 384.5px,#2370bb 384.5px 388.0px,#d17290 388.0px 389.7px,#d47b97 389.7px 391.5px,#c8dbee 391.5px 393.2px,#2370bb 393.2px 395.0px,#d17290 395.0px 396.7px,#bad2ea 396.7px 398.5px,#2370bb 398.5px 402.0px,#d7849e 402.0px 403.7px,#f1f6fb 403.7px 405.5px,#2370bb 405.5px 407.2px,#d17290 407.2px 409.0px,#e5b0c1 409.0px 410.7px,#d17290 410.7px 419.5px,#2370bb 419.5px 421.2px,#d17290 421.2px 424.7px,#ebc1ce 424.7px 426.5px,#2370bb 426.5px 428.2px,#df9eb3 428.2px 430.0px,#2370bb 430.0px 431.7px,#d17290 431.7px 433.5px,#ebc1ce 433.5px 435.2px,#2370bb 435.2px 438.7px,#83afd9 438.7px 440.5px,#d17290 440.5px 442.2px,#c8dbee 442.2px 444.0px,#2370bb 444.0px 445.7px,#d17290 445.7px 447.5px,#2370bb 447.5px 449.2px,#d17290 449.2px 452.7px,#d6e4f2 452.7px 454.5px,#d17290 454.5px 456.2px,#2370bb 456.2px 461.5px,#d17290 461.5px 463.2px,#2370bb 463.2px 465.0px,#d17290 465.0px 466.7px,#2370bb 466.7px 468.5px,#d17290 468.5px 470.2px,#eecad5 470.2px 472.0px,#d17290 472.0px 473.7px,#2370bb 473.7px 475.5px,#da8ca5 475.5px 477.2px,#2370bb 477.2px 479.0px,#d17290 479.0px 486.0px,#2370bb 486.0px 487.7px,#d17290 487.7px 489.5px,#2370bb 489.5px 491.2px,#e8b8c8 491.2px 493.0px,#2370bb 493.0px 500.0px,#d47b97 500.0px 501.8px,#d17290 501.8px 505.3px,#2370bb 505.3px 512.3px,#c8dbee 512.3px 514.0px,#d6e4f2 514.0px 515.8px,#2370bb 515.8px 517.5px,#d17290 517.5px 521.0px,#da8ca5 521.0px 522.8px,#9fc0e1 522.8px 524.5px,#d17290 524.5px 528.1px,#2370bb 528.1px 529.8px,#d17290 529.8px 531.6px,#2370bb 531.6px 538.6px,#d17290 538.6px 540.3px,#2370bb 540.3px 542.1px,#d17290 542.1px 547.3px,#689dd0 547.3px 549.1px,#2370bb 549.1px 550.8px,#f6e5ea 550.8px 552.6px,#9fc0e1 552.6px 554.4px,#2370bb 554.4px 563.1px,#fcf6f8 563.1px 564.9px,#2370bb 564.9px 568.4px,#d17290 568.4px 570.1px,#2370bb 570.1px 573.6px,#f1f6fb 573.6px 575.4px,#5a94cc 575.4px 577.1px,#d17290 577.1px 578.9px,#2370bb 578.9px 589.4px,#d17290 589.4px 591.2px,#bad2ea 591.2px 592.9px,#2370bb 592.9px 596.4px,#d17290 596.4px 598.2px,#2370bb 598.2px 603.4px,#689dd0 603.4px 605.2px,#2370bb 605.2px 608.7px,#d17290 608.7px 612.2px,#2370bb 612.2px 617.5px,#f1f6fb 617.5px 619.2px,#ffffff 619.2px 621.0px,#f1f6fb 621.0px 622.7px,#2370bb 622.7px 642.0px,#d17290 642.0px 643.8px,#2370bb 643.8px 647.3px,#d17290 647.3px 649.0px,#2370bb 649.0px 650.8px,#d17290 650.8px 652.5px,#2370bb 652.5px 657.8px,#d17290 657.8px 659.5px,#d7849e 659.5px 661.3px,#2370bb 661.3px 664.8px,#76a6d4 664.8px 666.5px,#d17290 666.5px 668.3px,#2370bb 668.3px 670.1px,#d17290 670.1px 671.8px,#2370bb 671.8px 687.6px,#d17290 687.6px 691.1px,#2370bb 691.1px 692.8px,#d17290 692.8px 694.6px,#2370bb 694.6px 701.6px,#d17290 701.6px 703.4px,#f9edf1 703.4px 705.1px,#2370bb 705.1px 706.9px,#e4edf6 706.9px 708.6px,#2370bb 708.6px 713.9px,#d17290 713.9px 717.4px,#2370bb 717.4px 722.6px,#d17290 722.6px 724.4px,#2370bb 724.4px 727.9px,#f4dce3 727.9px 729.7px,#e5b0c1 729.7px 731.4px,#fcf6f8 731.4px 733.2px,#2370bb 733.2px 734.9px,#d17290 734.9px 736.7px,#2370bb 736.7px 740.2px,#d17290 740.2px 743.7px,#2370bb 743.7px 747.2px,#d17290 747.2px 748.9px,#2370bb 748.9px 750.7px,#d17290 750.7px 754.2px,#f9edf1 754.2px 756.0px,#2370bb 756.0px 761.2px,#76a6d4 761.2px 763.0px,#5a94cc 763.0px 764.7px,#2370bb 764.7px 768.2px,#f9edf1 768.2px 770.0px,#2370bb 770.0px 771.7px,#f1d3dc 771.7px 773.5px,#f9edf1 773.5px 775.2px,#2370bb 775.2px 777.0px,#d17290 777.0px 778.7px,#2370bb 778.7px 780.5px,#d17290 780.5px 782.2px,#2370bb 782.2px 796.2px,#9fc0e1 796.2px 798.0px,#2370bb 798.0px 805.0px,#f4dce3 805.0px 806.7px,#2370bb 806.7px 808.5px,#d17290 808.5px 810.2px,#2370bb 810.2px 818.9px,#ffffff 818.9px 820.7px,#d17290 820.7px 822.4px,#2370bb 822.4px 824.2px,#5a94cc 824.2px 825.9px,#2370bb 825.9px 831.2px,#f1f6fb 831.2px 832.9px,#2370bb 832.9px 841.6px,#e4edf6 841.6px 843.4px,#2370bb 843.4px 859.1px,#3179bf 859.1px 860.9px,#2370bb 860.9px 888.8px,#d47b97 888.8px 890.6px,#2370bb 890.6px 904.5px,#bad2ea 904.5px 906.3px,#d17290 906.3px 908.0px,#2370bb 908.0px 929.0px,#d17290 929.0px 930.7px,#2370bb 930.7px 934.2px,#acc9e6 934.2px 936.0px,#2370bb 936.0px 948.2px,#d17290 948.2px 949.9px,#2370bb 949.9px 958.7px,#e8b8c8 958.7px 960.4px,#2370bb 960.4px 970.9px,#d47b97 970.9px 972.6px,#2370bb 972.6px 983.1px,#d17290 983.1px 984.9px,#2370bb 984.9px 1004.1px,#d17290 1004.1px 1005.8px,#2370bb 1005.8px 1012.8px,#ebc1ce 1012.8px 1014.6px,#2370bb 1014.6px 1053.0px)"></div><div class="r" style="top:816.72px;height:31.28px;background:linear-gradient(90deg,#d17290 0.0px 1.7px,#2370bb 1.7px 3.5px,#e8b8c8 3.5px 5.2px,#d17290 5.2px 8.7px,#2370bb 8.7px 10.5px,#d17290 10.5px 17.5px,#f4dce3 17.5px 19.2px,#df9eb3 19.2px 21.0px,#d17290 21.0px 26.2px,#bad2ea 26.2px 27.9px,#2370bb 27.9px 29.7px,#d17290 29.7px 33.2px,#e4edf6 33.2px 34.9px,#2370bb 34.9px 36.7px,#d17290 36.7px 40.2px,#2370bb 40.2px 43.7px,#d17290 43.7px 45.4px,#2370bb 45.4px 47.2px,#d17290 47.2px 48.9px,#2370bb 48.9px 52.4px,#76a6d4 52.4px 54.1px,#d17290 54.1px 55.9px,#f1f6fb 55.9px 57.6px,#d17290 57.6px 61.1px,#83afd9 61.1px 62.9px,#d17290 62.9px 64.6px,#ffffff 64.6px 66.4px,#f4dce3 66.4px 68.1px,#2370bb 68.1px 69.9px,#d17290 69.9px 78.6px,#2370bb 78.6px 83.8px,#d17290 83.8px 87.3px,#2370bb 87.3px 89.1px,#d17290 89.1px 90.8px,#d7849e 90.8px 92.6px,#689dd0 92.6px 94.3px,#e5b0c1 94.3px 96.1px,#ffffff 96.1px 97.8px,#3179bf 97.8px 99.5px,#f6e5ea 99.5px 101.3px,#d17290 101.3px 103.0px,#2370bb 103.0px 104.8px,#d17290 104.8px 106.5px,#bad2ea 106.5px 108.3px,#d17290 108.3px 110.0px,#2370bb 110.0px 111.8px,#d17290 111.8px 113.5px,#83afd9 113.5px 115.3px,#d17290 115.3px 117.0px,#df9eb3 117.0px 118.8px,#d17290 118.8px 122.3px,#e2a7ba 122.3px 124.0px,#d47b97 124.0px 125.7px,#d17290 125.7px 127.5px,#2370bb 127.5px 132.7px,#d17290 132.7px 134.5px,#2370bb 134.5px 136.2px,#d17290 136.2px 138.0px,#f1f6fb 138.0px 139.7px,#2370bb 139.7px 141.5px,#d17290 141.5px 148.4px,#d7849e 148.4px 150.2px,#2370bb 150.2px 153.7px,#d17290 153.7px 155.4px,#2370bb 155.4px 157.2px,#3e82c4 157.2px 158.9px,#d17290 158.9px 164.2px,#f4dce3 164.2px 165.9px,#d17290 165.9px 167.7px,#76a6d4 167.7px 169.4px,#d17290 169.4px 171.2px,#9fc0e1 171.2px 172.9px,#d17290 172.9px 176.4px,#2370bb 176.4px 179.9px,#d17290 179.9px 181.6px,#da8ca5 181.6px 183.4px,#d17290 183.4px 186.9px,#2370bb 186.9px 188.6px,#f6e5ea 188.6px 190.4px,#df9eb3 190.4px 192.1px,#2370bb 192.1px 193.9px,#d17290 193.9px 195.6px,#2370bb 195.6px 199.1px,#d17290 199.1px 206.1px,#3e82c4 206.1px 207.8px,#9fc0e1 207.8px 209.6px,#d17290 209.6px 214.8px,#2370bb 214.8px 216.6px,#d17290 216.6px 220.1px,#2370bb 220.1px 221.8px,#d17290 221.8px 225.3px,#2370bb 225.3px 227.0px,#d47b97 227.0px 228.8px,#d17290 228.8px 234.0px,#91b8dd 234.0px 235.8px,#eecad5 235.8px 237.5px,#e2a7ba 237.5px 239.3px,#2370bb 239.3px 241.0px,#4c8bc8 241.0px 242.8px,#d17290 242.8px 244.5px,#2370bb 244.5px 246.2px,#91b8dd 246.2px 248.0px,#f6e5ea 248.0px 249.7px,#2370bb 249.7px 251.5px,#d17290 251.5px 253.2px,#e5b0c1 253.2px 255.0px,#2370bb 255.0px 256.7px,#d17290 256.7px 258.5px,#acc9e6 258.5px 260.2px,#d17290 260.2px 262.0px,#2370bb 262.0px 267.2px,#f6e5ea 267.2px 269.0px,#d17290 269.0px 270.7px,#2370bb 270.7px 272.5px,#d17290 272.5px 274.2px,#2370bb 274.2px 277.7px,#d17290 277.7px 279.5px,#ebc1ce 279.5px 281.2px,#d17290 281.2px 283.0px,#2370bb 283.0px 286.5px,#76a6d4 286.5px 288.2px,#da8ca5 288.2px 290.0px,#2370bb 290.0px 291.7px,#da8ca5 291.7px 293.5px,#2370bb 293.5px 297.0px,#d17290 297.0px 298.7px,#2370bb 298.7px 300.5px,#d17290 300.5px 302.2px,#bad2ea 302.2px 304.0px,#2370bb 304.0px 312.7px,#e4edf6 312.7px 314.5px,#2370bb 314.5px 318.0px,#d17290 318.0px 319.7px,#2370bb 319.7px 325.0px,#d17290 325.0px 326.7px,#2370bb 326.7px 330.2px,#76a6d4 330.2px 332.0px,#d17290 332.0px 333.7px,#e4edf6 333.7px 335.5px,#2370bb 335.5px 337.2px,#df9eb3 337.2px 339.0px,#d17290 339.0px 340.7px,#2370bb 340.7px 342.5px,#d17290 342.5px 344.2px,#2370bb 344.2px 346.0px,#d17290 346.0px 351.2px,#bad2ea 351.2px 353.0px,#d17290 353.0px 354.7px,#2370bb 354.7px 356.5px,#d17290 356.5px 360.0px,#83afd9 360.0px 361.7px,#2370bb 361.7px 365.2px,#d17290 365.2px 367.0px,#2370bb 367.0px 368.7px,#76a6d4 368.7px 370.5px,#2370bb 370.5px 372.2px,#83afd9 372.2px 374.0px,#d17290 374.0px 377.5px,#2370bb 377.5px 382.7px,#d17290 382.7px 386.2px,#2370bb 386.2px 388.0px,#d17290 388.0px 391.5px,#2370bb 391.5px 402.0px,#ffffff 402.0px 403.7px,#d17290 403.7px 412.5px,#ebc1ce 412.5px 414.2px,#d17290 414.2px 419.5px,#2370bb 419.5px 421.2px,#d17290 421.2px 424.7px,#ebc1ce 424.7px 426.5px,#d17290 426.5px 428.2px,#2370bb 428.2px 430.0px,#d17290 430.0px 431.7px,#2370bb 431.7px 433.5px,#d17290 433.5px 435.2px,#2370bb 435.2px 437.0px,#f6e5ea 437.0px 438.7px,#2370bb 438.7px 442.2px,#f1f6fb 442.2px 444.0px,#2370bb 444.0px 449.2px,#ebc1ce 449.2px 451.0px,#d17290 451.0px 454.5px,#2370bb 454.5px 456.2px,#d17290 456.2px 458.0px,#2370bb 458.0px 459.7px,#9fc0e1 459.7px 461.5px,#d17290 461.5px 463.2px,#f1d3dc 463.2px 465.0px,#d17290 465.0px 466.7px,#76a6d4 466.7px 468.5px,#d17290 468.5px 470.2px,#d6e4f2 470.2px 472.0px,#d17290 472.0px 475.5px,#2370bb 475.5px 479.0px,#d17290 479.0px 480.7px,#f1d3dc 480.7px 482.5px,#2370bb 482.5px 484.2px,#d17290 484.2px 486.0px,#5a94cc 486.0px 487.7px,#2370bb 487.7px 491.2px,#f9edf1 491.2px 493.0px,#2370bb 493.0px 498.3px,#d17290 498.3px 501.8px,#2370bb 501.8px 510.5px,#5a94cc 510.5px 512.3px,#d17290 512.3px 515.8px,#2370bb 515.8px 517.5px,#eecad5 517.5px 519.3px,#e8b8c8 519.3px 521.0px,#d17290 521.0px 522.8px,#2370bb 522.8px 524.5px,#d17290 524.5px 526.3px,#f6e5ea 526.3px 528.1px,#2370bb 528.1px 538.6px,#d17290 538.6px 540.3px,#2370bb 540.3px 542.1px,#fcf6f8 542.1px 543.8px,#2370bb 543.8px 545.6px,#d17290 545.6px 547.3px,#2370bb 547.3px 549.1px,#d17290 549.1px 552.6px,#fcf6f8 552.6px 554.4px,#2370bb 554.4px 573.6px,#d17290 573.6px 575.4px,#e4edf6 575.4px 577.1px,#2370bb 577.1px 585.9px,#4c8bc8 585.9px 587.7px,#2370bb 587.7px 591.2px,#eecad5 591.2px 592.9px,#d17290 592.9px 594.7px,#2370bb 594.7px 596.4px,#e4edf6 596.4px 598.2px,#2370bb 598.2px 610.4px,#d17290 610.4px 614.0px,#76a6d4 614.0px 615.7px,#2370bb 615.7px 619.2px,#f9edf1 619.2px 621.0px,#2370bb 621.0px 622.7px,#d17290 622.7px 624.5px,#2370bb 624.5px 626.2px,#d17290 626.2px 628.0px,#3179bf 628.0px 629.7px,#d17290 629.7px 631.5px,#2370bb 631.5px 635.0px,#d17290 635.0px 638.5px,#2370bb 638.5px 642.0px,#d17290 642.0px 643.8px,#2370bb 643.8px 647.3px,#acc9e6 647.3px 649.0px,#2370bb 649.0px 650.8px,#d17290 650.8px 652.5px,#2370bb 652.5px 654.3px,#da8ca5 654.3px 656.0px,#d6e4f2 656.0px 657.8px,#2370bb 657.8px 659.5px,#d7849e 659.5px 661.3px,#2370bb 661.3px 663.0px,#3179bf 663.0px 664.8px,#2370bb 664.8px 666.5px,#acc9e6 666.5px 668.3px,#2370bb 668.3px 687.6px,#f9edf1 687.6px 689.3px,#2370bb 689.3px 692.8px,#d17290 692.8px 696.3px,#da8ca5 696.3px 698.1px,#c8dbee 698.1px 699.9px,#2370bb 699.9px 706.9px,#d17290 706.9px 708.6px,#e5b0c1 708.6px 710.4px,#2370bb 710.4px 713.9px,#d17290 713.9px 717.4px,#2370bb 717.4px 722.6px,#d17290 722.6px 724.4px,#2370bb 724.4px 727.9px,#ebc1ce 727.9px 729.7px,#d17290 729.7px 733.2px,#5a94cc 733.2px 734.9px,#d17290 734.9px 736.7px,#83afd9 736.7px 738.4px,#2370bb 738.4px 740.2px,#f4dce3 740.2px 741.9px,#da8ca5 741.9px 743.7px,#2370bb 743.7px 745.4px,#d17290 745.4px 747.2px,#f6e5ea 747.2px 748.9px,#df9eb3 748.9px 750.7px,#d17290 750.7px 756.0px,#2370bb 756.0px 763.0px,#d17290 763.0px 766.5px,#2370bb 766.5px 768.2px,#d17290 768.2px 770.0px,#f1d3dc 770.0px 771.7px,#d17290 771.7px 773.5px,#2370bb 773.5px 775.2px,#f6e5ea 775.2px 777.0px,#76a6d4 777.0px 778.7px,#2370bb 778.7px 780.5px,#d17290 780.5px 784.0px,#2370bb 784.0px 810.2px,#d17290 810.2px 811.9px,#2370bb 811.9px 818.9px,#5a94cc 818.9px 820.7px,#d17290 820.7px 822.4px,#2370bb 822.4px 839.9px,#d17290 839.9px 843.4px,#2370bb 843.4px 859.1px,#d17290 859.1px 860.9px,#2370bb 860.9px 862.6px,#d17290 862.6px 864.4px,#2370bb 864.4px 874.8px,#76a6d4 874.8px 876.6px,#2370bb 876.6px 888.8px,#d17290 888.8px 890.6px,#2370bb 890.6px 897.5px,#ebc1ce 897.5px 899.3px,#d17290 899.3px 901.0px,#2370bb 901.0px 904.5px,#d17290 904.5px 906.3px,#2370bb 906.3px 915.0px,#bad2ea 915.0px 916.8px,#d17290 916.8px 918.5px,#2370bb 918.5px 925.5px,#e4edf6 925.5px 927.2px,#f6e5ea 927.2px 929.0px,#acc9e6 929.0px 930.7px,#2370bb 930.7px 934.2px,#d17290 934.2px 936.0px,#2370bb 936.0px 955.2px,#d6e4f2 955.2px 956.9px,#2370bb 956.9px 970.9px,#d17290 970.9px 972.6px,#2370bb 972.6px 979.6px,#d6e4f2 979.6px 981.4px,#2370bb 981.4px 984.9px,#d17290 984.9px 986.6px,#2370bb 986.6px 997.1px,#bad2ea 997.1px 998.9px,#2370bb 998.9px 1000.6px,#c8dbee 1000.6px 1002.3px,#2370bb 1002.3px 1005.8px,#d7849e 1005.8px 1007.6px,#2370bb 1007.6px 1009.3px,#ebc1ce 1009.3px 1011.1px,#2370bb 1011.1px 1012.8px,#d6e4f2 1012.8px 1014.6px,#2370bb 1014.6px 1016.3px,#76a6d4 1016.3px 1018.1px,#2370bb 1018.1px 1023.3px,#c8dbee 1023.3px 1025.1px,#2370bb 1025.1px 1033.8px,#f1f6fb 1033.8px 1035.5px,#2370bb 1035.5px 1037.3px,#d17290 1037.3px 1039.0px,#2370bb 1039.0px 1053.0px)"></div>
<div class="v" style="left:615.0px"></div><div class="v" style="left:841.0px"></div><div class="v" style="left:1128.3px"></div>
<svg width="1532" height="1593" viewBox="0 0 1532 1593">
<text x="15.5" y="36.7" font-size="31.0">a.</text>
<text x="459.0" y="40.7" font-size="24.5">20-35</text>
<text x="705.6" y="40.7" font-size="24.5">36-41</text>
<text x="956.8" y="40.7" font-size="24.5">42-50</text>
<text x="1241.5" y="40.7" font-size="24.5">≥51</text>
<rect x="347.0" y="47" width="270.7" height="15" fill="#3a4f9c"/>
<rect x="617.7" y="47" width="225.8" height="15" fill="#e04a4a"/>
<rect x="843.5" y="47" width="287.5" height="15" fill="#219346"/>
<rect x="1131.0" y="47" width="269.0" height="15" fill="#637f8a"/>
<text x="341.5" y="87.7" font-size="24.9" text-anchor="end">Choline</text>
<text x="341.5" y="119.1" font-size="24.9" text-anchor="end">Pyroglutamic acid</text>
<text x="341.5" y="150.5" font-size="24.9" text-anchor="end">LPC</text>
<text x="341.5" y="182.7" font-size="24.9" text-anchor="end">LPE</text>
<text x="341.5" y="211.7" font-size="24.9" text-anchor="end">Tridecanoylcarnitine</text>
<text x="341.5" y="242.7" font-size="24.9" text-anchor="end">Citrulline</text>
<text x="341.5" y="274.5" font-size="24.9" text-anchor="end">Hippuric acid</text>
<text x="341.5" y="306.3" font-size="24.9" text-anchor="end">Symmetric dimethylarginine</text>
<text x="341.5" y="340.2" font-size="24.9" text-anchor="end">Citric acid</text>
<text x="341.5" y="369.1" font-size="24.9" text-anchor="end">Asymmetric dimethylarginine</text>
<text x="341.5" y="402.2" font-size="24.9" text-anchor="end">Cystine</text>
<text x="341.5" y="434.9" font-size="24.9" text-anchor="end">CE</text>
<text x="341.5" y="462.6" font-size="24.9" text-anchor="end">Cer</text>
<text x="341.5" y="496.9" font-size="24.9" text-anchor="end">DG</text>
<text x="341.5" y="532.0" font-size="24.9" text-anchor="end">SM</text>
<text x="341.5" y="559.4" font-size="24.9" text-anchor="end">TG</text>
<text x="341.5" y="593.6" font-size="24.9" text-anchor="end">FA</text>
<text x="341.5" y="624.1" font-size="24.9" text-anchor="end">PI</text>
<text x="341.5" y="655.6" font-size="24.9" text-anchor="end">PC</text>
<text x="341.5" y="686.5" font-size="24.9" text-anchor="end">PE PE-O</text>
<text x="341.5" y="715.7" font-size="24.9" text-anchor="end">Hypoxanthine</text>
<text x="341.5" y="746.6" font-size="24.9" text-anchor="end">17-Hydroxyprogesterone</text>
<text x="341.5" y="779.4" font-size="24.9" text-anchor="end">LPC-O</text>
<text x="341.5" y="809.4" font-size="24.9" text-anchor="end">PC-O</text>
<text x="341.5" y="840.4" font-size="24.9" text-anchor="end">PE-O</text>
<defs><linearGradient id="cb" x1="0" y1="0" x2="0" y2="1"><stop offset="0" stop-color="#d17290"/><stop offset="0.5" stop-color="#ffffff"/><stop offset="1" stop-color="#2370bb"/></linearGradient></defs>
<rect x="1416.3" y="77.8" width="18" height="463.5" fill="url(#cb)"/>
<text x="1441.0" y="88.6" font-size="24.5">1</text>
<text x="1441.0" y="204.1" font-size="24.5">0.5</text>
<text x="1441.0" y="320.0" font-size="24.5">0</text>
<text x="1441.0" y="435.9" font-size="24.5">-0.5</text>
<text x="1441.0" y="551.8" font-size="24.5">-1</text>
<text transform="translate(1498.3,148.0) rotate(90)" font-size="24.83">Relative concentration (Z-score)</text>
<text x="16.0" y="895.5" font-size="31.0">b.</text>
<line x1="341.6" y1="903.5" x2="341.6" y2="1512.5" stroke="#9a9a9a" stroke-width="1.2"/>
<line x1="98.4" y1="1208.4" x2="707.3" y2="1208.4" stroke="#8f8f8f" stroke-width="1.2"/>
<ellipse cx="341.8" cy="1208.4" rx="199" ry="146" fill="none" stroke="#d6d6d6" stroke-width="1.15"/>
<g fill="#1a7d3a" stroke="#141414" stroke-width="1.2"><circle cx="297.1" cy="1113.3" r="8.2"/><circle cx="302.1" cy="1151.5" r="8.2"/><circle cx="230.5" cy="1156.5" r="8.2"/><circle cx="265.4" cy="1169.3" r="8.2"/><circle cx="274.3" cy="1173.2" r="8.2"/><circle cx="282.6" cy="1179.8" r="8.2"/><circle cx="226.6" cy="1184.3" r="8.2"/><circle cx="248.8" cy="1188.7" r="8.2"/><circle cx="201.1" cy="1193.2" r="8.2"/><circle cx="235.5" cy="1194.3" r="8.2"/><circle cx="266.5" cy="1194.3" r="8.2"/><circle cx="298.7" cy="1183.2" r="8.2"/><circle cx="310.9" cy="1179.8" r="8.2"/><circle cx="320.9" cy="1169.9" r="8.2"/><circle cx="361.1" cy="1123.8" r="8.2"/><circle cx="373.3" cy="1194.8" r="8.2"/><circle cx="207.2" cy="1207.2" r="8.2"/><circle cx="213.3" cy="1205.5" r="8.2"/><circle cx="216.6" cy="1219.4" r="8.2"/><circle cx="206.1" cy="1233.8" r="8.2"/><circle cx="213.3" cy="1248.8" r="8.2"/><circle cx="216.6" cy="1238.3" r="8.2"/><circle cx="227.7" cy="1221.6" r="8.2"/><circle cx="234.9" cy="1229.4" r="8.2"/><circle cx="232.2" cy="1205.0" r="8.2"/><circle cx="234.9" cy="1195.5" r="8.2"/><circle cx="224.4" cy="1187.2" r="8.2"/><circle cx="249.9" cy="1208.3" r="8.2"/><circle cx="246.0" cy="1217.2" r="8.2"/><circle cx="231.0" cy="1244.9" r="8.2"/><circle cx="236.6" cy="1250.5" r="8.2"/><circle cx="246.6" cy="1238.3" r="8.2"/><circle cx="249.9" cy="1260.5" r="8.2"/><circle cx="242.1" cy="1273.8" r="8.2"/><circle cx="204.4" cy="1276.5" r="8.2"/><circle cx="225.5" cy="1277.7" r="8.2"/><circle cx="248.8" cy="1269.3" r="8.2"/><circle cx="261.6" cy="1236.6" r="8.2"/><circle cx="259.9" cy="1230.5" r="8.2"/><circle cx="256.6" cy="1247.1" r="8.2"/><circle cx="267.7" cy="1261.6" r="8.2"/><circle cx="276.5" cy="1263.8" r="8.2"/><circle cx="266.6" cy="1195.0" r="8.2"/><circle cx="262.1" cy="1198.3" r="8.2"/><circle cx="269.9" cy="1211.6" r="8.2"/><circle cx="275.4" cy="1221.6" r="8.2"/><circle cx="283.2" cy="1205.0" r="8.2"/><circle cx="291.0" cy="1192.8" r="8.2"/><circle cx="277.6" cy="1231.6" r="8.2"/><circle cx="276.5" cy="1240.5" r="8.2"/><circle cx="281.0" cy="1249.4" r="8.2"/><circle cx="292.1" cy="1218.3" r="8.2"/><circle cx="295.4" cy="1250.5" r="8.2"/><circle cx="297.6" cy="1262.7" r="8.2"/><circle cx="307.6" cy="1217.2" r="8.2"/><circle cx="310.9" cy="1228.3" r="8.2"/><circle cx="305.4" cy="1257.1" r="8.2"/><circle cx="312.6" cy="1254.9" r="8.2"/><circle cx="324.3" cy="1227.2" r="8.2"/><circle cx="327.6" cy="1252.7" r="8.2"/><circle cx="327.6" cy="1261.6" r="8.2"/><circle cx="309.8" cy="1200.5" r="8.2"/><circle cx="268.8" cy="1281.5" r="8.2"/><circle cx="277.6" cy="1282.6" r="8.2"/><circle cx="282.1" cy="1287.1" r="8.2"/><circle cx="304.3" cy="1287.1" r="8.2"/><circle cx="317.6" cy="1276.0" r="8.2"/><circle cx="334.8" cy="1280.4" r="8.2"/><circle cx="329.8" cy="1292.6" r="8.2"/><circle cx="244.9" cy="1301.5" r="8.2"/><circle cx="252.1" cy="1315.0" r="8.2"/><circle cx="252.1" cy="1312.6" r="8.2"/><circle cx="277.6" cy="1307.6" r="8.2"/><circle cx="302.1" cy="1307.1" r="8.2"/><circle cx="336.5" cy="1308.2" r="8.2"/><circle cx="339.8" cy="1309.3" r="8.2"/><circle cx="376.6" cy="1201.6" r="8.2"/><circle cx="374.4" cy="1207.2" r="8.2"/><circle cx="396.6" cy="1211.6" r="8.2"/><circle cx="406.6" cy="1241.0" r="8.2"/><circle cx="411.0" cy="1247.1" r="8.2"/><circle cx="421.5" cy="1254.4" r="8.2"/><circle cx="382.2" cy="1245.5" r="8.2"/><circle cx="370.0" cy="1256.0" r="8.2"/><circle cx="381.0" cy="1272.7" r="8.2"/><circle cx="372.2" cy="1271.5" r="8.2"/><circle cx="374.9" cy="1301.5" r="8.2"/><circle cx="426.0" cy="1316.5" r="8.2"/><circle cx="350.0" cy="1225.0" r="8.2"/><circle cx="343.3" cy="1247.1" r="8.2"/><circle cx="333.3" cy="1262.7" r="8.2"/><circle cx="335.5" cy="1280.4" r="8.2"/><circle cx="340.0" cy="1309.3" r="8.2"/><circle cx="342.0" cy="1347.7" r="8.2"/><circle cx="444.2" cy="1339.8" r="8.2"/><circle cx="412.6" cy="1395.0" r="8.2"/><circle cx="237.9" cy="1186.2" r="8.2"/><circle cx="255.5" cy="1220.8" r="8.2"/><circle cx="223.2" cy="1227.9" r="8.2"/><circle cx="272.5" cy="1225.0" r="8.2"/><circle cx="323.7" cy="1190.5" r="8.2"/><circle cx="332.5" cy="1208.0" r="8.2"/><circle cx="327.4" cy="1237.4" r="8.2"/></g>
<g fill="#b993c6" stroke="#201820" stroke-width="1.2"><circle cx="269.3" cy="1075.0" r="8.2"/><circle cx="318.7" cy="1082.7" r="8.2"/><circle cx="289.9" cy="1103.8" r="8.2"/><circle cx="315.4" cy="1118.8" r="8.2"/><circle cx="337.0" cy="1119.9" r="8.2"/><circle cx="306.0" cy="1129.9" r="8.2"/><circle cx="319.3" cy="1133.2" r="8.2"/><circle cx="335.9" cy="1138.8" r="8.2"/><circle cx="326.5" cy="1147.7" r="8.2"/><circle cx="312.0" cy="1158.2" r="8.2"/><circle cx="308.2" cy="1169.9" r="8.2"/><circle cx="335.3" cy="1165.4" r="8.2"/><circle cx="336.5" cy="1181.0" r="8.2"/><circle cx="303.2" cy="1189.8" r="8.2"/><circle cx="325.4" cy="1196.5" r="8.2"/><circle cx="283.8" cy="1145.4" r="8.2"/><circle cx="274.3" cy="1151.5" r="8.2"/><circle cx="241.6" cy="1153.8" r="8.2"/><circle cx="229.4" cy="1163.7" r="8.2"/><circle cx="270.4" cy="1181.0" r="8.2"/><circle cx="345.5" cy="1067.2" r="8.2"/><circle cx="365.0" cy="1061.7" r="8.2"/><circle cx="350.5" cy="1082.7" r="8.2"/><circle cx="395.5" cy="1090.0" r="8.2"/><circle cx="408.8" cy="1103.8" r="8.2"/><circle cx="469.3" cy="1097.2" r="8.2"/><circle cx="483.1" cy="1116.0" r="8.2"/><circle cx="453.7" cy="1125.5" r="8.2"/><circle cx="424.3" cy="1117.7" r="8.2"/><circle cx="414.3" cy="1116.6" r="8.2"/><circle cx="422.1" cy="1120.5" r="8.2"/><circle cx="414.3" cy="1126.6" r="8.2"/><circle cx="421.5" cy="1130.5" r="8.2"/><circle cx="356.6" cy="1110.0" r="8.2"/><circle cx="366.6" cy="1113.3" r="8.2"/><circle cx="336.7" cy="1119.9" r="8.2"/><circle cx="352.2" cy="1117.7" r="8.2"/><circle cx="372.7" cy="1119.9" r="8.2"/><circle cx="376.6" cy="1119.9" r="8.2"/><circle cx="386.0" cy="1131.0" r="8.2"/><circle cx="355.5" cy="1133.2" r="8.2"/><circle cx="368.8" cy="1132.1" r="8.2"/><circle cx="336.7" cy="1138.8" r="8.2"/><circle cx="350.5" cy="1148.8" r="8.2"/><circle cx="374.4" cy="1144.3" r="8.2"/><circle cx="381.0" cy="1146.6" r="8.2"/><circle cx="376.6" cy="1153.8" r="8.2"/><circle cx="385.5" cy="1159.9" r="8.2"/><circle cx="364.4" cy="1162.1" r="8.2"/><circle cx="335.5" cy="1165.4" r="8.2"/><circle cx="412.7" cy="1148.2" r="8.2"/><circle cx="436.5" cy="1143.8" r="8.2"/><circle cx="459.8" cy="1148.2" r="8.2"/><circle cx="487.6" cy="1154.9" r="8.2"/><circle cx="483.1" cy="1154.3" r="8.2"/><circle cx="401.6" cy="1169.3" r="8.2"/><circle cx="418.8" cy="1172.1" r="8.2"/><circle cx="402.7" cy="1179.3" r="8.2"/><circle cx="470.4" cy="1177.6" r="8.2"/><circle cx="464.8" cy="1175.4" r="8.2"/><circle cx="383.3" cy="1173.7" r="8.2"/><circle cx="363.3" cy="1175.4" r="8.2"/><circle cx="336.1" cy="1181.0" r="8.2"/><circle cx="375.5" cy="1180.4" r="8.2"/><circle cx="357.7" cy="1186.5" r="8.2"/><circle cx="399.4" cy="1189.3" r="8.2"/><circle cx="383.3" cy="1194.8" r="8.2"/><circle cx="401.0" cy="1196.5" r="8.2"/><circle cx="417.7" cy="1198.7" r="8.2"/><circle cx="460.9" cy="1198.7" r="8.2"/><circle cx="338.3" cy="1192.0" r="8.2"/><circle cx="515.7" cy="1142.7" r="8.2"/><circle cx="521.8" cy="1165.4" r="8.2"/><circle cx="373.6" cy="945.1" r="8.2"/><circle cx="426.1" cy="1031.2" r="8.2"/><circle cx="400.3" cy="1039.1" r="8.2"/><circle cx="365.3" cy="1059.1" r="8.2"/><circle cx="325.4" cy="1201.6" r="8.2"/><circle cx="323.1" cy="1210.5" r="8.2"/><circle cx="342.0" cy="1215.0" r="8.2"/><circle cx="335.3" cy="1226.1" r="8.2"/><circle cx="291.0" cy="1232.7" r="8.2"/><circle cx="307.6" cy="1238.3" r="8.2"/><circle cx="338.7" cy="1243.8" r="8.2"/><circle cx="346.4" cy="1239.4" r="8.2"/><circle cx="342.0" cy="1262.7" r="8.2"/><circle cx="339.8" cy="1191.7" r="8.2"/><circle cx="344.2" cy="1198.3" r="8.2"/><circle cx="338.7" cy="1294.9" r="8.2"/><circle cx="357.7" cy="1189.4" r="8.2"/><circle cx="336.7" cy="1187.2" r="8.2"/><circle cx="346.6" cy="1198.3" r="8.2"/><circle cx="360.0" cy="1198.3" r="8.2"/><circle cx="375.5" cy="1186.1" r="8.2"/><circle cx="383.3" cy="1195.5" r="8.2"/><circle cx="384.4" cy="1209.4" r="8.2"/><circle cx="399.4" cy="1189.4" r="8.2"/><circle cx="399.9" cy="1196.1" r="8.2"/><circle cx="406.6" cy="1201.6" r="8.2"/><circle cx="417.1" cy="1201.6" r="8.2"/><circle cx="424.9" cy="1203.9" r="8.2"/><circle cx="440.4" cy="1206.1" r="8.2"/><circle cx="445.4" cy="1207.7" r="8.2"/><circle cx="458.7" cy="1209.4" r="8.2"/><circle cx="460.9" cy="1200.0" r="8.2"/><circle cx="474.8" cy="1208.3" r="8.2"/><circle cx="489.2" cy="1217.2" r="8.2"/><circle cx="494.2" cy="1231.0" r="8.2"/><circle cx="401.0" cy="1217.2" r="8.2"/><circle cx="411.6" cy="1220.5" r="8.2"/><circle cx="394.4" cy="1225.0" r="8.2"/><circle cx="405.5" cy="1230.5" r="8.2"/><circle cx="433.2" cy="1227.2" r="8.2"/><circle cx="448.7" cy="1237.2" r="8.2"/><circle cx="452.1" cy="1238.8" r="8.2"/><circle cx="462.0" cy="1247.1" r="8.2"/><circle cx="433.2" cy="1249.4" r="8.2"/><circle cx="453.2" cy="1250.5" r="8.2"/><circle cx="469.8" cy="1254.9" r="8.2"/><circle cx="436.5" cy="1261.6" r="8.2"/><circle cx="443.2" cy="1257.1" r="8.2"/><circle cx="438.2" cy="1253.2" r="8.2"/><circle cx="465.9" cy="1269.9" r="8.2"/><circle cx="490.3" cy="1266.0" r="8.2"/><circle cx="484.2" cy="1274.3" r="8.2"/><circle cx="396.6" cy="1262.1" r="8.2"/><circle cx="403.2" cy="1256.6" r="8.2"/><circle cx="402.7" cy="1261.6" r="8.2"/><circle cx="381.0" cy="1248.8" r="8.2"/><circle cx="361.1" cy="1253.8" r="8.2"/><circle cx="365.0" cy="1268.8" r="8.2"/><circle cx="378.8" cy="1265.4" r="8.2"/><circle cx="355.5" cy="1278.2" r="8.2"/><circle cx="377.2" cy="1285.4" r="8.2"/><circle cx="416.6" cy="1281.0" r="8.2"/><circle cx="433.2" cy="1288.7" r="8.2"/><circle cx="458.7" cy="1289.9" r="8.2"/><circle cx="342.2" cy="1216.1" r="8.2"/><circle cx="335.5" cy="1227.2" r="8.2"/><circle cx="336.7" cy="1243.8" r="8.2"/><circle cx="349.4" cy="1241.0" r="8.2"/><circle cx="342.2" cy="1262.7" r="8.2"/><circle cx="338.9" cy="1295.4" r="8.2"/><circle cx="518.3" cy="1214.4" r="8.2"/><circle cx="512.2" cy="1231.0" r="8.2"/><circle cx="508.3" cy="1229.4" r="8.2"/><circle cx="608.2" cy="1226.1" r="8.2"/><circle cx="614.3" cy="1259.9" r="8.2"/><circle cx="592.1" cy="1308.2" r="8.2"/><circle cx="504.9" cy="1354.2" r="8.2"/><circle cx="587.6" cy="1354.2" r="8.2"/><circle cx="661.1" cy="1413.4" r="8.2"/><circle cx="314.4" cy="1125.9" r="8.2"/><circle cx="325.9" cy="1127.3" r="8.2"/><circle cx="339.5" cy="1128.8" r="8.2"/><circle cx="319.4" cy="1140.3" r="8.2"/><circle cx="354.6" cy="1148.9" r="8.2"/><circle cx="337.4" cy="1151.0" r="8.2"/><circle cx="351.0" cy="1158.2" r="8.2"/><circle cx="330.2" cy="1164.7" r="8.2"/><circle cx="341.7" cy="1165.4" r="8.2"/><circle cx="327.3" cy="1177.6" r="8.2"/><circle cx="324.5" cy="1183.3" r="8.2"/><circle cx="342.4" cy="1183.3" r="8.2"/><circle cx="356.1" cy="1176.2" r="8.2"/><circle cx="358.2" cy="1192.0" r="8.2"/></g>
<path d="M98.4 903.5H707.3V1512.5" fill="none" stroke="#000" stroke-width="1.5"/>
<path d="M98.4 909.5V1512.5H701.3" fill="none" stroke="#000" stroke-width="1.6"/>
<path d="M98.4 903.5L93.8 919.5L103.0 919.5Z" fill="#000"/>
<path d="M706.8 1512.5L690.3 1508.7L690.3 1516.3Z" fill="#000"/>
<text x="87.2" y="1518.6" font-size="25.0" text-anchor="end">−15</text>
<text x="87.2" y="1417.1" font-size="25.0" text-anchor="end">−10</text>
<text x="87.2" y="1315.6" font-size="25.0" text-anchor="end">−5</text>
<text x="87.2" y="1214.1" font-size="25.0" text-anchor="end">0</text>
<text x="87.2" y="1112.6" font-size="25.0" text-anchor="end">5</text>
<text x="87.2" y="1011.1" font-size="25.0" text-anchor="end">10</text>
<text x="101.2" y="1545.3" font-size="24.6" text-anchor="middle">−20</text>
<text x="162.9" y="1545.3" font-size="24.6" text-anchor="middle">−15</text>
<text x="225.4" y="1545.3" font-size="24.6" text-anchor="middle">−10</text>
<text x="285.1" y="1545.3" font-size="24.6" text-anchor="middle">−5</text>
<text x="343.4" y="1545.3" font-size="24.6" text-anchor="middle">0</text>
<text x="405.4" y="1545.3" font-size="24.6" text-anchor="middle">5</text>
<text x="470.5" y="1545.3" font-size="24.6" text-anchor="middle">10</text>
<text x="532.5" y="1545.3" font-size="24.6" text-anchor="middle">15</text>
<text x="594.0" y="1545.3" font-size="24.6" text-anchor="middle">20</text>
<text x="655.8" y="1545.3" font-size="24.6" text-anchor="middle">25</text>
<path d="M89.2 1512.6H98.4M89.2 1411.1H98.4M89.2 1309.6H98.4M89.2 1208.1H98.4M89.2 1106.6H98.4M89.2 1005.1H98.4M98.2 1512.5V1521.0M159.1 1512.5V1521.0M220.0 1512.5V1521.0M280.9 1512.5V1521.0M341.8 1512.5V1521.0M402.7 1512.5V1521.0M463.6 1512.5V1521.0M524.5 1512.5V1521.0M585.4 1512.5V1521.0M646.2 1512.5V1521.0" stroke="#000" stroke-width="1.5" fill="none"/>
<text x="366.0" y="1575.8" font-size="24.5">PC1</text>
<text transform="translate(53.9,1230.9) rotate(-90)" font-size="24.5">PC2</text>
<text x="540.5" y="945.8" font-size="25.0">Age groups</text>
<circle cx="550" cy="984.3" r="9" fill="#1a7d3a"/>
<text x="569.0" y="992.2" font-size="24.5">20-35</text>
<circle cx="550" cy="1035.5" r="9" fill="#b993c6"/>
<text x="569.0" y="1039.2" font-size="24.5">≥51</text>
<text x="776.5" y="895.4" font-size="31.0">c.</text>
<path d="M906.5 1475.7L906.5 1413.5L907.5 1364.8L909.5 1316.2L912.4 1267.5L915.3 1244.2L919.2 1218.9L921.1 1180.0L922.3 1154.6L929.2 1125.2L932.1 1117.4L935.5 1110.0L940.2 1099.2L943.2 1092.1L946.1 1073.3L950.2 1055.7L952.6 1050.4L954.9 1050.4L959.0 1036.9L961.4 1033.4L967.3 1028.7L970.8 1020.5L975.5 1009.9L980.2 1002.8L982.5 998.1L989.6 997.0L994.3 988.7L1000.2 985.8L1007.2 976.4L1010.7 976.4L1021.3 966.4L1026.0 965.2L1037.8 955.3L1041.3 954.7L1051.9 944.7L1075.4 943.5L1080.0 937.9L1082.0 933.9L1138.7 933.9L1147.9 930.7L1157.0 926.1L1166.2 923.2L1474.9 923.2L1474.9 923.2L1429.6 923.2L1418.1 926.7L1403.5 931.7L1381.6 933.8L1359.6 933.4L1340.8 944.3L1270.6 944.3L1254.9 948.3L1241.9 953.5L1228.8 955.1L1191.0 955.5L1177.3 965.9L1165.5 965.3L1157.0 968.5L1146.6 977.7L1129.6 986.8L1119.2 987.5L1103.5 997.9L1097.6 997.9L1089.7 1008.7L1075.4 1009.9L1069.5 1017.5L1063.6 1018.1L1056.6 1029.9L1042.5 1029.9L1036.6 1036.9L1031.9 1039.9L1028.4 1040.4L1022.5 1054.5L1017.8 1060.4L1013.7 1064.0L1010.7 1071.0L1003.7 1079.2L997.8 1092.7L994.3 1094.5L987.2 1103.9L984.9 1110.0L980.1 1123.2L972.2 1124.2L968.3 1135.0L964.4 1136.9L956.6 1162.4L954.2 1180.0L952.3 1187.8L949.3 1193.6L946.4 1209.2L943.5 1224.7L937.7 1244.2L933.8 1263.7L930.9 1269.5L927.9 1294.8L926.0 1300.6L922.1 1320.0L917.2 1343.4L913.3 1370.7L910.4 1394.0L908.5 1413.5L906.5 1475.7Z" fill="#dfe5f2"/>
<path d="M906.3 900.7V1497.3M883.6 1475.7H1497.5M963.2 900.7V1497.3M883.6 1420.5H1497.5M1020.0 900.7V1497.3M883.6 1365.2H1497.5M1076.9 900.7V1497.3M883.6 1310.0H1497.5M1133.7 900.7V1497.3M883.6 1254.7H1497.5M1190.6 900.7V1497.3M883.6 1199.5H1497.5M1247.5 900.7V1497.3M883.6 1144.3H1497.5M1304.3 900.7V1497.3M883.6 1089.0H1497.5M1361.2 900.7V1497.3M883.6 1033.8H1497.5M1418.0 900.7V1497.3M883.6 978.5H1497.5M1474.9 900.7V1497.3M883.6 923.3H1497.5" stroke="#cdcdcd" stroke-width="1.15" stroke-dasharray="2.4 2.8" fill="none"/>
<path d="M906.5 1475.7L907.5 1403.7L909.5 1374.6L913.3 1325.9L917.2 1283.1L920.2 1257.8L925.0 1234.5L930.9 1205.3L937.7 1180.0L946.8 1146.7L948.7 1131.0L956.7 1110.0L963.7 1088.6L977.8 1064.0L991.8 1041.0L1001.3 1028.7L1015.4 1011.1L1031.9 997.0L1057.7 981.7L1076.5 972.3L1095.7 964.0L1132.2 954.8L1158.3 947.6L1179.2 943.7L1217.1 939.2L1243.2 935.0L1274.0 931.3L1305.3 928.2L1336.7 925.5L1368.0 924.0L1418.0 923.2L1474.9 923.2" fill="none" stroke="#2150a8" stroke-width="3" stroke-linejoin="round"/>
<path d="M906.5 1475.7L906.5 1413.5L907.5 1364.8L909.5 1316.2L912.4 1267.5L915.3 1244.2L919.2 1218.9L921.1 1180.0L922.3 1154.6L929.2 1125.2L932.1 1117.4L935.5 1110.0L940.2 1099.2L943.2 1092.1L946.1 1073.3L950.2 1055.7L952.6 1050.4L954.9 1050.4L959.0 1036.9L961.4 1033.4L967.3 1028.7L970.8 1020.5L975.5 1009.9L980.2 1002.8L982.5 998.1L989.6 997.0L994.3 988.7L1000.2 985.8L1007.2 976.4L1010.7 976.4L1021.3 966.4L1026.0 965.2L1037.8 955.3L1041.3 954.7L1051.9 944.7L1075.4 943.5L1080.0 937.9L1082.0 933.9L1138.7 933.9L1147.9 930.7L1157.0 926.1L1166.2 923.2L1474.9 923.2" fill="none" stroke="#000" stroke-width="2.9" stroke-linejoin="round"/>
<path d="M906.5 1475.7L908.5 1413.5L910.4 1394.0L913.3 1370.7L917.2 1343.4L922.1 1320.0L926.0 1300.6L927.9 1294.8L930.9 1269.5L933.8 1263.7L937.7 1244.2L943.5 1224.7L946.4 1209.2L949.3 1193.6L952.3 1187.8L954.2 1180.0L956.6 1162.4L964.4 1136.9L968.3 1135.0L972.2 1124.2L980.1 1123.2L984.9 1110.0L987.2 1103.9L994.3 1094.5L997.8 1092.7L1003.7 1079.2L1010.7 1071.0L1013.7 1064.0L1017.8 1060.4L1022.5 1054.5L1028.4 1040.4L1031.9 1039.9L1036.6 1036.9L1042.5 1029.9L1056.6 1029.9L1063.6 1018.1L1069.5 1017.5L1075.4 1009.9L1089.7 1008.7L1097.6 997.9L1103.5 997.9L1119.2 987.5L1129.6 986.8L1146.6 977.7L1157.0 968.5L1165.5 965.3L1177.3 965.9L1191.0 955.5L1228.8 955.1L1241.9 953.5L1254.9 948.3L1270.6 944.3L1340.8 944.3L1359.6 933.4L1381.6 933.8L1403.5 931.7L1418.1 926.7L1429.6 923.2L1474.9 923.2" fill="none" stroke="#000" stroke-width="2.9" stroke-linejoin="round"/>
<rect x="883.6" y="900.7" width="613.9" height="596.6" fill="none" stroke="#000" stroke-width="1.5"/>
<text transform="translate(864.8,1480.9) rotate(-90)" font-size="24.3" text-anchor="middle">0.0</text>
<text x="901.3" y="1534.0" font-size="25.0" text-anchor="middle">0.0</text>
<text transform="translate(864.8,1370.4) rotate(-90)" font-size="24.3" text-anchor="middle">0.2</text>
<text x="1015.0" y="1534.0" font-size="25.0" text-anchor="middle">0.2</text>
<text transform="translate(864.8,1259.9) rotate(-90)" font-size="24.3" text-anchor="middle">0.4</text>
<text x="1128.7" y="1534.0" font-size="25.0" text-anchor="middle">0.4</text>
<text transform="translate(864.8,1149.5) rotate(-90)" font-size="24.3" text-anchor="middle">0.6</text>
<text x="1242.5" y="1534.0" font-size="25.0" text-anchor="middle">0.6</text>
<text transform="translate(864.8,1039.0) rotate(-90)" font-size="24.3" text-anchor="middle">0.8</text>
<text x="1356.2" y="1534.0" font-size="25.0" text-anchor="middle">0.8</text>
<text transform="translate(864.8,928.5) rotate(-90)" font-size="24.3" text-anchor="middle">1.0</text>
<text x="1469.9" y="1534.0" font-size="25.0" text-anchor="middle">1.0</text>
<path d="M873.6 1475.7H883.6M906.3 1497.3V1506.3M873.6 1365.2H883.6M1020.0 1497.3V1506.3M873.6 1254.7H883.6M1133.7 1497.3V1506.3M873.6 1144.3H883.6M1247.5 1497.3V1506.3M873.6 1033.8H883.6M1361.2 1497.3V1506.3M873.6 923.3H883.6M1474.9 1497.3V1506.3" stroke="#000" stroke-width="1.5" fill="none"/>
<text x="1209.8" y="1570.8" font-size="24.8" text-anchor="middle">1-Specificity (False positive rate)</text>
<text transform="translate(825.7,1209) rotate(-90)" font-size="25" text-anchor="middle">Sensitivity (True positive rate)</text>
<text x="1001.5" y="1169.6" font-size="24.6">Area under the curve (AUC) = 0.901</text>
<text x="1075.5" y="1198.1" font-size="24.6">95% CI: 0.849-0.938</text>
<text x="1077.5" y="1228.2" font-size="24.6">Cystine</text>
<text x="1077.5" y="1255.2" font-size="24.6">Citrulline</text>
<text x="1077.5" y="1282.8" font-size="24.6">Tridecanoylcarnitine</text>
<text x="1077.5" y="1314.8" font-size="24.6">PC(20:1_22:6)</text>
<text x="1077.5" y="1346.9" font-size="24.6">PC(16:0_18:0)</text>
<text x="1077.5" y="1380.7" font-size="24.6">TG(18:1_40:8)</text>
</svg>
</body></html>
